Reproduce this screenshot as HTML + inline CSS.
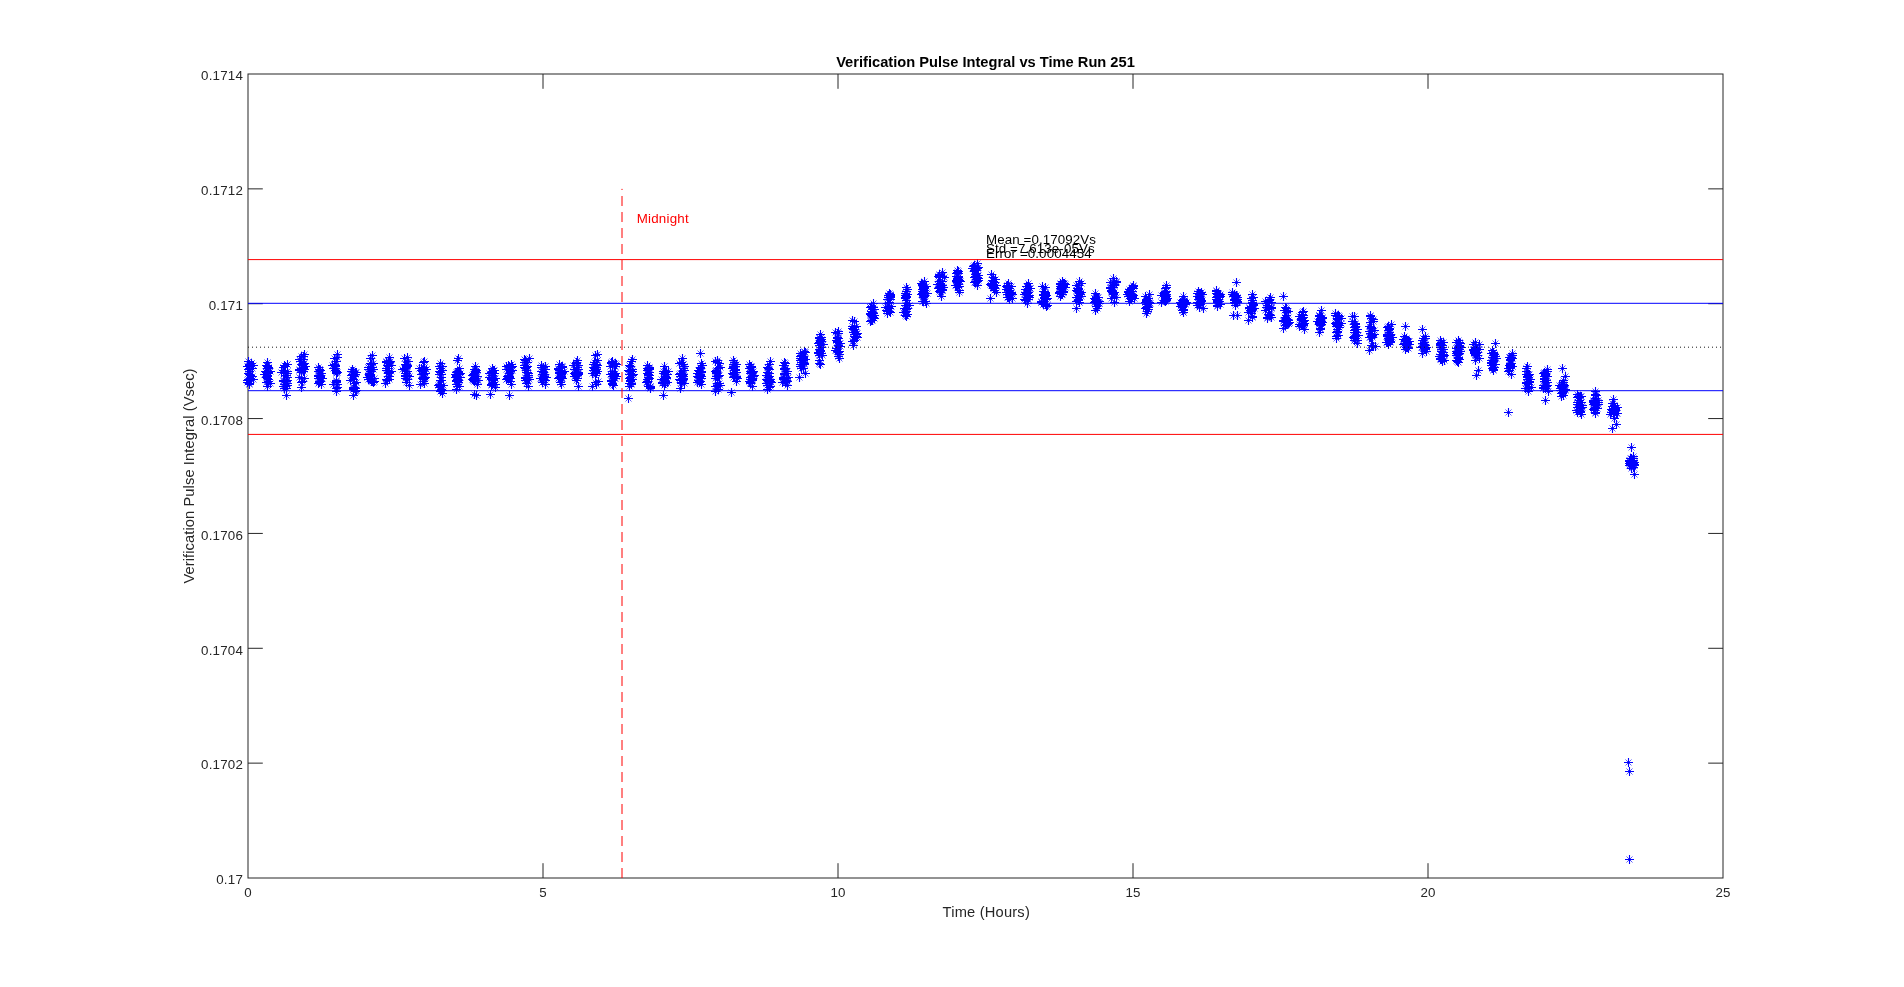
<!DOCTYPE html>
<html><head><meta charset="utf-8"><title>Verification Pulse Integral vs Time Run 251</title>
<style>
html,body{margin:0;padding:0;background:#fff;}
body{width:1904px;height:987px;overflow:hidden;}
svg{display:block;will-change:transform;}
text{font-family:"Liberation Sans",Arial,Helvetica,sans-serif;}
</style></head>
<body>
<svg width="1904" height="987" viewBox="0 0 1904 987">
<rect width="1904" height="987" fill="#fff"/>
<g fill="none" stroke="#262626" stroke-width="1">
<rect x="248" y="74" width="1475" height="804"/>
<path d="M543 878V863.2M543 74V88.8M838 878V863.2M838 74V88.8M1133 878V863.2M1133 74V88.8M1428 878V863.2M1428 74V88.8M248 763.14H262.8M1723 763.14H1708.2M248 648.29H262.8M1723 648.29H1708.2M248 533.43H262.8M1723 533.43H1708.2M248 418.57H262.8M1723 418.57H1708.2M248 303.71H262.8M1723 303.71H1708.2M248 188.86H262.8M1723 188.86H1708.2"/>
</g>
<path d="M245.1 358.1l6.8 6.8m0-6.8l-6.8 6.8M246.1 381.1l6.8 6.8m0-6.8l-6.8 6.8M250.1 362.1l6.8 6.8m0-6.8l-6.8 6.8M248.1 376.1l6.8 6.8m0-6.8l-6.8 6.8M248.1 360.1l6.8 6.8m0-6.8l-6.8 6.8M247.1 372.1l6.8 6.8m0-6.8l-6.8 6.8M246.1 368.1l6.8 6.8m0-6.8l-6.8 6.8M246.1 361.1l6.8 6.8m0-6.8l-6.8 6.8M247.1 376.1l6.8 6.8m0-6.8l-6.8 6.8M245.1 363.1l6.8 6.8m0-6.8l-6.8 6.8M244.1 377.1l6.8 6.8m0-6.8l-6.8 6.8M244.1 379.1l6.8 6.8m0-6.8l-6.8 6.8M245.1 376.1l6.8 6.8m0-6.8l-6.8 6.8M246.1 362.1l6.8 6.8m0-6.8l-6.8 6.8M249.1 365.1l6.8 6.8m0-6.8l-6.8 6.8M245.1 366.1l6.8 6.8m0-6.8l-6.8 6.8M246.1 371.1l6.8 6.8m0-6.8l-6.8 6.8M244.1 363.1l6.8 6.8m0-6.8l-6.8 6.8M248.1 360.1l6.8 6.8m0-6.8l-6.8 6.8M249.1 373.1l6.8 6.8m0-6.8l-6.8 6.8M246.1 365.1l6.8 6.8m0-6.8l-6.8 6.8M247.1 375.1l6.8 6.8m0-6.8l-6.8 6.8M246.1 366.1l6.8 6.8m0-6.8l-6.8 6.8M246.1 380.1l6.8 6.8m0-6.8l-6.8 6.8M245.1 370.1l6.8 6.8m0-6.8l-6.8 6.8M250.1 376.1l6.8 6.8m0-6.8l-6.8 6.8M264.1 359.1l6.8 6.8m0-6.8l-6.8 6.8M264.1 383.1l6.8 6.8m0-6.8l-6.8 6.8M264.1 368.1l6.8 6.8m0-6.8l-6.8 6.8M265.1 370.1l6.8 6.8m0-6.8l-6.8 6.8M264.1 370.1l6.8 6.8m0-6.8l-6.8 6.8M264.1 362.1l6.8 6.8m0-6.8l-6.8 6.8M265.1 376.1l6.8 6.8m0-6.8l-6.8 6.8M264.1 365.1l6.8 6.8m0-6.8l-6.8 6.8M265.1 378.1l6.8 6.8m0-6.8l-6.8 6.8M265.1 369.1l6.8 6.8m0-6.8l-6.8 6.8M267.1 380.1l6.8 6.8m0-6.8l-6.8 6.8M264.1 362.1l6.8 6.8m0-6.8l-6.8 6.8M263.1 369.1l6.8 6.8m0-6.8l-6.8 6.8M263.1 379.1l6.8 6.8m0-6.8l-6.8 6.8M264.1 373.1l6.8 6.8m0-6.8l-6.8 6.8M265.1 365.1l6.8 6.8m0-6.8l-6.8 6.8M263.1 374.1l6.8 6.8m0-6.8l-6.8 6.8M264.1 370.1l6.8 6.8m0-6.8l-6.8 6.8M267.1 368.1l6.8 6.8m0-6.8l-6.8 6.8M261.1 371.1l6.8 6.8m0-6.8l-6.8 6.8M262.1 368.1l6.8 6.8m0-6.8l-6.8 6.8M264.1 363.1l6.8 6.8m0-6.8l-6.8 6.8M264.1 375.1l6.8 6.8m0-6.8l-6.8 6.8M264.1 372.1l6.8 6.8m0-6.8l-6.8 6.8M263.1 362.1l6.8 6.8m0-6.8l-6.8 6.8M265.1 364.1l6.8 6.8m0-6.8l-6.8 6.8M284.1 361.1l6.8 6.8m0-6.8l-6.8 6.8M283.1 392.1l6.8 6.8m0-6.8l-6.8 6.8M284.1 377.1l6.8 6.8m0-6.8l-6.8 6.8M280.1 378.1l6.8 6.8m0-6.8l-6.8 6.8M282.1 383.1l6.8 6.8m0-6.8l-6.8 6.8M280.1 377.1l6.8 6.8m0-6.8l-6.8 6.8M283.1 385.1l6.8 6.8m0-6.8l-6.8 6.8M284.1 374.1l6.8 6.8m0-6.8l-6.8 6.8M280.1 367.1l6.8 6.8m0-6.8l-6.8 6.8M284.1 370.1l6.8 6.8m0-6.8l-6.8 6.8M283.1 378.1l6.8 6.8m0-6.8l-6.8 6.8M281.1 385.1l6.8 6.8m0-6.8l-6.8 6.8M278.1 369.1l6.8 6.8m0-6.8l-6.8 6.8M284.1 382.1l6.8 6.8m0-6.8l-6.8 6.8M281.1 362.1l6.8 6.8m0-6.8l-6.8 6.8M281.1 377.1l6.8 6.8m0-6.8l-6.8 6.8M282.1 363.1l6.8 6.8m0-6.8l-6.8 6.8M282.1 370.1l6.8 6.8m0-6.8l-6.8 6.8M284.1 382.1l6.8 6.8m0-6.8l-6.8 6.8M280.1 383.1l6.8 6.8m0-6.8l-6.8 6.8M283.1 372.1l6.8 6.8m0-6.8l-6.8 6.8M284.1 368.1l6.8 6.8m0-6.8l-6.8 6.8M284.1 380.1l6.8 6.8m0-6.8l-6.8 6.8M281.1 381.1l6.8 6.8m0-6.8l-6.8 6.8M280.1 364.1l6.8 6.8m0-6.8l-6.8 6.8M283.1 378.1l6.8 6.8m0-6.8l-6.8 6.8M284.1 361.1l6.8 6.8m0-6.8l-6.8 6.8M301.1 351.1l6.8 6.8m0-6.8l-6.8 6.8M298.1 384.1l6.8 6.8m0-6.8l-6.8 6.8M298.1 353.1l6.8 6.8m0-6.8l-6.8 6.8M298.1 361.1l6.8 6.8m0-6.8l-6.8 6.8M297.1 358.1l6.8 6.8m0-6.8l-6.8 6.8M299.1 378.1l6.8 6.8m0-6.8l-6.8 6.8M298.1 369.1l6.8 6.8m0-6.8l-6.8 6.8M300.1 360.1l6.8 6.8m0-6.8l-6.8 6.8M296.1 374.1l6.8 6.8m0-6.8l-6.8 6.8M300.1 365.1l6.8 6.8m0-6.8l-6.8 6.8M298.1 379.1l6.8 6.8m0-6.8l-6.8 6.8M296.1 366.1l6.8 6.8m0-6.8l-6.8 6.8M301.1 375.1l6.8 6.8m0-6.8l-6.8 6.8M299.1 362.1l6.8 6.8m0-6.8l-6.8 6.8M296.1 356.1l6.8 6.8m0-6.8l-6.8 6.8M298.1 365.1l6.8 6.8m0-6.8l-6.8 6.8M300.1 353.1l6.8 6.8m0-6.8l-6.8 6.8M299.1 365.1l6.8 6.8m0-6.8l-6.8 6.8M301.1 366.1l6.8 6.8m0-6.8l-6.8 6.8M301.1 360.1l6.8 6.8m0-6.8l-6.8 6.8M300.1 364.1l6.8 6.8m0-6.8l-6.8 6.8M300.1 368.1l6.8 6.8m0-6.8l-6.8 6.8M302.1 363.1l6.8 6.8m0-6.8l-6.8 6.8M300.1 361.1l6.8 6.8m0-6.8l-6.8 6.8M300.1 356.1l6.8 6.8m0-6.8l-6.8 6.8M296.1 367.1l6.8 6.8m0-6.8l-6.8 6.8M315.1 364.1l6.8 6.8m0-6.8l-6.8 6.8M318.1 381.1l6.8 6.8m0-6.8l-6.8 6.8M315.1 375.1l6.8 6.8m0-6.8l-6.8 6.8M316.1 378.1l6.8 6.8m0-6.8l-6.8 6.8M315.1 380.1l6.8 6.8m0-6.8l-6.8 6.8M316.1 378.1l6.8 6.8m0-6.8l-6.8 6.8M316.1 372.1l6.8 6.8m0-6.8l-6.8 6.8M317.1 374.1l6.8 6.8m0-6.8l-6.8 6.8M315.1 373.1l6.8 6.8m0-6.8l-6.8 6.8M315.1 368.1l6.8 6.8m0-6.8l-6.8 6.8M318.1 375.1l6.8 6.8m0-6.8l-6.8 6.8M317.1 373.1l6.8 6.8m0-6.8l-6.8 6.8M316.1 366.1l6.8 6.8m0-6.8l-6.8 6.8M317.1 374.1l6.8 6.8m0-6.8l-6.8 6.8M318.1 370.1l6.8 6.8m0-6.8l-6.8 6.8M316.1 379.1l6.8 6.8m0-6.8l-6.8 6.8M317.1 374.1l6.8 6.8m0-6.8l-6.8 6.8M316.1 366.1l6.8 6.8m0-6.8l-6.8 6.8M317.1 372.1l6.8 6.8m0-6.8l-6.8 6.8M317.1 367.1l6.8 6.8m0-6.8l-6.8 6.8M317.1 378.1l6.8 6.8m0-6.8l-6.8 6.8M315.1 372.1l6.8 6.8m0-6.8l-6.8 6.8M319.1 375.1l6.8 6.8m0-6.8l-6.8 6.8M316.1 372.1l6.8 6.8m0-6.8l-6.8 6.8M318.1 375.1l6.8 6.8m0-6.8l-6.8 6.8M317.1 367.1l6.8 6.8m0-6.8l-6.8 6.8M334.1 351.1l6.8 6.8m0-6.8l-6.8 6.8M333.1 388.1l6.8 6.8m0-6.8l-6.8 6.8M331.1 361.1l6.8 6.8m0-6.8l-6.8 6.8M333.1 377.1l6.8 6.8m0-6.8l-6.8 6.8M333.1 378.1l6.8 6.8m0-6.8l-6.8 6.8M334.1 369.1l6.8 6.8m0-6.8l-6.8 6.8M334.1 384.1l6.8 6.8m0-6.8l-6.8 6.8M333.1 369.1l6.8 6.8m0-6.8l-6.8 6.8M334.1 381.1l6.8 6.8m0-6.8l-6.8 6.8M333.1 370.1l6.8 6.8m0-6.8l-6.8 6.8M333.1 379.1l6.8 6.8m0-6.8l-6.8 6.8M333.1 368.1l6.8 6.8m0-6.8l-6.8 6.8M332.1 363.1l6.8 6.8m0-6.8l-6.8 6.8M334.1 354.1l6.8 6.8m0-6.8l-6.8 6.8M331.1 355.1l6.8 6.8m0-6.8l-6.8 6.8M331.1 362.1l6.8 6.8m0-6.8l-6.8 6.8M333.1 358.1l6.8 6.8m0-6.8l-6.8 6.8M330.1 381.1l6.8 6.8m0-6.8l-6.8 6.8M332.1 365.1l6.8 6.8m0-6.8l-6.8 6.8M329.1 362.1l6.8 6.8m0-6.8l-6.8 6.8M331.1 362.1l6.8 6.8m0-6.8l-6.8 6.8M333.1 368.1l6.8 6.8m0-6.8l-6.8 6.8M333.1 385.1l6.8 6.8m0-6.8l-6.8 6.8M332.1 362.1l6.8 6.8m0-6.8l-6.8 6.8M332.1 367.1l6.8 6.8m0-6.8l-6.8 6.8M330.1 365.1l6.8 6.8m0-6.8l-6.8 6.8M349.1 366.1l6.8 6.8m0-6.8l-6.8 6.8M350.1 392.1l6.8 6.8m0-6.8l-6.8 6.8M353.1 387.1l6.8 6.8m0-6.8l-6.8 6.8M349.1 371.1l6.8 6.8m0-6.8l-6.8 6.8M352.1 371.1l6.8 6.8m0-6.8l-6.8 6.8M351.1 380.1l6.8 6.8m0-6.8l-6.8 6.8M350.1 386.1l6.8 6.8m0-6.8l-6.8 6.8M350.1 368.1l6.8 6.8m0-6.8l-6.8 6.8M352.1 388.1l6.8 6.8m0-6.8l-6.8 6.8M349.1 372.1l6.8 6.8m0-6.8l-6.8 6.8M348.1 368.1l6.8 6.8m0-6.8l-6.8 6.8M350.1 376.1l6.8 6.8m0-6.8l-6.8 6.8M352.1 387.1l6.8 6.8m0-6.8l-6.8 6.8M348.1 372.1l6.8 6.8m0-6.8l-6.8 6.8M350.1 372.1l6.8 6.8m0-6.8l-6.8 6.8M353.1 379.1l6.8 6.8m0-6.8l-6.8 6.8M352.1 369.1l6.8 6.8m0-6.8l-6.8 6.8M351.1 384.1l6.8 6.8m0-6.8l-6.8 6.8M353.1 369.1l6.8 6.8m0-6.8l-6.8 6.8M350.1 384.1l6.8 6.8m0-6.8l-6.8 6.8M350.1 385.1l6.8 6.8m0-6.8l-6.8 6.8M347.1 377.1l6.8 6.8m0-6.8l-6.8 6.8M351.1 373.1l6.8 6.8m0-6.8l-6.8 6.8M352.1 385.1l6.8 6.8m0-6.8l-6.8 6.8M350.1 371.1l6.8 6.8m0-6.8l-6.8 6.8M350.1 371.1l6.8 6.8m0-6.8l-6.8 6.8M369.1 352.1l6.8 6.8m0-6.8l-6.8 6.8M370.1 379.1l6.8 6.8m0-6.8l-6.8 6.8M366.1 371.1l6.8 6.8m0-6.8l-6.8 6.8M368.1 368.1l6.8 6.8m0-6.8l-6.8 6.8M365.1 366.1l6.8 6.8m0-6.8l-6.8 6.8M371.1 375.1l6.8 6.8m0-6.8l-6.8 6.8M365.1 376.1l6.8 6.8m0-6.8l-6.8 6.8M365.1 364.1l6.8 6.8m0-6.8l-6.8 6.8M367.1 360.1l6.8 6.8m0-6.8l-6.8 6.8M370.1 366.1l6.8 6.8m0-6.8l-6.8 6.8M368.1 366.1l6.8 6.8m0-6.8l-6.8 6.8M365.1 364.1l6.8 6.8m0-6.8l-6.8 6.8M368.1 361.1l6.8 6.8m0-6.8l-6.8 6.8M366.1 370.1l6.8 6.8m0-6.8l-6.8 6.8M366.1 372.1l6.8 6.8m0-6.8l-6.8 6.8M371.1 378.1l6.8 6.8m0-6.8l-6.8 6.8M368.1 378.1l6.8 6.8m0-6.8l-6.8 6.8M369.1 364.1l6.8 6.8m0-6.8l-6.8 6.8M369.1 378.1l6.8 6.8m0-6.8l-6.8 6.8M367.1 373.1l6.8 6.8m0-6.8l-6.8 6.8M368.1 364.1l6.8 6.8m0-6.8l-6.8 6.8M367.1 355.1l6.8 6.8m0-6.8l-6.8 6.8M364.1 374.1l6.8 6.8m0-6.8l-6.8 6.8M367.1 376.1l6.8 6.8m0-6.8l-6.8 6.8M370.1 360.1l6.8 6.8m0-6.8l-6.8 6.8M367.1 368.1l6.8 6.8m0-6.8l-6.8 6.8M386.1 354.1l6.8 6.8m0-6.8l-6.8 6.8M382.1 380.1l6.8 6.8m0-6.8l-6.8 6.8M386.1 359.1l6.8 6.8m0-6.8l-6.8 6.8M385.1 360.1l6.8 6.8m0-6.8l-6.8 6.8M386.1 376.1l6.8 6.8m0-6.8l-6.8 6.8M385.1 370.1l6.8 6.8m0-6.8l-6.8 6.8M383.1 359.1l6.8 6.8m0-6.8l-6.8 6.8M385.1 358.1l6.8 6.8m0-6.8l-6.8 6.8M387.1 358.1l6.8 6.8m0-6.8l-6.8 6.8M384.1 362.1l6.8 6.8m0-6.8l-6.8 6.8M383.1 376.1l6.8 6.8m0-6.8l-6.8 6.8M383.1 365.1l6.8 6.8m0-6.8l-6.8 6.8M383.1 359.1l6.8 6.8m0-6.8l-6.8 6.8M385.1 363.1l6.8 6.8m0-6.8l-6.8 6.8M388.1 362.1l6.8 6.8m0-6.8l-6.8 6.8M386.1 373.1l6.8 6.8m0-6.8l-6.8 6.8M385.1 373.1l6.8 6.8m0-6.8l-6.8 6.8M388.1 368.1l6.8 6.8m0-6.8l-6.8 6.8M384.1 365.1l6.8 6.8m0-6.8l-6.8 6.8M384.1 377.1l6.8 6.8m0-6.8l-6.8 6.8M386.1 373.1l6.8 6.8m0-6.8l-6.8 6.8M386.1 369.1l6.8 6.8m0-6.8l-6.8 6.8M383.1 367.1l6.8 6.8m0-6.8l-6.8 6.8M383.1 358.1l6.8 6.8m0-6.8l-6.8 6.8M385.1 365.1l6.8 6.8m0-6.8l-6.8 6.8M385.1 369.1l6.8 6.8m0-6.8l-6.8 6.8M404.1 354.1l6.8 6.8m0-6.8l-6.8 6.8M406.1 382.1l6.8 6.8m0-6.8l-6.8 6.8M403.1 361.1l6.8 6.8m0-6.8l-6.8 6.8M403.1 370.1l6.8 6.8m0-6.8l-6.8 6.8M404.1 363.1l6.8 6.8m0-6.8l-6.8 6.8M403.1 364.1l6.8 6.8m0-6.8l-6.8 6.8M405.1 358.1l6.8 6.8m0-6.8l-6.8 6.8M401.1 355.1l6.8 6.8m0-6.8l-6.8 6.8M402.1 361.1l6.8 6.8m0-6.8l-6.8 6.8M399.1 366.1l6.8 6.8m0-6.8l-6.8 6.8M404.1 368.1l6.8 6.8m0-6.8l-6.8 6.8M402.1 361.1l6.8 6.8m0-6.8l-6.8 6.8M404.1 362.1l6.8 6.8m0-6.8l-6.8 6.8M406.1 373.1l6.8 6.8m0-6.8l-6.8 6.8M403.1 364.1l6.8 6.8m0-6.8l-6.8 6.8M402.1 372.1l6.8 6.8m0-6.8l-6.8 6.8M402.1 375.1l6.8 6.8m0-6.8l-6.8 6.8M401.1 365.1l6.8 6.8m0-6.8l-6.8 6.8M402.1 373.1l6.8 6.8m0-6.8l-6.8 6.8M404.1 376.1l6.8 6.8m0-6.8l-6.8 6.8M403.1 361.1l6.8 6.8m0-6.8l-6.8 6.8M403.1 379.1l6.8 6.8m0-6.8l-6.8 6.8M402.1 370.1l6.8 6.8m0-6.8l-6.8 6.8M404.1 372.1l6.8 6.8m0-6.8l-6.8 6.8M403.1 373.1l6.8 6.8m0-6.8l-6.8 6.8M402.1 365.1l6.8 6.8m0-6.8l-6.8 6.8M421.1 358.1l6.8 6.8m0-6.8l-6.8 6.8M417.1 381.1l6.8 6.8m0-6.8l-6.8 6.8M418.1 371.1l6.8 6.8m0-6.8l-6.8 6.8M419.1 375.1l6.8 6.8m0-6.8l-6.8 6.8M419.1 367.1l6.8 6.8m0-6.8l-6.8 6.8M421.1 370.1l6.8 6.8m0-6.8l-6.8 6.8M420.1 378.1l6.8 6.8m0-6.8l-6.8 6.8M419.1 367.1l6.8 6.8m0-6.8l-6.8 6.8M420.1 376.1l6.8 6.8m0-6.8l-6.8 6.8M422.1 370.1l6.8 6.8m0-6.8l-6.8 6.8M420.1 371.1l6.8 6.8m0-6.8l-6.8 6.8M420.1 378.1l6.8 6.8m0-6.8l-6.8 6.8M422.1 374.1l6.8 6.8m0-6.8l-6.8 6.8M420.1 370.1l6.8 6.8m0-6.8l-6.8 6.8M418.1 365.1l6.8 6.8m0-6.8l-6.8 6.8M423.1 366.1l6.8 6.8m0-6.8l-6.8 6.8M423.1 366.1l6.8 6.8m0-6.8l-6.8 6.8M416.1 365.1l6.8 6.8m0-6.8l-6.8 6.8M420.1 374.1l6.8 6.8m0-6.8l-6.8 6.8M420.1 359.1l6.8 6.8m0-6.8l-6.8 6.8M421.1 364.1l6.8 6.8m0-6.8l-6.8 6.8M421.1 375.1l6.8 6.8m0-6.8l-6.8 6.8M419.1 368.1l6.8 6.8m0-6.8l-6.8 6.8M418.1 367.1l6.8 6.8m0-6.8l-6.8 6.8M420.1 374.1l6.8 6.8m0-6.8l-6.8 6.8M421.1 380.1l6.8 6.8m0-6.8l-6.8 6.8M437.1 360.1l6.8 6.8m0-6.8l-6.8 6.8M439.1 390.1l6.8 6.8m0-6.8l-6.8 6.8M437.1 369.1l6.8 6.8m0-6.8l-6.8 6.8M436.1 363.1l6.8 6.8m0-6.8l-6.8 6.8M439.1 387.1l6.8 6.8m0-6.8l-6.8 6.8M437.1 377.1l6.8 6.8m0-6.8l-6.8 6.8M437.1 381.1l6.8 6.8m0-6.8l-6.8 6.8M436.1 368.1l6.8 6.8m0-6.8l-6.8 6.8M437.1 365.1l6.8 6.8m0-6.8l-6.8 6.8M438.1 386.1l6.8 6.8m0-6.8l-6.8 6.8M438.1 371.1l6.8 6.8m0-6.8l-6.8 6.8M435.1 382.1l6.8 6.8m0-6.8l-6.8 6.8M438.1 377.1l6.8 6.8m0-6.8l-6.8 6.8M437.1 383.1l6.8 6.8m0-6.8l-6.8 6.8M436.1 381.1l6.8 6.8m0-6.8l-6.8 6.8M438.1 377.1l6.8 6.8m0-6.8l-6.8 6.8M437.1 365.1l6.8 6.8m0-6.8l-6.8 6.8M437.1 388.1l6.8 6.8m0-6.8l-6.8 6.8M438.1 374.1l6.8 6.8m0-6.8l-6.8 6.8M439.1 363.1l6.8 6.8m0-6.8l-6.8 6.8M436.1 368.1l6.8 6.8m0-6.8l-6.8 6.8M438.1 387.1l6.8 6.8m0-6.8l-6.8 6.8M436.1 384.1l6.8 6.8m0-6.8l-6.8 6.8M440.1 382.1l6.8 6.8m0-6.8l-6.8 6.8M436.1 371.1l6.8 6.8m0-6.8l-6.8 6.8M439.1 367.1l6.8 6.8m0-6.8l-6.8 6.8M455.1 355.1l6.8 6.8m0-6.8l-6.8 6.8M453.1 386.1l6.8 6.8m0-6.8l-6.8 6.8M455.1 368.1l6.8 6.8m0-6.8l-6.8 6.8M454.1 378.1l6.8 6.8m0-6.8l-6.8 6.8M455.1 377.1l6.8 6.8m0-6.8l-6.8 6.8M454.1 357.1l6.8 6.8m0-6.8l-6.8 6.8M457.1 370.1l6.8 6.8m0-6.8l-6.8 6.8M455.1 379.1l6.8 6.8m0-6.8l-6.8 6.8M454.1 381.1l6.8 6.8m0-6.8l-6.8 6.8M452.1 371.1l6.8 6.8m0-6.8l-6.8 6.8M453.1 372.1l6.8 6.8m0-6.8l-6.8 6.8M457.1 374.1l6.8 6.8m0-6.8l-6.8 6.8M455.1 369.1l6.8 6.8m0-6.8l-6.8 6.8M456.1 371.1l6.8 6.8m0-6.8l-6.8 6.8M456.1 365.1l6.8 6.8m0-6.8l-6.8 6.8M452.1 374.1l6.8 6.8m0-6.8l-6.8 6.8M454.1 369.1l6.8 6.8m0-6.8l-6.8 6.8M454.1 376.1l6.8 6.8m0-6.8l-6.8 6.8M456.1 383.1l6.8 6.8m0-6.8l-6.8 6.8M453.1 369.1l6.8 6.8m0-6.8l-6.8 6.8M453.1 381.1l6.8 6.8m0-6.8l-6.8 6.8M453.1 377.1l6.8 6.8m0-6.8l-6.8 6.8M453.1 378.1l6.8 6.8m0-6.8l-6.8 6.8M454.1 368.1l6.8 6.8m0-6.8l-6.8 6.8M454.1 383.1l6.8 6.8m0-6.8l-6.8 6.8M453.1 373.1l6.8 6.8m0-6.8l-6.8 6.8M472.1 363.1l6.8 6.8m0-6.8l-6.8 6.8M474.1 381.1l6.8 6.8m0-6.8l-6.8 6.8M471.1 376.1l6.8 6.8m0-6.8l-6.8 6.8M472.1 368.1l6.8 6.8m0-6.8l-6.8 6.8M471.1 374.1l6.8 6.8m0-6.8l-6.8 6.8M472.1 366.1l6.8 6.8m0-6.8l-6.8 6.8M471.1 366.1l6.8 6.8m0-6.8l-6.8 6.8M469.1 372.1l6.8 6.8m0-6.8l-6.8 6.8M471.1 374.1l6.8 6.8m0-6.8l-6.8 6.8M470.1 375.1l6.8 6.8m0-6.8l-6.8 6.8M474.1 377.1l6.8 6.8m0-6.8l-6.8 6.8M470.1 377.1l6.8 6.8m0-6.8l-6.8 6.8M471.1 378.1l6.8 6.8m0-6.8l-6.8 6.8M472.1 377.1l6.8 6.8m0-6.8l-6.8 6.8M471.1 374.1l6.8 6.8m0-6.8l-6.8 6.8M474.1 373.1l6.8 6.8m0-6.8l-6.8 6.8M472.1 369.1l6.8 6.8m0-6.8l-6.8 6.8M469.1 376.1l6.8 6.8m0-6.8l-6.8 6.8M473.1 369.1l6.8 6.8m0-6.8l-6.8 6.8M471.1 370.1l6.8 6.8m0-6.8l-6.8 6.8M475.1 377.1l6.8 6.8m0-6.8l-6.8 6.8M470.1 376.1l6.8 6.8m0-6.8l-6.8 6.8M471.1 372.1l6.8 6.8m0-6.8l-6.8 6.8M472.1 368.1l6.8 6.8m0-6.8l-6.8 6.8M470.1 371.1l6.8 6.8m0-6.8l-6.8 6.8M473.1 367.1l6.8 6.8m0-6.8l-6.8 6.8M471.1 391.1l6.8 6.8m0-6.8l-6.8 6.8M473.1 392.1l6.8 6.8m0-6.8l-6.8 6.8M489.1 365.1l6.8 6.8m0-6.8l-6.8 6.8M492.1 384.1l6.8 6.8m0-6.8l-6.8 6.8M490.1 379.1l6.8 6.8m0-6.8l-6.8 6.8M489.1 377.1l6.8 6.8m0-6.8l-6.8 6.8M488.1 382.1l6.8 6.8m0-6.8l-6.8 6.8M489.1 372.1l6.8 6.8m0-6.8l-6.8 6.8M491.1 367.1l6.8 6.8m0-6.8l-6.8 6.8M490.1 376.1l6.8 6.8m0-6.8l-6.8 6.8M491.1 375.1l6.8 6.8m0-6.8l-6.8 6.8M489.1 370.1l6.8 6.8m0-6.8l-6.8 6.8M489.1 370.1l6.8 6.8m0-6.8l-6.8 6.8M488.1 375.1l6.8 6.8m0-6.8l-6.8 6.8M489.1 368.1l6.8 6.8m0-6.8l-6.8 6.8M491.1 370.1l6.8 6.8m0-6.8l-6.8 6.8M486.1 374.1l6.8 6.8m0-6.8l-6.8 6.8M488.1 376.1l6.8 6.8m0-6.8l-6.8 6.8M489.1 381.1l6.8 6.8m0-6.8l-6.8 6.8M488.1 381.1l6.8 6.8m0-6.8l-6.8 6.8M488.1 369.1l6.8 6.8m0-6.8l-6.8 6.8M490.1 377.1l6.8 6.8m0-6.8l-6.8 6.8M492.1 375.1l6.8 6.8m0-6.8l-6.8 6.8M490.1 367.1l6.8 6.8m0-6.8l-6.8 6.8M489.1 369.1l6.8 6.8m0-6.8l-6.8 6.8M486.1 370.1l6.8 6.8m0-6.8l-6.8 6.8M492.1 381.1l6.8 6.8m0-6.8l-6.8 6.8M489.1 380.1l6.8 6.8m0-6.8l-6.8 6.8M487.1 391.1l6.8 6.8m0-6.8l-6.8 6.8M508.1 361.1l6.8 6.8m0-6.8l-6.8 6.8M508.1 381.1l6.8 6.8m0-6.8l-6.8 6.8M505.1 362.1l6.8 6.8m0-6.8l-6.8 6.8M506.1 373.1l6.8 6.8m0-6.8l-6.8 6.8M506.1 364.1l6.8 6.8m0-6.8l-6.8 6.8M506.1 363.1l6.8 6.8m0-6.8l-6.8 6.8M505.1 375.1l6.8 6.8m0-6.8l-6.8 6.8M503.1 376.1l6.8 6.8m0-6.8l-6.8 6.8M505.1 372.1l6.8 6.8m0-6.8l-6.8 6.8M503.1 376.1l6.8 6.8m0-6.8l-6.8 6.8M508.1 364.1l6.8 6.8m0-6.8l-6.8 6.8M506.1 373.1l6.8 6.8m0-6.8l-6.8 6.8M504.1 373.1l6.8 6.8m0-6.8l-6.8 6.8M508.1 367.1l6.8 6.8m0-6.8l-6.8 6.8M507.1 375.1l6.8 6.8m0-6.8l-6.8 6.8M503.1 366.1l6.8 6.8m0-6.8l-6.8 6.8M509.1 367.1l6.8 6.8m0-6.8l-6.8 6.8M507.1 368.1l6.8 6.8m0-6.8l-6.8 6.8M509.1 363.1l6.8 6.8m0-6.8l-6.8 6.8M504.1 375.1l6.8 6.8m0-6.8l-6.8 6.8M506.1 364.1l6.8 6.8m0-6.8l-6.8 6.8M506.1 375.1l6.8 6.8m0-6.8l-6.8 6.8M506.1 370.1l6.8 6.8m0-6.8l-6.8 6.8M506.1 374.1l6.8 6.8m0-6.8l-6.8 6.8M507.1 378.1l6.8 6.8m0-6.8l-6.8 6.8M503.1 363.1l6.8 6.8m0-6.8l-6.8 6.8M506.1 392.1l6.8 6.8m0-6.8l-6.8 6.8M526.1 355.1l6.8 6.8m0-6.8l-6.8 6.8M525.1 383.1l6.8 6.8m0-6.8l-6.8 6.8M522.1 374.1l6.8 6.8m0-6.8l-6.8 6.8M521.1 359.1l6.8 6.8m0-6.8l-6.8 6.8M522.1 375.1l6.8 6.8m0-6.8l-6.8 6.8M522.1 364.1l6.8 6.8m0-6.8l-6.8 6.8M522.1 357.1l6.8 6.8m0-6.8l-6.8 6.8M524.1 363.1l6.8 6.8m0-6.8l-6.8 6.8M524.1 359.1l6.8 6.8m0-6.8l-6.8 6.8M523.1 364.1l6.8 6.8m0-6.8l-6.8 6.8M524.1 369.1l6.8 6.8m0-6.8l-6.8 6.8M523.1 367.1l6.8 6.8m0-6.8l-6.8 6.8M524.1 376.1l6.8 6.8m0-6.8l-6.8 6.8M525.1 374.1l6.8 6.8m0-6.8l-6.8 6.8M525.1 372.1l6.8 6.8m0-6.8l-6.8 6.8M522.1 377.1l6.8 6.8m0-6.8l-6.8 6.8M521.1 356.1l6.8 6.8m0-6.8l-6.8 6.8M526.1 376.1l6.8 6.8m0-6.8l-6.8 6.8M523.1 369.1l6.8 6.8m0-6.8l-6.8 6.8M525.1 370.1l6.8 6.8m0-6.8l-6.8 6.8M521.1 364.1l6.8 6.8m0-6.8l-6.8 6.8M523.1 377.1l6.8 6.8m0-6.8l-6.8 6.8M523.1 380.1l6.8 6.8m0-6.8l-6.8 6.8M521.1 362.1l6.8 6.8m0-6.8l-6.8 6.8M522.1 365.1l6.8 6.8m0-6.8l-6.8 6.8M524.1 369.1l6.8 6.8m0-6.8l-6.8 6.8M538.1 362.1l6.8 6.8m0-6.8l-6.8 6.8M542.1 381.1l6.8 6.8m0-6.8l-6.8 6.8M542.1 377.1l6.8 6.8m0-6.8l-6.8 6.8M540.1 371.1l6.8 6.8m0-6.8l-6.8 6.8M538.1 375.1l6.8 6.8m0-6.8l-6.8 6.8M539.1 368.1l6.8 6.8m0-6.8l-6.8 6.8M540.1 371.1l6.8 6.8m0-6.8l-6.8 6.8M541.1 371.1l6.8 6.8m0-6.8l-6.8 6.8M540.1 374.1l6.8 6.8m0-6.8l-6.8 6.8M537.1 375.1l6.8 6.8m0-6.8l-6.8 6.8M541.1 366.1l6.8 6.8m0-6.8l-6.8 6.8M538.1 368.1l6.8 6.8m0-6.8l-6.8 6.8M542.1 374.1l6.8 6.8m0-6.8l-6.8 6.8M539.1 379.1l6.8 6.8m0-6.8l-6.8 6.8M539.1 375.1l6.8 6.8m0-6.8l-6.8 6.8M539.1 379.1l6.8 6.8m0-6.8l-6.8 6.8M540.1 369.1l6.8 6.8m0-6.8l-6.8 6.8M543.1 374.1l6.8 6.8m0-6.8l-6.8 6.8M542.1 366.1l6.8 6.8m0-6.8l-6.8 6.8M542.1 363.1l6.8 6.8m0-6.8l-6.8 6.8M541.1 366.1l6.8 6.8m0-6.8l-6.8 6.8M538.1 364.1l6.8 6.8m0-6.8l-6.8 6.8M540.1 376.1l6.8 6.8m0-6.8l-6.8 6.8M540.1 364.1l6.8 6.8m0-6.8l-6.8 6.8M539.1 371.1l6.8 6.8m0-6.8l-6.8 6.8M541.1 373.1l6.8 6.8m0-6.8l-6.8 6.8M556.1 361.1l6.8 6.8m0-6.8l-6.8 6.8M558.1 381.1l6.8 6.8m0-6.8l-6.8 6.8M559.1 363.1l6.8 6.8m0-6.8l-6.8 6.8M559.1 375.1l6.8 6.8m0-6.8l-6.8 6.8M558.1 373.1l6.8 6.8m0-6.8l-6.8 6.8M555.1 366.1l6.8 6.8m0-6.8l-6.8 6.8M555.1 375.1l6.8 6.8m0-6.8l-6.8 6.8M558.1 371.1l6.8 6.8m0-6.8l-6.8 6.8M558.1 375.1l6.8 6.8m0-6.8l-6.8 6.8M561.1 368.1l6.8 6.8m0-6.8l-6.8 6.8M556.1 370.1l6.8 6.8m0-6.8l-6.8 6.8M559.1 369.1l6.8 6.8m0-6.8l-6.8 6.8M559.1 364.1l6.8 6.8m0-6.8l-6.8 6.8M555.1 365.1l6.8 6.8m0-6.8l-6.8 6.8M556.1 370.1l6.8 6.8m0-6.8l-6.8 6.8M558.1 374.1l6.8 6.8m0-6.8l-6.8 6.8M557.1 375.1l6.8 6.8m0-6.8l-6.8 6.8M557.1 379.1l6.8 6.8m0-6.8l-6.8 6.8M558.1 363.1l6.8 6.8m0-6.8l-6.8 6.8M556.1 369.1l6.8 6.8m0-6.8l-6.8 6.8M558.1 369.1l6.8 6.8m0-6.8l-6.8 6.8M556.1 374.1l6.8 6.8m0-6.8l-6.8 6.8M556.1 367.1l6.8 6.8m0-6.8l-6.8 6.8M558.1 375.1l6.8 6.8m0-6.8l-6.8 6.8M556.1 367.1l6.8 6.8m0-6.8l-6.8 6.8M558.1 370.1l6.8 6.8m0-6.8l-6.8 6.8M574.1 357.1l6.8 6.8m0-6.8l-6.8 6.8M575.1 383.1l6.8 6.8m0-6.8l-6.8 6.8M574.1 375.1l6.8 6.8m0-6.8l-6.8 6.8M574.1 364.1l6.8 6.8m0-6.8l-6.8 6.8M575.1 369.1l6.8 6.8m0-6.8l-6.8 6.8M571.1 373.1l6.8 6.8m0-6.8l-6.8 6.8M573.1 359.1l6.8 6.8m0-6.8l-6.8 6.8M573.1 377.1l6.8 6.8m0-6.8l-6.8 6.8M573.1 371.1l6.8 6.8m0-6.8l-6.8 6.8M574.1 366.1l6.8 6.8m0-6.8l-6.8 6.8M572.1 371.1l6.8 6.8m0-6.8l-6.8 6.8M571.1 370.1l6.8 6.8m0-6.8l-6.8 6.8M572.1 370.1l6.8 6.8m0-6.8l-6.8 6.8M574.1 364.1l6.8 6.8m0-6.8l-6.8 6.8M572.1 373.1l6.8 6.8m0-6.8l-6.8 6.8M570.1 362.1l6.8 6.8m0-6.8l-6.8 6.8M575.1 371.1l6.8 6.8m0-6.8l-6.8 6.8M575.1 366.1l6.8 6.8m0-6.8l-6.8 6.8M574.1 372.1l6.8 6.8m0-6.8l-6.8 6.8M573.1 360.1l6.8 6.8m0-6.8l-6.8 6.8M573.1 372.1l6.8 6.8m0-6.8l-6.8 6.8M571.1 366.1l6.8 6.8m0-6.8l-6.8 6.8M572.1 369.1l6.8 6.8m0-6.8l-6.8 6.8M575.1 362.1l6.8 6.8m0-6.8l-6.8 6.8M573.1 369.1l6.8 6.8m0-6.8l-6.8 6.8M575.1 370.1l6.8 6.8m0-6.8l-6.8 6.8M594.1 351.1l6.8 6.8m0-6.8l-6.8 6.8M589.1 383.1l6.8 6.8m0-6.8l-6.8 6.8M593.1 366.1l6.8 6.8m0-6.8l-6.8 6.8M593.1 381.1l6.8 6.8m0-6.8l-6.8 6.8M593.1 370.1l6.8 6.8m0-6.8l-6.8 6.8M595.1 378.1l6.8 6.8m0-6.8l-6.8 6.8M593.1 366.1l6.8 6.8m0-6.8l-6.8 6.8M594.1 368.1l6.8 6.8m0-6.8l-6.8 6.8M591.1 365.1l6.8 6.8m0-6.8l-6.8 6.8M590.1 361.1l6.8 6.8m0-6.8l-6.8 6.8M594.1 362.1l6.8 6.8m0-6.8l-6.8 6.8M592.1 367.1l6.8 6.8m0-6.8l-6.8 6.8M590.1 367.1l6.8 6.8m0-6.8l-6.8 6.8M592.1 369.1l6.8 6.8m0-6.8l-6.8 6.8M593.1 361.1l6.8 6.8m0-6.8l-6.8 6.8M591.1 359.1l6.8 6.8m0-6.8l-6.8 6.8M593.1 368.1l6.8 6.8m0-6.8l-6.8 6.8M590.1 364.1l6.8 6.8m0-6.8l-6.8 6.8M593.1 364.1l6.8 6.8m0-6.8l-6.8 6.8M592.1 352.1l6.8 6.8m0-6.8l-6.8 6.8M592.1 379.1l6.8 6.8m0-6.8l-6.8 6.8M592.1 366.1l6.8 6.8m0-6.8l-6.8 6.8M592.1 372.1l6.8 6.8m0-6.8l-6.8 6.8M594.1 357.1l6.8 6.8m0-6.8l-6.8 6.8M594.1 357.1l6.8 6.8m0-6.8l-6.8 6.8M589.1 370.1l6.8 6.8m0-6.8l-6.8 6.8M609.1 358.1l6.8 6.8m0-6.8l-6.8 6.8M610.1 382.1l6.8 6.8m0-6.8l-6.8 6.8M608.1 360.1l6.8 6.8m0-6.8l-6.8 6.8M611.1 372.1l6.8 6.8m0-6.8l-6.8 6.8M607.1 363.1l6.8 6.8m0-6.8l-6.8 6.8M611.1 363.1l6.8 6.8m0-6.8l-6.8 6.8M611.1 373.1l6.8 6.8m0-6.8l-6.8 6.8M612.1 363.1l6.8 6.8m0-6.8l-6.8 6.8M608.1 359.1l6.8 6.8m0-6.8l-6.8 6.8M611.1 371.1l6.8 6.8m0-6.8l-6.8 6.8M609.1 380.1l6.8 6.8m0-6.8l-6.8 6.8M608.1 378.1l6.8 6.8m0-6.8l-6.8 6.8M608.1 360.1l6.8 6.8m0-6.8l-6.8 6.8M612.1 370.1l6.8 6.8m0-6.8l-6.8 6.8M612.1 360.1l6.8 6.8m0-6.8l-6.8 6.8M609.1 381.1l6.8 6.8m0-6.8l-6.8 6.8M608.1 377.1l6.8 6.8m0-6.8l-6.8 6.8M609.1 373.1l6.8 6.8m0-6.8l-6.8 6.8M613.1 361.1l6.8 6.8m0-6.8l-6.8 6.8M611.1 375.1l6.8 6.8m0-6.8l-6.8 6.8M609.1 368.1l6.8 6.8m0-6.8l-6.8 6.8M607.1 371.1l6.8 6.8m0-6.8l-6.8 6.8M609.1 370.1l6.8 6.8m0-6.8l-6.8 6.8M612.1 375.1l6.8 6.8m0-6.8l-6.8 6.8M613.1 373.1l6.8 6.8m0-6.8l-6.8 6.8M609.1 377.1l6.8 6.8m0-6.8l-6.8 6.8M629.1 356.1l6.8 6.8m0-6.8l-6.8 6.8M626.1 383.1l6.8 6.8m0-6.8l-6.8 6.8M625.1 367.1l6.8 6.8m0-6.8l-6.8 6.8M627.1 377.1l6.8 6.8m0-6.8l-6.8 6.8M627.1 374.1l6.8 6.8m0-6.8l-6.8 6.8M628.1 381.1l6.8 6.8m0-6.8l-6.8 6.8M628.1 358.1l6.8 6.8m0-6.8l-6.8 6.8M629.1 368.1l6.8 6.8m0-6.8l-6.8 6.8M626.1 362.1l6.8 6.8m0-6.8l-6.8 6.8M629.1 372.1l6.8 6.8m0-6.8l-6.8 6.8M626.1 368.1l6.8 6.8m0-6.8l-6.8 6.8M628.1 376.1l6.8 6.8m0-6.8l-6.8 6.8M627.1 378.1l6.8 6.8m0-6.8l-6.8 6.8M627.1 363.1l6.8 6.8m0-6.8l-6.8 6.8M629.1 376.1l6.8 6.8m0-6.8l-6.8 6.8M627.1 371.1l6.8 6.8m0-6.8l-6.8 6.8M629.1 366.1l6.8 6.8m0-6.8l-6.8 6.8M629.1 376.1l6.8 6.8m0-6.8l-6.8 6.8M627.1 371.1l6.8 6.8m0-6.8l-6.8 6.8M626.1 380.1l6.8 6.8m0-6.8l-6.8 6.8M626.1 371.1l6.8 6.8m0-6.8l-6.8 6.8M626.1 375.1l6.8 6.8m0-6.8l-6.8 6.8M627.1 367.1l6.8 6.8m0-6.8l-6.8 6.8M627.1 371.1l6.8 6.8m0-6.8l-6.8 6.8M630.1 371.1l6.8 6.8m0-6.8l-6.8 6.8M628.1 380.1l6.8 6.8m0-6.8l-6.8 6.8M625.1 395.1l6.8 6.8m0-6.8l-6.8 6.8M644.1 362.1l6.8 6.8m0-6.8l-6.8 6.8M647.1 385.1l6.8 6.8m0-6.8l-6.8 6.8M644.1 365.1l6.8 6.8m0-6.8l-6.8 6.8M644.1 379.1l6.8 6.8m0-6.8l-6.8 6.8M647.1 383.1l6.8 6.8m0-6.8l-6.8 6.8M645.1 374.1l6.8 6.8m0-6.8l-6.8 6.8M644.1 378.1l6.8 6.8m0-6.8l-6.8 6.8M644.1 367.1l6.8 6.8m0-6.8l-6.8 6.8M646.1 365.1l6.8 6.8m0-6.8l-6.8 6.8M646.1 375.1l6.8 6.8m0-6.8l-6.8 6.8M646.1 372.1l6.8 6.8m0-6.8l-6.8 6.8M645.1 376.1l6.8 6.8m0-6.8l-6.8 6.8M646.1 366.1l6.8 6.8m0-6.8l-6.8 6.8M646.1 369.1l6.8 6.8m0-6.8l-6.8 6.8M646.1 375.1l6.8 6.8m0-6.8l-6.8 6.8M647.1 383.1l6.8 6.8m0-6.8l-6.8 6.8M645.1 372.1l6.8 6.8m0-6.8l-6.8 6.8M645.1 383.1l6.8 6.8m0-6.8l-6.8 6.8M645.1 371.1l6.8 6.8m0-6.8l-6.8 6.8M646.1 364.1l6.8 6.8m0-6.8l-6.8 6.8M644.1 370.1l6.8 6.8m0-6.8l-6.8 6.8M647.1 384.1l6.8 6.8m0-6.8l-6.8 6.8M643.1 379.1l6.8 6.8m0-6.8l-6.8 6.8M645.1 366.1l6.8 6.8m0-6.8l-6.8 6.8M644.1 376.1l6.8 6.8m0-6.8l-6.8 6.8M644.1 379.1l6.8 6.8m0-6.8l-6.8 6.8M661.1 363.1l6.8 6.8m0-6.8l-6.8 6.8M661.1 382.1l6.8 6.8m0-6.8l-6.8 6.8M662.1 373.1l6.8 6.8m0-6.8l-6.8 6.8M665.1 368.1l6.8 6.8m0-6.8l-6.8 6.8M662.1 378.1l6.8 6.8m0-6.8l-6.8 6.8M660.1 368.1l6.8 6.8m0-6.8l-6.8 6.8M661.1 375.1l6.8 6.8m0-6.8l-6.8 6.8M658.1 376.1l6.8 6.8m0-6.8l-6.8 6.8M663.1 375.1l6.8 6.8m0-6.8l-6.8 6.8M662.1 378.1l6.8 6.8m0-6.8l-6.8 6.8M664.1 371.1l6.8 6.8m0-6.8l-6.8 6.8M662.1 369.1l6.8 6.8m0-6.8l-6.8 6.8M662.1 371.1l6.8 6.8m0-6.8l-6.8 6.8M662.1 375.1l6.8 6.8m0-6.8l-6.8 6.8M659.1 379.1l6.8 6.8m0-6.8l-6.8 6.8M662.1 380.1l6.8 6.8m0-6.8l-6.8 6.8M662.1 379.1l6.8 6.8m0-6.8l-6.8 6.8M663.1 374.1l6.8 6.8m0-6.8l-6.8 6.8M663.1 368.1l6.8 6.8m0-6.8l-6.8 6.8M660.1 370.1l6.8 6.8m0-6.8l-6.8 6.8M662.1 378.1l6.8 6.8m0-6.8l-6.8 6.8M662.1 374.1l6.8 6.8m0-6.8l-6.8 6.8M664.1 379.1l6.8 6.8m0-6.8l-6.8 6.8M661.1 376.1l6.8 6.8m0-6.8l-6.8 6.8M659.1 380.1l6.8 6.8m0-6.8l-6.8 6.8M661.1 377.1l6.8 6.8m0-6.8l-6.8 6.8M660.1 392.1l6.8 6.8m0-6.8l-6.8 6.8M679.1 355.1l6.8 6.8m0-6.8l-6.8 6.8M677.1 385.1l6.8 6.8m0-6.8l-6.8 6.8M677.1 377.1l6.8 6.8m0-6.8l-6.8 6.8M676.1 376.1l6.8 6.8m0-6.8l-6.8 6.8M678.1 379.1l6.8 6.8m0-6.8l-6.8 6.8M681.1 380.1l6.8 6.8m0-6.8l-6.8 6.8M681.1 367.1l6.8 6.8m0-6.8l-6.8 6.8M679.1 372.1l6.8 6.8m0-6.8l-6.8 6.8M678.1 370.1l6.8 6.8m0-6.8l-6.8 6.8M680.1 376.1l6.8 6.8m0-6.8l-6.8 6.8M680.1 361.1l6.8 6.8m0-6.8l-6.8 6.8M677.1 373.1l6.8 6.8m0-6.8l-6.8 6.8M679.1 371.1l6.8 6.8m0-6.8l-6.8 6.8M680.1 371.1l6.8 6.8m0-6.8l-6.8 6.8M680.1 376.1l6.8 6.8m0-6.8l-6.8 6.8M680.1 375.1l6.8 6.8m0-6.8l-6.8 6.8M680.1 365.1l6.8 6.8m0-6.8l-6.8 6.8M679.1 377.1l6.8 6.8m0-6.8l-6.8 6.8M678.1 380.1l6.8 6.8m0-6.8l-6.8 6.8M676.1 360.1l6.8 6.8m0-6.8l-6.8 6.8M677.1 370.1l6.8 6.8m0-6.8l-6.8 6.8M680.1 361.1l6.8 6.8m0-6.8l-6.8 6.8M681.1 363.1l6.8 6.8m0-6.8l-6.8 6.8M680.1 373.1l6.8 6.8m0-6.8l-6.8 6.8M678.1 359.1l6.8 6.8m0-6.8l-6.8 6.8M676.1 371.1l6.8 6.8m0-6.8l-6.8 6.8M698.1 360.1l6.8 6.8m0-6.8l-6.8 6.8M698.1 381.1l6.8 6.8m0-6.8l-6.8 6.8M698.1 375.1l6.8 6.8m0-6.8l-6.8 6.8M696.1 378.1l6.8 6.8m0-6.8l-6.8 6.8M696.1 368.1l6.8 6.8m0-6.8l-6.8 6.8M698.1 369.1l6.8 6.8m0-6.8l-6.8 6.8M695.1 374.1l6.8 6.8m0-6.8l-6.8 6.8M696.1 379.1l6.8 6.8m0-6.8l-6.8 6.8M697.1 365.1l6.8 6.8m0-6.8l-6.8 6.8M697.1 371.1l6.8 6.8m0-6.8l-6.8 6.8M696.1 374.1l6.8 6.8m0-6.8l-6.8 6.8M698.1 373.1l6.8 6.8m0-6.8l-6.8 6.8M696.1 371.1l6.8 6.8m0-6.8l-6.8 6.8M697.1 369.1l6.8 6.8m0-6.8l-6.8 6.8M698.1 368.1l6.8 6.8m0-6.8l-6.8 6.8M697.1 364.1l6.8 6.8m0-6.8l-6.8 6.8M697.1 372.1l6.8 6.8m0-6.8l-6.8 6.8M694.1 379.1l6.8 6.8m0-6.8l-6.8 6.8M694.1 373.1l6.8 6.8m0-6.8l-6.8 6.8M695.1 373.1l6.8 6.8m0-6.8l-6.8 6.8M697.1 371.1l6.8 6.8m0-6.8l-6.8 6.8M699.1 362.1l6.8 6.8m0-6.8l-6.8 6.8M694.1 370.1l6.8 6.8m0-6.8l-6.8 6.8M697.1 378.1l6.8 6.8m0-6.8l-6.8 6.8M695.1 367.1l6.8 6.8m0-6.8l-6.8 6.8M695.1 377.1l6.8 6.8m0-6.8l-6.8 6.8M697.1 350.1l6.8 6.8m0-6.8l-6.8 6.8M714.1 357.1l6.8 6.8m0-6.8l-6.8 6.8M712.1 388.1l6.8 6.8m0-6.8l-6.8 6.8M715.1 365.1l6.8 6.8m0-6.8l-6.8 6.8M716.1 372.1l6.8 6.8m0-6.8l-6.8 6.8M712.1 375.1l6.8 6.8m0-6.8l-6.8 6.8M713.1 368.1l6.8 6.8m0-6.8l-6.8 6.8M715.1 373.1l6.8 6.8m0-6.8l-6.8 6.8M712.1 383.1l6.8 6.8m0-6.8l-6.8 6.8M715.1 386.1l6.8 6.8m0-6.8l-6.8 6.8M714.1 380.1l6.8 6.8m0-6.8l-6.8 6.8M716.1 360.1l6.8 6.8m0-6.8l-6.8 6.8M713.1 369.1l6.8 6.8m0-6.8l-6.8 6.8M713.1 370.1l6.8 6.8m0-6.8l-6.8 6.8M713.1 373.1l6.8 6.8m0-6.8l-6.8 6.8M717.1 364.1l6.8 6.8m0-6.8l-6.8 6.8M715.1 372.1l6.8 6.8m0-6.8l-6.8 6.8M712.1 368.1l6.8 6.8m0-6.8l-6.8 6.8M713.1 367.1l6.8 6.8m0-6.8l-6.8 6.8M714.1 382.1l6.8 6.8m0-6.8l-6.8 6.8M714.1 359.1l6.8 6.8m0-6.8l-6.8 6.8M715.1 372.1l6.8 6.8m0-6.8l-6.8 6.8M712.1 358.1l6.8 6.8m0-6.8l-6.8 6.8M713.1 367.1l6.8 6.8m0-6.8l-6.8 6.8M717.1 382.1l6.8 6.8m0-6.8l-6.8 6.8M716.1 380.1l6.8 6.8m0-6.8l-6.8 6.8M713.1 383.1l6.8 6.8m0-6.8l-6.8 6.8M730.1 357.1l6.8 6.8m0-6.8l-6.8 6.8M733.1 378.1l6.8 6.8m0-6.8l-6.8 6.8M731.1 369.1l6.8 6.8m0-6.8l-6.8 6.8M733.1 373.1l6.8 6.8m0-6.8l-6.8 6.8M731.1 359.1l6.8 6.8m0-6.8l-6.8 6.8M731.1 367.1l6.8 6.8m0-6.8l-6.8 6.8M730.1 374.1l6.8 6.8m0-6.8l-6.8 6.8M731.1 367.1l6.8 6.8m0-6.8l-6.8 6.8M731.1 363.1l6.8 6.8m0-6.8l-6.8 6.8M730.1 371.1l6.8 6.8m0-6.8l-6.8 6.8M734.1 375.1l6.8 6.8m0-6.8l-6.8 6.8M729.1 365.1l6.8 6.8m0-6.8l-6.8 6.8M730.1 365.1l6.8 6.8m0-6.8l-6.8 6.8M732.1 367.1l6.8 6.8m0-6.8l-6.8 6.8M733.1 369.1l6.8 6.8m0-6.8l-6.8 6.8M730.1 363.1l6.8 6.8m0-6.8l-6.8 6.8M731.1 373.1l6.8 6.8m0-6.8l-6.8 6.8M730.1 364.1l6.8 6.8m0-6.8l-6.8 6.8M729.1 370.1l6.8 6.8m0-6.8l-6.8 6.8M733.1 374.1l6.8 6.8m0-6.8l-6.8 6.8M731.1 361.1l6.8 6.8m0-6.8l-6.8 6.8M730.1 361.1l6.8 6.8m0-6.8l-6.8 6.8M731.1 367.1l6.8 6.8m0-6.8l-6.8 6.8M732.1 366.1l6.8 6.8m0-6.8l-6.8 6.8M733.1 361.1l6.8 6.8m0-6.8l-6.8 6.8M732.1 363.1l6.8 6.8m0-6.8l-6.8 6.8M728.1 389.1l6.8 6.8m0-6.8l-6.8 6.8M746.1 361.1l6.8 6.8m0-6.8l-6.8 6.8M749.1 383.1l6.8 6.8m0-6.8l-6.8 6.8M751.1 372.1l6.8 6.8m0-6.8l-6.8 6.8M747.1 374.1l6.8 6.8m0-6.8l-6.8 6.8M749.1 373.1l6.8 6.8m0-6.8l-6.8 6.8M749.1 377.1l6.8 6.8m0-6.8l-6.8 6.8M749.1 376.1l6.8 6.8m0-6.8l-6.8 6.8M746.1 365.1l6.8 6.8m0-6.8l-6.8 6.8M748.1 364.1l6.8 6.8m0-6.8l-6.8 6.8M748.1 370.1l6.8 6.8m0-6.8l-6.8 6.8M748.1 368.1l6.8 6.8m0-6.8l-6.8 6.8M748.1 363.1l6.8 6.8m0-6.8l-6.8 6.8M746.1 378.1l6.8 6.8m0-6.8l-6.8 6.8M747.1 379.1l6.8 6.8m0-6.8l-6.8 6.8M748.1 370.1l6.8 6.8m0-6.8l-6.8 6.8M747.1 363.1l6.8 6.8m0-6.8l-6.8 6.8M749.1 375.1l6.8 6.8m0-6.8l-6.8 6.8M750.1 368.1l6.8 6.8m0-6.8l-6.8 6.8M748.1 369.1l6.8 6.8m0-6.8l-6.8 6.8M747.1 380.1l6.8 6.8m0-6.8l-6.8 6.8M748.1 376.1l6.8 6.8m0-6.8l-6.8 6.8M747.1 376.1l6.8 6.8m0-6.8l-6.8 6.8M747.1 368.1l6.8 6.8m0-6.8l-6.8 6.8M747.1 370.1l6.8 6.8m0-6.8l-6.8 6.8M750.1 373.1l6.8 6.8m0-6.8l-6.8 6.8M749.1 369.1l6.8 6.8m0-6.8l-6.8 6.8M767.1 358.1l6.8 6.8m0-6.8l-6.8 6.8M764.1 386.1l6.8 6.8m0-6.8l-6.8 6.8M767.1 378.1l6.8 6.8m0-6.8l-6.8 6.8M763.1 376.1l6.8 6.8m0-6.8l-6.8 6.8M766.1 378.1l6.8 6.8m0-6.8l-6.8 6.8M766.1 384.1l6.8 6.8m0-6.8l-6.8 6.8M767.1 383.1l6.8 6.8m0-6.8l-6.8 6.8M766.1 373.1l6.8 6.8m0-6.8l-6.8 6.8M764.1 377.1l6.8 6.8m0-6.8l-6.8 6.8M764.1 382.1l6.8 6.8m0-6.8l-6.8 6.8M763.1 380.1l6.8 6.8m0-6.8l-6.8 6.8M766.1 366.1l6.8 6.8m0-6.8l-6.8 6.8M765.1 376.1l6.8 6.8m0-6.8l-6.8 6.8M764.1 372.1l6.8 6.8m0-6.8l-6.8 6.8M766.1 379.1l6.8 6.8m0-6.8l-6.8 6.8M764.1 376.1l6.8 6.8m0-6.8l-6.8 6.8M764.1 369.1l6.8 6.8m0-6.8l-6.8 6.8M764.1 364.1l6.8 6.8m0-6.8l-6.8 6.8M768.1 379.1l6.8 6.8m0-6.8l-6.8 6.8M767.1 376.1l6.8 6.8m0-6.8l-6.8 6.8M765.1 374.1l6.8 6.8m0-6.8l-6.8 6.8M763.1 372.1l6.8 6.8m0-6.8l-6.8 6.8M766.1 361.1l6.8 6.8m0-6.8l-6.8 6.8M765.1 365.1l6.8 6.8m0-6.8l-6.8 6.8M766.1 377.1l6.8 6.8m0-6.8l-6.8 6.8M766.1 370.1l6.8 6.8m0-6.8l-6.8 6.8M781.1 359.1l6.8 6.8m0-6.8l-6.8 6.8M784.1 382.1l6.8 6.8m0-6.8l-6.8 6.8M784.1 368.1l6.8 6.8m0-6.8l-6.8 6.8M781.1 366.1l6.8 6.8m0-6.8l-6.8 6.8M780.1 376.1l6.8 6.8m0-6.8l-6.8 6.8M781.1 370.1l6.8 6.8m0-6.8l-6.8 6.8M783.1 377.1l6.8 6.8m0-6.8l-6.8 6.8M782.1 360.1l6.8 6.8m0-6.8l-6.8 6.8M781.1 371.1l6.8 6.8m0-6.8l-6.8 6.8M782.1 378.1l6.8 6.8m0-6.8l-6.8 6.8M781.1 365.1l6.8 6.8m0-6.8l-6.8 6.8M782.1 365.1l6.8 6.8m0-6.8l-6.8 6.8M781.1 376.1l6.8 6.8m0-6.8l-6.8 6.8M779.1 379.1l6.8 6.8m0-6.8l-6.8 6.8M782.1 379.1l6.8 6.8m0-6.8l-6.8 6.8M783.1 375.1l6.8 6.8m0-6.8l-6.8 6.8M780.1 375.1l6.8 6.8m0-6.8l-6.8 6.8M781.1 362.1l6.8 6.8m0-6.8l-6.8 6.8M783.1 377.1l6.8 6.8m0-6.8l-6.8 6.8M781.1 375.1l6.8 6.8m0-6.8l-6.8 6.8M780.1 362.1l6.8 6.8m0-6.8l-6.8 6.8M785.1 374.1l6.8 6.8m0-6.8l-6.8 6.8M783.1 370.1l6.8 6.8m0-6.8l-6.8 6.8M783.1 378.1l6.8 6.8m0-6.8l-6.8 6.8M780.1 374.1l6.8 6.8m0-6.8l-6.8 6.8M784.1 378.1l6.8 6.8m0-6.8l-6.8 6.8M801.1 348.1l6.8 6.8m0-6.8l-6.8 6.8M796.1 374.1l6.8 6.8m0-6.8l-6.8 6.8M801.1 361.1l6.8 6.8m0-6.8l-6.8 6.8M802.1 356.1l6.8 6.8m0-6.8l-6.8 6.8M801.1 349.1l6.8 6.8m0-6.8l-6.8 6.8M797.1 363.1l6.8 6.8m0-6.8l-6.8 6.8M799.1 356.1l6.8 6.8m0-6.8l-6.8 6.8M800.1 354.1l6.8 6.8m0-6.8l-6.8 6.8M800.1 355.1l6.8 6.8m0-6.8l-6.8 6.8M798.1 365.1l6.8 6.8m0-6.8l-6.8 6.8M798.1 352.1l6.8 6.8m0-6.8l-6.8 6.8M801.1 360.1l6.8 6.8m0-6.8l-6.8 6.8M797.1 353.1l6.8 6.8m0-6.8l-6.8 6.8M802.1 349.1l6.8 6.8m0-6.8l-6.8 6.8M799.1 361.1l6.8 6.8m0-6.8l-6.8 6.8M800.1 357.1l6.8 6.8m0-6.8l-6.8 6.8M797.1 357.1l6.8 6.8m0-6.8l-6.8 6.8M798.1 359.1l6.8 6.8m0-6.8l-6.8 6.8M800.1 353.1l6.8 6.8m0-6.8l-6.8 6.8M797.1 361.1l6.8 6.8m0-6.8l-6.8 6.8M802.1 370.1l6.8 6.8m0-6.8l-6.8 6.8M797.1 355.1l6.8 6.8m0-6.8l-6.8 6.8M797.1 350.1l6.8 6.8m0-6.8l-6.8 6.8M799.1 356.1l6.8 6.8m0-6.8l-6.8 6.8M800.1 359.1l6.8 6.8m0-6.8l-6.8 6.8M800.1 365.1l6.8 6.8m0-6.8l-6.8 6.8M817.1 331.1l6.8 6.8m0-6.8l-6.8 6.8M817.1 361.1l6.8 6.8m0-6.8l-6.8 6.8M816.1 357.1l6.8 6.8m0-6.8l-6.8 6.8M818.1 344.1l6.8 6.8m0-6.8l-6.8 6.8M819.1 352.1l6.8 6.8m0-6.8l-6.8 6.8M816.1 334.1l6.8 6.8m0-6.8l-6.8 6.8M817.1 338.1l6.8 6.8m0-6.8l-6.8 6.8M816.1 346.1l6.8 6.8m0-6.8l-6.8 6.8M815.1 340.1l6.8 6.8m0-6.8l-6.8 6.8M815.1 349.1l6.8 6.8m0-6.8l-6.8 6.8M816.1 339.1l6.8 6.8m0-6.8l-6.8 6.8M815.1 350.1l6.8 6.8m0-6.8l-6.8 6.8M816.1 349.1l6.8 6.8m0-6.8l-6.8 6.8M816.1 349.1l6.8 6.8m0-6.8l-6.8 6.8M817.1 347.1l6.8 6.8m0-6.8l-6.8 6.8M818.1 338.1l6.8 6.8m0-6.8l-6.8 6.8M820.1 341.1l6.8 6.8m0-6.8l-6.8 6.8M816.1 352.1l6.8 6.8m0-6.8l-6.8 6.8M816.1 360.1l6.8 6.8m0-6.8l-6.8 6.8M817.1 337.1l6.8 6.8m0-6.8l-6.8 6.8M816.1 335.1l6.8 6.8m0-6.8l-6.8 6.8M818.1 350.1l6.8 6.8m0-6.8l-6.8 6.8M818.1 336.1l6.8 6.8m0-6.8l-6.8 6.8M817.1 348.1l6.8 6.8m0-6.8l-6.8 6.8M818.1 334.1l6.8 6.8m0-6.8l-6.8 6.8M816.1 342.1l6.8 6.8m0-6.8l-6.8 6.8M835.1 328.1l6.8 6.8m0-6.8l-6.8 6.8M836.1 355.1l6.8 6.8m0-6.8l-6.8 6.8M836.1 340.1l6.8 6.8m0-6.8l-6.8 6.8M835.1 342.1l6.8 6.8m0-6.8l-6.8 6.8M834.1 348.1l6.8 6.8m0-6.8l-6.8 6.8M837.1 340.1l6.8 6.8m0-6.8l-6.8 6.8M833.1 345.1l6.8 6.8m0-6.8l-6.8 6.8M834.1 339.1l6.8 6.8m0-6.8l-6.8 6.8M835.1 353.1l6.8 6.8m0-6.8l-6.8 6.8M832.1 329.1l6.8 6.8m0-6.8l-6.8 6.8M835.1 349.1l6.8 6.8m0-6.8l-6.8 6.8M834.1 334.1l6.8 6.8m0-6.8l-6.8 6.8M834.1 330.1l6.8 6.8m0-6.8l-6.8 6.8M835.1 348.1l6.8 6.8m0-6.8l-6.8 6.8M835.1 335.1l6.8 6.8m0-6.8l-6.8 6.8M835.1 330.1l6.8 6.8m0-6.8l-6.8 6.8M833.1 337.1l6.8 6.8m0-6.8l-6.8 6.8M833.1 337.1l6.8 6.8m0-6.8l-6.8 6.8M834.1 348.1l6.8 6.8m0-6.8l-6.8 6.8M834.1 335.1l6.8 6.8m0-6.8l-6.8 6.8M833.1 347.1l6.8 6.8m0-6.8l-6.8 6.8M836.1 348.1l6.8 6.8m0-6.8l-6.8 6.8M837.1 343.1l6.8 6.8m0-6.8l-6.8 6.8M832.1 347.1l6.8 6.8m0-6.8l-6.8 6.8M834.1 338.1l6.8 6.8m0-6.8l-6.8 6.8M836.1 351.1l6.8 6.8m0-6.8l-6.8 6.8M849.1 317.1l6.8 6.8m0-6.8l-6.8 6.8M850.1 342.1l6.8 6.8m0-6.8l-6.8 6.8M850.1 326.1l6.8 6.8m0-6.8l-6.8 6.8M851.1 329.1l6.8 6.8m0-6.8l-6.8 6.8M854.1 334.1l6.8 6.8m0-6.8l-6.8 6.8M854.1 330.1l6.8 6.8m0-6.8l-6.8 6.8M849.1 323.1l6.8 6.8m0-6.8l-6.8 6.8M851.1 337.1l6.8 6.8m0-6.8l-6.8 6.8M850.1 338.1l6.8 6.8m0-6.8l-6.8 6.8M852.1 334.1l6.8 6.8m0-6.8l-6.8 6.8M849.1 325.1l6.8 6.8m0-6.8l-6.8 6.8M849.1 338.1l6.8 6.8m0-6.8l-6.8 6.8M851.1 333.1l6.8 6.8m0-6.8l-6.8 6.8M850.1 329.1l6.8 6.8m0-6.8l-6.8 6.8M853.1 330.1l6.8 6.8m0-6.8l-6.8 6.8M851.1 326.1l6.8 6.8m0-6.8l-6.8 6.8M852.1 331.1l6.8 6.8m0-6.8l-6.8 6.8M851.1 318.1l6.8 6.8m0-6.8l-6.8 6.8M853.1 331.1l6.8 6.8m0-6.8l-6.8 6.8M853.1 333.1l6.8 6.8m0-6.8l-6.8 6.8M851.1 324.1l6.8 6.8m0-6.8l-6.8 6.8M850.1 329.1l6.8 6.8m0-6.8l-6.8 6.8M852.1 331.1l6.8 6.8m0-6.8l-6.8 6.8M851.1 331.1l6.8 6.8m0-6.8l-6.8 6.8M853.1 323.1l6.8 6.8m0-6.8l-6.8 6.8M851.1 331.1l6.8 6.8m0-6.8l-6.8 6.8M870.1 300.1l6.8 6.8m0-6.8l-6.8 6.8M867.1 318.1l6.8 6.8m0-6.8l-6.8 6.8M870.1 310.1l6.8 6.8m0-6.8l-6.8 6.8M868.1 303.1l6.8 6.8m0-6.8l-6.8 6.8M867.1 304.1l6.8 6.8m0-6.8l-6.8 6.8M871.1 306.1l6.8 6.8m0-6.8l-6.8 6.8M868.1 312.1l6.8 6.8m0-6.8l-6.8 6.8M867.1 311.1l6.8 6.8m0-6.8l-6.8 6.8M868.1 303.1l6.8 6.8m0-6.8l-6.8 6.8M867.1 304.1l6.8 6.8m0-6.8l-6.8 6.8M870.1 314.1l6.8 6.8m0-6.8l-6.8 6.8M869.1 309.1l6.8 6.8m0-6.8l-6.8 6.8M871.1 315.1l6.8 6.8m0-6.8l-6.8 6.8M869.1 309.1l6.8 6.8m0-6.8l-6.8 6.8M868.1 308.1l6.8 6.8m0-6.8l-6.8 6.8M870.1 304.1l6.8 6.8m0-6.8l-6.8 6.8M868.1 312.1l6.8 6.8m0-6.8l-6.8 6.8M868.1 308.1l6.8 6.8m0-6.8l-6.8 6.8M868.1 311.1l6.8 6.8m0-6.8l-6.8 6.8M869.1 313.1l6.8 6.8m0-6.8l-6.8 6.8M871.1 312.1l6.8 6.8m0-6.8l-6.8 6.8M868.1 317.1l6.8 6.8m0-6.8l-6.8 6.8M869.1 317.1l6.8 6.8m0-6.8l-6.8 6.8M869.1 313.1l6.8 6.8m0-6.8l-6.8 6.8M867.1 304.1l6.8 6.8m0-6.8l-6.8 6.8M867.1 310.1l6.8 6.8m0-6.8l-6.8 6.8M886.1 290.1l6.8 6.8m0-6.8l-6.8 6.8M884.1 310.1l6.8 6.8m0-6.8l-6.8 6.8M887.1 293.1l6.8 6.8m0-6.8l-6.8 6.8M885.1 294.1l6.8 6.8m0-6.8l-6.8 6.8M884.1 308.1l6.8 6.8m0-6.8l-6.8 6.8M884.1 300.1l6.8 6.8m0-6.8l-6.8 6.8M886.1 305.1l6.8 6.8m0-6.8l-6.8 6.8M884.1 296.1l6.8 6.8m0-6.8l-6.8 6.8M884.1 304.1l6.8 6.8m0-6.8l-6.8 6.8M888.1 303.1l6.8 6.8m0-6.8l-6.8 6.8M887.1 293.1l6.8 6.8m0-6.8l-6.8 6.8M887.1 296.1l6.8 6.8m0-6.8l-6.8 6.8M887.1 309.1l6.8 6.8m0-6.8l-6.8 6.8M886.1 299.1l6.8 6.8m0-6.8l-6.8 6.8M883.1 307.1l6.8 6.8m0-6.8l-6.8 6.8M887.1 291.1l6.8 6.8m0-6.8l-6.8 6.8M887.1 294.1l6.8 6.8m0-6.8l-6.8 6.8M886.1 308.1l6.8 6.8m0-6.8l-6.8 6.8M882.1 304.1l6.8 6.8m0-6.8l-6.8 6.8M887.1 292.1l6.8 6.8m0-6.8l-6.8 6.8M887.1 292.1l6.8 6.8m0-6.8l-6.8 6.8M885.1 292.1l6.8 6.8m0-6.8l-6.8 6.8M885.1 305.1l6.8 6.8m0-6.8l-6.8 6.8M887.1 294.1l6.8 6.8m0-6.8l-6.8 6.8M885.1 304.1l6.8 6.8m0-6.8l-6.8 6.8M887.1 292.1l6.8 6.8m0-6.8l-6.8 6.8M903.1 284.1l6.8 6.8m0-6.8l-6.8 6.8M903.1 313.1l6.8 6.8m0-6.8l-6.8 6.8M904.1 291.1l6.8 6.8m0-6.8l-6.8 6.8M903.1 294.1l6.8 6.8m0-6.8l-6.8 6.8M903.1 293.1l6.8 6.8m0-6.8l-6.8 6.8M904.1 300.1l6.8 6.8m0-6.8l-6.8 6.8M903.1 308.1l6.8 6.8m0-6.8l-6.8 6.8M903.1 297.1l6.8 6.8m0-6.8l-6.8 6.8M902.1 312.1l6.8 6.8m0-6.8l-6.8 6.8M902.1 294.1l6.8 6.8m0-6.8l-6.8 6.8M903.1 302.1l6.8 6.8m0-6.8l-6.8 6.8M902.1 295.1l6.8 6.8m0-6.8l-6.8 6.8M903.1 288.1l6.8 6.8m0-6.8l-6.8 6.8M902.1 302.1l6.8 6.8m0-6.8l-6.8 6.8M902.1 309.1l6.8 6.8m0-6.8l-6.8 6.8M903.1 306.1l6.8 6.8m0-6.8l-6.8 6.8M901.1 305.1l6.8 6.8m0-6.8l-6.8 6.8M904.1 286.1l6.8 6.8m0-6.8l-6.8 6.8M904.1 311.1l6.8 6.8m0-6.8l-6.8 6.8M900.1 309.1l6.8 6.8m0-6.8l-6.8 6.8M903.1 305.1l6.8 6.8m0-6.8l-6.8 6.8M902.1 290.1l6.8 6.8m0-6.8l-6.8 6.8M904.1 305.1l6.8 6.8m0-6.8l-6.8 6.8M906.1 302.1l6.8 6.8m0-6.8l-6.8 6.8M902.1 292.1l6.8 6.8m0-6.8l-6.8 6.8M903.1 308.1l6.8 6.8m0-6.8l-6.8 6.8M921.1 278.1l6.8 6.8m0-6.8l-6.8 6.8M923.1 300.1l6.8 6.8m0-6.8l-6.8 6.8M921.1 285.1l6.8 6.8m0-6.8l-6.8 6.8M919.1 281.1l6.8 6.8m0-6.8l-6.8 6.8M920.1 284.1l6.8 6.8m0-6.8l-6.8 6.8M919.1 290.1l6.8 6.8m0-6.8l-6.8 6.8M918.1 280.1l6.8 6.8m0-6.8l-6.8 6.8M920.1 285.1l6.8 6.8m0-6.8l-6.8 6.8M920.1 283.1l6.8 6.8m0-6.8l-6.8 6.8M919.1 288.1l6.8 6.8m0-6.8l-6.8 6.8M919.1 286.1l6.8 6.8m0-6.8l-6.8 6.8M919.1 298.1l6.8 6.8m0-6.8l-6.8 6.8M921.1 287.1l6.8 6.8m0-6.8l-6.8 6.8M923.1 283.1l6.8 6.8m0-6.8l-6.8 6.8M920.1 298.1l6.8 6.8m0-6.8l-6.8 6.8M924.1 290.1l6.8 6.8m0-6.8l-6.8 6.8M918.1 291.1l6.8 6.8m0-6.8l-6.8 6.8M921.1 284.1l6.8 6.8m0-6.8l-6.8 6.8M919.1 282.1l6.8 6.8m0-6.8l-6.8 6.8M920.1 292.1l6.8 6.8m0-6.8l-6.8 6.8M921.1 293.1l6.8 6.8m0-6.8l-6.8 6.8M921.1 292.1l6.8 6.8m0-6.8l-6.8 6.8M922.1 298.1l6.8 6.8m0-6.8l-6.8 6.8M920.1 294.1l6.8 6.8m0-6.8l-6.8 6.8M919.1 281.1l6.8 6.8m0-6.8l-6.8 6.8M920.1 289.1l6.8 6.8m0-6.8l-6.8 6.8M939.1 269.1l6.8 6.8m0-6.8l-6.8 6.8M938.1 293.1l6.8 6.8m0-6.8l-6.8 6.8M937.1 281.1l6.8 6.8m0-6.8l-6.8 6.8M935.1 285.1l6.8 6.8m0-6.8l-6.8 6.8M939.1 273.1l6.8 6.8m0-6.8l-6.8 6.8M936.1 271.1l6.8 6.8m0-6.8l-6.8 6.8M937.1 287.1l6.8 6.8m0-6.8l-6.8 6.8M939.1 282.1l6.8 6.8m0-6.8l-6.8 6.8M938.1 284.1l6.8 6.8m0-6.8l-6.8 6.8M936.1 272.1l6.8 6.8m0-6.8l-6.8 6.8M939.1 287.1l6.8 6.8m0-6.8l-6.8 6.8M937.1 283.1l6.8 6.8m0-6.8l-6.8 6.8M939.1 286.1l6.8 6.8m0-6.8l-6.8 6.8M936.1 284.1l6.8 6.8m0-6.8l-6.8 6.8M935.1 273.1l6.8 6.8m0-6.8l-6.8 6.8M937.1 283.1l6.8 6.8m0-6.8l-6.8 6.8M939.1 287.1l6.8 6.8m0-6.8l-6.8 6.8M934.1 281.1l6.8 6.8m0-6.8l-6.8 6.8M936.1 278.1l6.8 6.8m0-6.8l-6.8 6.8M939.1 278.1l6.8 6.8m0-6.8l-6.8 6.8M941.1 274.1l6.8 6.8m0-6.8l-6.8 6.8M937.1 289.1l6.8 6.8m0-6.8l-6.8 6.8M936.1 274.1l6.8 6.8m0-6.8l-6.8 6.8M937.1 280.1l6.8 6.8m0-6.8l-6.8 6.8M936.1 288.1l6.8 6.8m0-6.8l-6.8 6.8M940.1 284.1l6.8 6.8m0-6.8l-6.8 6.8M954.1 267.1l6.8 6.8m0-6.8l-6.8 6.8M956.1 289.1l6.8 6.8m0-6.8l-6.8 6.8M956.1 278.1l6.8 6.8m0-6.8l-6.8 6.8M953.1 282.1l6.8 6.8m0-6.8l-6.8 6.8M953.1 278.1l6.8 6.8m0-6.8l-6.8 6.8M954.1 276.1l6.8 6.8m0-6.8l-6.8 6.8M956.1 277.1l6.8 6.8m0-6.8l-6.8 6.8M955.1 281.1l6.8 6.8m0-6.8l-6.8 6.8M957.1 278.1l6.8 6.8m0-6.8l-6.8 6.8M952.1 282.1l6.8 6.8m0-6.8l-6.8 6.8M955.1 270.1l6.8 6.8m0-6.8l-6.8 6.8M954.1 269.1l6.8 6.8m0-6.8l-6.8 6.8M955.1 268.1l6.8 6.8m0-6.8l-6.8 6.8M955.1 274.1l6.8 6.8m0-6.8l-6.8 6.8M953.1 273.1l6.8 6.8m0-6.8l-6.8 6.8M954.1 284.1l6.8 6.8m0-6.8l-6.8 6.8M953.1 270.1l6.8 6.8m0-6.8l-6.8 6.8M955.1 276.1l6.8 6.8m0-6.8l-6.8 6.8M953.1 277.1l6.8 6.8m0-6.8l-6.8 6.8M954.1 276.1l6.8 6.8m0-6.8l-6.8 6.8M955.1 278.1l6.8 6.8m0-6.8l-6.8 6.8M954.1 279.1l6.8 6.8m0-6.8l-6.8 6.8M956.1 283.1l6.8 6.8m0-6.8l-6.8 6.8M954.1 275.1l6.8 6.8m0-6.8l-6.8 6.8M956.1 287.1l6.8 6.8m0-6.8l-6.8 6.8M955.1 273.1l6.8 6.8m0-6.8l-6.8 6.8M974.1 260.1l6.8 6.8m0-6.8l-6.8 6.8M974.1 282.1l6.8 6.8m0-6.8l-6.8 6.8M975.1 264.1l6.8 6.8m0-6.8l-6.8 6.8M971.1 267.1l6.8 6.8m0-6.8l-6.8 6.8M975.1 275.1l6.8 6.8m0-6.8l-6.8 6.8M974.1 275.1l6.8 6.8m0-6.8l-6.8 6.8M974.1 265.1l6.8 6.8m0-6.8l-6.8 6.8M973.1 267.1l6.8 6.8m0-6.8l-6.8 6.8M972.1 278.1l6.8 6.8m0-6.8l-6.8 6.8M973.1 270.1l6.8 6.8m0-6.8l-6.8 6.8M972.1 273.1l6.8 6.8m0-6.8l-6.8 6.8M971.1 279.1l6.8 6.8m0-6.8l-6.8 6.8M971.1 274.1l6.8 6.8m0-6.8l-6.8 6.8M971.1 262.1l6.8 6.8m0-6.8l-6.8 6.8M972.1 271.1l6.8 6.8m0-6.8l-6.8 6.8M969.1 265.1l6.8 6.8m0-6.8l-6.8 6.8M972.1 279.1l6.8 6.8m0-6.8l-6.8 6.8M970.1 263.1l6.8 6.8m0-6.8l-6.8 6.8M973.1 276.1l6.8 6.8m0-6.8l-6.8 6.8M974.1 274.1l6.8 6.8m0-6.8l-6.8 6.8M974.1 278.1l6.8 6.8m0-6.8l-6.8 6.8M975.1 272.1l6.8 6.8m0-6.8l-6.8 6.8M974.1 272.1l6.8 6.8m0-6.8l-6.8 6.8M975.1 277.1l6.8 6.8m0-6.8l-6.8 6.8M972.1 266.1l6.8 6.8m0-6.8l-6.8 6.8M971.1 268.1l6.8 6.8m0-6.8l-6.8 6.8M988.1 271.1l6.8 6.8m0-6.8l-6.8 6.8M993.1 289.1l6.8 6.8m0-6.8l-6.8 6.8M991.1 284.1l6.8 6.8m0-6.8l-6.8 6.8M989.1 280.1l6.8 6.8m0-6.8l-6.8 6.8M990.1 285.1l6.8 6.8m0-6.8l-6.8 6.8M990.1 283.1l6.8 6.8m0-6.8l-6.8 6.8M990.1 278.1l6.8 6.8m0-6.8l-6.8 6.8M989.1 277.1l6.8 6.8m0-6.8l-6.8 6.8M988.1 280.1l6.8 6.8m0-6.8l-6.8 6.8M990.1 282.1l6.8 6.8m0-6.8l-6.8 6.8M991.1 282.1l6.8 6.8m0-6.8l-6.8 6.8M991.1 287.1l6.8 6.8m0-6.8l-6.8 6.8M991.1 284.1l6.8 6.8m0-6.8l-6.8 6.8M992.1 276.1l6.8 6.8m0-6.8l-6.8 6.8M988.1 282.1l6.8 6.8m0-6.8l-6.8 6.8M990.1 284.1l6.8 6.8m0-6.8l-6.8 6.8M990.1 274.1l6.8 6.8m0-6.8l-6.8 6.8M991.1 285.1l6.8 6.8m0-6.8l-6.8 6.8M990.1 284.1l6.8 6.8m0-6.8l-6.8 6.8M991.1 279.1l6.8 6.8m0-6.8l-6.8 6.8M990.1 281.1l6.8 6.8m0-6.8l-6.8 6.8M993.1 282.1l6.8 6.8m0-6.8l-6.8 6.8M987.1 281.1l6.8 6.8m0-6.8l-6.8 6.8M990.1 278.1l6.8 6.8m0-6.8l-6.8 6.8M993.1 282.1l6.8 6.8m0-6.8l-6.8 6.8M990.1 283.1l6.8 6.8m0-6.8l-6.8 6.8M987.1 295.1l6.8 6.8m0-6.8l-6.8 6.8M1005.1 280.1l6.8 6.8m0-6.8l-6.8 6.8M1006.1 296.1l6.8 6.8m0-6.8l-6.8 6.8M1005.1 289.1l6.8 6.8m0-6.8l-6.8 6.8M1004.1 282.1l6.8 6.8m0-6.8l-6.8 6.8M1004.1 291.1l6.8 6.8m0-6.8l-6.8 6.8M1006.1 285.1l6.8 6.8m0-6.8l-6.8 6.8M1006.1 287.1l6.8 6.8m0-6.8l-6.8 6.8M1006.1 285.1l6.8 6.8m0-6.8l-6.8 6.8M1005.1 289.1l6.8 6.8m0-6.8l-6.8 6.8M1008.1 289.1l6.8 6.8m0-6.8l-6.8 6.8M1009.1 291.1l6.8 6.8m0-6.8l-6.8 6.8M1005.1 289.1l6.8 6.8m0-6.8l-6.8 6.8M1004.1 294.1l6.8 6.8m0-6.8l-6.8 6.8M1008.1 290.1l6.8 6.8m0-6.8l-6.8 6.8M1008.1 283.1l6.8 6.8m0-6.8l-6.8 6.8M1009.1 295.1l6.8 6.8m0-6.8l-6.8 6.8M1005.1 287.1l6.8 6.8m0-6.8l-6.8 6.8M1006.1 285.1l6.8 6.8m0-6.8l-6.8 6.8M1003.1 289.1l6.8 6.8m0-6.8l-6.8 6.8M1007.1 290.1l6.8 6.8m0-6.8l-6.8 6.8M1004.1 284.1l6.8 6.8m0-6.8l-6.8 6.8M1003.1 286.1l6.8 6.8m0-6.8l-6.8 6.8M1007.1 291.1l6.8 6.8m0-6.8l-6.8 6.8M1007.1 289.1l6.8 6.8m0-6.8l-6.8 6.8M1003.1 283.1l6.8 6.8m0-6.8l-6.8 6.8M1005.1 294.1l6.8 6.8m0-6.8l-6.8 6.8M1025.1 280.1l6.8 6.8m0-6.8l-6.8 6.8M1024.1 300.1l6.8 6.8m0-6.8l-6.8 6.8M1024.1 296.1l6.8 6.8m0-6.8l-6.8 6.8M1027.1 285.1l6.8 6.8m0-6.8l-6.8 6.8M1021.1 291.1l6.8 6.8m0-6.8l-6.8 6.8M1022.1 297.1l6.8 6.8m0-6.8l-6.8 6.8M1022.1 289.1l6.8 6.8m0-6.8l-6.8 6.8M1025.1 285.1l6.8 6.8m0-6.8l-6.8 6.8M1026.1 285.1l6.8 6.8m0-6.8l-6.8 6.8M1023.1 283.1l6.8 6.8m0-6.8l-6.8 6.8M1025.1 293.1l6.8 6.8m0-6.8l-6.8 6.8M1024.1 286.1l6.8 6.8m0-6.8l-6.8 6.8M1024.1 290.1l6.8 6.8m0-6.8l-6.8 6.8M1023.1 290.1l6.8 6.8m0-6.8l-6.8 6.8M1024.1 283.1l6.8 6.8m0-6.8l-6.8 6.8M1024.1 283.1l6.8 6.8m0-6.8l-6.8 6.8M1026.1 294.1l6.8 6.8m0-6.8l-6.8 6.8M1027.1 285.1l6.8 6.8m0-6.8l-6.8 6.8M1021.1 296.1l6.8 6.8m0-6.8l-6.8 6.8M1025.1 289.1l6.8 6.8m0-6.8l-6.8 6.8M1024.1 294.1l6.8 6.8m0-6.8l-6.8 6.8M1025.1 293.1l6.8 6.8m0-6.8l-6.8 6.8M1026.1 292.1l6.8 6.8m0-6.8l-6.8 6.8M1025.1 293.1l6.8 6.8m0-6.8l-6.8 6.8M1025.1 296.1l6.8 6.8m0-6.8l-6.8 6.8M1022.1 286.1l6.8 6.8m0-6.8l-6.8 6.8M1039.1 283.1l6.8 6.8m0-6.8l-6.8 6.8M1043.1 303.1l6.8 6.8m0-6.8l-6.8 6.8M1040.1 301.1l6.8 6.8m0-6.8l-6.8 6.8M1040.1 292.1l6.8 6.8m0-6.8l-6.8 6.8M1040.1 291.1l6.8 6.8m0-6.8l-6.8 6.8M1042.1 301.1l6.8 6.8m0-6.8l-6.8 6.8M1043.1 296.1l6.8 6.8m0-6.8l-6.8 6.8M1042.1 289.1l6.8 6.8m0-6.8l-6.8 6.8M1038.1 298.1l6.8 6.8m0-6.8l-6.8 6.8M1040.1 288.1l6.8 6.8m0-6.8l-6.8 6.8M1042.1 293.1l6.8 6.8m0-6.8l-6.8 6.8M1038.1 299.1l6.8 6.8m0-6.8l-6.8 6.8M1041.1 288.1l6.8 6.8m0-6.8l-6.8 6.8M1042.1 291.1l6.8 6.8m0-6.8l-6.8 6.8M1043.1 292.1l6.8 6.8m0-6.8l-6.8 6.8M1042.1 290.1l6.8 6.8m0-6.8l-6.8 6.8M1042.1 301.1l6.8 6.8m0-6.8l-6.8 6.8M1042.1 284.1l6.8 6.8m0-6.8l-6.8 6.8M1041.1 295.1l6.8 6.8m0-6.8l-6.8 6.8M1038.1 299.1l6.8 6.8m0-6.8l-6.8 6.8M1044.1 295.1l6.8 6.8m0-6.8l-6.8 6.8M1042.1 292.1l6.8 6.8m0-6.8l-6.8 6.8M1041.1 294.1l6.8 6.8m0-6.8l-6.8 6.8M1040.1 301.1l6.8 6.8m0-6.8l-6.8 6.8M1044.1 302.1l6.8 6.8m0-6.8l-6.8 6.8M1041.1 291.1l6.8 6.8m0-6.8l-6.8 6.8M1059.1 278.1l6.8 6.8m0-6.8l-6.8 6.8M1057.1 293.1l6.8 6.8m0-6.8l-6.8 6.8M1061.1 280.1l6.8 6.8m0-6.8l-6.8 6.8M1058.1 284.1l6.8 6.8m0-6.8l-6.8 6.8M1058.1 291.1l6.8 6.8m0-6.8l-6.8 6.8M1060.1 282.1l6.8 6.8m0-6.8l-6.8 6.8M1059.1 289.1l6.8 6.8m0-6.8l-6.8 6.8M1057.1 288.1l6.8 6.8m0-6.8l-6.8 6.8M1060.1 280.1l6.8 6.8m0-6.8l-6.8 6.8M1062.1 281.1l6.8 6.8m0-6.8l-6.8 6.8M1057.1 280.1l6.8 6.8m0-6.8l-6.8 6.8M1058.1 286.1l6.8 6.8m0-6.8l-6.8 6.8M1057.1 285.1l6.8 6.8m0-6.8l-6.8 6.8M1056.1 289.1l6.8 6.8m0-6.8l-6.8 6.8M1060.1 284.1l6.8 6.8m0-6.8l-6.8 6.8M1060.1 288.1l6.8 6.8m0-6.8l-6.8 6.8M1060.1 289.1l6.8 6.8m0-6.8l-6.8 6.8M1059.1 291.1l6.8 6.8m0-6.8l-6.8 6.8M1056.1 290.1l6.8 6.8m0-6.8l-6.8 6.8M1059.1 282.1l6.8 6.8m0-6.8l-6.8 6.8M1058.1 286.1l6.8 6.8m0-6.8l-6.8 6.8M1057.1 283.1l6.8 6.8m0-6.8l-6.8 6.8M1057.1 281.1l6.8 6.8m0-6.8l-6.8 6.8M1060.1 283.1l6.8 6.8m0-6.8l-6.8 6.8M1058.1 291.1l6.8 6.8m0-6.8l-6.8 6.8M1062.1 284.1l6.8 6.8m0-6.8l-6.8 6.8M1076.1 278.1l6.8 6.8m0-6.8l-6.8 6.8M1073.1 305.1l6.8 6.8m0-6.8l-6.8 6.8M1078.1 293.1l6.8 6.8m0-6.8l-6.8 6.8M1076.1 288.1l6.8 6.8m0-6.8l-6.8 6.8M1077.1 291.1l6.8 6.8m0-6.8l-6.8 6.8M1075.1 296.1l6.8 6.8m0-6.8l-6.8 6.8M1075.1 282.1l6.8 6.8m0-6.8l-6.8 6.8M1075.1 296.1l6.8 6.8m0-6.8l-6.8 6.8M1073.1 287.1l6.8 6.8m0-6.8l-6.8 6.8M1073.1 294.1l6.8 6.8m0-6.8l-6.8 6.8M1074.1 287.1l6.8 6.8m0-6.8l-6.8 6.8M1074.1 285.1l6.8 6.8m0-6.8l-6.8 6.8M1073.1 282.1l6.8 6.8m0-6.8l-6.8 6.8M1075.1 296.1l6.8 6.8m0-6.8l-6.8 6.8M1076.1 299.1l6.8 6.8m0-6.8l-6.8 6.8M1078.1 280.1l6.8 6.8m0-6.8l-6.8 6.8M1078.1 289.1l6.8 6.8m0-6.8l-6.8 6.8M1075.1 286.1l6.8 6.8m0-6.8l-6.8 6.8M1076.1 290.1l6.8 6.8m0-6.8l-6.8 6.8M1075.1 292.1l6.8 6.8m0-6.8l-6.8 6.8M1076.1 289.1l6.8 6.8m0-6.8l-6.8 6.8M1075.1 285.1l6.8 6.8m0-6.8l-6.8 6.8M1074.1 288.1l6.8 6.8m0-6.8l-6.8 6.8M1075.1 297.1l6.8 6.8m0-6.8l-6.8 6.8M1073.1 298.1l6.8 6.8m0-6.8l-6.8 6.8M1076.1 299.1l6.8 6.8m0-6.8l-6.8 6.8M1092.1 290.1l6.8 6.8m0-6.8l-6.8 6.8M1092.1 307.1l6.8 6.8m0-6.8l-6.8 6.8M1093.1 294.1l6.8 6.8m0-6.8l-6.8 6.8M1093.1 297.1l6.8 6.8m0-6.8l-6.8 6.8M1093.1 294.1l6.8 6.8m0-6.8l-6.8 6.8M1095.1 300.1l6.8 6.8m0-6.8l-6.8 6.8M1092.1 295.1l6.8 6.8m0-6.8l-6.8 6.8M1096.1 300.1l6.8 6.8m0-6.8l-6.8 6.8M1091.1 295.1l6.8 6.8m0-6.8l-6.8 6.8M1091.1 295.1l6.8 6.8m0-6.8l-6.8 6.8M1094.1 305.1l6.8 6.8m0-6.8l-6.8 6.8M1091.1 295.1l6.8 6.8m0-6.8l-6.8 6.8M1095.1 294.1l6.8 6.8m0-6.8l-6.8 6.8M1093.1 303.1l6.8 6.8m0-6.8l-6.8 6.8M1092.1 296.1l6.8 6.8m0-6.8l-6.8 6.8M1094.1 294.1l6.8 6.8m0-6.8l-6.8 6.8M1093.1 296.1l6.8 6.8m0-6.8l-6.8 6.8M1092.1 298.1l6.8 6.8m0-6.8l-6.8 6.8M1092.1 296.1l6.8 6.8m0-6.8l-6.8 6.8M1096.1 300.1l6.8 6.8m0-6.8l-6.8 6.8M1093.1 296.1l6.8 6.8m0-6.8l-6.8 6.8M1093.1 294.1l6.8 6.8m0-6.8l-6.8 6.8M1091.1 299.1l6.8 6.8m0-6.8l-6.8 6.8M1096.1 298.1l6.8 6.8m0-6.8l-6.8 6.8M1094.1 299.1l6.8 6.8m0-6.8l-6.8 6.8M1092.1 299.1l6.8 6.8m0-6.8l-6.8 6.8M1110.1 275.1l6.8 6.8m0-6.8l-6.8 6.8M1111.1 299.1l6.8 6.8m0-6.8l-6.8 6.8M1110.1 290.1l6.8 6.8m0-6.8l-6.8 6.8M1108.1 287.1l6.8 6.8m0-6.8l-6.8 6.8M1107.1 284.1l6.8 6.8m0-6.8l-6.8 6.8M1108.1 295.1l6.8 6.8m0-6.8l-6.8 6.8M1107.1 279.1l6.8 6.8m0-6.8l-6.8 6.8M1110.1 284.1l6.8 6.8m0-6.8l-6.8 6.8M1111.1 281.1l6.8 6.8m0-6.8l-6.8 6.8M1113.1 279.1l6.8 6.8m0-6.8l-6.8 6.8M1110.1 282.1l6.8 6.8m0-6.8l-6.8 6.8M1113.1 278.1l6.8 6.8m0-6.8l-6.8 6.8M1113.1 294.1l6.8 6.8m0-6.8l-6.8 6.8M1110.1 291.1l6.8 6.8m0-6.8l-6.8 6.8M1109.1 289.1l6.8 6.8m0-6.8l-6.8 6.8M1110.1 290.1l6.8 6.8m0-6.8l-6.8 6.8M1109.1 284.1l6.8 6.8m0-6.8l-6.8 6.8M1109.1 288.1l6.8 6.8m0-6.8l-6.8 6.8M1110.1 291.1l6.8 6.8m0-6.8l-6.8 6.8M1111.1 289.1l6.8 6.8m0-6.8l-6.8 6.8M1107.1 285.1l6.8 6.8m0-6.8l-6.8 6.8M1110.1 291.1l6.8 6.8m0-6.8l-6.8 6.8M1110.1 279.1l6.8 6.8m0-6.8l-6.8 6.8M1111.1 279.1l6.8 6.8m0-6.8l-6.8 6.8M1108.1 288.1l6.8 6.8m0-6.8l-6.8 6.8M1111.1 282.1l6.8 6.8m0-6.8l-6.8 6.8M1130.1 282.1l6.8 6.8m0-6.8l-6.8 6.8M1126.1 298.1l6.8 6.8m0-6.8l-6.8 6.8M1128.1 285.1l6.8 6.8m0-6.8l-6.8 6.8M1127.1 290.1l6.8 6.8m0-6.8l-6.8 6.8M1126.1 290.1l6.8 6.8m0-6.8l-6.8 6.8M1125.1 288.1l6.8 6.8m0-6.8l-6.8 6.8M1125.1 293.1l6.8 6.8m0-6.8l-6.8 6.8M1129.1 294.1l6.8 6.8m0-6.8l-6.8 6.8M1129.1 288.1l6.8 6.8m0-6.8l-6.8 6.8M1131.1 295.1l6.8 6.8m0-6.8l-6.8 6.8M1125.1 289.1l6.8 6.8m0-6.8l-6.8 6.8M1128.1 296.1l6.8 6.8m0-6.8l-6.8 6.8M1128.1 294.1l6.8 6.8m0-6.8l-6.8 6.8M1129.1 284.1l6.8 6.8m0-6.8l-6.8 6.8M1127.1 295.1l6.8 6.8m0-6.8l-6.8 6.8M1129.1 288.1l6.8 6.8m0-6.8l-6.8 6.8M1129.1 293.1l6.8 6.8m0-6.8l-6.8 6.8M1129.1 291.1l6.8 6.8m0-6.8l-6.8 6.8M1130.1 283.1l6.8 6.8m0-6.8l-6.8 6.8M1127.1 292.1l6.8 6.8m0-6.8l-6.8 6.8M1130.1 292.1l6.8 6.8m0-6.8l-6.8 6.8M1126.1 290.1l6.8 6.8m0-6.8l-6.8 6.8M1130.1 285.1l6.8 6.8m0-6.8l-6.8 6.8M1124.1 291.1l6.8 6.8m0-6.8l-6.8 6.8M1128.1 296.1l6.8 6.8m0-6.8l-6.8 6.8M1126.1 286.1l6.8 6.8m0-6.8l-6.8 6.8M1146.1 291.1l6.8 6.8m0-6.8l-6.8 6.8M1143.1 310.1l6.8 6.8m0-6.8l-6.8 6.8M1142.1 299.1l6.8 6.8m0-6.8l-6.8 6.8M1143.1 296.1l6.8 6.8m0-6.8l-6.8 6.8M1142.1 305.1l6.8 6.8m0-6.8l-6.8 6.8M1143.1 298.1l6.8 6.8m0-6.8l-6.8 6.8M1144.1 308.1l6.8 6.8m0-6.8l-6.8 6.8M1145.1 295.1l6.8 6.8m0-6.8l-6.8 6.8M1144.1 306.1l6.8 6.8m0-6.8l-6.8 6.8M1144.1 303.1l6.8 6.8m0-6.8l-6.8 6.8M1143.1 301.1l6.8 6.8m0-6.8l-6.8 6.8M1145.1 304.1l6.8 6.8m0-6.8l-6.8 6.8M1145.1 306.1l6.8 6.8m0-6.8l-6.8 6.8M1145.1 306.1l6.8 6.8m0-6.8l-6.8 6.8M1146.1 299.1l6.8 6.8m0-6.8l-6.8 6.8M1144.1 303.1l6.8 6.8m0-6.8l-6.8 6.8M1144.1 297.1l6.8 6.8m0-6.8l-6.8 6.8M1147.1 300.1l6.8 6.8m0-6.8l-6.8 6.8M1144.1 297.1l6.8 6.8m0-6.8l-6.8 6.8M1145.1 304.1l6.8 6.8m0-6.8l-6.8 6.8M1143.1 304.1l6.8 6.8m0-6.8l-6.8 6.8M1146.1 300.1l6.8 6.8m0-6.8l-6.8 6.8M1143.1 301.1l6.8 6.8m0-6.8l-6.8 6.8M1142.1 293.1l6.8 6.8m0-6.8l-6.8 6.8M1144.1 297.1l6.8 6.8m0-6.8l-6.8 6.8M1143.1 297.1l6.8 6.8m0-6.8l-6.8 6.8M1163.1 282.1l6.8 6.8m0-6.8l-6.8 6.8M1158.1 299.1l6.8 6.8m0-6.8l-6.8 6.8M1162.1 285.1l6.8 6.8m0-6.8l-6.8 6.8M1164.1 295.1l6.8 6.8m0-6.8l-6.8 6.8M1162.1 295.1l6.8 6.8m0-6.8l-6.8 6.8M1162.1 298.1l6.8 6.8m0-6.8l-6.8 6.8M1161.1 290.1l6.8 6.8m0-6.8l-6.8 6.8M1163.1 296.1l6.8 6.8m0-6.8l-6.8 6.8M1162.1 292.1l6.8 6.8m0-6.8l-6.8 6.8M1163.1 291.1l6.8 6.8m0-6.8l-6.8 6.8M1163.1 291.1l6.8 6.8m0-6.8l-6.8 6.8M1161.1 297.1l6.8 6.8m0-6.8l-6.8 6.8M1161.1 292.1l6.8 6.8m0-6.8l-6.8 6.8M1163.1 293.1l6.8 6.8m0-6.8l-6.8 6.8M1163.1 284.1l6.8 6.8m0-6.8l-6.8 6.8M1162.1 295.1l6.8 6.8m0-6.8l-6.8 6.8M1163.1 297.1l6.8 6.8m0-6.8l-6.8 6.8M1161.1 293.1l6.8 6.8m0-6.8l-6.8 6.8M1162.1 294.1l6.8 6.8m0-6.8l-6.8 6.8M1163.1 288.1l6.8 6.8m0-6.8l-6.8 6.8M1162.1 293.1l6.8 6.8m0-6.8l-6.8 6.8M1158.1 292.1l6.8 6.8m0-6.8l-6.8 6.8M1162.1 289.1l6.8 6.8m0-6.8l-6.8 6.8M1161.1 291.1l6.8 6.8m0-6.8l-6.8 6.8M1161.1 289.1l6.8 6.8m0-6.8l-6.8 6.8M1162.1 292.1l6.8 6.8m0-6.8l-6.8 6.8M1180.1 293.1l6.8 6.8m0-6.8l-6.8 6.8M1180.1 309.1l6.8 6.8m0-6.8l-6.8 6.8M1180.1 309.1l6.8 6.8m0-6.8l-6.8 6.8M1179.1 307.1l6.8 6.8m0-6.8l-6.8 6.8M1177.1 299.1l6.8 6.8m0-6.8l-6.8 6.8M1181.1 297.1l6.8 6.8m0-6.8l-6.8 6.8M1179.1 302.1l6.8 6.8m0-6.8l-6.8 6.8M1179.1 307.1l6.8 6.8m0-6.8l-6.8 6.8M1179.1 303.1l6.8 6.8m0-6.8l-6.8 6.8M1180.1 306.1l6.8 6.8m0-6.8l-6.8 6.8M1179.1 297.1l6.8 6.8m0-6.8l-6.8 6.8M1177.1 303.1l6.8 6.8m0-6.8l-6.8 6.8M1180.1 296.1l6.8 6.8m0-6.8l-6.8 6.8M1181.1 298.1l6.8 6.8m0-6.8l-6.8 6.8M1179.1 303.1l6.8 6.8m0-6.8l-6.8 6.8M1182.1 301.1l6.8 6.8m0-6.8l-6.8 6.8M1179.1 301.1l6.8 6.8m0-6.8l-6.8 6.8M1180.1 298.1l6.8 6.8m0-6.8l-6.8 6.8M1182.1 300.1l6.8 6.8m0-6.8l-6.8 6.8M1181.1 300.1l6.8 6.8m0-6.8l-6.8 6.8M1183.1 299.1l6.8 6.8m0-6.8l-6.8 6.8M1178.1 301.1l6.8 6.8m0-6.8l-6.8 6.8M1180.1 307.1l6.8 6.8m0-6.8l-6.8 6.8M1181.1 298.1l6.8 6.8m0-6.8l-6.8 6.8M1179.1 304.1l6.8 6.8m0-6.8l-6.8 6.8M1178.1 300.1l6.8 6.8m0-6.8l-6.8 6.8M1195.1 288.1l6.8 6.8m0-6.8l-6.8 6.8M1200.1 305.1l6.8 6.8m0-6.8l-6.8 6.8M1194.1 299.1l6.8 6.8m0-6.8l-6.8 6.8M1197.1 295.1l6.8 6.8m0-6.8l-6.8 6.8M1197.1 301.1l6.8 6.8m0-6.8l-6.8 6.8M1198.1 298.1l6.8 6.8m0-6.8l-6.8 6.8M1195.1 296.1l6.8 6.8m0-6.8l-6.8 6.8M1197.1 296.1l6.8 6.8m0-6.8l-6.8 6.8M1199.1 291.1l6.8 6.8m0-6.8l-6.8 6.8M1196.1 294.1l6.8 6.8m0-6.8l-6.8 6.8M1197.1 291.1l6.8 6.8m0-6.8l-6.8 6.8M1195.1 293.1l6.8 6.8m0-6.8l-6.8 6.8M1198.1 297.1l6.8 6.8m0-6.8l-6.8 6.8M1196.1 291.1l6.8 6.8m0-6.8l-6.8 6.8M1196.1 302.1l6.8 6.8m0-6.8l-6.8 6.8M1196.1 304.1l6.8 6.8m0-6.8l-6.8 6.8M1194.1 302.1l6.8 6.8m0-6.8l-6.8 6.8M1194.1 290.1l6.8 6.8m0-6.8l-6.8 6.8M1197.1 290.1l6.8 6.8m0-6.8l-6.8 6.8M1196.1 293.1l6.8 6.8m0-6.8l-6.8 6.8M1196.1 300.1l6.8 6.8m0-6.8l-6.8 6.8M1194.1 293.1l6.8 6.8m0-6.8l-6.8 6.8M1197.1 299.1l6.8 6.8m0-6.8l-6.8 6.8M1196.1 290.1l6.8 6.8m0-6.8l-6.8 6.8M1194.1 293.1l6.8 6.8m0-6.8l-6.8 6.8M1198.1 289.1l6.8 6.8m0-6.8l-6.8 6.8M1213.1 287.1l6.8 6.8m0-6.8l-6.8 6.8M1214.1 303.1l6.8 6.8m0-6.8l-6.8 6.8M1216.1 294.1l6.8 6.8m0-6.8l-6.8 6.8M1214.1 296.1l6.8 6.8m0-6.8l-6.8 6.8M1214.1 299.1l6.8 6.8m0-6.8l-6.8 6.8M1213.1 296.1l6.8 6.8m0-6.8l-6.8 6.8M1214.1 297.1l6.8 6.8m0-6.8l-6.8 6.8M1214.1 302.1l6.8 6.8m0-6.8l-6.8 6.8M1215.1 291.1l6.8 6.8m0-6.8l-6.8 6.8M1216.1 292.1l6.8 6.8m0-6.8l-6.8 6.8M1215.1 290.1l6.8 6.8m0-6.8l-6.8 6.8M1214.1 294.1l6.8 6.8m0-6.8l-6.8 6.8M1214.1 296.1l6.8 6.8m0-6.8l-6.8 6.8M1217.1 291.1l6.8 6.8m0-6.8l-6.8 6.8M1214.1 293.1l6.8 6.8m0-6.8l-6.8 6.8M1214.1 291.1l6.8 6.8m0-6.8l-6.8 6.8M1217.1 301.1l6.8 6.8m0-6.8l-6.8 6.8M1217.1 293.1l6.8 6.8m0-6.8l-6.8 6.8M1215.1 296.1l6.8 6.8m0-6.8l-6.8 6.8M1214.1 298.1l6.8 6.8m0-6.8l-6.8 6.8M1213.1 290.1l6.8 6.8m0-6.8l-6.8 6.8M1216.1 298.1l6.8 6.8m0-6.8l-6.8 6.8M1213.1 294.1l6.8 6.8m0-6.8l-6.8 6.8M1216.1 292.1l6.8 6.8m0-6.8l-6.8 6.8M1213.1 288.1l6.8 6.8m0-6.8l-6.8 6.8M1214.1 290.1l6.8 6.8m0-6.8l-6.8 6.8M1229.1 289.1l6.8 6.8m0-6.8l-6.8 6.8M1232.1 302.1l6.8 6.8m0-6.8l-6.8 6.8M1231.1 291.1l6.8 6.8m0-6.8l-6.8 6.8M1231.1 291.1l6.8 6.8m0-6.8l-6.8 6.8M1234.1 294.1l6.8 6.8m0-6.8l-6.8 6.8M1231.1 292.1l6.8 6.8m0-6.8l-6.8 6.8M1232.1 293.1l6.8 6.8m0-6.8l-6.8 6.8M1232.1 300.1l6.8 6.8m0-6.8l-6.8 6.8M1234.1 299.1l6.8 6.8m0-6.8l-6.8 6.8M1233.1 292.1l6.8 6.8m0-6.8l-6.8 6.8M1229.1 291.1l6.8 6.8m0-6.8l-6.8 6.8M1234.1 298.1l6.8 6.8m0-6.8l-6.8 6.8M1231.1 299.1l6.8 6.8m0-6.8l-6.8 6.8M1231.1 296.1l6.8 6.8m0-6.8l-6.8 6.8M1233.1 297.1l6.8 6.8m0-6.8l-6.8 6.8M1231.1 296.1l6.8 6.8m0-6.8l-6.8 6.8M1231.1 297.1l6.8 6.8m0-6.8l-6.8 6.8M1231.1 293.1l6.8 6.8m0-6.8l-6.8 6.8M1231.1 292.1l6.8 6.8m0-6.8l-6.8 6.8M1233.1 299.1l6.8 6.8m0-6.8l-6.8 6.8M1232.1 293.1l6.8 6.8m0-6.8l-6.8 6.8M1234.1 296.1l6.8 6.8m0-6.8l-6.8 6.8M1234.1 299.1l6.8 6.8m0-6.8l-6.8 6.8M1233.1 298.1l6.8 6.8m0-6.8l-6.8 6.8M1230.1 293.1l6.8 6.8m0-6.8l-6.8 6.8M1232.1 293.1l6.8 6.8m0-6.8l-6.8 6.8M1233.1 279.1l6.8 6.8m0-6.8l-6.8 6.8M1230.1 312.1l6.8 6.8m0-6.8l-6.8 6.8M1234.1 312.1l6.8 6.8m0-6.8l-6.8 6.8M1249.1 291.1l6.8 6.8m0-6.8l-6.8 6.8M1245.1 317.1l6.8 6.8m0-6.8l-6.8 6.8M1247.1 307.1l6.8 6.8m0-6.8l-6.8 6.8M1249.1 297.1l6.8 6.8m0-6.8l-6.8 6.8M1249.1 313.1l6.8 6.8m0-6.8l-6.8 6.8M1248.1 306.1l6.8 6.8m0-6.8l-6.8 6.8M1246.1 304.1l6.8 6.8m0-6.8l-6.8 6.8M1248.1 308.1l6.8 6.8m0-6.8l-6.8 6.8M1249.1 300.1l6.8 6.8m0-6.8l-6.8 6.8M1248.1 306.1l6.8 6.8m0-6.8l-6.8 6.8M1251.1 305.1l6.8 6.8m0-6.8l-6.8 6.8M1249.1 314.1l6.8 6.8m0-6.8l-6.8 6.8M1249.1 297.1l6.8 6.8m0-6.8l-6.8 6.8M1248.1 310.1l6.8 6.8m0-6.8l-6.8 6.8M1245.1 309.1l6.8 6.8m0-6.8l-6.8 6.8M1250.1 294.1l6.8 6.8m0-6.8l-6.8 6.8M1247.1 307.1l6.8 6.8m0-6.8l-6.8 6.8M1250.1 302.1l6.8 6.8m0-6.8l-6.8 6.8M1248.1 303.1l6.8 6.8m0-6.8l-6.8 6.8M1248.1 307.1l6.8 6.8m0-6.8l-6.8 6.8M1250.1 301.1l6.8 6.8m0-6.8l-6.8 6.8M1248.1 295.1l6.8 6.8m0-6.8l-6.8 6.8M1246.1 305.1l6.8 6.8m0-6.8l-6.8 6.8M1249.1 299.1l6.8 6.8m0-6.8l-6.8 6.8M1249.1 306.1l6.8 6.8m0-6.8l-6.8 6.8M1249.1 297.1l6.8 6.8m0-6.8l-6.8 6.8M1267.1 294.1l6.8 6.8m0-6.8l-6.8 6.8M1264.1 315.1l6.8 6.8m0-6.8l-6.8 6.8M1268.1 304.1l6.8 6.8m0-6.8l-6.8 6.8M1263.1 300.1l6.8 6.8m0-6.8l-6.8 6.8M1268.1 304.1l6.8 6.8m0-6.8l-6.8 6.8M1267.1 312.1l6.8 6.8m0-6.8l-6.8 6.8M1262.1 298.1l6.8 6.8m0-6.8l-6.8 6.8M1268.1 314.1l6.8 6.8m0-6.8l-6.8 6.8M1268.1 299.1l6.8 6.8m0-6.8l-6.8 6.8M1265.1 311.1l6.8 6.8m0-6.8l-6.8 6.8M1263.1 304.1l6.8 6.8m0-6.8l-6.8 6.8M1265.1 304.1l6.8 6.8m0-6.8l-6.8 6.8M1265.1 311.1l6.8 6.8m0-6.8l-6.8 6.8M1266.1 296.1l6.8 6.8m0-6.8l-6.8 6.8M1264.1 302.1l6.8 6.8m0-6.8l-6.8 6.8M1264.1 302.1l6.8 6.8m0-6.8l-6.8 6.8M1266.1 297.1l6.8 6.8m0-6.8l-6.8 6.8M1266.1 312.1l6.8 6.8m0-6.8l-6.8 6.8M1262.1 307.1l6.8 6.8m0-6.8l-6.8 6.8M1266.1 305.1l6.8 6.8m0-6.8l-6.8 6.8M1264.1 300.1l6.8 6.8m0-6.8l-6.8 6.8M1264.1 314.1l6.8 6.8m0-6.8l-6.8 6.8M1266.1 304.1l6.8 6.8m0-6.8l-6.8 6.8M1266.1 304.1l6.8 6.8m0-6.8l-6.8 6.8M1266.1 311.1l6.8 6.8m0-6.8l-6.8 6.8M1268.1 305.1l6.8 6.8m0-6.8l-6.8 6.8M1282.1 304.1l6.8 6.8m0-6.8l-6.8 6.8M1280.1 325.1l6.8 6.8m0-6.8l-6.8 6.8M1283.1 307.1l6.8 6.8m0-6.8l-6.8 6.8M1284.1 319.1l6.8 6.8m0-6.8l-6.8 6.8M1282.1 314.1l6.8 6.8m0-6.8l-6.8 6.8M1285.1 320.1l6.8 6.8m0-6.8l-6.8 6.8M1284.1 316.1l6.8 6.8m0-6.8l-6.8 6.8M1285.1 317.1l6.8 6.8m0-6.8l-6.8 6.8M1281.1 317.1l6.8 6.8m0-6.8l-6.8 6.8M1283.1 321.1l6.8 6.8m0-6.8l-6.8 6.8M1285.1 320.1l6.8 6.8m0-6.8l-6.8 6.8M1286.1 319.1l6.8 6.8m0-6.8l-6.8 6.8M1285.1 308.1l6.8 6.8m0-6.8l-6.8 6.8M1283.1 315.1l6.8 6.8m0-6.8l-6.8 6.8M1283.1 316.1l6.8 6.8m0-6.8l-6.8 6.8M1282.1 322.1l6.8 6.8m0-6.8l-6.8 6.8M1285.1 320.1l6.8 6.8m0-6.8l-6.8 6.8M1282.1 322.1l6.8 6.8m0-6.8l-6.8 6.8M1283.1 316.1l6.8 6.8m0-6.8l-6.8 6.8M1280.1 318.1l6.8 6.8m0-6.8l-6.8 6.8M1281.1 307.1l6.8 6.8m0-6.8l-6.8 6.8M1286.1 319.1l6.8 6.8m0-6.8l-6.8 6.8M1283.1 309.1l6.8 6.8m0-6.8l-6.8 6.8M1283.1 305.1l6.8 6.8m0-6.8l-6.8 6.8M1280.1 317.1l6.8 6.8m0-6.8l-6.8 6.8M1283.1 312.1l6.8 6.8m0-6.8l-6.8 6.8M1280.1 293.1l6.8 6.8m0-6.8l-6.8 6.8M1300.1 308.1l6.8 6.8m0-6.8l-6.8 6.8M1301.1 326.1l6.8 6.8m0-6.8l-6.8 6.8M1298.1 322.1l6.8 6.8m0-6.8l-6.8 6.8M1298.1 315.1l6.8 6.8m0-6.8l-6.8 6.8M1300.1 321.1l6.8 6.8m0-6.8l-6.8 6.8M1300.1 322.1l6.8 6.8m0-6.8l-6.8 6.8M1300.1 318.1l6.8 6.8m0-6.8l-6.8 6.8M1300.1 314.1l6.8 6.8m0-6.8l-6.8 6.8M1299.1 317.1l6.8 6.8m0-6.8l-6.8 6.8M1301.1 317.1l6.8 6.8m0-6.8l-6.8 6.8M1300.1 320.1l6.8 6.8m0-6.8l-6.8 6.8M1301.1 317.1l6.8 6.8m0-6.8l-6.8 6.8M1296.1 313.1l6.8 6.8m0-6.8l-6.8 6.8M1301.1 320.1l6.8 6.8m0-6.8l-6.8 6.8M1296.1 323.1l6.8 6.8m0-6.8l-6.8 6.8M1300.1 318.1l6.8 6.8m0-6.8l-6.8 6.8M1298.1 317.1l6.8 6.8m0-6.8l-6.8 6.8M1299.1 309.1l6.8 6.8m0-6.8l-6.8 6.8M1299.1 322.1l6.8 6.8m0-6.8l-6.8 6.8M1299.1 311.1l6.8 6.8m0-6.8l-6.8 6.8M1300.1 321.1l6.8 6.8m0-6.8l-6.8 6.8M1300.1 321.1l6.8 6.8m0-6.8l-6.8 6.8M1298.1 316.1l6.8 6.8m0-6.8l-6.8 6.8M1296.1 321.1l6.8 6.8m0-6.8l-6.8 6.8M1298.1 317.1l6.8 6.8m0-6.8l-6.8 6.8M1300.1 312.1l6.8 6.8m0-6.8l-6.8 6.8M1318.1 307.1l6.8 6.8m0-6.8l-6.8 6.8M1316.1 329.1l6.8 6.8m0-6.8l-6.8 6.8M1318.1 315.1l6.8 6.8m0-6.8l-6.8 6.8M1319.1 315.1l6.8 6.8m0-6.8l-6.8 6.8M1316.1 320.1l6.8 6.8m0-6.8l-6.8 6.8M1317.1 318.1l6.8 6.8m0-6.8l-6.8 6.8M1318.1 321.1l6.8 6.8m0-6.8l-6.8 6.8M1317.1 313.1l6.8 6.8m0-6.8l-6.8 6.8M1316.1 319.1l6.8 6.8m0-6.8l-6.8 6.8M1317.1 322.1l6.8 6.8m0-6.8l-6.8 6.8M1316.1 321.1l6.8 6.8m0-6.8l-6.8 6.8M1317.1 325.1l6.8 6.8m0-6.8l-6.8 6.8M1317.1 317.1l6.8 6.8m0-6.8l-6.8 6.8M1317.1 315.1l6.8 6.8m0-6.8l-6.8 6.8M1316.1 313.1l6.8 6.8m0-6.8l-6.8 6.8M1317.1 315.1l6.8 6.8m0-6.8l-6.8 6.8M1317.1 326.1l6.8 6.8m0-6.8l-6.8 6.8M1317.1 320.1l6.8 6.8m0-6.8l-6.8 6.8M1319.1 314.1l6.8 6.8m0-6.8l-6.8 6.8M1316.1 312.1l6.8 6.8m0-6.8l-6.8 6.8M1314.1 318.1l6.8 6.8m0-6.8l-6.8 6.8M1319.1 319.1l6.8 6.8m0-6.8l-6.8 6.8M1316.1 313.1l6.8 6.8m0-6.8l-6.8 6.8M1317.1 316.1l6.8 6.8m0-6.8l-6.8 6.8M1316.1 312.1l6.8 6.8m0-6.8l-6.8 6.8M1318.1 318.1l6.8 6.8m0-6.8l-6.8 6.8M1332.1 310.1l6.8 6.8m0-6.8l-6.8 6.8M1333.1 335.1l6.8 6.8m0-6.8l-6.8 6.8M1334.1 328.1l6.8 6.8m0-6.8l-6.8 6.8M1335.1 319.1l6.8 6.8m0-6.8l-6.8 6.8M1336.1 313.1l6.8 6.8m0-6.8l-6.8 6.8M1334.1 322.1l6.8 6.8m0-6.8l-6.8 6.8M1334.1 313.1l6.8 6.8m0-6.8l-6.8 6.8M1335.1 312.1l6.8 6.8m0-6.8l-6.8 6.8M1332.1 312.1l6.8 6.8m0-6.8l-6.8 6.8M1334.1 320.1l6.8 6.8m0-6.8l-6.8 6.8M1334.1 315.1l6.8 6.8m0-6.8l-6.8 6.8M1335.1 320.1l6.8 6.8m0-6.8l-6.8 6.8M1333.1 329.1l6.8 6.8m0-6.8l-6.8 6.8M1333.1 321.1l6.8 6.8m0-6.8l-6.8 6.8M1332.1 320.1l6.8 6.8m0-6.8l-6.8 6.8M1334.1 316.1l6.8 6.8m0-6.8l-6.8 6.8M1333.1 333.1l6.8 6.8m0-6.8l-6.8 6.8M1338.1 315.1l6.8 6.8m0-6.8l-6.8 6.8M1333.1 319.1l6.8 6.8m0-6.8l-6.8 6.8M1336.1 322.1l6.8 6.8m0-6.8l-6.8 6.8M1333.1 323.1l6.8 6.8m0-6.8l-6.8 6.8M1334.1 329.1l6.8 6.8m0-6.8l-6.8 6.8M1336.1 324.1l6.8 6.8m0-6.8l-6.8 6.8M1334.1 326.1l6.8 6.8m0-6.8l-6.8 6.8M1338.1 320.1l6.8 6.8m0-6.8l-6.8 6.8M1335.1 332.1l6.8 6.8m0-6.8l-6.8 6.8M1349.1 313.1l6.8 6.8m0-6.8l-6.8 6.8M1354.1 340.1l6.8 6.8m0-6.8l-6.8 6.8M1351.1 313.1l6.8 6.8m0-6.8l-6.8 6.8M1352.1 324.1l6.8 6.8m0-6.8l-6.8 6.8M1352.1 320.1l6.8 6.8m0-6.8l-6.8 6.8M1351.1 329.1l6.8 6.8m0-6.8l-6.8 6.8M1351.1 335.1l6.8 6.8m0-6.8l-6.8 6.8M1351.1 324.1l6.8 6.8m0-6.8l-6.8 6.8M1354.1 337.1l6.8 6.8m0-6.8l-6.8 6.8M1352.1 333.1l6.8 6.8m0-6.8l-6.8 6.8M1352.1 335.1l6.8 6.8m0-6.8l-6.8 6.8M1351.1 337.1l6.8 6.8m0-6.8l-6.8 6.8M1351.1 333.1l6.8 6.8m0-6.8l-6.8 6.8M1351.1 321.1l6.8 6.8m0-6.8l-6.8 6.8M1352.1 335.1l6.8 6.8m0-6.8l-6.8 6.8M1355.1 332.1l6.8 6.8m0-6.8l-6.8 6.8M1353.1 332.1l6.8 6.8m0-6.8l-6.8 6.8M1352.1 321.1l6.8 6.8m0-6.8l-6.8 6.8M1354.1 326.1l6.8 6.8m0-6.8l-6.8 6.8M1353.1 329.1l6.8 6.8m0-6.8l-6.8 6.8M1352.1 323.1l6.8 6.8m0-6.8l-6.8 6.8M1351.1 337.1l6.8 6.8m0-6.8l-6.8 6.8M1350.1 334.1l6.8 6.8m0-6.8l-6.8 6.8M1352.1 326.1l6.8 6.8m0-6.8l-6.8 6.8M1351.1 327.1l6.8 6.8m0-6.8l-6.8 6.8M1349.1 318.1l6.8 6.8m0-6.8l-6.8 6.8M1367.1 312.1l6.8 6.8m0-6.8l-6.8 6.8M1366.1 347.1l6.8 6.8m0-6.8l-6.8 6.8M1372.1 343.1l6.8 6.8m0-6.8l-6.8 6.8M1370.1 318.1l6.8 6.8m0-6.8l-6.8 6.8M1369.1 334.1l6.8 6.8m0-6.8l-6.8 6.8M1366.1 334.1l6.8 6.8m0-6.8l-6.8 6.8M1367.1 319.1l6.8 6.8m0-6.8l-6.8 6.8M1367.1 313.1l6.8 6.8m0-6.8l-6.8 6.8M1370.1 343.1l6.8 6.8m0-6.8l-6.8 6.8M1369.1 342.1l6.8 6.8m0-6.8l-6.8 6.8M1369.1 332.1l6.8 6.8m0-6.8l-6.8 6.8M1369.1 331.1l6.8 6.8m0-6.8l-6.8 6.8M1370.1 316.1l6.8 6.8m0-6.8l-6.8 6.8M1368.1 325.1l6.8 6.8m0-6.8l-6.8 6.8M1371.1 331.1l6.8 6.8m0-6.8l-6.8 6.8M1366.1 323.1l6.8 6.8m0-6.8l-6.8 6.8M1367.1 328.1l6.8 6.8m0-6.8l-6.8 6.8M1368.1 315.1l6.8 6.8m0-6.8l-6.8 6.8M1367.1 334.1l6.8 6.8m0-6.8l-6.8 6.8M1371.1 327.1l6.8 6.8m0-6.8l-6.8 6.8M1368.1 324.1l6.8 6.8m0-6.8l-6.8 6.8M1366.1 328.1l6.8 6.8m0-6.8l-6.8 6.8M1368.1 333.1l6.8 6.8m0-6.8l-6.8 6.8M1368.1 325.1l6.8 6.8m0-6.8l-6.8 6.8M1367.1 330.1l6.8 6.8m0-6.8l-6.8 6.8M1368.1 342.1l6.8 6.8m0-6.8l-6.8 6.8M1385.1 323.1l6.8 6.8m0-6.8l-6.8 6.8M1385.1 341.1l6.8 6.8m0-6.8l-6.8 6.8M1386.1 329.1l6.8 6.8m0-6.8l-6.8 6.8M1384.1 339.1l6.8 6.8m0-6.8l-6.8 6.8M1384.1 324.1l6.8 6.8m0-6.8l-6.8 6.8M1389.1 334.1l6.8 6.8m0-6.8l-6.8 6.8M1386.1 337.1l6.8 6.8m0-6.8l-6.8 6.8M1387.1 338.1l6.8 6.8m0-6.8l-6.8 6.8M1386.1 325.1l6.8 6.8m0-6.8l-6.8 6.8M1387.1 334.1l6.8 6.8m0-6.8l-6.8 6.8M1383.1 339.1l6.8 6.8m0-6.8l-6.8 6.8M1384.1 333.1l6.8 6.8m0-6.8l-6.8 6.8M1387.1 331.1l6.8 6.8m0-6.8l-6.8 6.8M1387.1 332.1l6.8 6.8m0-6.8l-6.8 6.8M1384.1 332.1l6.8 6.8m0-6.8l-6.8 6.8M1385.1 327.1l6.8 6.8m0-6.8l-6.8 6.8M1384.1 331.1l6.8 6.8m0-6.8l-6.8 6.8M1387.1 339.1l6.8 6.8m0-6.8l-6.8 6.8M1386.1 338.1l6.8 6.8m0-6.8l-6.8 6.8M1386.1 326.1l6.8 6.8m0-6.8l-6.8 6.8M1385.1 335.1l6.8 6.8m0-6.8l-6.8 6.8M1386.1 337.1l6.8 6.8m0-6.8l-6.8 6.8M1386.1 336.1l6.8 6.8m0-6.8l-6.8 6.8M1385.1 327.1l6.8 6.8m0-6.8l-6.8 6.8M1386.1 335.1l6.8 6.8m0-6.8l-6.8 6.8M1385.1 331.1l6.8 6.8m0-6.8l-6.8 6.8M1388.1 321.1l6.8 6.8m0-6.8l-6.8 6.8M1401.1 333.1l6.8 6.8m0-6.8l-6.8 6.8M1402.1 346.1l6.8 6.8m0-6.8l-6.8 6.8M1404.1 340.1l6.8 6.8m0-6.8l-6.8 6.8M1405.1 338.1l6.8 6.8m0-6.8l-6.8 6.8M1405.1 341.1l6.8 6.8m0-6.8l-6.8 6.8M1405.1 345.1l6.8 6.8m0-6.8l-6.8 6.8M1403.1 340.1l6.8 6.8m0-6.8l-6.8 6.8M1403.1 335.1l6.8 6.8m0-6.8l-6.8 6.8M1406.1 338.1l6.8 6.8m0-6.8l-6.8 6.8M1404.1 341.1l6.8 6.8m0-6.8l-6.8 6.8M1405.1 338.1l6.8 6.8m0-6.8l-6.8 6.8M1403.1 342.1l6.8 6.8m0-6.8l-6.8 6.8M1402.1 338.1l6.8 6.8m0-6.8l-6.8 6.8M1404.1 344.1l6.8 6.8m0-6.8l-6.8 6.8M1404.1 339.1l6.8 6.8m0-6.8l-6.8 6.8M1400.1 336.1l6.8 6.8m0-6.8l-6.8 6.8M1402.1 336.1l6.8 6.8m0-6.8l-6.8 6.8M1404.1 338.1l6.8 6.8m0-6.8l-6.8 6.8M1403.1 338.1l6.8 6.8m0-6.8l-6.8 6.8M1401.1 340.1l6.8 6.8m0-6.8l-6.8 6.8M1403.1 336.1l6.8 6.8m0-6.8l-6.8 6.8M1404.1 339.1l6.8 6.8m0-6.8l-6.8 6.8M1406.1 341.1l6.8 6.8m0-6.8l-6.8 6.8M1400.1 341.1l6.8 6.8m0-6.8l-6.8 6.8M1403.1 344.1l6.8 6.8m0-6.8l-6.8 6.8M1402.1 337.1l6.8 6.8m0-6.8l-6.8 6.8M1402.1 323.1l6.8 6.8m0-6.8l-6.8 6.8M1422.1 333.1l6.8 6.8m0-6.8l-6.8 6.8M1419.1 350.1l6.8 6.8m0-6.8l-6.8 6.8M1421.1 345.1l6.8 6.8m0-6.8l-6.8 6.8M1421.1 344.1l6.8 6.8m0-6.8l-6.8 6.8M1422.1 345.1l6.8 6.8m0-6.8l-6.8 6.8M1419.1 343.1l6.8 6.8m0-6.8l-6.8 6.8M1421.1 341.1l6.8 6.8m0-6.8l-6.8 6.8M1419.1 344.1l6.8 6.8m0-6.8l-6.8 6.8M1422.1 342.1l6.8 6.8m0-6.8l-6.8 6.8M1421.1 344.1l6.8 6.8m0-6.8l-6.8 6.8M1423.1 344.1l6.8 6.8m0-6.8l-6.8 6.8M1420.1 344.1l6.8 6.8m0-6.8l-6.8 6.8M1423.1 348.1l6.8 6.8m0-6.8l-6.8 6.8M1420.1 335.1l6.8 6.8m0-6.8l-6.8 6.8M1418.1 344.1l6.8 6.8m0-6.8l-6.8 6.8M1419.1 340.1l6.8 6.8m0-6.8l-6.8 6.8M1421.1 339.1l6.8 6.8m0-6.8l-6.8 6.8M1422.1 345.1l6.8 6.8m0-6.8l-6.8 6.8M1420.1 344.1l6.8 6.8m0-6.8l-6.8 6.8M1420.1 335.1l6.8 6.8m0-6.8l-6.8 6.8M1422.1 346.1l6.8 6.8m0-6.8l-6.8 6.8M1419.1 337.1l6.8 6.8m0-6.8l-6.8 6.8M1422.1 335.1l6.8 6.8m0-6.8l-6.8 6.8M1421.1 339.1l6.8 6.8m0-6.8l-6.8 6.8M1419.1 340.1l6.8 6.8m0-6.8l-6.8 6.8M1421.1 339.1l6.8 6.8m0-6.8l-6.8 6.8M1419.1 326.1l6.8 6.8m0-6.8l-6.8 6.8M1437.1 337.1l6.8 6.8m0-6.8l-6.8 6.8M1439.1 358.1l6.8 6.8m0-6.8l-6.8 6.8M1438.1 344.1l6.8 6.8m0-6.8l-6.8 6.8M1437.1 344.1l6.8 6.8m0-6.8l-6.8 6.8M1441.1 352.1l6.8 6.8m0-6.8l-6.8 6.8M1440.1 349.1l6.8 6.8m0-6.8l-6.8 6.8M1437.1 351.1l6.8 6.8m0-6.8l-6.8 6.8M1439.1 344.1l6.8 6.8m0-6.8l-6.8 6.8M1437.1 340.1l6.8 6.8m0-6.8l-6.8 6.8M1437.1 340.1l6.8 6.8m0-6.8l-6.8 6.8M1440.1 339.1l6.8 6.8m0-6.8l-6.8 6.8M1438.1 339.1l6.8 6.8m0-6.8l-6.8 6.8M1438.1 346.1l6.8 6.8m0-6.8l-6.8 6.8M1438.1 348.1l6.8 6.8m0-6.8l-6.8 6.8M1436.1 353.1l6.8 6.8m0-6.8l-6.8 6.8M1440.1 353.1l6.8 6.8m0-6.8l-6.8 6.8M1437.1 344.1l6.8 6.8m0-6.8l-6.8 6.8M1440.1 351.1l6.8 6.8m0-6.8l-6.8 6.8M1437.1 356.1l6.8 6.8m0-6.8l-6.8 6.8M1437.1 341.1l6.8 6.8m0-6.8l-6.8 6.8M1440.1 346.1l6.8 6.8m0-6.8l-6.8 6.8M1438.1 356.1l6.8 6.8m0-6.8l-6.8 6.8M1437.1 342.1l6.8 6.8m0-6.8l-6.8 6.8M1437.1 355.1l6.8 6.8m0-6.8l-6.8 6.8M1439.1 342.1l6.8 6.8m0-6.8l-6.8 6.8M1441.1 357.1l6.8 6.8m0-6.8l-6.8 6.8M1455.1 337.1l6.8 6.8m0-6.8l-6.8 6.8M1455.1 359.1l6.8 6.8m0-6.8l-6.8 6.8M1454.1 349.1l6.8 6.8m0-6.8l-6.8 6.8M1456.1 356.1l6.8 6.8m0-6.8l-6.8 6.8M1453.1 339.1l6.8 6.8m0-6.8l-6.8 6.8M1455.1 351.1l6.8 6.8m0-6.8l-6.8 6.8M1454.1 345.1l6.8 6.8m0-6.8l-6.8 6.8M1453.1 345.1l6.8 6.8m0-6.8l-6.8 6.8M1456.1 346.1l6.8 6.8m0-6.8l-6.8 6.8M1455.1 348.1l6.8 6.8m0-6.8l-6.8 6.8M1453.1 357.1l6.8 6.8m0-6.8l-6.8 6.8M1455.1 355.1l6.8 6.8m0-6.8l-6.8 6.8M1453.1 350.1l6.8 6.8m0-6.8l-6.8 6.8M1457.1 340.1l6.8 6.8m0-6.8l-6.8 6.8M1456.1 350.1l6.8 6.8m0-6.8l-6.8 6.8M1458.1 344.1l6.8 6.8m0-6.8l-6.8 6.8M1454.1 350.1l6.8 6.8m0-6.8l-6.8 6.8M1456.1 343.1l6.8 6.8m0-6.8l-6.8 6.8M1453.1 348.1l6.8 6.8m0-6.8l-6.8 6.8M1453.1 352.1l6.8 6.8m0-6.8l-6.8 6.8M1455.1 354.1l6.8 6.8m0-6.8l-6.8 6.8M1455.1 344.1l6.8 6.8m0-6.8l-6.8 6.8M1456.1 342.1l6.8 6.8m0-6.8l-6.8 6.8M1454.1 358.1l6.8 6.8m0-6.8l-6.8 6.8M1457.1 348.1l6.8 6.8m0-6.8l-6.8 6.8M1456.1 339.1l6.8 6.8m0-6.8l-6.8 6.8M1472.1 339.1l6.8 6.8m0-6.8l-6.8 6.8M1472.1 357.1l6.8 6.8m0-6.8l-6.8 6.8M1470.1 346.1l6.8 6.8m0-6.8l-6.8 6.8M1474.1 352.1l6.8 6.8m0-6.8l-6.8 6.8M1470.1 347.1l6.8 6.8m0-6.8l-6.8 6.8M1472.1 345.1l6.8 6.8m0-6.8l-6.8 6.8M1471.1 350.1l6.8 6.8m0-6.8l-6.8 6.8M1474.1 352.1l6.8 6.8m0-6.8l-6.8 6.8M1476.1 346.1l6.8 6.8m0-6.8l-6.8 6.8M1472.1 352.1l6.8 6.8m0-6.8l-6.8 6.8M1472.1 350.1l6.8 6.8m0-6.8l-6.8 6.8M1472.1 344.1l6.8 6.8m0-6.8l-6.8 6.8M1472.1 344.1l6.8 6.8m0-6.8l-6.8 6.8M1472.1 345.1l6.8 6.8m0-6.8l-6.8 6.8M1476.1 341.1l6.8 6.8m0-6.8l-6.8 6.8M1471.1 349.1l6.8 6.8m0-6.8l-6.8 6.8M1472.1 351.1l6.8 6.8m0-6.8l-6.8 6.8M1471.1 347.1l6.8 6.8m0-6.8l-6.8 6.8M1473.1 350.1l6.8 6.8m0-6.8l-6.8 6.8M1472.1 348.1l6.8 6.8m0-6.8l-6.8 6.8M1474.1 349.1l6.8 6.8m0-6.8l-6.8 6.8M1471.1 348.1l6.8 6.8m0-6.8l-6.8 6.8M1476.1 355.1l6.8 6.8m0-6.8l-6.8 6.8M1473.1 345.1l6.8 6.8m0-6.8l-6.8 6.8M1470.1 341.1l6.8 6.8m0-6.8l-6.8 6.8M1474.1 346.1l6.8 6.8m0-6.8l-6.8 6.8M1475.1 367.1l6.8 6.8m0-6.8l-6.8 6.8M1473.1 372.1l6.8 6.8m0-6.8l-6.8 6.8M1489.1 347.1l6.8 6.8m0-6.8l-6.8 6.8M1490.1 367.1l6.8 6.8m0-6.8l-6.8 6.8M1491.1 364.1l6.8 6.8m0-6.8l-6.8 6.8M1490.1 349.1l6.8 6.8m0-6.8l-6.8 6.8M1488.1 350.1l6.8 6.8m0-6.8l-6.8 6.8M1488.1 359.1l6.8 6.8m0-6.8l-6.8 6.8M1491.1 351.1l6.8 6.8m0-6.8l-6.8 6.8M1492.1 353.1l6.8 6.8m0-6.8l-6.8 6.8M1493.1 355.1l6.8 6.8m0-6.8l-6.8 6.8M1488.1 362.1l6.8 6.8m0-6.8l-6.8 6.8M1490.1 364.1l6.8 6.8m0-6.8l-6.8 6.8M1490.1 357.1l6.8 6.8m0-6.8l-6.8 6.8M1489.1 359.1l6.8 6.8m0-6.8l-6.8 6.8M1490.1 349.1l6.8 6.8m0-6.8l-6.8 6.8M1488.1 360.1l6.8 6.8m0-6.8l-6.8 6.8M1490.1 350.1l6.8 6.8m0-6.8l-6.8 6.8M1489.1 354.1l6.8 6.8m0-6.8l-6.8 6.8M1490.1 358.1l6.8 6.8m0-6.8l-6.8 6.8M1492.1 361.1l6.8 6.8m0-6.8l-6.8 6.8M1488.1 357.1l6.8 6.8m0-6.8l-6.8 6.8M1490.1 352.1l6.8 6.8m0-6.8l-6.8 6.8M1489.1 365.1l6.8 6.8m0-6.8l-6.8 6.8M1489.1 357.1l6.8 6.8m0-6.8l-6.8 6.8M1490.1 366.1l6.8 6.8m0-6.8l-6.8 6.8M1490.1 361.1l6.8 6.8m0-6.8l-6.8 6.8M1490.1 361.1l6.8 6.8m0-6.8l-6.8 6.8M1492.1 340.1l6.8 6.8m0-6.8l-6.8 6.8M1509.1 350.1l6.8 6.8m0-6.8l-6.8 6.8M1508.1 371.1l6.8 6.8m0-6.8l-6.8 6.8M1507.1 356.1l6.8 6.8m0-6.8l-6.8 6.8M1506.1 354.1l6.8 6.8m0-6.8l-6.8 6.8M1505.1 365.1l6.8 6.8m0-6.8l-6.8 6.8M1506.1 367.1l6.8 6.8m0-6.8l-6.8 6.8M1509.1 355.1l6.8 6.8m0-6.8l-6.8 6.8M1509.1 363.1l6.8 6.8m0-6.8l-6.8 6.8M1507.1 354.1l6.8 6.8m0-6.8l-6.8 6.8M1507.1 361.1l6.8 6.8m0-6.8l-6.8 6.8M1507.1 360.1l6.8 6.8m0-6.8l-6.8 6.8M1508.1 355.1l6.8 6.8m0-6.8l-6.8 6.8M1507.1 363.1l6.8 6.8m0-6.8l-6.8 6.8M1508.1 354.1l6.8 6.8m0-6.8l-6.8 6.8M1506.1 362.1l6.8 6.8m0-6.8l-6.8 6.8M1507.1 360.1l6.8 6.8m0-6.8l-6.8 6.8M1506.1 354.1l6.8 6.8m0-6.8l-6.8 6.8M1509.1 363.1l6.8 6.8m0-6.8l-6.8 6.8M1505.1 368.1l6.8 6.8m0-6.8l-6.8 6.8M1509.1 352.1l6.8 6.8m0-6.8l-6.8 6.8M1507.1 354.1l6.8 6.8m0-6.8l-6.8 6.8M1506.1 365.1l6.8 6.8m0-6.8l-6.8 6.8M1507.1 364.1l6.8 6.8m0-6.8l-6.8 6.8M1507.1 362.1l6.8 6.8m0-6.8l-6.8 6.8M1507.1 357.1l6.8 6.8m0-6.8l-6.8 6.8M1508.1 360.1l6.8 6.8m0-6.8l-6.8 6.8M1505.1 409.1l6.8 6.8m0-6.8l-6.8 6.8M1524.1 363.1l6.8 6.8m0-6.8l-6.8 6.8M1525.1 388.1l6.8 6.8m0-6.8l-6.8 6.8M1524.1 380.1l6.8 6.8m0-6.8l-6.8 6.8M1523.1 365.1l6.8 6.8m0-6.8l-6.8 6.8M1525.1 385.1l6.8 6.8m0-6.8l-6.8 6.8M1523.1 371.1l6.8 6.8m0-6.8l-6.8 6.8M1522.1 385.1l6.8 6.8m0-6.8l-6.8 6.8M1523.1 368.1l6.8 6.8m0-6.8l-6.8 6.8M1526.1 378.1l6.8 6.8m0-6.8l-6.8 6.8M1526.1 371.1l6.8 6.8m0-6.8l-6.8 6.8M1528.1 384.1l6.8 6.8m0-6.8l-6.8 6.8M1526.1 379.1l6.8 6.8m0-6.8l-6.8 6.8M1527.1 376.1l6.8 6.8m0-6.8l-6.8 6.8M1525.1 371.1l6.8 6.8m0-6.8l-6.8 6.8M1524.1 373.1l6.8 6.8m0-6.8l-6.8 6.8M1525.1 381.1l6.8 6.8m0-6.8l-6.8 6.8M1523.1 379.1l6.8 6.8m0-6.8l-6.8 6.8M1525.1 385.1l6.8 6.8m0-6.8l-6.8 6.8M1524.1 376.1l6.8 6.8m0-6.8l-6.8 6.8M1525.1 372.1l6.8 6.8m0-6.8l-6.8 6.8M1523.1 380.1l6.8 6.8m0-6.8l-6.8 6.8M1524.1 376.1l6.8 6.8m0-6.8l-6.8 6.8M1526.1 378.1l6.8 6.8m0-6.8l-6.8 6.8M1524.1 374.1l6.8 6.8m0-6.8l-6.8 6.8M1523.1 371.1l6.8 6.8m0-6.8l-6.8 6.8M1525.1 374.1l6.8 6.8m0-6.8l-6.8 6.8M1544.1 366.1l6.8 6.8m0-6.8l-6.8 6.8M1545.1 388.1l6.8 6.8m0-6.8l-6.8 6.8M1544.1 373.1l6.8 6.8m0-6.8l-6.8 6.8M1540.1 385.1l6.8 6.8m0-6.8l-6.8 6.8M1543.1 382.1l6.8 6.8m0-6.8l-6.8 6.8M1542.1 370.1l6.8 6.8m0-6.8l-6.8 6.8M1541.1 376.1l6.8 6.8m0-6.8l-6.8 6.8M1544.1 379.1l6.8 6.8m0-6.8l-6.8 6.8M1543.1 383.1l6.8 6.8m0-6.8l-6.8 6.8M1540.1 370.1l6.8 6.8m0-6.8l-6.8 6.8M1540.1 384.1l6.8 6.8m0-6.8l-6.8 6.8M1541.1 378.1l6.8 6.8m0-6.8l-6.8 6.8M1544.1 368.1l6.8 6.8m0-6.8l-6.8 6.8M1542.1 385.1l6.8 6.8m0-6.8l-6.8 6.8M1543.1 379.1l6.8 6.8m0-6.8l-6.8 6.8M1541.1 373.1l6.8 6.8m0-6.8l-6.8 6.8M1544.1 382.1l6.8 6.8m0-6.8l-6.8 6.8M1541.1 375.1l6.8 6.8m0-6.8l-6.8 6.8M1543.1 377.1l6.8 6.8m0-6.8l-6.8 6.8M1541.1 370.1l6.8 6.8m0-6.8l-6.8 6.8M1541.1 369.1l6.8 6.8m0-6.8l-6.8 6.8M1542.1 371.1l6.8 6.8m0-6.8l-6.8 6.8M1540.1 384.1l6.8 6.8m0-6.8l-6.8 6.8M1542.1 372.1l6.8 6.8m0-6.8l-6.8 6.8M1542.1 383.1l6.8 6.8m0-6.8l-6.8 6.8M1540.1 382.1l6.8 6.8m0-6.8l-6.8 6.8M1542.1 397.1l6.8 6.8m0-6.8l-6.8 6.8M1562.1 373.1l6.8 6.8m0-6.8l-6.8 6.8M1558.1 393.1l6.8 6.8m0-6.8l-6.8 6.8M1560.1 383.1l6.8 6.8m0-6.8l-6.8 6.8M1558.1 382.1l6.8 6.8m0-6.8l-6.8 6.8M1559.1 381.1l6.8 6.8m0-6.8l-6.8 6.8M1557.1 387.1l6.8 6.8m0-6.8l-6.8 6.8M1558.1 382.1l6.8 6.8m0-6.8l-6.8 6.8M1560.1 388.1l6.8 6.8m0-6.8l-6.8 6.8M1560.1 381.1l6.8 6.8m0-6.8l-6.8 6.8M1556.1 382.1l6.8 6.8m0-6.8l-6.8 6.8M1560.1 379.1l6.8 6.8m0-6.8l-6.8 6.8M1557.1 385.1l6.8 6.8m0-6.8l-6.8 6.8M1559.1 389.1l6.8 6.8m0-6.8l-6.8 6.8M1560.1 386.1l6.8 6.8m0-6.8l-6.8 6.8M1558.1 383.1l6.8 6.8m0-6.8l-6.8 6.8M1559.1 382.1l6.8 6.8m0-6.8l-6.8 6.8M1559.1 390.1l6.8 6.8m0-6.8l-6.8 6.8M1560.1 382.1l6.8 6.8m0-6.8l-6.8 6.8M1560.1 386.1l6.8 6.8m0-6.8l-6.8 6.8M1561.1 382.1l6.8 6.8m0-6.8l-6.8 6.8M1560.1 377.1l6.8 6.8m0-6.8l-6.8 6.8M1562.1 387.1l6.8 6.8m0-6.8l-6.8 6.8M1558.1 390.1l6.8 6.8m0-6.8l-6.8 6.8M1562.1 386.1l6.8 6.8m0-6.8l-6.8 6.8M1559.1 384.1l6.8 6.8m0-6.8l-6.8 6.8M1560.1 392.1l6.8 6.8m0-6.8l-6.8 6.8M1559.1 365.1l6.8 6.8m0-6.8l-6.8 6.8M1574.1 391.1l6.8 6.8m0-6.8l-6.8 6.8M1578.1 411.1l6.8 6.8m0-6.8l-6.8 6.8M1575.1 393.1l6.8 6.8m0-6.8l-6.8 6.8M1574.1 399.1l6.8 6.8m0-6.8l-6.8 6.8M1573.1 407.1l6.8 6.8m0-6.8l-6.8 6.8M1577.1 393.1l6.8 6.8m0-6.8l-6.8 6.8M1574.1 401.1l6.8 6.8m0-6.8l-6.8 6.8M1574.1 394.1l6.8 6.8m0-6.8l-6.8 6.8M1577.1 405.1l6.8 6.8m0-6.8l-6.8 6.8M1576.1 397.1l6.8 6.8m0-6.8l-6.8 6.8M1577.1 409.1l6.8 6.8m0-6.8l-6.8 6.8M1574.1 409.1l6.8 6.8m0-6.8l-6.8 6.8M1574.1 401.1l6.8 6.8m0-6.8l-6.8 6.8M1576.1 407.1l6.8 6.8m0-6.8l-6.8 6.8M1579.1 404.1l6.8 6.8m0-6.8l-6.8 6.8M1577.1 399.1l6.8 6.8m0-6.8l-6.8 6.8M1576.1 394.1l6.8 6.8m0-6.8l-6.8 6.8M1577.1 402.1l6.8 6.8m0-6.8l-6.8 6.8M1578.1 399.1l6.8 6.8m0-6.8l-6.8 6.8M1574.1 404.1l6.8 6.8m0-6.8l-6.8 6.8M1579.1 402.1l6.8 6.8m0-6.8l-6.8 6.8M1578.1 393.1l6.8 6.8m0-6.8l-6.8 6.8M1576.1 404.1l6.8 6.8m0-6.8l-6.8 6.8M1577.1 408.1l6.8 6.8m0-6.8l-6.8 6.8M1574.1 394.1l6.8 6.8m0-6.8l-6.8 6.8M1578.1 404.1l6.8 6.8m0-6.8l-6.8 6.8M1592.1 388.1l6.8 6.8m0-6.8l-6.8 6.8M1592.1 410.1l6.8 6.8m0-6.8l-6.8 6.8M1592.1 391.1l6.8 6.8m0-6.8l-6.8 6.8M1595.1 399.1l6.8 6.8m0-6.8l-6.8 6.8M1591.1 407.1l6.8 6.8m0-6.8l-6.8 6.8M1594.1 405.1l6.8 6.8m0-6.8l-6.8 6.8M1592.1 395.1l6.8 6.8m0-6.8l-6.8 6.8M1591.1 399.1l6.8 6.8m0-6.8l-6.8 6.8M1592.1 402.1l6.8 6.8m0-6.8l-6.8 6.8M1592.1 397.1l6.8 6.8m0-6.8l-6.8 6.8M1595.1 401.1l6.8 6.8m0-6.8l-6.8 6.8M1592.1 401.1l6.8 6.8m0-6.8l-6.8 6.8M1592.1 392.1l6.8 6.8m0-6.8l-6.8 6.8M1590.1 398.1l6.8 6.8m0-6.8l-6.8 6.8M1592.1 404.1l6.8 6.8m0-6.8l-6.8 6.8M1590.1 397.1l6.8 6.8m0-6.8l-6.8 6.8M1591.1 405.1l6.8 6.8m0-6.8l-6.8 6.8M1590.1 401.1l6.8 6.8m0-6.8l-6.8 6.8M1591.1 400.1l6.8 6.8m0-6.8l-6.8 6.8M1594.1 399.1l6.8 6.8m0-6.8l-6.8 6.8M1593.1 392.1l6.8 6.8m0-6.8l-6.8 6.8M1590.1 399.1l6.8 6.8m0-6.8l-6.8 6.8M1592.1 397.1l6.8 6.8m0-6.8l-6.8 6.8M1595.1 397.1l6.8 6.8m0-6.8l-6.8 6.8M1592.1 409.1l6.8 6.8m0-6.8l-6.8 6.8M1590.1 406.1l6.8 6.8m0-6.8l-6.8 6.8M1610.1 396.1l6.8 6.8m0-6.8l-6.8 6.8M1611.1 415.1l6.8 6.8m0-6.8l-6.8 6.8M1612.1 407.1l6.8 6.8m0-6.8l-6.8 6.8M1608.1 406.1l6.8 6.8m0-6.8l-6.8 6.8M1611.1 411.1l6.8 6.8m0-6.8l-6.8 6.8M1614.1 410.1l6.8 6.8m0-6.8l-6.8 6.8M1611.1 408.1l6.8 6.8m0-6.8l-6.8 6.8M1610.1 405.1l6.8 6.8m0-6.8l-6.8 6.8M1614.1 404.1l6.8 6.8m0-6.8l-6.8 6.8M1611.1 409.1l6.8 6.8m0-6.8l-6.8 6.8M1611.1 402.1l6.8 6.8m0-6.8l-6.8 6.8M1610.1 403.1l6.8 6.8m0-6.8l-6.8 6.8M1611.1 408.1l6.8 6.8m0-6.8l-6.8 6.8M1608.1 406.1l6.8 6.8m0-6.8l-6.8 6.8M1609.1 403.1l6.8 6.8m0-6.8l-6.8 6.8M1608.1 406.1l6.8 6.8m0-6.8l-6.8 6.8M1612.1 406.1l6.8 6.8m0-6.8l-6.8 6.8M1610.1 405.1l6.8 6.8m0-6.8l-6.8 6.8M1612.1 405.1l6.8 6.8m0-6.8l-6.8 6.8M1607.1 411.1l6.8 6.8m0-6.8l-6.8 6.8M1610.1 406.1l6.8 6.8m0-6.8l-6.8 6.8M1613.1 410.1l6.8 6.8m0-6.8l-6.8 6.8M1609.1 400.1l6.8 6.8m0-6.8l-6.8 6.8M1608.1 409.1l6.8 6.8m0-6.8l-6.8 6.8M1609.1 407.1l6.8 6.8m0-6.8l-6.8 6.8M1610.1 410.1l6.8 6.8m0-6.8l-6.8 6.8M1613.1 421.1l6.8 6.8m0-6.8l-6.8 6.8M1609.1 425.1l6.8 6.8m0-6.8l-6.8 6.8M1630.1 453.1l6.8 6.8m0-6.8l-6.8 6.8M1628.1 465.1l6.8 6.8m0-6.8l-6.8 6.8M1627.1 459.1l6.8 6.8m0-6.8l-6.8 6.8M1626.1 462.1l6.8 6.8m0-6.8l-6.8 6.8M1631.1 459.1l6.8 6.8m0-6.8l-6.8 6.8M1630.1 464.1l6.8 6.8m0-6.8l-6.8 6.8M1628.1 461.1l6.8 6.8m0-6.8l-6.8 6.8M1626.1 458.1l6.8 6.8m0-6.8l-6.8 6.8M1627.1 461.1l6.8 6.8m0-6.8l-6.8 6.8M1629.1 460.1l6.8 6.8m0-6.8l-6.8 6.8M1630.1 460.1l6.8 6.8m0-6.8l-6.8 6.8M1630.1 462.1l6.8 6.8m0-6.8l-6.8 6.8M1630.1 455.1l6.8 6.8m0-6.8l-6.8 6.8M1629.1 460.1l6.8 6.8m0-6.8l-6.8 6.8M1628.1 460.1l6.8 6.8m0-6.8l-6.8 6.8M1626.1 457.1l6.8 6.8m0-6.8l-6.8 6.8M1631.1 461.1l6.8 6.8m0-6.8l-6.8 6.8M1627.1 455.1l6.8 6.8m0-6.8l-6.8 6.8M1629.1 457.1l6.8 6.8m0-6.8l-6.8 6.8M1630.1 457.1l6.8 6.8m0-6.8l-6.8 6.8M1626.1 460.1l6.8 6.8m0-6.8l-6.8 6.8M1628.1 455.1l6.8 6.8m0-6.8l-6.8 6.8M1629.1 458.1l6.8 6.8m0-6.8l-6.8 6.8M1627.1 457.1l6.8 6.8m0-6.8l-6.8 6.8M1627.1 460.1l6.8 6.8m0-6.8l-6.8 6.8M1631.1 462.1l6.8 6.8m0-6.8l-6.8 6.8M1628.1 444.1l6.8 6.8m0-6.8l-6.8 6.8M1631.1 471.1l6.8 6.8m0-6.8l-6.8 6.8M1625.1 759.1l6.8 6.8m0-6.8l-6.8 6.8M1626.1 768.1l6.8 6.8m0-6.8l-6.8 6.8M1626.1 856.1l6.8 6.8m0-6.8l-6.8 6.8" fill="none" stroke="#0000ff" stroke-width="0.9" stroke-opacity="0.4"/>
<path d="M246.3 359.3l4.4 4.4m0-4.4l-4.4 4.4M247.3 382.3l4.4 4.4m0-4.4l-4.4 4.4M251.3 363.3l4.4 4.4m0-4.4l-4.4 4.4M249.3 377.3l4.4 4.4m0-4.4l-4.4 4.4M249.3 361.3l4.4 4.4m0-4.4l-4.4 4.4M248.3 373.3l4.4 4.4m0-4.4l-4.4 4.4M247.3 369.3l4.4 4.4m0-4.4l-4.4 4.4M247.3 362.3l4.4 4.4m0-4.4l-4.4 4.4M248.3 377.3l4.4 4.4m0-4.4l-4.4 4.4M246.3 364.3l4.4 4.4m0-4.4l-4.4 4.4M245.3 378.3l4.4 4.4m0-4.4l-4.4 4.4M245.3 380.3l4.4 4.4m0-4.4l-4.4 4.4M246.3 377.3l4.4 4.4m0-4.4l-4.4 4.4M247.3 363.3l4.4 4.4m0-4.4l-4.4 4.4M250.3 366.3l4.4 4.4m0-4.4l-4.4 4.4M246.3 367.3l4.4 4.4m0-4.4l-4.4 4.4M247.3 372.3l4.4 4.4m0-4.4l-4.4 4.4M245.3 364.3l4.4 4.4m0-4.4l-4.4 4.4M249.3 361.3l4.4 4.4m0-4.4l-4.4 4.4M250.3 374.3l4.4 4.4m0-4.4l-4.4 4.4M247.3 366.3l4.4 4.4m0-4.4l-4.4 4.4M248.3 376.3l4.4 4.4m0-4.4l-4.4 4.4M247.3 367.3l4.4 4.4m0-4.4l-4.4 4.4M247.3 381.3l4.4 4.4m0-4.4l-4.4 4.4M246.3 371.3l4.4 4.4m0-4.4l-4.4 4.4M251.3 377.3l4.4 4.4m0-4.4l-4.4 4.4M265.3 360.3l4.4 4.4m0-4.4l-4.4 4.4M265.3 384.3l4.4 4.4m0-4.4l-4.4 4.4M265.3 369.3l4.4 4.4m0-4.4l-4.4 4.4M266.3 371.3l4.4 4.4m0-4.4l-4.4 4.4M265.3 371.3l4.4 4.4m0-4.4l-4.4 4.4M265.3 363.3l4.4 4.4m0-4.4l-4.4 4.4M266.3 377.3l4.4 4.4m0-4.4l-4.4 4.4M265.3 366.3l4.4 4.4m0-4.4l-4.4 4.4M266.3 379.3l4.4 4.4m0-4.4l-4.4 4.4M266.3 370.3l4.4 4.4m0-4.4l-4.4 4.4M268.3 381.3l4.4 4.4m0-4.4l-4.4 4.4M265.3 363.3l4.4 4.4m0-4.4l-4.4 4.4M264.3 370.3l4.4 4.4m0-4.4l-4.4 4.4M264.3 380.3l4.4 4.4m0-4.4l-4.4 4.4M265.3 374.3l4.4 4.4m0-4.4l-4.4 4.4M266.3 366.3l4.4 4.4m0-4.4l-4.4 4.4M264.3 375.3l4.4 4.4m0-4.4l-4.4 4.4M265.3 371.3l4.4 4.4m0-4.4l-4.4 4.4M268.3 369.3l4.4 4.4m0-4.4l-4.4 4.4M262.3 372.3l4.4 4.4m0-4.4l-4.4 4.4M263.3 369.3l4.4 4.4m0-4.4l-4.4 4.4M265.3 364.3l4.4 4.4m0-4.4l-4.4 4.4M265.3 376.3l4.4 4.4m0-4.4l-4.4 4.4M265.3 373.3l4.4 4.4m0-4.4l-4.4 4.4M264.3 363.3l4.4 4.4m0-4.4l-4.4 4.4M266.3 365.3l4.4 4.4m0-4.4l-4.4 4.4M285.3 362.3l4.4 4.4m0-4.4l-4.4 4.4M284.3 393.3l4.4 4.4m0-4.4l-4.4 4.4M285.3 378.3l4.4 4.4m0-4.4l-4.4 4.4M281.3 379.3l4.4 4.4m0-4.4l-4.4 4.4M283.3 384.3l4.4 4.4m0-4.4l-4.4 4.4M281.3 378.3l4.4 4.4m0-4.4l-4.4 4.4M284.3 386.3l4.4 4.4m0-4.4l-4.4 4.4M285.3 375.3l4.4 4.4m0-4.4l-4.4 4.4M281.3 368.3l4.4 4.4m0-4.4l-4.4 4.4M285.3 371.3l4.4 4.4m0-4.4l-4.4 4.4M284.3 379.3l4.4 4.4m0-4.4l-4.4 4.4M282.3 386.3l4.4 4.4m0-4.4l-4.4 4.4M279.3 370.3l4.4 4.4m0-4.4l-4.4 4.4M285.3 383.3l4.4 4.4m0-4.4l-4.4 4.4M282.3 363.3l4.4 4.4m0-4.4l-4.4 4.4M282.3 378.3l4.4 4.4m0-4.4l-4.4 4.4M283.3 364.3l4.4 4.4m0-4.4l-4.4 4.4M283.3 371.3l4.4 4.4m0-4.4l-4.4 4.4M285.3 383.3l4.4 4.4m0-4.4l-4.4 4.4M281.3 384.3l4.4 4.4m0-4.4l-4.4 4.4M284.3 373.3l4.4 4.4m0-4.4l-4.4 4.4M285.3 369.3l4.4 4.4m0-4.4l-4.4 4.4M285.3 381.3l4.4 4.4m0-4.4l-4.4 4.4M282.3 382.3l4.4 4.4m0-4.4l-4.4 4.4M281.3 365.3l4.4 4.4m0-4.4l-4.4 4.4M284.3 379.3l4.4 4.4m0-4.4l-4.4 4.4M285.3 362.3l4.4 4.4m0-4.4l-4.4 4.4M302.3 352.3l4.4 4.4m0-4.4l-4.4 4.4M299.3 385.3l4.4 4.4m0-4.4l-4.4 4.4M299.3 354.3l4.4 4.4m0-4.4l-4.4 4.4M299.3 362.3l4.4 4.4m0-4.4l-4.4 4.4M298.3 359.3l4.4 4.4m0-4.4l-4.4 4.4M300.3 379.3l4.4 4.4m0-4.4l-4.4 4.4M299.3 370.3l4.4 4.4m0-4.4l-4.4 4.4M301.3 361.3l4.4 4.4m0-4.4l-4.4 4.4M297.3 375.3l4.4 4.4m0-4.4l-4.4 4.4M301.3 366.3l4.4 4.4m0-4.4l-4.4 4.4M299.3 380.3l4.4 4.4m0-4.4l-4.4 4.4M297.3 367.3l4.4 4.4m0-4.4l-4.4 4.4M302.3 376.3l4.4 4.4m0-4.4l-4.4 4.4M300.3 363.3l4.4 4.4m0-4.4l-4.4 4.4M297.3 357.3l4.4 4.4m0-4.4l-4.4 4.4M299.3 366.3l4.4 4.4m0-4.4l-4.4 4.4M301.3 354.3l4.4 4.4m0-4.4l-4.4 4.4M300.3 366.3l4.4 4.4m0-4.4l-4.4 4.4M302.3 367.3l4.4 4.4m0-4.4l-4.4 4.4M302.3 361.3l4.4 4.4m0-4.4l-4.4 4.4M301.3 365.3l4.4 4.4m0-4.4l-4.4 4.4M301.3 369.3l4.4 4.4m0-4.4l-4.4 4.4M303.3 364.3l4.4 4.4m0-4.4l-4.4 4.4M301.3 362.3l4.4 4.4m0-4.4l-4.4 4.4M301.3 357.3l4.4 4.4m0-4.4l-4.4 4.4M297.3 368.3l4.4 4.4m0-4.4l-4.4 4.4M316.3 365.3l4.4 4.4m0-4.4l-4.4 4.4M319.3 382.3l4.4 4.4m0-4.4l-4.4 4.4M316.3 376.3l4.4 4.4m0-4.4l-4.4 4.4M317.3 379.3l4.4 4.4m0-4.4l-4.4 4.4M316.3 381.3l4.4 4.4m0-4.4l-4.4 4.4M317.3 379.3l4.4 4.4m0-4.4l-4.4 4.4M317.3 373.3l4.4 4.4m0-4.4l-4.4 4.4M318.3 375.3l4.4 4.4m0-4.4l-4.4 4.4M316.3 374.3l4.4 4.4m0-4.4l-4.4 4.4M316.3 369.3l4.4 4.4m0-4.4l-4.4 4.4M319.3 376.3l4.4 4.4m0-4.4l-4.4 4.4M318.3 374.3l4.4 4.4m0-4.4l-4.4 4.4M317.3 367.3l4.4 4.4m0-4.4l-4.4 4.4M318.3 375.3l4.4 4.4m0-4.4l-4.4 4.4M319.3 371.3l4.4 4.4m0-4.4l-4.4 4.4M317.3 380.3l4.4 4.4m0-4.4l-4.4 4.4M318.3 375.3l4.4 4.4m0-4.4l-4.4 4.4M317.3 367.3l4.4 4.4m0-4.4l-4.4 4.4M318.3 373.3l4.4 4.4m0-4.4l-4.4 4.4M318.3 368.3l4.4 4.4m0-4.4l-4.4 4.4M318.3 379.3l4.4 4.4m0-4.4l-4.4 4.4M316.3 373.3l4.4 4.4m0-4.4l-4.4 4.4M320.3 376.3l4.4 4.4m0-4.4l-4.4 4.4M317.3 373.3l4.4 4.4m0-4.4l-4.4 4.4M319.3 376.3l4.4 4.4m0-4.4l-4.4 4.4M318.3 368.3l4.4 4.4m0-4.4l-4.4 4.4M335.3 352.3l4.4 4.4m0-4.4l-4.4 4.4M334.3 389.3l4.4 4.4m0-4.4l-4.4 4.4M332.3 362.3l4.4 4.4m0-4.4l-4.4 4.4M334.3 378.3l4.4 4.4m0-4.4l-4.4 4.4M334.3 379.3l4.4 4.4m0-4.4l-4.4 4.4M335.3 370.3l4.4 4.4m0-4.4l-4.4 4.4M335.3 385.3l4.4 4.4m0-4.4l-4.4 4.4M334.3 370.3l4.4 4.4m0-4.4l-4.4 4.4M335.3 382.3l4.4 4.4m0-4.4l-4.4 4.4M334.3 371.3l4.4 4.4m0-4.4l-4.4 4.4M334.3 380.3l4.4 4.4m0-4.4l-4.4 4.4M334.3 369.3l4.4 4.4m0-4.4l-4.4 4.4M333.3 364.3l4.4 4.4m0-4.4l-4.4 4.4M335.3 355.3l4.4 4.4m0-4.4l-4.4 4.4M332.3 356.3l4.4 4.4m0-4.4l-4.4 4.4M332.3 363.3l4.4 4.4m0-4.4l-4.4 4.4M334.3 359.3l4.4 4.4m0-4.4l-4.4 4.4M331.3 382.3l4.4 4.4m0-4.4l-4.4 4.4M333.3 366.3l4.4 4.4m0-4.4l-4.4 4.4M330.3 363.3l4.4 4.4m0-4.4l-4.4 4.4M332.3 363.3l4.4 4.4m0-4.4l-4.4 4.4M334.3 369.3l4.4 4.4m0-4.4l-4.4 4.4M334.3 386.3l4.4 4.4m0-4.4l-4.4 4.4M333.3 363.3l4.4 4.4m0-4.4l-4.4 4.4M333.3 368.3l4.4 4.4m0-4.4l-4.4 4.4M331.3 366.3l4.4 4.4m0-4.4l-4.4 4.4M350.3 367.3l4.4 4.4m0-4.4l-4.4 4.4M351.3 393.3l4.4 4.4m0-4.4l-4.4 4.4M354.3 388.3l4.4 4.4m0-4.4l-4.4 4.4M350.3 372.3l4.4 4.4m0-4.4l-4.4 4.4M353.3 372.3l4.4 4.4m0-4.4l-4.4 4.4M352.3 381.3l4.4 4.4m0-4.4l-4.4 4.4M351.3 387.3l4.4 4.4m0-4.4l-4.4 4.4M351.3 369.3l4.4 4.4m0-4.4l-4.4 4.4M353.3 389.3l4.4 4.4m0-4.4l-4.4 4.4M350.3 373.3l4.4 4.4m0-4.4l-4.4 4.4M349.3 369.3l4.4 4.4m0-4.4l-4.4 4.4M351.3 377.3l4.4 4.4m0-4.4l-4.4 4.4M353.3 388.3l4.4 4.4m0-4.4l-4.4 4.4M349.3 373.3l4.4 4.4m0-4.4l-4.4 4.4M351.3 373.3l4.4 4.4m0-4.4l-4.4 4.4M354.3 380.3l4.4 4.4m0-4.4l-4.4 4.4M353.3 370.3l4.4 4.4m0-4.4l-4.4 4.4M352.3 385.3l4.4 4.4m0-4.4l-4.4 4.4M354.3 370.3l4.4 4.4m0-4.4l-4.4 4.4M351.3 385.3l4.4 4.4m0-4.4l-4.4 4.4M351.3 386.3l4.4 4.4m0-4.4l-4.4 4.4M348.3 378.3l4.4 4.4m0-4.4l-4.4 4.4M352.3 374.3l4.4 4.4m0-4.4l-4.4 4.4M353.3 386.3l4.4 4.4m0-4.4l-4.4 4.4M351.3 372.3l4.4 4.4m0-4.4l-4.4 4.4M351.3 372.3l4.4 4.4m0-4.4l-4.4 4.4M370.3 353.3l4.4 4.4m0-4.4l-4.4 4.4M371.3 380.3l4.4 4.4m0-4.4l-4.4 4.4M367.3 372.3l4.4 4.4m0-4.4l-4.4 4.4M369.3 369.3l4.4 4.4m0-4.4l-4.4 4.4M366.3 367.3l4.4 4.4m0-4.4l-4.4 4.4M372.3 376.3l4.4 4.4m0-4.4l-4.4 4.4M366.3 377.3l4.4 4.4m0-4.4l-4.4 4.4M366.3 365.3l4.4 4.4m0-4.4l-4.4 4.4M368.3 361.3l4.4 4.4m0-4.4l-4.4 4.4M371.3 367.3l4.4 4.4m0-4.4l-4.4 4.4M369.3 367.3l4.4 4.4m0-4.4l-4.4 4.4M366.3 365.3l4.4 4.4m0-4.4l-4.4 4.4M369.3 362.3l4.4 4.4m0-4.4l-4.4 4.4M367.3 371.3l4.4 4.4m0-4.4l-4.4 4.4M367.3 373.3l4.4 4.4m0-4.4l-4.4 4.4M372.3 379.3l4.4 4.4m0-4.4l-4.4 4.4M369.3 379.3l4.4 4.4m0-4.4l-4.4 4.4M370.3 365.3l4.4 4.4m0-4.4l-4.4 4.4M370.3 379.3l4.4 4.4m0-4.4l-4.4 4.4M368.3 374.3l4.4 4.4m0-4.4l-4.4 4.4M369.3 365.3l4.4 4.4m0-4.4l-4.4 4.4M368.3 356.3l4.4 4.4m0-4.4l-4.4 4.4M365.3 375.3l4.4 4.4m0-4.4l-4.4 4.4M368.3 377.3l4.4 4.4m0-4.4l-4.4 4.4M371.3 361.3l4.4 4.4m0-4.4l-4.4 4.4M368.3 369.3l4.4 4.4m0-4.4l-4.4 4.4M387.3 355.3l4.4 4.4m0-4.4l-4.4 4.4M383.3 381.3l4.4 4.4m0-4.4l-4.4 4.4M387.3 360.3l4.4 4.4m0-4.4l-4.4 4.4M386.3 361.3l4.4 4.4m0-4.4l-4.4 4.4M387.3 377.3l4.4 4.4m0-4.4l-4.4 4.4M386.3 371.3l4.4 4.4m0-4.4l-4.4 4.4M384.3 360.3l4.4 4.4m0-4.4l-4.4 4.4M386.3 359.3l4.4 4.4m0-4.4l-4.4 4.4M388.3 359.3l4.4 4.4m0-4.4l-4.4 4.4M385.3 363.3l4.4 4.4m0-4.4l-4.4 4.4M384.3 377.3l4.4 4.4m0-4.4l-4.4 4.4M384.3 366.3l4.4 4.4m0-4.4l-4.4 4.4M384.3 360.3l4.4 4.4m0-4.4l-4.4 4.4M386.3 364.3l4.4 4.4m0-4.4l-4.4 4.4M389.3 363.3l4.4 4.4m0-4.4l-4.4 4.4M387.3 374.3l4.4 4.4m0-4.4l-4.4 4.4M386.3 374.3l4.4 4.4m0-4.4l-4.4 4.4M389.3 369.3l4.4 4.4m0-4.4l-4.4 4.4M385.3 366.3l4.4 4.4m0-4.4l-4.4 4.4M385.3 378.3l4.4 4.4m0-4.4l-4.4 4.4M387.3 374.3l4.4 4.4m0-4.4l-4.4 4.4M387.3 370.3l4.4 4.4m0-4.4l-4.4 4.4M384.3 368.3l4.4 4.4m0-4.4l-4.4 4.4M384.3 359.3l4.4 4.4m0-4.4l-4.4 4.4M386.3 366.3l4.4 4.4m0-4.4l-4.4 4.4M386.3 370.3l4.4 4.4m0-4.4l-4.4 4.4M405.3 355.3l4.4 4.4m0-4.4l-4.4 4.4M407.3 383.3l4.4 4.4m0-4.4l-4.4 4.4M404.3 362.3l4.4 4.4m0-4.4l-4.4 4.4M404.3 371.3l4.4 4.4m0-4.4l-4.4 4.4M405.3 364.3l4.4 4.4m0-4.4l-4.4 4.4M404.3 365.3l4.4 4.4m0-4.4l-4.4 4.4M406.3 359.3l4.4 4.4m0-4.4l-4.4 4.4M402.3 356.3l4.4 4.4m0-4.4l-4.4 4.4M403.3 362.3l4.4 4.4m0-4.4l-4.4 4.4M400.3 367.3l4.4 4.4m0-4.4l-4.4 4.4M405.3 369.3l4.4 4.4m0-4.4l-4.4 4.4M403.3 362.3l4.4 4.4m0-4.4l-4.4 4.4M405.3 363.3l4.4 4.4m0-4.4l-4.4 4.4M407.3 374.3l4.4 4.4m0-4.4l-4.4 4.4M404.3 365.3l4.4 4.4m0-4.4l-4.4 4.4M403.3 373.3l4.4 4.4m0-4.4l-4.4 4.4M403.3 376.3l4.4 4.4m0-4.4l-4.4 4.4M402.3 366.3l4.4 4.4m0-4.4l-4.4 4.4M403.3 374.3l4.4 4.4m0-4.4l-4.4 4.4M405.3 377.3l4.4 4.4m0-4.4l-4.4 4.4M404.3 362.3l4.4 4.4m0-4.4l-4.4 4.4M404.3 380.3l4.4 4.4m0-4.4l-4.4 4.4M403.3 371.3l4.4 4.4m0-4.4l-4.4 4.4M405.3 373.3l4.4 4.4m0-4.4l-4.4 4.4M404.3 374.3l4.4 4.4m0-4.4l-4.4 4.4M403.3 366.3l4.4 4.4m0-4.4l-4.4 4.4M422.3 359.3l4.4 4.4m0-4.4l-4.4 4.4M418.3 382.3l4.4 4.4m0-4.4l-4.4 4.4M419.3 372.3l4.4 4.4m0-4.4l-4.4 4.4M420.3 376.3l4.4 4.4m0-4.4l-4.4 4.4M420.3 368.3l4.4 4.4m0-4.4l-4.4 4.4M422.3 371.3l4.4 4.4m0-4.4l-4.4 4.4M421.3 379.3l4.4 4.4m0-4.4l-4.4 4.4M420.3 368.3l4.4 4.4m0-4.4l-4.4 4.4M421.3 377.3l4.4 4.4m0-4.4l-4.4 4.4M423.3 371.3l4.4 4.4m0-4.4l-4.4 4.4M421.3 372.3l4.4 4.4m0-4.4l-4.4 4.4M421.3 379.3l4.4 4.4m0-4.4l-4.4 4.4M423.3 375.3l4.4 4.4m0-4.4l-4.4 4.4M421.3 371.3l4.4 4.4m0-4.4l-4.4 4.4M419.3 366.3l4.4 4.4m0-4.4l-4.4 4.4M424.3 367.3l4.4 4.4m0-4.4l-4.4 4.4M424.3 367.3l4.4 4.4m0-4.4l-4.4 4.4M417.3 366.3l4.4 4.4m0-4.4l-4.4 4.4M421.3 375.3l4.4 4.4m0-4.4l-4.4 4.4M421.3 360.3l4.4 4.4m0-4.4l-4.4 4.4M422.3 365.3l4.4 4.4m0-4.4l-4.4 4.4M422.3 376.3l4.4 4.4m0-4.4l-4.4 4.4M420.3 369.3l4.4 4.4m0-4.4l-4.4 4.4M419.3 368.3l4.4 4.4m0-4.4l-4.4 4.4M421.3 375.3l4.4 4.4m0-4.4l-4.4 4.4M422.3 381.3l4.4 4.4m0-4.4l-4.4 4.4M438.3 361.3l4.4 4.4m0-4.4l-4.4 4.4M440.3 391.3l4.4 4.4m0-4.4l-4.4 4.4M438.3 370.3l4.4 4.4m0-4.4l-4.4 4.4M437.3 364.3l4.4 4.4m0-4.4l-4.4 4.4M440.3 388.3l4.4 4.4m0-4.4l-4.4 4.4M438.3 378.3l4.4 4.4m0-4.4l-4.4 4.4M438.3 382.3l4.4 4.4m0-4.4l-4.4 4.4M437.3 369.3l4.4 4.4m0-4.4l-4.4 4.4M438.3 366.3l4.4 4.4m0-4.4l-4.4 4.4M439.3 387.3l4.4 4.4m0-4.4l-4.4 4.4M439.3 372.3l4.4 4.4m0-4.4l-4.4 4.4M436.3 383.3l4.4 4.4m0-4.4l-4.4 4.4M439.3 378.3l4.4 4.4m0-4.4l-4.4 4.4M438.3 384.3l4.4 4.4m0-4.4l-4.4 4.4M437.3 382.3l4.4 4.4m0-4.4l-4.4 4.4M439.3 378.3l4.4 4.4m0-4.4l-4.4 4.4M438.3 366.3l4.4 4.4m0-4.4l-4.4 4.4M438.3 389.3l4.4 4.4m0-4.4l-4.4 4.4M439.3 375.3l4.4 4.4m0-4.4l-4.4 4.4M440.3 364.3l4.4 4.4m0-4.4l-4.4 4.4M437.3 369.3l4.4 4.4m0-4.4l-4.4 4.4M439.3 388.3l4.4 4.4m0-4.4l-4.4 4.4M437.3 385.3l4.4 4.4m0-4.4l-4.4 4.4M441.3 383.3l4.4 4.4m0-4.4l-4.4 4.4M437.3 372.3l4.4 4.4m0-4.4l-4.4 4.4M440.3 368.3l4.4 4.4m0-4.4l-4.4 4.4M456.3 356.3l4.4 4.4m0-4.4l-4.4 4.4M454.3 387.3l4.4 4.4m0-4.4l-4.4 4.4M456.3 369.3l4.4 4.4m0-4.4l-4.4 4.4M455.3 379.3l4.4 4.4m0-4.4l-4.4 4.4M456.3 378.3l4.4 4.4m0-4.4l-4.4 4.4M455.3 358.3l4.4 4.4m0-4.4l-4.4 4.4M458.3 371.3l4.4 4.4m0-4.4l-4.4 4.4M456.3 380.3l4.4 4.4m0-4.4l-4.4 4.4M455.3 382.3l4.4 4.4m0-4.4l-4.4 4.4M453.3 372.3l4.4 4.4m0-4.4l-4.4 4.4M454.3 373.3l4.4 4.4m0-4.4l-4.4 4.4M458.3 375.3l4.4 4.4m0-4.4l-4.4 4.4M456.3 370.3l4.4 4.4m0-4.4l-4.4 4.4M457.3 372.3l4.4 4.4m0-4.4l-4.4 4.4M457.3 366.3l4.4 4.4m0-4.4l-4.4 4.4M453.3 375.3l4.4 4.4m0-4.4l-4.4 4.4M455.3 370.3l4.4 4.4m0-4.4l-4.4 4.4M455.3 377.3l4.4 4.4m0-4.4l-4.4 4.4M457.3 384.3l4.4 4.4m0-4.4l-4.4 4.4M454.3 370.3l4.4 4.4m0-4.4l-4.4 4.4M454.3 382.3l4.4 4.4m0-4.4l-4.4 4.4M454.3 378.3l4.4 4.4m0-4.4l-4.4 4.4M454.3 379.3l4.4 4.4m0-4.4l-4.4 4.4M455.3 369.3l4.4 4.4m0-4.4l-4.4 4.4M455.3 384.3l4.4 4.4m0-4.4l-4.4 4.4M454.3 374.3l4.4 4.4m0-4.4l-4.4 4.4M473.3 364.3l4.4 4.4m0-4.4l-4.4 4.4M475.3 382.3l4.4 4.4m0-4.4l-4.4 4.4M472.3 377.3l4.4 4.4m0-4.4l-4.4 4.4M473.3 369.3l4.4 4.4m0-4.4l-4.4 4.4M472.3 375.3l4.4 4.4m0-4.4l-4.4 4.4M473.3 367.3l4.4 4.4m0-4.4l-4.4 4.4M472.3 367.3l4.4 4.4m0-4.4l-4.4 4.4M470.3 373.3l4.4 4.4m0-4.4l-4.4 4.4M472.3 375.3l4.4 4.4m0-4.4l-4.4 4.4M471.3 376.3l4.4 4.4m0-4.4l-4.4 4.4M475.3 378.3l4.4 4.4m0-4.4l-4.4 4.4M471.3 378.3l4.4 4.4m0-4.4l-4.4 4.4M472.3 379.3l4.4 4.4m0-4.4l-4.4 4.4M473.3 378.3l4.4 4.4m0-4.4l-4.4 4.4M472.3 375.3l4.4 4.4m0-4.4l-4.4 4.4M475.3 374.3l4.4 4.4m0-4.4l-4.4 4.4M473.3 370.3l4.4 4.4m0-4.4l-4.4 4.4M470.3 377.3l4.4 4.4m0-4.4l-4.4 4.4M474.3 370.3l4.4 4.4m0-4.4l-4.4 4.4M472.3 371.3l4.4 4.4m0-4.4l-4.4 4.4M476.3 378.3l4.4 4.4m0-4.4l-4.4 4.4M471.3 377.3l4.4 4.4m0-4.4l-4.4 4.4M472.3 373.3l4.4 4.4m0-4.4l-4.4 4.4M473.3 369.3l4.4 4.4m0-4.4l-4.4 4.4M471.3 372.3l4.4 4.4m0-4.4l-4.4 4.4M474.3 368.3l4.4 4.4m0-4.4l-4.4 4.4M472.3 392.3l4.4 4.4m0-4.4l-4.4 4.4M474.3 393.3l4.4 4.4m0-4.4l-4.4 4.4M490.3 366.3l4.4 4.4m0-4.4l-4.4 4.4M493.3 385.3l4.4 4.4m0-4.4l-4.4 4.4M491.3 380.3l4.4 4.4m0-4.4l-4.4 4.4M490.3 378.3l4.4 4.4m0-4.4l-4.4 4.4M489.3 383.3l4.4 4.4m0-4.4l-4.4 4.4M490.3 373.3l4.4 4.4m0-4.4l-4.4 4.4M492.3 368.3l4.4 4.4m0-4.4l-4.4 4.4M491.3 377.3l4.4 4.4m0-4.4l-4.4 4.4M492.3 376.3l4.4 4.4m0-4.4l-4.4 4.4M490.3 371.3l4.4 4.4m0-4.4l-4.4 4.4M490.3 371.3l4.4 4.4m0-4.4l-4.4 4.4M489.3 376.3l4.4 4.4m0-4.4l-4.4 4.4M490.3 369.3l4.4 4.4m0-4.4l-4.4 4.4M492.3 371.3l4.4 4.4m0-4.4l-4.4 4.4M487.3 375.3l4.4 4.4m0-4.4l-4.4 4.4M489.3 377.3l4.4 4.4m0-4.4l-4.4 4.4M490.3 382.3l4.4 4.4m0-4.4l-4.4 4.4M489.3 382.3l4.4 4.4m0-4.4l-4.4 4.4M489.3 370.3l4.4 4.4m0-4.4l-4.4 4.4M491.3 378.3l4.4 4.4m0-4.4l-4.4 4.4M493.3 376.3l4.4 4.4m0-4.4l-4.4 4.4M491.3 368.3l4.4 4.4m0-4.4l-4.4 4.4M490.3 370.3l4.4 4.4m0-4.4l-4.4 4.4M487.3 371.3l4.4 4.4m0-4.4l-4.4 4.4M493.3 382.3l4.4 4.4m0-4.4l-4.4 4.4M490.3 381.3l4.4 4.4m0-4.4l-4.4 4.4M488.3 392.3l4.4 4.4m0-4.4l-4.4 4.4M509.3 362.3l4.4 4.4m0-4.4l-4.4 4.4M509.3 382.3l4.4 4.4m0-4.4l-4.4 4.4M506.3 363.3l4.4 4.4m0-4.4l-4.4 4.4M507.3 374.3l4.4 4.4m0-4.4l-4.4 4.4M507.3 365.3l4.4 4.4m0-4.4l-4.4 4.4M507.3 364.3l4.4 4.4m0-4.4l-4.4 4.4M506.3 376.3l4.4 4.4m0-4.4l-4.4 4.4M504.3 377.3l4.4 4.4m0-4.4l-4.4 4.4M506.3 373.3l4.4 4.4m0-4.4l-4.4 4.4M504.3 377.3l4.4 4.4m0-4.4l-4.4 4.4M509.3 365.3l4.4 4.4m0-4.4l-4.4 4.4M507.3 374.3l4.4 4.4m0-4.4l-4.4 4.4M505.3 374.3l4.4 4.4m0-4.4l-4.4 4.4M509.3 368.3l4.4 4.4m0-4.4l-4.4 4.4M508.3 376.3l4.4 4.4m0-4.4l-4.4 4.4M504.3 367.3l4.4 4.4m0-4.4l-4.4 4.4M510.3 368.3l4.4 4.4m0-4.4l-4.4 4.4M508.3 369.3l4.4 4.4m0-4.4l-4.4 4.4M510.3 364.3l4.4 4.4m0-4.4l-4.4 4.4M505.3 376.3l4.4 4.4m0-4.4l-4.4 4.4M507.3 365.3l4.4 4.4m0-4.4l-4.4 4.4M507.3 376.3l4.4 4.4m0-4.4l-4.4 4.4M507.3 371.3l4.4 4.4m0-4.4l-4.4 4.4M507.3 375.3l4.4 4.4m0-4.4l-4.4 4.4M508.3 379.3l4.4 4.4m0-4.4l-4.4 4.4M504.3 364.3l4.4 4.4m0-4.4l-4.4 4.4M507.3 393.3l4.4 4.4m0-4.4l-4.4 4.4M527.3 356.3l4.4 4.4m0-4.4l-4.4 4.4M526.3 384.3l4.4 4.4m0-4.4l-4.4 4.4M523.3 375.3l4.4 4.4m0-4.4l-4.4 4.4M522.3 360.3l4.4 4.4m0-4.4l-4.4 4.4M523.3 376.3l4.4 4.4m0-4.4l-4.4 4.4M523.3 365.3l4.4 4.4m0-4.4l-4.4 4.4M523.3 358.3l4.4 4.4m0-4.4l-4.4 4.4M525.3 364.3l4.4 4.4m0-4.4l-4.4 4.4M525.3 360.3l4.4 4.4m0-4.4l-4.4 4.4M524.3 365.3l4.4 4.4m0-4.4l-4.4 4.4M525.3 370.3l4.4 4.4m0-4.4l-4.4 4.4M524.3 368.3l4.4 4.4m0-4.4l-4.4 4.4M525.3 377.3l4.4 4.4m0-4.4l-4.4 4.4M526.3 375.3l4.4 4.4m0-4.4l-4.4 4.4M526.3 373.3l4.4 4.4m0-4.4l-4.4 4.4M523.3 378.3l4.4 4.4m0-4.4l-4.4 4.4M522.3 357.3l4.4 4.4m0-4.4l-4.4 4.4M527.3 377.3l4.4 4.4m0-4.4l-4.4 4.4M524.3 370.3l4.4 4.4m0-4.4l-4.4 4.4M526.3 371.3l4.4 4.4m0-4.4l-4.4 4.4M522.3 365.3l4.4 4.4m0-4.4l-4.4 4.4M524.3 378.3l4.4 4.4m0-4.4l-4.4 4.4M524.3 381.3l4.4 4.4m0-4.4l-4.4 4.4M522.3 363.3l4.4 4.4m0-4.4l-4.4 4.4M523.3 366.3l4.4 4.4m0-4.4l-4.4 4.4M525.3 370.3l4.4 4.4m0-4.4l-4.4 4.4M539.3 363.3l4.4 4.4m0-4.4l-4.4 4.4M543.3 382.3l4.4 4.4m0-4.4l-4.4 4.4M543.3 378.3l4.4 4.4m0-4.4l-4.4 4.4M541.3 372.3l4.4 4.4m0-4.4l-4.4 4.4M539.3 376.3l4.4 4.4m0-4.4l-4.4 4.4M540.3 369.3l4.4 4.4m0-4.4l-4.4 4.4M541.3 372.3l4.4 4.4m0-4.4l-4.4 4.4M542.3 372.3l4.4 4.4m0-4.4l-4.4 4.4M541.3 375.3l4.4 4.4m0-4.4l-4.4 4.4M538.3 376.3l4.4 4.4m0-4.4l-4.4 4.4M542.3 367.3l4.4 4.4m0-4.4l-4.4 4.4M539.3 369.3l4.4 4.4m0-4.4l-4.4 4.4M543.3 375.3l4.4 4.4m0-4.4l-4.4 4.4M540.3 380.3l4.4 4.4m0-4.4l-4.4 4.4M540.3 376.3l4.4 4.4m0-4.4l-4.4 4.4M540.3 380.3l4.4 4.4m0-4.4l-4.4 4.4M541.3 370.3l4.4 4.4m0-4.4l-4.4 4.4M544.3 375.3l4.4 4.4m0-4.4l-4.4 4.4M543.3 367.3l4.4 4.4m0-4.4l-4.4 4.4M543.3 364.3l4.4 4.4m0-4.4l-4.4 4.4M542.3 367.3l4.4 4.4m0-4.4l-4.4 4.4M539.3 365.3l4.4 4.4m0-4.4l-4.4 4.4M541.3 377.3l4.4 4.4m0-4.4l-4.4 4.4M541.3 365.3l4.4 4.4m0-4.4l-4.4 4.4M540.3 372.3l4.4 4.4m0-4.4l-4.4 4.4M542.3 374.3l4.4 4.4m0-4.4l-4.4 4.4M557.3 362.3l4.4 4.4m0-4.4l-4.4 4.4M559.3 382.3l4.4 4.4m0-4.4l-4.4 4.4M560.3 364.3l4.4 4.4m0-4.4l-4.4 4.4M560.3 376.3l4.4 4.4m0-4.4l-4.4 4.4M559.3 374.3l4.4 4.4m0-4.4l-4.4 4.4M556.3 367.3l4.4 4.4m0-4.4l-4.4 4.4M556.3 376.3l4.4 4.4m0-4.4l-4.4 4.4M559.3 372.3l4.4 4.4m0-4.4l-4.4 4.4M559.3 376.3l4.4 4.4m0-4.4l-4.4 4.4M562.3 369.3l4.4 4.4m0-4.4l-4.4 4.4M557.3 371.3l4.4 4.4m0-4.4l-4.4 4.4M560.3 370.3l4.4 4.4m0-4.4l-4.4 4.4M560.3 365.3l4.4 4.4m0-4.4l-4.4 4.4M556.3 366.3l4.4 4.4m0-4.4l-4.4 4.4M557.3 371.3l4.4 4.4m0-4.4l-4.4 4.4M559.3 375.3l4.4 4.4m0-4.4l-4.4 4.4M558.3 376.3l4.4 4.4m0-4.4l-4.4 4.4M558.3 380.3l4.4 4.4m0-4.4l-4.4 4.4M559.3 364.3l4.4 4.4m0-4.4l-4.4 4.4M557.3 370.3l4.4 4.4m0-4.4l-4.4 4.4M559.3 370.3l4.4 4.4m0-4.4l-4.4 4.4M557.3 375.3l4.4 4.4m0-4.4l-4.4 4.4M557.3 368.3l4.4 4.4m0-4.4l-4.4 4.4M559.3 376.3l4.4 4.4m0-4.4l-4.4 4.4M557.3 368.3l4.4 4.4m0-4.4l-4.4 4.4M559.3 371.3l4.4 4.4m0-4.4l-4.4 4.4M575.3 358.3l4.4 4.4m0-4.4l-4.4 4.4M576.3 384.3l4.4 4.4m0-4.4l-4.4 4.4M575.3 376.3l4.4 4.4m0-4.4l-4.4 4.4M575.3 365.3l4.4 4.4m0-4.4l-4.4 4.4M576.3 370.3l4.4 4.4m0-4.4l-4.4 4.4M572.3 374.3l4.4 4.4m0-4.4l-4.4 4.4M574.3 360.3l4.4 4.4m0-4.4l-4.4 4.4M574.3 378.3l4.4 4.4m0-4.4l-4.4 4.4M574.3 372.3l4.4 4.4m0-4.4l-4.4 4.4M575.3 367.3l4.4 4.4m0-4.4l-4.4 4.4M573.3 372.3l4.4 4.4m0-4.4l-4.4 4.4M572.3 371.3l4.4 4.4m0-4.4l-4.4 4.4M573.3 371.3l4.4 4.4m0-4.4l-4.4 4.4M575.3 365.3l4.4 4.4m0-4.4l-4.4 4.4M573.3 374.3l4.4 4.4m0-4.4l-4.4 4.4M571.3 363.3l4.4 4.4m0-4.4l-4.4 4.4M576.3 372.3l4.4 4.4m0-4.4l-4.4 4.4M576.3 367.3l4.4 4.4m0-4.4l-4.4 4.4M575.3 373.3l4.4 4.4m0-4.4l-4.4 4.4M574.3 361.3l4.4 4.4m0-4.4l-4.4 4.4M574.3 373.3l4.4 4.4m0-4.4l-4.4 4.4M572.3 367.3l4.4 4.4m0-4.4l-4.4 4.4M573.3 370.3l4.4 4.4m0-4.4l-4.4 4.4M576.3 363.3l4.4 4.4m0-4.4l-4.4 4.4M574.3 370.3l4.4 4.4m0-4.4l-4.4 4.4M576.3 371.3l4.4 4.4m0-4.4l-4.4 4.4M595.3 352.3l4.4 4.4m0-4.4l-4.4 4.4M590.3 384.3l4.4 4.4m0-4.4l-4.4 4.4M594.3 367.3l4.4 4.4m0-4.4l-4.4 4.4M594.3 382.3l4.4 4.4m0-4.4l-4.4 4.4M594.3 371.3l4.4 4.4m0-4.4l-4.4 4.4M596.3 379.3l4.4 4.4m0-4.4l-4.4 4.4M594.3 367.3l4.4 4.4m0-4.4l-4.4 4.4M595.3 369.3l4.4 4.4m0-4.4l-4.4 4.4M592.3 366.3l4.4 4.4m0-4.4l-4.4 4.4M591.3 362.3l4.4 4.4m0-4.4l-4.4 4.4M595.3 363.3l4.4 4.4m0-4.4l-4.4 4.4M593.3 368.3l4.4 4.4m0-4.4l-4.4 4.4M591.3 368.3l4.4 4.4m0-4.4l-4.4 4.4M593.3 370.3l4.4 4.4m0-4.4l-4.4 4.4M594.3 362.3l4.4 4.4m0-4.4l-4.4 4.4M592.3 360.3l4.4 4.4m0-4.4l-4.4 4.4M594.3 369.3l4.4 4.4m0-4.4l-4.4 4.4M591.3 365.3l4.4 4.4m0-4.4l-4.4 4.4M594.3 365.3l4.4 4.4m0-4.4l-4.4 4.4M593.3 353.3l4.4 4.4m0-4.4l-4.4 4.4M593.3 380.3l4.4 4.4m0-4.4l-4.4 4.4M593.3 367.3l4.4 4.4m0-4.4l-4.4 4.4M593.3 373.3l4.4 4.4m0-4.4l-4.4 4.4M595.3 358.3l4.4 4.4m0-4.4l-4.4 4.4M595.3 358.3l4.4 4.4m0-4.4l-4.4 4.4M590.3 371.3l4.4 4.4m0-4.4l-4.4 4.4M610.3 359.3l4.4 4.4m0-4.4l-4.4 4.4M611.3 383.3l4.4 4.4m0-4.4l-4.4 4.4M609.3 361.3l4.4 4.4m0-4.4l-4.4 4.4M612.3 373.3l4.4 4.4m0-4.4l-4.4 4.4M608.3 364.3l4.4 4.4m0-4.4l-4.4 4.4M612.3 364.3l4.4 4.4m0-4.4l-4.4 4.4M612.3 374.3l4.4 4.4m0-4.4l-4.4 4.4M613.3 364.3l4.4 4.4m0-4.4l-4.4 4.4M609.3 360.3l4.4 4.4m0-4.4l-4.4 4.4M612.3 372.3l4.4 4.4m0-4.4l-4.4 4.4M610.3 381.3l4.4 4.4m0-4.4l-4.4 4.4M609.3 379.3l4.4 4.4m0-4.4l-4.4 4.4M609.3 361.3l4.4 4.4m0-4.4l-4.4 4.4M613.3 371.3l4.4 4.4m0-4.4l-4.4 4.4M613.3 361.3l4.4 4.4m0-4.4l-4.4 4.4M610.3 382.3l4.4 4.4m0-4.4l-4.4 4.4M609.3 378.3l4.4 4.4m0-4.4l-4.4 4.4M610.3 374.3l4.4 4.4m0-4.4l-4.4 4.4M614.3 362.3l4.4 4.4m0-4.4l-4.4 4.4M612.3 376.3l4.4 4.4m0-4.4l-4.4 4.4M610.3 369.3l4.4 4.4m0-4.4l-4.4 4.4M608.3 372.3l4.4 4.4m0-4.4l-4.4 4.4M610.3 371.3l4.4 4.4m0-4.4l-4.4 4.4M613.3 376.3l4.4 4.4m0-4.4l-4.4 4.4M614.3 374.3l4.4 4.4m0-4.4l-4.4 4.4M610.3 378.3l4.4 4.4m0-4.4l-4.4 4.4M630.3 357.3l4.4 4.4m0-4.4l-4.4 4.4M627.3 384.3l4.4 4.4m0-4.4l-4.4 4.4M626.3 368.3l4.4 4.4m0-4.4l-4.4 4.4M628.3 378.3l4.4 4.4m0-4.4l-4.4 4.4M628.3 375.3l4.4 4.4m0-4.4l-4.4 4.4M629.3 382.3l4.4 4.4m0-4.4l-4.4 4.4M629.3 359.3l4.4 4.4m0-4.4l-4.4 4.4M630.3 369.3l4.4 4.4m0-4.4l-4.4 4.4M627.3 363.3l4.4 4.4m0-4.4l-4.4 4.4M630.3 373.3l4.4 4.4m0-4.4l-4.4 4.4M627.3 369.3l4.4 4.4m0-4.4l-4.4 4.4M629.3 377.3l4.4 4.4m0-4.4l-4.4 4.4M628.3 379.3l4.4 4.4m0-4.4l-4.4 4.4M628.3 364.3l4.4 4.4m0-4.4l-4.4 4.4M630.3 377.3l4.4 4.4m0-4.4l-4.4 4.4M628.3 372.3l4.4 4.4m0-4.4l-4.4 4.4M630.3 367.3l4.4 4.4m0-4.4l-4.4 4.4M630.3 377.3l4.4 4.4m0-4.4l-4.4 4.4M628.3 372.3l4.4 4.4m0-4.4l-4.4 4.4M627.3 381.3l4.4 4.4m0-4.4l-4.4 4.4M627.3 372.3l4.4 4.4m0-4.4l-4.4 4.4M627.3 376.3l4.4 4.4m0-4.4l-4.4 4.4M628.3 368.3l4.4 4.4m0-4.4l-4.4 4.4M628.3 372.3l4.4 4.4m0-4.4l-4.4 4.4M631.3 372.3l4.4 4.4m0-4.4l-4.4 4.4M629.3 381.3l4.4 4.4m0-4.4l-4.4 4.4M626.3 396.3l4.4 4.4m0-4.4l-4.4 4.4M645.3 363.3l4.4 4.4m0-4.4l-4.4 4.4M648.3 386.3l4.4 4.4m0-4.4l-4.4 4.4M645.3 366.3l4.4 4.4m0-4.4l-4.4 4.4M645.3 380.3l4.4 4.4m0-4.4l-4.4 4.4M648.3 384.3l4.4 4.4m0-4.4l-4.4 4.4M646.3 375.3l4.4 4.4m0-4.4l-4.4 4.4M645.3 379.3l4.4 4.4m0-4.4l-4.4 4.4M645.3 368.3l4.4 4.4m0-4.4l-4.4 4.4M647.3 366.3l4.4 4.4m0-4.4l-4.4 4.4M647.3 376.3l4.4 4.4m0-4.4l-4.4 4.4M647.3 373.3l4.4 4.4m0-4.4l-4.4 4.4M646.3 377.3l4.4 4.4m0-4.4l-4.4 4.4M647.3 367.3l4.4 4.4m0-4.4l-4.4 4.4M647.3 370.3l4.4 4.4m0-4.4l-4.4 4.4M647.3 376.3l4.4 4.4m0-4.4l-4.4 4.4M648.3 384.3l4.4 4.4m0-4.4l-4.4 4.4M646.3 373.3l4.4 4.4m0-4.4l-4.4 4.4M646.3 384.3l4.4 4.4m0-4.4l-4.4 4.4M646.3 372.3l4.4 4.4m0-4.4l-4.4 4.4M647.3 365.3l4.4 4.4m0-4.4l-4.4 4.4M645.3 371.3l4.4 4.4m0-4.4l-4.4 4.4M648.3 385.3l4.4 4.4m0-4.4l-4.4 4.4M644.3 380.3l4.4 4.4m0-4.4l-4.4 4.4M646.3 367.3l4.4 4.4m0-4.4l-4.4 4.4M645.3 377.3l4.4 4.4m0-4.4l-4.4 4.4M645.3 380.3l4.4 4.4m0-4.4l-4.4 4.4M662.3 364.3l4.4 4.4m0-4.4l-4.4 4.4M662.3 383.3l4.4 4.4m0-4.4l-4.4 4.4M663.3 374.3l4.4 4.4m0-4.4l-4.4 4.4M666.3 369.3l4.4 4.4m0-4.4l-4.4 4.4M663.3 379.3l4.4 4.4m0-4.4l-4.4 4.4M661.3 369.3l4.4 4.4m0-4.4l-4.4 4.4M662.3 376.3l4.4 4.4m0-4.4l-4.4 4.4M659.3 377.3l4.4 4.4m0-4.4l-4.4 4.4M664.3 376.3l4.4 4.4m0-4.4l-4.4 4.4M663.3 379.3l4.4 4.4m0-4.4l-4.4 4.4M665.3 372.3l4.4 4.4m0-4.4l-4.4 4.4M663.3 370.3l4.4 4.4m0-4.4l-4.4 4.4M663.3 372.3l4.4 4.4m0-4.4l-4.4 4.4M663.3 376.3l4.4 4.4m0-4.4l-4.4 4.4M660.3 380.3l4.4 4.4m0-4.4l-4.4 4.4M663.3 381.3l4.4 4.4m0-4.4l-4.4 4.4M663.3 380.3l4.4 4.4m0-4.4l-4.4 4.4M664.3 375.3l4.4 4.4m0-4.4l-4.4 4.4M664.3 369.3l4.4 4.4m0-4.4l-4.4 4.4M661.3 371.3l4.4 4.4m0-4.4l-4.4 4.4M663.3 379.3l4.4 4.4m0-4.4l-4.4 4.4M663.3 375.3l4.4 4.4m0-4.4l-4.4 4.4M665.3 380.3l4.4 4.4m0-4.4l-4.4 4.4M662.3 377.3l4.4 4.4m0-4.4l-4.4 4.4M660.3 381.3l4.4 4.4m0-4.4l-4.4 4.4M662.3 378.3l4.4 4.4m0-4.4l-4.4 4.4M661.3 393.3l4.4 4.4m0-4.4l-4.4 4.4M680.3 356.3l4.4 4.4m0-4.4l-4.4 4.4M678.3 386.3l4.4 4.4m0-4.4l-4.4 4.4M678.3 378.3l4.4 4.4m0-4.4l-4.4 4.4M677.3 377.3l4.4 4.4m0-4.4l-4.4 4.4M679.3 380.3l4.4 4.4m0-4.4l-4.4 4.4M682.3 381.3l4.4 4.4m0-4.4l-4.4 4.4M682.3 368.3l4.4 4.4m0-4.4l-4.4 4.4M680.3 373.3l4.4 4.4m0-4.4l-4.4 4.4M679.3 371.3l4.4 4.4m0-4.4l-4.4 4.4M681.3 377.3l4.4 4.4m0-4.4l-4.4 4.4M681.3 362.3l4.4 4.4m0-4.4l-4.4 4.4M678.3 374.3l4.4 4.4m0-4.4l-4.4 4.4M680.3 372.3l4.4 4.4m0-4.4l-4.4 4.4M681.3 372.3l4.4 4.4m0-4.4l-4.4 4.4M681.3 377.3l4.4 4.4m0-4.4l-4.4 4.4M681.3 376.3l4.4 4.4m0-4.4l-4.4 4.4M681.3 366.3l4.4 4.4m0-4.4l-4.4 4.4M680.3 378.3l4.4 4.4m0-4.4l-4.4 4.4M679.3 381.3l4.4 4.4m0-4.4l-4.4 4.4M677.3 361.3l4.4 4.4m0-4.4l-4.4 4.4M678.3 371.3l4.4 4.4m0-4.4l-4.4 4.4M681.3 362.3l4.4 4.4m0-4.4l-4.4 4.4M682.3 364.3l4.4 4.4m0-4.4l-4.4 4.4M681.3 374.3l4.4 4.4m0-4.4l-4.4 4.4M679.3 360.3l4.4 4.4m0-4.4l-4.4 4.4M677.3 372.3l4.4 4.4m0-4.4l-4.4 4.4M699.3 361.3l4.4 4.4m0-4.4l-4.4 4.4M699.3 382.3l4.4 4.4m0-4.4l-4.4 4.4M699.3 376.3l4.4 4.4m0-4.4l-4.4 4.4M697.3 379.3l4.4 4.4m0-4.4l-4.4 4.4M697.3 369.3l4.4 4.4m0-4.4l-4.4 4.4M699.3 370.3l4.4 4.4m0-4.4l-4.4 4.4M696.3 375.3l4.4 4.4m0-4.4l-4.4 4.4M697.3 380.3l4.4 4.4m0-4.4l-4.4 4.4M698.3 366.3l4.4 4.4m0-4.4l-4.4 4.4M698.3 372.3l4.4 4.4m0-4.4l-4.4 4.4M697.3 375.3l4.4 4.4m0-4.4l-4.4 4.4M699.3 374.3l4.4 4.4m0-4.4l-4.4 4.4M697.3 372.3l4.4 4.4m0-4.4l-4.4 4.4M698.3 370.3l4.4 4.4m0-4.4l-4.4 4.4M699.3 369.3l4.4 4.4m0-4.4l-4.4 4.4M698.3 365.3l4.4 4.4m0-4.4l-4.4 4.4M698.3 373.3l4.4 4.4m0-4.4l-4.4 4.4M695.3 380.3l4.4 4.4m0-4.4l-4.4 4.4M695.3 374.3l4.4 4.4m0-4.4l-4.4 4.4M696.3 374.3l4.4 4.4m0-4.4l-4.4 4.4M698.3 372.3l4.4 4.4m0-4.4l-4.4 4.4M700.3 363.3l4.4 4.4m0-4.4l-4.4 4.4M695.3 371.3l4.4 4.4m0-4.4l-4.4 4.4M698.3 379.3l4.4 4.4m0-4.4l-4.4 4.4M696.3 368.3l4.4 4.4m0-4.4l-4.4 4.4M696.3 378.3l4.4 4.4m0-4.4l-4.4 4.4M698.3 351.3l4.4 4.4m0-4.4l-4.4 4.4M715.3 358.3l4.4 4.4m0-4.4l-4.4 4.4M713.3 389.3l4.4 4.4m0-4.4l-4.4 4.4M716.3 366.3l4.4 4.4m0-4.4l-4.4 4.4M717.3 373.3l4.4 4.4m0-4.4l-4.4 4.4M713.3 376.3l4.4 4.4m0-4.4l-4.4 4.4M714.3 369.3l4.4 4.4m0-4.4l-4.4 4.4M716.3 374.3l4.4 4.4m0-4.4l-4.4 4.4M713.3 384.3l4.4 4.4m0-4.4l-4.4 4.4M716.3 387.3l4.4 4.4m0-4.4l-4.4 4.4M715.3 381.3l4.4 4.4m0-4.4l-4.4 4.4M717.3 361.3l4.4 4.4m0-4.4l-4.4 4.4M714.3 370.3l4.4 4.4m0-4.4l-4.4 4.4M714.3 371.3l4.4 4.4m0-4.4l-4.4 4.4M714.3 374.3l4.4 4.4m0-4.4l-4.4 4.4M718.3 365.3l4.4 4.4m0-4.4l-4.4 4.4M716.3 373.3l4.4 4.4m0-4.4l-4.4 4.4M713.3 369.3l4.4 4.4m0-4.4l-4.4 4.4M714.3 368.3l4.4 4.4m0-4.4l-4.4 4.4M715.3 383.3l4.4 4.4m0-4.4l-4.4 4.4M715.3 360.3l4.4 4.4m0-4.4l-4.4 4.4M716.3 373.3l4.4 4.4m0-4.4l-4.4 4.4M713.3 359.3l4.4 4.4m0-4.4l-4.4 4.4M714.3 368.3l4.4 4.4m0-4.4l-4.4 4.4M718.3 383.3l4.4 4.4m0-4.4l-4.4 4.4M717.3 381.3l4.4 4.4m0-4.4l-4.4 4.4M714.3 384.3l4.4 4.4m0-4.4l-4.4 4.4M731.3 358.3l4.4 4.4m0-4.4l-4.4 4.4M734.3 379.3l4.4 4.4m0-4.4l-4.4 4.4M732.3 370.3l4.4 4.4m0-4.4l-4.4 4.4M734.3 374.3l4.4 4.4m0-4.4l-4.4 4.4M732.3 360.3l4.4 4.4m0-4.4l-4.4 4.4M732.3 368.3l4.4 4.4m0-4.4l-4.4 4.4M731.3 375.3l4.4 4.4m0-4.4l-4.4 4.4M732.3 368.3l4.4 4.4m0-4.4l-4.4 4.4M732.3 364.3l4.4 4.4m0-4.4l-4.4 4.4M731.3 372.3l4.4 4.4m0-4.4l-4.4 4.4M735.3 376.3l4.4 4.4m0-4.4l-4.4 4.4M730.3 366.3l4.4 4.4m0-4.4l-4.4 4.4M731.3 366.3l4.4 4.4m0-4.4l-4.4 4.4M733.3 368.3l4.4 4.4m0-4.4l-4.4 4.4M734.3 370.3l4.4 4.4m0-4.4l-4.4 4.4M731.3 364.3l4.4 4.4m0-4.4l-4.4 4.4M732.3 374.3l4.4 4.4m0-4.4l-4.4 4.4M731.3 365.3l4.4 4.4m0-4.4l-4.4 4.4M730.3 371.3l4.4 4.4m0-4.4l-4.4 4.4M734.3 375.3l4.4 4.4m0-4.4l-4.4 4.4M732.3 362.3l4.4 4.4m0-4.4l-4.4 4.4M731.3 362.3l4.4 4.4m0-4.4l-4.4 4.4M732.3 368.3l4.4 4.4m0-4.4l-4.4 4.4M733.3 367.3l4.4 4.4m0-4.4l-4.4 4.4M734.3 362.3l4.4 4.4m0-4.4l-4.4 4.4M733.3 364.3l4.4 4.4m0-4.4l-4.4 4.4M729.3 390.3l4.4 4.4m0-4.4l-4.4 4.4M747.3 362.3l4.4 4.4m0-4.4l-4.4 4.4M750.3 384.3l4.4 4.4m0-4.4l-4.4 4.4M752.3 373.3l4.4 4.4m0-4.4l-4.4 4.4M748.3 375.3l4.4 4.4m0-4.4l-4.4 4.4M750.3 374.3l4.4 4.4m0-4.4l-4.4 4.4M750.3 378.3l4.4 4.4m0-4.4l-4.4 4.4M750.3 377.3l4.4 4.4m0-4.4l-4.4 4.4M747.3 366.3l4.4 4.4m0-4.4l-4.4 4.4M749.3 365.3l4.4 4.4m0-4.4l-4.4 4.4M749.3 371.3l4.4 4.4m0-4.4l-4.4 4.4M749.3 369.3l4.4 4.4m0-4.4l-4.4 4.4M749.3 364.3l4.4 4.4m0-4.4l-4.4 4.4M747.3 379.3l4.4 4.4m0-4.4l-4.4 4.4M748.3 380.3l4.4 4.4m0-4.4l-4.4 4.4M749.3 371.3l4.4 4.4m0-4.4l-4.4 4.4M748.3 364.3l4.4 4.4m0-4.4l-4.4 4.4M750.3 376.3l4.4 4.4m0-4.4l-4.4 4.4M751.3 369.3l4.4 4.4m0-4.4l-4.4 4.4M749.3 370.3l4.4 4.4m0-4.4l-4.4 4.4M748.3 381.3l4.4 4.4m0-4.4l-4.4 4.4M749.3 377.3l4.4 4.4m0-4.4l-4.4 4.4M748.3 377.3l4.4 4.4m0-4.4l-4.4 4.4M748.3 369.3l4.4 4.4m0-4.4l-4.4 4.4M748.3 371.3l4.4 4.4m0-4.4l-4.4 4.4M751.3 374.3l4.4 4.4m0-4.4l-4.4 4.4M750.3 370.3l4.4 4.4m0-4.4l-4.4 4.4M768.3 359.3l4.4 4.4m0-4.4l-4.4 4.4M765.3 387.3l4.4 4.4m0-4.4l-4.4 4.4M768.3 379.3l4.4 4.4m0-4.4l-4.4 4.4M764.3 377.3l4.4 4.4m0-4.4l-4.4 4.4M767.3 379.3l4.4 4.4m0-4.4l-4.4 4.4M767.3 385.3l4.4 4.4m0-4.4l-4.4 4.4M768.3 384.3l4.4 4.4m0-4.4l-4.4 4.4M767.3 374.3l4.4 4.4m0-4.4l-4.4 4.4M765.3 378.3l4.4 4.4m0-4.4l-4.4 4.4M765.3 383.3l4.4 4.4m0-4.4l-4.4 4.4M764.3 381.3l4.4 4.4m0-4.4l-4.4 4.4M767.3 367.3l4.4 4.4m0-4.4l-4.4 4.4M766.3 377.3l4.4 4.4m0-4.4l-4.4 4.4M765.3 373.3l4.4 4.4m0-4.4l-4.4 4.4M767.3 380.3l4.4 4.4m0-4.4l-4.4 4.4M765.3 377.3l4.4 4.4m0-4.4l-4.4 4.4M765.3 370.3l4.4 4.4m0-4.4l-4.4 4.4M765.3 365.3l4.4 4.4m0-4.4l-4.4 4.4M769.3 380.3l4.4 4.4m0-4.4l-4.4 4.4M768.3 377.3l4.4 4.4m0-4.4l-4.4 4.4M766.3 375.3l4.4 4.4m0-4.4l-4.4 4.4M764.3 373.3l4.4 4.4m0-4.4l-4.4 4.4M767.3 362.3l4.4 4.4m0-4.4l-4.4 4.4M766.3 366.3l4.4 4.4m0-4.4l-4.4 4.4M767.3 378.3l4.4 4.4m0-4.4l-4.4 4.4M767.3 371.3l4.4 4.4m0-4.4l-4.4 4.4M782.3 360.3l4.4 4.4m0-4.4l-4.4 4.4M785.3 383.3l4.4 4.4m0-4.4l-4.4 4.4M785.3 369.3l4.4 4.4m0-4.4l-4.4 4.4M782.3 367.3l4.4 4.4m0-4.4l-4.4 4.4M781.3 377.3l4.4 4.4m0-4.4l-4.4 4.4M782.3 371.3l4.4 4.4m0-4.4l-4.4 4.4M784.3 378.3l4.4 4.4m0-4.4l-4.4 4.4M783.3 361.3l4.4 4.4m0-4.4l-4.4 4.4M782.3 372.3l4.4 4.4m0-4.4l-4.4 4.4M783.3 379.3l4.4 4.4m0-4.4l-4.4 4.4M782.3 366.3l4.4 4.4m0-4.4l-4.4 4.4M783.3 366.3l4.4 4.4m0-4.4l-4.4 4.4M782.3 377.3l4.4 4.4m0-4.4l-4.4 4.4M780.3 380.3l4.4 4.4m0-4.4l-4.4 4.4M783.3 380.3l4.4 4.4m0-4.4l-4.4 4.4M784.3 376.3l4.4 4.4m0-4.4l-4.4 4.4M781.3 376.3l4.4 4.4m0-4.4l-4.4 4.4M782.3 363.3l4.4 4.4m0-4.4l-4.4 4.4M784.3 378.3l4.4 4.4m0-4.4l-4.4 4.4M782.3 376.3l4.4 4.4m0-4.4l-4.4 4.4M781.3 363.3l4.4 4.4m0-4.4l-4.4 4.4M786.3 375.3l4.4 4.4m0-4.4l-4.4 4.4M784.3 371.3l4.4 4.4m0-4.4l-4.4 4.4M784.3 379.3l4.4 4.4m0-4.4l-4.4 4.4M781.3 375.3l4.4 4.4m0-4.4l-4.4 4.4M785.3 379.3l4.4 4.4m0-4.4l-4.4 4.4M802.3 349.3l4.4 4.4m0-4.4l-4.4 4.4M797.3 375.3l4.4 4.4m0-4.4l-4.4 4.4M802.3 362.3l4.4 4.4m0-4.4l-4.4 4.4M803.3 357.3l4.4 4.4m0-4.4l-4.4 4.4M802.3 350.3l4.4 4.4m0-4.4l-4.4 4.4M798.3 364.3l4.4 4.4m0-4.4l-4.4 4.4M800.3 357.3l4.4 4.4m0-4.4l-4.4 4.4M801.3 355.3l4.4 4.4m0-4.4l-4.4 4.4M801.3 356.3l4.4 4.4m0-4.4l-4.4 4.4M799.3 366.3l4.4 4.4m0-4.4l-4.4 4.4M799.3 353.3l4.4 4.4m0-4.4l-4.4 4.4M802.3 361.3l4.4 4.4m0-4.4l-4.4 4.4M798.3 354.3l4.4 4.4m0-4.4l-4.4 4.4M803.3 350.3l4.4 4.4m0-4.4l-4.4 4.4M800.3 362.3l4.4 4.4m0-4.4l-4.4 4.4M801.3 358.3l4.4 4.4m0-4.4l-4.4 4.4M798.3 358.3l4.4 4.4m0-4.4l-4.4 4.4M799.3 360.3l4.4 4.4m0-4.4l-4.4 4.4M801.3 354.3l4.4 4.4m0-4.4l-4.4 4.4M798.3 362.3l4.4 4.4m0-4.4l-4.4 4.4M803.3 371.3l4.4 4.4m0-4.4l-4.4 4.4M798.3 356.3l4.4 4.4m0-4.4l-4.4 4.4M798.3 351.3l4.4 4.4m0-4.4l-4.4 4.4M800.3 357.3l4.4 4.4m0-4.4l-4.4 4.4M801.3 360.3l4.4 4.4m0-4.4l-4.4 4.4M801.3 366.3l4.4 4.4m0-4.4l-4.4 4.4M818.3 332.3l4.4 4.4m0-4.4l-4.4 4.4M818.3 362.3l4.4 4.4m0-4.4l-4.4 4.4M817.3 358.3l4.4 4.4m0-4.4l-4.4 4.4M819.3 345.3l4.4 4.4m0-4.4l-4.4 4.4M820.3 353.3l4.4 4.4m0-4.4l-4.4 4.4M817.3 335.3l4.4 4.4m0-4.4l-4.4 4.4M818.3 339.3l4.4 4.4m0-4.4l-4.4 4.4M817.3 347.3l4.4 4.4m0-4.4l-4.4 4.4M816.3 341.3l4.4 4.4m0-4.4l-4.4 4.4M816.3 350.3l4.4 4.4m0-4.4l-4.4 4.4M817.3 340.3l4.4 4.4m0-4.4l-4.4 4.4M816.3 351.3l4.4 4.4m0-4.4l-4.4 4.4M817.3 350.3l4.4 4.4m0-4.4l-4.4 4.4M817.3 350.3l4.4 4.4m0-4.4l-4.4 4.4M818.3 348.3l4.4 4.4m0-4.4l-4.4 4.4M819.3 339.3l4.4 4.4m0-4.4l-4.4 4.4M821.3 342.3l4.4 4.4m0-4.4l-4.4 4.4M817.3 353.3l4.4 4.4m0-4.4l-4.4 4.4M817.3 361.3l4.4 4.4m0-4.4l-4.4 4.4M818.3 338.3l4.4 4.4m0-4.4l-4.4 4.4M817.3 336.3l4.4 4.4m0-4.4l-4.4 4.4M819.3 351.3l4.4 4.4m0-4.4l-4.4 4.4M819.3 337.3l4.4 4.4m0-4.4l-4.4 4.4M818.3 349.3l4.4 4.4m0-4.4l-4.4 4.4M819.3 335.3l4.4 4.4m0-4.4l-4.4 4.4M817.3 343.3l4.4 4.4m0-4.4l-4.4 4.4M836.3 329.3l4.4 4.4m0-4.4l-4.4 4.4M837.3 356.3l4.4 4.4m0-4.4l-4.4 4.4M837.3 341.3l4.4 4.4m0-4.4l-4.4 4.4M836.3 343.3l4.4 4.4m0-4.4l-4.4 4.4M835.3 349.3l4.4 4.4m0-4.4l-4.4 4.4M838.3 341.3l4.4 4.4m0-4.4l-4.4 4.4M834.3 346.3l4.4 4.4m0-4.4l-4.4 4.4M835.3 340.3l4.4 4.4m0-4.4l-4.4 4.4M836.3 354.3l4.4 4.4m0-4.4l-4.4 4.4M833.3 330.3l4.4 4.4m0-4.4l-4.4 4.4M836.3 350.3l4.4 4.4m0-4.4l-4.4 4.4M835.3 335.3l4.4 4.4m0-4.4l-4.4 4.4M835.3 331.3l4.4 4.4m0-4.4l-4.4 4.4M836.3 349.3l4.4 4.4m0-4.4l-4.4 4.4M836.3 336.3l4.4 4.4m0-4.4l-4.4 4.4M836.3 331.3l4.4 4.4m0-4.4l-4.4 4.4M834.3 338.3l4.4 4.4m0-4.4l-4.4 4.4M834.3 338.3l4.4 4.4m0-4.4l-4.4 4.4M835.3 349.3l4.4 4.4m0-4.4l-4.4 4.4M835.3 336.3l4.4 4.4m0-4.4l-4.4 4.4M834.3 348.3l4.4 4.4m0-4.4l-4.4 4.4M837.3 349.3l4.4 4.4m0-4.4l-4.4 4.4M838.3 344.3l4.4 4.4m0-4.4l-4.4 4.4M833.3 348.3l4.4 4.4m0-4.4l-4.4 4.4M835.3 339.3l4.4 4.4m0-4.4l-4.4 4.4M837.3 352.3l4.4 4.4m0-4.4l-4.4 4.4M850.3 318.3l4.4 4.4m0-4.4l-4.4 4.4M851.3 343.3l4.4 4.4m0-4.4l-4.4 4.4M851.3 327.3l4.4 4.4m0-4.4l-4.4 4.4M852.3 330.3l4.4 4.4m0-4.4l-4.4 4.4M855.3 335.3l4.4 4.4m0-4.4l-4.4 4.4M855.3 331.3l4.4 4.4m0-4.4l-4.4 4.4M850.3 324.3l4.4 4.4m0-4.4l-4.4 4.4M852.3 338.3l4.4 4.4m0-4.4l-4.4 4.4M851.3 339.3l4.4 4.4m0-4.4l-4.4 4.4M853.3 335.3l4.4 4.4m0-4.4l-4.4 4.4M850.3 326.3l4.4 4.4m0-4.4l-4.4 4.4M850.3 339.3l4.4 4.4m0-4.4l-4.4 4.4M852.3 334.3l4.4 4.4m0-4.4l-4.4 4.4M851.3 330.3l4.4 4.4m0-4.4l-4.4 4.4M854.3 331.3l4.4 4.4m0-4.4l-4.4 4.4M852.3 327.3l4.4 4.4m0-4.4l-4.4 4.4M853.3 332.3l4.4 4.4m0-4.4l-4.4 4.4M852.3 319.3l4.4 4.4m0-4.4l-4.4 4.4M854.3 332.3l4.4 4.4m0-4.4l-4.4 4.4M854.3 334.3l4.4 4.4m0-4.4l-4.4 4.4M852.3 325.3l4.4 4.4m0-4.4l-4.4 4.4M851.3 330.3l4.4 4.4m0-4.4l-4.4 4.4M853.3 332.3l4.4 4.4m0-4.4l-4.4 4.4M852.3 332.3l4.4 4.4m0-4.4l-4.4 4.4M854.3 324.3l4.4 4.4m0-4.4l-4.4 4.4M852.3 332.3l4.4 4.4m0-4.4l-4.4 4.4M871.3 301.3l4.4 4.4m0-4.4l-4.4 4.4M868.3 319.3l4.4 4.4m0-4.4l-4.4 4.4M871.3 311.3l4.4 4.4m0-4.4l-4.4 4.4M869.3 304.3l4.4 4.4m0-4.4l-4.4 4.4M868.3 305.3l4.4 4.4m0-4.4l-4.4 4.4M872.3 307.3l4.4 4.4m0-4.4l-4.4 4.4M869.3 313.3l4.4 4.4m0-4.4l-4.4 4.4M868.3 312.3l4.4 4.4m0-4.4l-4.4 4.4M869.3 304.3l4.4 4.4m0-4.4l-4.4 4.4M868.3 305.3l4.4 4.4m0-4.4l-4.4 4.4M871.3 315.3l4.4 4.4m0-4.4l-4.4 4.4M870.3 310.3l4.4 4.4m0-4.4l-4.4 4.4M872.3 316.3l4.4 4.4m0-4.4l-4.4 4.4M870.3 310.3l4.4 4.4m0-4.4l-4.4 4.4M869.3 309.3l4.4 4.4m0-4.4l-4.4 4.4M871.3 305.3l4.4 4.4m0-4.4l-4.4 4.4M869.3 313.3l4.4 4.4m0-4.4l-4.4 4.4M869.3 309.3l4.4 4.4m0-4.4l-4.4 4.4M869.3 312.3l4.4 4.4m0-4.4l-4.4 4.4M870.3 314.3l4.4 4.4m0-4.4l-4.4 4.4M872.3 313.3l4.4 4.4m0-4.4l-4.4 4.4M869.3 318.3l4.4 4.4m0-4.4l-4.4 4.4M870.3 318.3l4.4 4.4m0-4.4l-4.4 4.4M870.3 314.3l4.4 4.4m0-4.4l-4.4 4.4M868.3 305.3l4.4 4.4m0-4.4l-4.4 4.4M868.3 311.3l4.4 4.4m0-4.4l-4.4 4.4M887.3 291.3l4.4 4.4m0-4.4l-4.4 4.4M885.3 311.3l4.4 4.4m0-4.4l-4.4 4.4M888.3 294.3l4.4 4.4m0-4.4l-4.4 4.4M886.3 295.3l4.4 4.4m0-4.4l-4.4 4.4M885.3 309.3l4.4 4.4m0-4.4l-4.4 4.4M885.3 301.3l4.4 4.4m0-4.4l-4.4 4.4M887.3 306.3l4.4 4.4m0-4.4l-4.4 4.4M885.3 297.3l4.4 4.4m0-4.4l-4.4 4.4M885.3 305.3l4.4 4.4m0-4.4l-4.4 4.4M889.3 304.3l4.4 4.4m0-4.4l-4.4 4.4M888.3 294.3l4.4 4.4m0-4.4l-4.4 4.4M888.3 297.3l4.4 4.4m0-4.4l-4.4 4.4M888.3 310.3l4.4 4.4m0-4.4l-4.4 4.4M887.3 300.3l4.4 4.4m0-4.4l-4.4 4.4M884.3 308.3l4.4 4.4m0-4.4l-4.4 4.4M888.3 292.3l4.4 4.4m0-4.4l-4.4 4.4M888.3 295.3l4.4 4.4m0-4.4l-4.4 4.4M887.3 309.3l4.4 4.4m0-4.4l-4.4 4.4M883.3 305.3l4.4 4.4m0-4.4l-4.4 4.4M888.3 293.3l4.4 4.4m0-4.4l-4.4 4.4M888.3 293.3l4.4 4.4m0-4.4l-4.4 4.4M886.3 293.3l4.4 4.4m0-4.4l-4.4 4.4M886.3 306.3l4.4 4.4m0-4.4l-4.4 4.4M888.3 295.3l4.4 4.4m0-4.4l-4.4 4.4M886.3 305.3l4.4 4.4m0-4.4l-4.4 4.4M888.3 293.3l4.4 4.4m0-4.4l-4.4 4.4M904.3 285.3l4.4 4.4m0-4.4l-4.4 4.4M904.3 314.3l4.4 4.4m0-4.4l-4.4 4.4M905.3 292.3l4.4 4.4m0-4.4l-4.4 4.4M904.3 295.3l4.4 4.4m0-4.4l-4.4 4.4M904.3 294.3l4.4 4.4m0-4.4l-4.4 4.4M905.3 301.3l4.4 4.4m0-4.4l-4.4 4.4M904.3 309.3l4.4 4.4m0-4.4l-4.4 4.4M904.3 298.3l4.4 4.4m0-4.4l-4.4 4.4M903.3 313.3l4.4 4.4m0-4.4l-4.4 4.4M903.3 295.3l4.4 4.4m0-4.4l-4.4 4.4M904.3 303.3l4.4 4.4m0-4.4l-4.4 4.4M903.3 296.3l4.4 4.4m0-4.4l-4.4 4.4M904.3 289.3l4.4 4.4m0-4.4l-4.4 4.4M903.3 303.3l4.4 4.4m0-4.4l-4.4 4.4M903.3 310.3l4.4 4.4m0-4.4l-4.4 4.4M904.3 307.3l4.4 4.4m0-4.4l-4.4 4.4M902.3 306.3l4.4 4.4m0-4.4l-4.4 4.4M905.3 287.3l4.4 4.4m0-4.4l-4.4 4.4M905.3 312.3l4.4 4.4m0-4.4l-4.4 4.4M901.3 310.3l4.4 4.4m0-4.4l-4.4 4.4M904.3 306.3l4.4 4.4m0-4.4l-4.4 4.4M903.3 291.3l4.4 4.4m0-4.4l-4.4 4.4M905.3 306.3l4.4 4.4m0-4.4l-4.4 4.4M907.3 303.3l4.4 4.4m0-4.4l-4.4 4.4M903.3 293.3l4.4 4.4m0-4.4l-4.4 4.4M904.3 309.3l4.4 4.4m0-4.4l-4.4 4.4M922.3 279.3l4.4 4.4m0-4.4l-4.4 4.4M924.3 301.3l4.4 4.4m0-4.4l-4.4 4.4M922.3 286.3l4.4 4.4m0-4.4l-4.4 4.4M920.3 282.3l4.4 4.4m0-4.4l-4.4 4.4M921.3 285.3l4.4 4.4m0-4.4l-4.4 4.4M920.3 291.3l4.4 4.4m0-4.4l-4.4 4.4M919.3 281.3l4.4 4.4m0-4.4l-4.4 4.4M921.3 286.3l4.4 4.4m0-4.4l-4.4 4.4M921.3 284.3l4.4 4.4m0-4.4l-4.4 4.4M920.3 289.3l4.4 4.4m0-4.4l-4.4 4.4M920.3 287.3l4.4 4.4m0-4.4l-4.4 4.4M920.3 299.3l4.4 4.4m0-4.4l-4.4 4.4M922.3 288.3l4.4 4.4m0-4.4l-4.4 4.4M924.3 284.3l4.4 4.4m0-4.4l-4.4 4.4M921.3 299.3l4.4 4.4m0-4.4l-4.4 4.4M925.3 291.3l4.4 4.4m0-4.4l-4.4 4.4M919.3 292.3l4.4 4.4m0-4.4l-4.4 4.4M922.3 285.3l4.4 4.4m0-4.4l-4.4 4.4M920.3 283.3l4.4 4.4m0-4.4l-4.4 4.4M921.3 293.3l4.4 4.4m0-4.4l-4.4 4.4M922.3 294.3l4.4 4.4m0-4.4l-4.4 4.4M922.3 293.3l4.4 4.4m0-4.4l-4.4 4.4M923.3 299.3l4.4 4.4m0-4.4l-4.4 4.4M921.3 295.3l4.4 4.4m0-4.4l-4.4 4.4M920.3 282.3l4.4 4.4m0-4.4l-4.4 4.4M921.3 290.3l4.4 4.4m0-4.4l-4.4 4.4M940.3 270.3l4.4 4.4m0-4.4l-4.4 4.4M939.3 294.3l4.4 4.4m0-4.4l-4.4 4.4M938.3 282.3l4.4 4.4m0-4.4l-4.4 4.4M936.3 286.3l4.4 4.4m0-4.4l-4.4 4.4M940.3 274.3l4.4 4.4m0-4.4l-4.4 4.4M937.3 272.3l4.4 4.4m0-4.4l-4.4 4.4M938.3 288.3l4.4 4.4m0-4.4l-4.4 4.4M940.3 283.3l4.4 4.4m0-4.4l-4.4 4.4M939.3 285.3l4.4 4.4m0-4.4l-4.4 4.4M937.3 273.3l4.4 4.4m0-4.4l-4.4 4.4M940.3 288.3l4.4 4.4m0-4.4l-4.4 4.4M938.3 284.3l4.4 4.4m0-4.4l-4.4 4.4M940.3 287.3l4.4 4.4m0-4.4l-4.4 4.4M937.3 285.3l4.4 4.4m0-4.4l-4.4 4.4M936.3 274.3l4.4 4.4m0-4.4l-4.4 4.4M938.3 284.3l4.4 4.4m0-4.4l-4.4 4.4M940.3 288.3l4.4 4.4m0-4.4l-4.4 4.4M935.3 282.3l4.4 4.4m0-4.4l-4.4 4.4M937.3 279.3l4.4 4.4m0-4.4l-4.4 4.4M940.3 279.3l4.4 4.4m0-4.4l-4.4 4.4M942.3 275.3l4.4 4.4m0-4.4l-4.4 4.4M938.3 290.3l4.4 4.4m0-4.4l-4.4 4.4M937.3 275.3l4.4 4.4m0-4.4l-4.4 4.4M938.3 281.3l4.4 4.4m0-4.4l-4.4 4.4M937.3 289.3l4.4 4.4m0-4.4l-4.4 4.4M941.3 285.3l4.4 4.4m0-4.4l-4.4 4.4M955.3 268.3l4.4 4.4m0-4.4l-4.4 4.4M957.3 290.3l4.4 4.4m0-4.4l-4.4 4.4M957.3 279.3l4.4 4.4m0-4.4l-4.4 4.4M954.3 283.3l4.4 4.4m0-4.4l-4.4 4.4M954.3 279.3l4.4 4.4m0-4.4l-4.4 4.4M955.3 277.3l4.4 4.4m0-4.4l-4.4 4.4M957.3 278.3l4.4 4.4m0-4.4l-4.4 4.4M956.3 282.3l4.4 4.4m0-4.4l-4.4 4.4M958.3 279.3l4.4 4.4m0-4.4l-4.4 4.4M953.3 283.3l4.4 4.4m0-4.4l-4.4 4.4M956.3 271.3l4.4 4.4m0-4.4l-4.4 4.4M955.3 270.3l4.4 4.4m0-4.4l-4.4 4.4M956.3 269.3l4.4 4.4m0-4.4l-4.4 4.4M956.3 275.3l4.4 4.4m0-4.4l-4.4 4.4M954.3 274.3l4.4 4.4m0-4.4l-4.4 4.4M955.3 285.3l4.4 4.4m0-4.4l-4.4 4.4M954.3 271.3l4.4 4.4m0-4.4l-4.4 4.4M956.3 277.3l4.4 4.4m0-4.4l-4.4 4.4M954.3 278.3l4.4 4.4m0-4.4l-4.4 4.4M955.3 277.3l4.4 4.4m0-4.4l-4.4 4.4M956.3 279.3l4.4 4.4m0-4.4l-4.4 4.4M955.3 280.3l4.4 4.4m0-4.4l-4.4 4.4M957.3 284.3l4.4 4.4m0-4.4l-4.4 4.4M955.3 276.3l4.4 4.4m0-4.4l-4.4 4.4M957.3 288.3l4.4 4.4m0-4.4l-4.4 4.4M956.3 274.3l4.4 4.4m0-4.4l-4.4 4.4M975.3 261.3l4.4 4.4m0-4.4l-4.4 4.4M975.3 283.3l4.4 4.4m0-4.4l-4.4 4.4M976.3 265.3l4.4 4.4m0-4.4l-4.4 4.4M972.3 268.3l4.4 4.4m0-4.4l-4.4 4.4M976.3 276.3l4.4 4.4m0-4.4l-4.4 4.4M975.3 276.3l4.4 4.4m0-4.4l-4.4 4.4M975.3 266.3l4.4 4.4m0-4.4l-4.4 4.4M974.3 268.3l4.4 4.4m0-4.4l-4.4 4.4M973.3 279.3l4.4 4.4m0-4.4l-4.4 4.4M974.3 271.3l4.4 4.4m0-4.4l-4.4 4.4M973.3 274.3l4.4 4.4m0-4.4l-4.4 4.4M972.3 280.3l4.4 4.4m0-4.4l-4.4 4.4M972.3 275.3l4.4 4.4m0-4.4l-4.4 4.4M972.3 263.3l4.4 4.4m0-4.4l-4.4 4.4M973.3 272.3l4.4 4.4m0-4.4l-4.4 4.4M970.3 266.3l4.4 4.4m0-4.4l-4.4 4.4M973.3 280.3l4.4 4.4m0-4.4l-4.4 4.4M971.3 264.3l4.4 4.4m0-4.4l-4.4 4.4M974.3 277.3l4.4 4.4m0-4.4l-4.4 4.4M975.3 275.3l4.4 4.4m0-4.4l-4.4 4.4M975.3 279.3l4.4 4.4m0-4.4l-4.4 4.4M976.3 273.3l4.4 4.4m0-4.4l-4.4 4.4M975.3 273.3l4.4 4.4m0-4.4l-4.4 4.4M976.3 278.3l4.4 4.4m0-4.4l-4.4 4.4M973.3 267.3l4.4 4.4m0-4.4l-4.4 4.4M972.3 269.3l4.4 4.4m0-4.4l-4.4 4.4M989.3 272.3l4.4 4.4m0-4.4l-4.4 4.4M994.3 290.3l4.4 4.4m0-4.4l-4.4 4.4M992.3 285.3l4.4 4.4m0-4.4l-4.4 4.4M990.3 281.3l4.4 4.4m0-4.4l-4.4 4.4M991.3 286.3l4.4 4.4m0-4.4l-4.4 4.4M991.3 284.3l4.4 4.4m0-4.4l-4.4 4.4M991.3 279.3l4.4 4.4m0-4.4l-4.4 4.4M990.3 278.3l4.4 4.4m0-4.4l-4.4 4.4M989.3 281.3l4.4 4.4m0-4.4l-4.4 4.4M991.3 283.3l4.4 4.4m0-4.4l-4.4 4.4M992.3 283.3l4.4 4.4m0-4.4l-4.4 4.4M992.3 288.3l4.4 4.4m0-4.4l-4.4 4.4M992.3 285.3l4.4 4.4m0-4.4l-4.4 4.4M993.3 277.3l4.4 4.4m0-4.4l-4.4 4.4M989.3 283.3l4.4 4.4m0-4.4l-4.4 4.4M991.3 285.3l4.4 4.4m0-4.4l-4.4 4.4M991.3 275.3l4.4 4.4m0-4.4l-4.4 4.4M992.3 286.3l4.4 4.4m0-4.4l-4.4 4.4M991.3 285.3l4.4 4.4m0-4.4l-4.4 4.4M992.3 280.3l4.4 4.4m0-4.4l-4.4 4.4M991.3 282.3l4.4 4.4m0-4.4l-4.4 4.4M994.3 283.3l4.4 4.4m0-4.4l-4.4 4.4M988.3 282.3l4.4 4.4m0-4.4l-4.4 4.4M991.3 279.3l4.4 4.4m0-4.4l-4.4 4.4M994.3 283.3l4.4 4.4m0-4.4l-4.4 4.4M991.3 284.3l4.4 4.4m0-4.4l-4.4 4.4M988.3 296.3l4.4 4.4m0-4.4l-4.4 4.4M1006.3 281.3l4.4 4.4m0-4.4l-4.4 4.4M1007.3 297.3l4.4 4.4m0-4.4l-4.4 4.4M1006.3 290.3l4.4 4.4m0-4.4l-4.4 4.4M1005.3 283.3l4.4 4.4m0-4.4l-4.4 4.4M1005.3 292.3l4.4 4.4m0-4.4l-4.4 4.4M1007.3 286.3l4.4 4.4m0-4.4l-4.4 4.4M1007.3 288.3l4.4 4.4m0-4.4l-4.4 4.4M1007.3 286.3l4.4 4.4m0-4.4l-4.4 4.4M1006.3 290.3l4.4 4.4m0-4.4l-4.4 4.4M1009.3 290.3l4.4 4.4m0-4.4l-4.4 4.4M1010.3 292.3l4.4 4.4m0-4.4l-4.4 4.4M1006.3 290.3l4.4 4.4m0-4.4l-4.4 4.4M1005.3 295.3l4.4 4.4m0-4.4l-4.4 4.4M1009.3 291.3l4.4 4.4m0-4.4l-4.4 4.4M1009.3 284.3l4.4 4.4m0-4.4l-4.4 4.4M1010.3 296.3l4.4 4.4m0-4.4l-4.4 4.4M1006.3 288.3l4.4 4.4m0-4.4l-4.4 4.4M1007.3 286.3l4.4 4.4m0-4.4l-4.4 4.4M1004.3 290.3l4.4 4.4m0-4.4l-4.4 4.4M1008.3 291.3l4.4 4.4m0-4.4l-4.4 4.4M1005.3 285.3l4.4 4.4m0-4.4l-4.4 4.4M1004.3 287.3l4.4 4.4m0-4.4l-4.4 4.4M1008.3 292.3l4.4 4.4m0-4.4l-4.4 4.4M1008.3 290.3l4.4 4.4m0-4.4l-4.4 4.4M1004.3 284.3l4.4 4.4m0-4.4l-4.4 4.4M1006.3 295.3l4.4 4.4m0-4.4l-4.4 4.4M1026.3 281.3l4.4 4.4m0-4.4l-4.4 4.4M1025.3 301.3l4.4 4.4m0-4.4l-4.4 4.4M1025.3 297.3l4.4 4.4m0-4.4l-4.4 4.4M1028.3 286.3l4.4 4.4m0-4.4l-4.4 4.4M1022.3 292.3l4.4 4.4m0-4.4l-4.4 4.4M1023.3 298.3l4.4 4.4m0-4.4l-4.4 4.4M1023.3 290.3l4.4 4.4m0-4.4l-4.4 4.4M1026.3 286.3l4.4 4.4m0-4.4l-4.4 4.4M1027.3 286.3l4.4 4.4m0-4.4l-4.4 4.4M1024.3 284.3l4.4 4.4m0-4.4l-4.4 4.4M1026.3 294.3l4.4 4.4m0-4.4l-4.4 4.4M1025.3 287.3l4.4 4.4m0-4.4l-4.4 4.4M1025.3 291.3l4.4 4.4m0-4.4l-4.4 4.4M1024.3 291.3l4.4 4.4m0-4.4l-4.4 4.4M1025.3 284.3l4.4 4.4m0-4.4l-4.4 4.4M1025.3 284.3l4.4 4.4m0-4.4l-4.4 4.4M1027.3 295.3l4.4 4.4m0-4.4l-4.4 4.4M1028.3 286.3l4.4 4.4m0-4.4l-4.4 4.4M1022.3 297.3l4.4 4.4m0-4.4l-4.4 4.4M1026.3 290.3l4.4 4.4m0-4.4l-4.4 4.4M1025.3 295.3l4.4 4.4m0-4.4l-4.4 4.4M1026.3 294.3l4.4 4.4m0-4.4l-4.4 4.4M1027.3 293.3l4.4 4.4m0-4.4l-4.4 4.4M1026.3 294.3l4.4 4.4m0-4.4l-4.4 4.4M1026.3 297.3l4.4 4.4m0-4.4l-4.4 4.4M1023.3 287.3l4.4 4.4m0-4.4l-4.4 4.4M1040.3 284.3l4.4 4.4m0-4.4l-4.4 4.4M1044.3 304.3l4.4 4.4m0-4.4l-4.4 4.4M1041.3 302.3l4.4 4.4m0-4.4l-4.4 4.4M1041.3 293.3l4.4 4.4m0-4.4l-4.4 4.4M1041.3 292.3l4.4 4.4m0-4.4l-4.4 4.4M1043.3 302.3l4.4 4.4m0-4.4l-4.4 4.4M1044.3 297.3l4.4 4.4m0-4.4l-4.4 4.4M1043.3 290.3l4.4 4.4m0-4.4l-4.4 4.4M1039.3 299.3l4.4 4.4m0-4.4l-4.4 4.4M1041.3 289.3l4.4 4.4m0-4.4l-4.4 4.4M1043.3 294.3l4.4 4.4m0-4.4l-4.4 4.4M1039.3 300.3l4.4 4.4m0-4.4l-4.4 4.4M1042.3 289.3l4.4 4.4m0-4.4l-4.4 4.4M1043.3 292.3l4.4 4.4m0-4.4l-4.4 4.4M1044.3 293.3l4.4 4.4m0-4.4l-4.4 4.4M1043.3 291.3l4.4 4.4m0-4.4l-4.4 4.4M1043.3 302.3l4.4 4.4m0-4.4l-4.4 4.4M1043.3 285.3l4.4 4.4m0-4.4l-4.4 4.4M1042.3 296.3l4.4 4.4m0-4.4l-4.4 4.4M1039.3 300.3l4.4 4.4m0-4.4l-4.4 4.4M1045.3 296.3l4.4 4.4m0-4.4l-4.4 4.4M1043.3 293.3l4.4 4.4m0-4.4l-4.4 4.4M1042.3 295.3l4.4 4.4m0-4.4l-4.4 4.4M1041.3 302.3l4.4 4.4m0-4.4l-4.4 4.4M1045.3 303.3l4.4 4.4m0-4.4l-4.4 4.4M1042.3 292.3l4.4 4.4m0-4.4l-4.4 4.4M1060.3 279.3l4.4 4.4m0-4.4l-4.4 4.4M1058.3 294.3l4.4 4.4m0-4.4l-4.4 4.4M1062.3 281.3l4.4 4.4m0-4.4l-4.4 4.4M1059.3 285.3l4.4 4.4m0-4.4l-4.4 4.4M1059.3 292.3l4.4 4.4m0-4.4l-4.4 4.4M1061.3 283.3l4.4 4.4m0-4.4l-4.4 4.4M1060.3 290.3l4.4 4.4m0-4.4l-4.4 4.4M1058.3 289.3l4.4 4.4m0-4.4l-4.4 4.4M1061.3 281.3l4.4 4.4m0-4.4l-4.4 4.4M1063.3 282.3l4.4 4.4m0-4.4l-4.4 4.4M1058.3 281.3l4.4 4.4m0-4.4l-4.4 4.4M1059.3 287.3l4.4 4.4m0-4.4l-4.4 4.4M1058.3 286.3l4.4 4.4m0-4.4l-4.4 4.4M1057.3 290.3l4.4 4.4m0-4.4l-4.4 4.4M1061.3 285.3l4.4 4.4m0-4.4l-4.4 4.4M1061.3 289.3l4.4 4.4m0-4.4l-4.4 4.4M1061.3 290.3l4.4 4.4m0-4.4l-4.4 4.4M1060.3 292.3l4.4 4.4m0-4.4l-4.4 4.4M1057.3 291.3l4.4 4.4m0-4.4l-4.4 4.4M1060.3 283.3l4.4 4.4m0-4.4l-4.4 4.4M1059.3 287.3l4.4 4.4m0-4.4l-4.4 4.4M1058.3 284.3l4.4 4.4m0-4.4l-4.4 4.4M1058.3 282.3l4.4 4.4m0-4.4l-4.4 4.4M1061.3 284.3l4.4 4.4m0-4.4l-4.4 4.4M1059.3 292.3l4.4 4.4m0-4.4l-4.4 4.4M1063.3 285.3l4.4 4.4m0-4.4l-4.4 4.4M1077.3 279.3l4.4 4.4m0-4.4l-4.4 4.4M1074.3 306.3l4.4 4.4m0-4.4l-4.4 4.4M1079.3 294.3l4.4 4.4m0-4.4l-4.4 4.4M1077.3 289.3l4.4 4.4m0-4.4l-4.4 4.4M1078.3 292.3l4.4 4.4m0-4.4l-4.4 4.4M1076.3 297.3l4.4 4.4m0-4.4l-4.4 4.4M1076.3 283.3l4.4 4.4m0-4.4l-4.4 4.4M1076.3 297.3l4.4 4.4m0-4.4l-4.4 4.4M1074.3 288.3l4.4 4.4m0-4.4l-4.4 4.4M1074.3 295.3l4.4 4.4m0-4.4l-4.4 4.4M1075.3 288.3l4.4 4.4m0-4.4l-4.4 4.4M1075.3 286.3l4.4 4.4m0-4.4l-4.4 4.4M1074.3 283.3l4.4 4.4m0-4.4l-4.4 4.4M1076.3 297.3l4.4 4.4m0-4.4l-4.4 4.4M1077.3 300.3l4.4 4.4m0-4.4l-4.4 4.4M1079.3 281.3l4.4 4.4m0-4.4l-4.4 4.4M1079.3 290.3l4.4 4.4m0-4.4l-4.4 4.4M1076.3 287.3l4.4 4.4m0-4.4l-4.4 4.4M1077.3 291.3l4.4 4.4m0-4.4l-4.4 4.4M1076.3 293.3l4.4 4.4m0-4.4l-4.4 4.4M1077.3 290.3l4.4 4.4m0-4.4l-4.4 4.4M1076.3 286.3l4.4 4.4m0-4.4l-4.4 4.4M1075.3 289.3l4.4 4.4m0-4.4l-4.4 4.4M1076.3 298.3l4.4 4.4m0-4.4l-4.4 4.4M1074.3 299.3l4.4 4.4m0-4.4l-4.4 4.4M1077.3 300.3l4.4 4.4m0-4.4l-4.4 4.4M1093.3 291.3l4.4 4.4m0-4.4l-4.4 4.4M1093.3 308.3l4.4 4.4m0-4.4l-4.4 4.4M1094.3 295.3l4.4 4.4m0-4.4l-4.4 4.4M1094.3 298.3l4.4 4.4m0-4.4l-4.4 4.4M1094.3 295.3l4.4 4.4m0-4.4l-4.4 4.4M1096.3 301.3l4.4 4.4m0-4.4l-4.4 4.4M1093.3 296.3l4.4 4.4m0-4.4l-4.4 4.4M1097.3 301.3l4.4 4.4m0-4.4l-4.4 4.4M1092.3 296.3l4.4 4.4m0-4.4l-4.4 4.4M1092.3 296.3l4.4 4.4m0-4.4l-4.4 4.4M1095.3 306.3l4.4 4.4m0-4.4l-4.4 4.4M1092.3 296.3l4.4 4.4m0-4.4l-4.4 4.4M1096.3 295.3l4.4 4.4m0-4.4l-4.4 4.4M1094.3 304.3l4.4 4.4m0-4.4l-4.4 4.4M1093.3 297.3l4.4 4.4m0-4.4l-4.4 4.4M1095.3 295.3l4.4 4.4m0-4.4l-4.4 4.4M1094.3 297.3l4.4 4.4m0-4.4l-4.4 4.4M1093.3 299.3l4.4 4.4m0-4.4l-4.4 4.4M1093.3 297.3l4.4 4.4m0-4.4l-4.4 4.4M1097.3 301.3l4.4 4.4m0-4.4l-4.4 4.4M1094.3 297.3l4.4 4.4m0-4.4l-4.4 4.4M1094.3 295.3l4.4 4.4m0-4.4l-4.4 4.4M1092.3 300.3l4.4 4.4m0-4.4l-4.4 4.4M1097.3 299.3l4.4 4.4m0-4.4l-4.4 4.4M1095.3 300.3l4.4 4.4m0-4.4l-4.4 4.4M1093.3 300.3l4.4 4.4m0-4.4l-4.4 4.4M1111.3 276.3l4.4 4.4m0-4.4l-4.4 4.4M1112.3 300.3l4.4 4.4m0-4.4l-4.4 4.4M1111.3 291.3l4.4 4.4m0-4.4l-4.4 4.4M1109.3 288.3l4.4 4.4m0-4.4l-4.4 4.4M1108.3 285.3l4.4 4.4m0-4.4l-4.4 4.4M1109.3 296.3l4.4 4.4m0-4.4l-4.4 4.4M1108.3 280.3l4.4 4.4m0-4.4l-4.4 4.4M1111.3 285.3l4.4 4.4m0-4.4l-4.4 4.4M1112.3 282.3l4.4 4.4m0-4.4l-4.4 4.4M1114.3 280.3l4.4 4.4m0-4.4l-4.4 4.4M1111.3 283.3l4.4 4.4m0-4.4l-4.4 4.4M1114.3 279.3l4.4 4.4m0-4.4l-4.4 4.4M1114.3 295.3l4.4 4.4m0-4.4l-4.4 4.4M1111.3 292.3l4.4 4.4m0-4.4l-4.4 4.4M1110.3 290.3l4.4 4.4m0-4.4l-4.4 4.4M1111.3 291.3l4.4 4.4m0-4.4l-4.4 4.4M1110.3 285.3l4.4 4.4m0-4.4l-4.4 4.4M1110.3 289.3l4.4 4.4m0-4.4l-4.4 4.4M1111.3 292.3l4.4 4.4m0-4.4l-4.4 4.4M1112.3 290.3l4.4 4.4m0-4.4l-4.4 4.4M1108.3 286.3l4.4 4.4m0-4.4l-4.4 4.4M1111.3 292.3l4.4 4.4m0-4.4l-4.4 4.4M1111.3 280.3l4.4 4.4m0-4.4l-4.4 4.4M1112.3 280.3l4.4 4.4m0-4.4l-4.4 4.4M1109.3 289.3l4.4 4.4m0-4.4l-4.4 4.4M1112.3 283.3l4.4 4.4m0-4.4l-4.4 4.4M1131.3 283.3l4.4 4.4m0-4.4l-4.4 4.4M1127.3 299.3l4.4 4.4m0-4.4l-4.4 4.4M1129.3 286.3l4.4 4.4m0-4.4l-4.4 4.4M1128.3 291.3l4.4 4.4m0-4.4l-4.4 4.4M1127.3 291.3l4.4 4.4m0-4.4l-4.4 4.4M1126.3 289.3l4.4 4.4m0-4.4l-4.4 4.4M1126.3 294.3l4.4 4.4m0-4.4l-4.4 4.4M1130.3 295.3l4.4 4.4m0-4.4l-4.4 4.4M1130.3 289.3l4.4 4.4m0-4.4l-4.4 4.4M1132.3 296.3l4.4 4.4m0-4.4l-4.4 4.4M1126.3 290.3l4.4 4.4m0-4.4l-4.4 4.4M1129.3 297.3l4.4 4.4m0-4.4l-4.4 4.4M1129.3 295.3l4.4 4.4m0-4.4l-4.4 4.4M1130.3 285.3l4.4 4.4m0-4.4l-4.4 4.4M1128.3 296.3l4.4 4.4m0-4.4l-4.4 4.4M1130.3 289.3l4.4 4.4m0-4.4l-4.4 4.4M1130.3 294.3l4.4 4.4m0-4.4l-4.4 4.4M1130.3 292.3l4.4 4.4m0-4.4l-4.4 4.4M1131.3 284.3l4.4 4.4m0-4.4l-4.4 4.4M1128.3 293.3l4.4 4.4m0-4.4l-4.4 4.4M1131.3 293.3l4.4 4.4m0-4.4l-4.4 4.4M1127.3 291.3l4.4 4.4m0-4.4l-4.4 4.4M1131.3 286.3l4.4 4.4m0-4.4l-4.4 4.4M1125.3 292.3l4.4 4.4m0-4.4l-4.4 4.4M1129.3 297.3l4.4 4.4m0-4.4l-4.4 4.4M1127.3 287.3l4.4 4.4m0-4.4l-4.4 4.4M1147.3 292.3l4.4 4.4m0-4.4l-4.4 4.4M1144.3 311.3l4.4 4.4m0-4.4l-4.4 4.4M1143.3 300.3l4.4 4.4m0-4.4l-4.4 4.4M1144.3 297.3l4.4 4.4m0-4.4l-4.4 4.4M1143.3 306.3l4.4 4.4m0-4.4l-4.4 4.4M1144.3 299.3l4.4 4.4m0-4.4l-4.4 4.4M1145.3 309.3l4.4 4.4m0-4.4l-4.4 4.4M1146.3 296.3l4.4 4.4m0-4.4l-4.4 4.4M1145.3 307.3l4.4 4.4m0-4.4l-4.4 4.4M1145.3 304.3l4.4 4.4m0-4.4l-4.4 4.4M1144.3 302.3l4.4 4.4m0-4.4l-4.4 4.4M1146.3 305.3l4.4 4.4m0-4.4l-4.4 4.4M1146.3 307.3l4.4 4.4m0-4.4l-4.4 4.4M1146.3 307.3l4.4 4.4m0-4.4l-4.4 4.4M1147.3 300.3l4.4 4.4m0-4.4l-4.4 4.4M1145.3 304.3l4.4 4.4m0-4.4l-4.4 4.4M1145.3 298.3l4.4 4.4m0-4.4l-4.4 4.4M1148.3 301.3l4.4 4.4m0-4.4l-4.4 4.4M1145.3 298.3l4.4 4.4m0-4.4l-4.4 4.4M1146.3 305.3l4.4 4.4m0-4.4l-4.4 4.4M1144.3 305.3l4.4 4.4m0-4.4l-4.4 4.4M1147.3 301.3l4.4 4.4m0-4.4l-4.4 4.4M1144.3 302.3l4.4 4.4m0-4.4l-4.4 4.4M1143.3 294.3l4.4 4.4m0-4.4l-4.4 4.4M1145.3 298.3l4.4 4.4m0-4.4l-4.4 4.4M1144.3 298.3l4.4 4.4m0-4.4l-4.4 4.4M1164.3 283.3l4.4 4.4m0-4.4l-4.4 4.4M1159.3 300.3l4.4 4.4m0-4.4l-4.4 4.4M1163.3 286.3l4.4 4.4m0-4.4l-4.4 4.4M1165.3 296.3l4.4 4.4m0-4.4l-4.4 4.4M1163.3 296.3l4.4 4.4m0-4.4l-4.4 4.4M1163.3 299.3l4.4 4.4m0-4.4l-4.4 4.4M1162.3 291.3l4.4 4.4m0-4.4l-4.4 4.4M1164.3 297.3l4.4 4.4m0-4.4l-4.4 4.4M1163.3 293.3l4.4 4.4m0-4.4l-4.4 4.4M1164.3 292.3l4.4 4.4m0-4.4l-4.4 4.4M1164.3 292.3l4.4 4.4m0-4.4l-4.4 4.4M1162.3 298.3l4.4 4.4m0-4.4l-4.4 4.4M1162.3 293.3l4.4 4.4m0-4.4l-4.4 4.4M1164.3 294.3l4.4 4.4m0-4.4l-4.4 4.4M1164.3 285.3l4.4 4.4m0-4.4l-4.4 4.4M1163.3 296.3l4.4 4.4m0-4.4l-4.4 4.4M1164.3 298.3l4.4 4.4m0-4.4l-4.4 4.4M1162.3 294.3l4.4 4.4m0-4.4l-4.4 4.4M1163.3 295.3l4.4 4.4m0-4.4l-4.4 4.4M1164.3 289.3l4.4 4.4m0-4.4l-4.4 4.4M1163.3 294.3l4.4 4.4m0-4.4l-4.4 4.4M1159.3 293.3l4.4 4.4m0-4.4l-4.4 4.4M1163.3 290.3l4.4 4.4m0-4.4l-4.4 4.4M1162.3 292.3l4.4 4.4m0-4.4l-4.4 4.4M1162.3 290.3l4.4 4.4m0-4.4l-4.4 4.4M1163.3 293.3l4.4 4.4m0-4.4l-4.4 4.4M1181.3 294.3l4.4 4.4m0-4.4l-4.4 4.4M1181.3 310.3l4.4 4.4m0-4.4l-4.4 4.4M1181.3 310.3l4.4 4.4m0-4.4l-4.4 4.4M1180.3 308.3l4.4 4.4m0-4.4l-4.4 4.4M1178.3 300.3l4.4 4.4m0-4.4l-4.4 4.4M1182.3 298.3l4.4 4.4m0-4.4l-4.4 4.4M1180.3 303.3l4.4 4.4m0-4.4l-4.4 4.4M1180.3 308.3l4.4 4.4m0-4.4l-4.4 4.4M1180.3 304.3l4.4 4.4m0-4.4l-4.4 4.4M1181.3 307.3l4.4 4.4m0-4.4l-4.4 4.4M1180.3 298.3l4.4 4.4m0-4.4l-4.4 4.4M1178.3 304.3l4.4 4.4m0-4.4l-4.4 4.4M1181.3 297.3l4.4 4.4m0-4.4l-4.4 4.4M1182.3 299.3l4.4 4.4m0-4.4l-4.4 4.4M1180.3 304.3l4.4 4.4m0-4.4l-4.4 4.4M1183.3 302.3l4.4 4.4m0-4.4l-4.4 4.4M1180.3 302.3l4.4 4.4m0-4.4l-4.4 4.4M1181.3 299.3l4.4 4.4m0-4.4l-4.4 4.4M1183.3 301.3l4.4 4.4m0-4.4l-4.4 4.4M1182.3 301.3l4.4 4.4m0-4.4l-4.4 4.4M1184.3 300.3l4.4 4.4m0-4.4l-4.4 4.4M1179.3 302.3l4.4 4.4m0-4.4l-4.4 4.4M1181.3 308.3l4.4 4.4m0-4.4l-4.4 4.4M1182.3 299.3l4.4 4.4m0-4.4l-4.4 4.4M1180.3 305.3l4.4 4.4m0-4.4l-4.4 4.4M1179.3 301.3l4.4 4.4m0-4.4l-4.4 4.4M1196.3 289.3l4.4 4.4m0-4.4l-4.4 4.4M1201.3 306.3l4.4 4.4m0-4.4l-4.4 4.4M1195.3 300.3l4.4 4.4m0-4.4l-4.4 4.4M1198.3 296.3l4.4 4.4m0-4.4l-4.4 4.4M1198.3 302.3l4.4 4.4m0-4.4l-4.4 4.4M1199.3 299.3l4.4 4.4m0-4.4l-4.4 4.4M1196.3 297.3l4.4 4.4m0-4.4l-4.4 4.4M1198.3 297.3l4.4 4.4m0-4.4l-4.4 4.4M1200.3 292.3l4.4 4.4m0-4.4l-4.4 4.4M1197.3 295.3l4.4 4.4m0-4.4l-4.4 4.4M1198.3 292.3l4.4 4.4m0-4.4l-4.4 4.4M1196.3 294.3l4.4 4.4m0-4.4l-4.4 4.4M1199.3 298.3l4.4 4.4m0-4.4l-4.4 4.4M1197.3 292.3l4.4 4.4m0-4.4l-4.4 4.4M1197.3 303.3l4.4 4.4m0-4.4l-4.4 4.4M1197.3 305.3l4.4 4.4m0-4.4l-4.4 4.4M1195.3 303.3l4.4 4.4m0-4.4l-4.4 4.4M1195.3 291.3l4.4 4.4m0-4.4l-4.4 4.4M1198.3 291.3l4.4 4.4m0-4.4l-4.4 4.4M1197.3 294.3l4.4 4.4m0-4.4l-4.4 4.4M1197.3 301.3l4.4 4.4m0-4.4l-4.4 4.4M1195.3 294.3l4.4 4.4m0-4.4l-4.4 4.4M1198.3 300.3l4.4 4.4m0-4.4l-4.4 4.4M1197.3 291.3l4.4 4.4m0-4.4l-4.4 4.4M1195.3 294.3l4.4 4.4m0-4.4l-4.4 4.4M1199.3 290.3l4.4 4.4m0-4.4l-4.4 4.4M1214.3 288.3l4.4 4.4m0-4.4l-4.4 4.4M1215.3 304.3l4.4 4.4m0-4.4l-4.4 4.4M1217.3 295.3l4.4 4.4m0-4.4l-4.4 4.4M1215.3 297.3l4.4 4.4m0-4.4l-4.4 4.4M1215.3 300.3l4.4 4.4m0-4.4l-4.4 4.4M1214.3 297.3l4.4 4.4m0-4.4l-4.4 4.4M1215.3 298.3l4.4 4.4m0-4.4l-4.4 4.4M1215.3 303.3l4.4 4.4m0-4.4l-4.4 4.4M1216.3 292.3l4.4 4.4m0-4.4l-4.4 4.4M1217.3 293.3l4.4 4.4m0-4.4l-4.4 4.4M1216.3 291.3l4.4 4.4m0-4.4l-4.4 4.4M1215.3 295.3l4.4 4.4m0-4.4l-4.4 4.4M1215.3 297.3l4.4 4.4m0-4.4l-4.4 4.4M1218.3 292.3l4.4 4.4m0-4.4l-4.4 4.4M1215.3 294.3l4.4 4.4m0-4.4l-4.4 4.4M1215.3 292.3l4.4 4.4m0-4.4l-4.4 4.4M1218.3 302.3l4.4 4.4m0-4.4l-4.4 4.4M1218.3 294.3l4.4 4.4m0-4.4l-4.4 4.4M1216.3 297.3l4.4 4.4m0-4.4l-4.4 4.4M1215.3 299.3l4.4 4.4m0-4.4l-4.4 4.4M1214.3 291.3l4.4 4.4m0-4.4l-4.4 4.4M1217.3 299.3l4.4 4.4m0-4.4l-4.4 4.4M1214.3 295.3l4.4 4.4m0-4.4l-4.4 4.4M1217.3 293.3l4.4 4.4m0-4.4l-4.4 4.4M1214.3 289.3l4.4 4.4m0-4.4l-4.4 4.4M1215.3 291.3l4.4 4.4m0-4.4l-4.4 4.4M1230.3 290.3l4.4 4.4m0-4.4l-4.4 4.4M1233.3 303.3l4.4 4.4m0-4.4l-4.4 4.4M1232.3 292.3l4.4 4.4m0-4.4l-4.4 4.4M1232.3 292.3l4.4 4.4m0-4.4l-4.4 4.4M1235.3 295.3l4.4 4.4m0-4.4l-4.4 4.4M1232.3 293.3l4.4 4.4m0-4.4l-4.4 4.4M1233.3 294.3l4.4 4.4m0-4.4l-4.4 4.4M1233.3 301.3l4.4 4.4m0-4.4l-4.4 4.4M1235.3 300.3l4.4 4.4m0-4.4l-4.4 4.4M1234.3 293.3l4.4 4.4m0-4.4l-4.4 4.4M1230.3 292.3l4.4 4.4m0-4.4l-4.4 4.4M1235.3 299.3l4.4 4.4m0-4.4l-4.4 4.4M1232.3 300.3l4.4 4.4m0-4.4l-4.4 4.4M1232.3 297.3l4.4 4.4m0-4.4l-4.4 4.4M1234.3 298.3l4.4 4.4m0-4.4l-4.4 4.4M1232.3 297.3l4.4 4.4m0-4.4l-4.4 4.4M1232.3 298.3l4.4 4.4m0-4.4l-4.4 4.4M1232.3 294.3l4.4 4.4m0-4.4l-4.4 4.4M1232.3 293.3l4.4 4.4m0-4.4l-4.4 4.4M1234.3 300.3l4.4 4.4m0-4.4l-4.4 4.4M1233.3 294.3l4.4 4.4m0-4.4l-4.4 4.4M1235.3 297.3l4.4 4.4m0-4.4l-4.4 4.4M1235.3 300.3l4.4 4.4m0-4.4l-4.4 4.4M1234.3 299.3l4.4 4.4m0-4.4l-4.4 4.4M1231.3 294.3l4.4 4.4m0-4.4l-4.4 4.4M1233.3 294.3l4.4 4.4m0-4.4l-4.4 4.4M1234.3 280.3l4.4 4.4m0-4.4l-4.4 4.4M1231.3 313.3l4.4 4.4m0-4.4l-4.4 4.4M1235.3 313.3l4.4 4.4m0-4.4l-4.4 4.4M1250.3 292.3l4.4 4.4m0-4.4l-4.4 4.4M1246.3 318.3l4.4 4.4m0-4.4l-4.4 4.4M1248.3 308.3l4.4 4.4m0-4.4l-4.4 4.4M1250.3 298.3l4.4 4.4m0-4.4l-4.4 4.4M1250.3 314.3l4.4 4.4m0-4.4l-4.4 4.4M1249.3 307.3l4.4 4.4m0-4.4l-4.4 4.4M1247.3 305.3l4.4 4.4m0-4.4l-4.4 4.4M1249.3 309.3l4.4 4.4m0-4.4l-4.4 4.4M1250.3 301.3l4.4 4.4m0-4.4l-4.4 4.4M1249.3 307.3l4.4 4.4m0-4.4l-4.4 4.4M1252.3 306.3l4.4 4.4m0-4.4l-4.4 4.4M1250.3 315.3l4.4 4.4m0-4.4l-4.4 4.4M1250.3 298.3l4.4 4.4m0-4.4l-4.4 4.4M1249.3 311.3l4.4 4.4m0-4.4l-4.4 4.4M1246.3 310.3l4.4 4.4m0-4.4l-4.4 4.4M1251.3 295.3l4.4 4.4m0-4.4l-4.4 4.4M1248.3 308.3l4.4 4.4m0-4.4l-4.4 4.4M1251.3 303.3l4.4 4.4m0-4.4l-4.4 4.4M1249.3 304.3l4.4 4.4m0-4.4l-4.4 4.4M1249.3 308.3l4.4 4.4m0-4.4l-4.4 4.4M1251.3 302.3l4.4 4.4m0-4.4l-4.4 4.4M1249.3 296.3l4.4 4.4m0-4.4l-4.4 4.4M1247.3 306.3l4.4 4.4m0-4.4l-4.4 4.4M1250.3 300.3l4.4 4.4m0-4.4l-4.4 4.4M1250.3 307.3l4.4 4.4m0-4.4l-4.4 4.4M1250.3 298.3l4.4 4.4m0-4.4l-4.4 4.4M1268.3 295.3l4.4 4.4m0-4.4l-4.4 4.4M1265.3 316.3l4.4 4.4m0-4.4l-4.4 4.4M1269.3 305.3l4.4 4.4m0-4.4l-4.4 4.4M1264.3 301.3l4.4 4.4m0-4.4l-4.4 4.4M1269.3 305.3l4.4 4.4m0-4.4l-4.4 4.4M1268.3 313.3l4.4 4.4m0-4.4l-4.4 4.4M1263.3 299.3l4.4 4.4m0-4.4l-4.4 4.4M1269.3 315.3l4.4 4.4m0-4.4l-4.4 4.4M1269.3 300.3l4.4 4.4m0-4.4l-4.4 4.4M1266.3 312.3l4.4 4.4m0-4.4l-4.4 4.4M1264.3 305.3l4.4 4.4m0-4.4l-4.4 4.4M1266.3 305.3l4.4 4.4m0-4.4l-4.4 4.4M1266.3 312.3l4.4 4.4m0-4.4l-4.4 4.4M1267.3 297.3l4.4 4.4m0-4.4l-4.4 4.4M1265.3 303.3l4.4 4.4m0-4.4l-4.4 4.4M1265.3 303.3l4.4 4.4m0-4.4l-4.4 4.4M1267.3 298.3l4.4 4.4m0-4.4l-4.4 4.4M1267.3 313.3l4.4 4.4m0-4.4l-4.4 4.4M1263.3 308.3l4.4 4.4m0-4.4l-4.4 4.4M1267.3 306.3l4.4 4.4m0-4.4l-4.4 4.4M1265.3 301.3l4.4 4.4m0-4.4l-4.4 4.4M1265.3 315.3l4.4 4.4m0-4.4l-4.4 4.4M1267.3 305.3l4.4 4.4m0-4.4l-4.4 4.4M1267.3 305.3l4.4 4.4m0-4.4l-4.4 4.4M1267.3 312.3l4.4 4.4m0-4.4l-4.4 4.4M1269.3 306.3l4.4 4.4m0-4.4l-4.4 4.4M1283.3 305.3l4.4 4.4m0-4.4l-4.4 4.4M1281.3 326.3l4.4 4.4m0-4.4l-4.4 4.4M1284.3 308.3l4.4 4.4m0-4.4l-4.4 4.4M1285.3 320.3l4.4 4.4m0-4.4l-4.4 4.4M1283.3 315.3l4.4 4.4m0-4.4l-4.4 4.4M1286.3 321.3l4.4 4.4m0-4.4l-4.4 4.4M1285.3 317.3l4.4 4.4m0-4.4l-4.4 4.4M1286.3 318.3l4.4 4.4m0-4.4l-4.4 4.4M1282.3 318.3l4.4 4.4m0-4.4l-4.4 4.4M1284.3 322.3l4.4 4.4m0-4.4l-4.4 4.4M1286.3 321.3l4.4 4.4m0-4.4l-4.4 4.4M1287.3 320.3l4.4 4.4m0-4.4l-4.4 4.4M1286.3 309.3l4.4 4.4m0-4.4l-4.4 4.4M1284.3 316.3l4.4 4.4m0-4.4l-4.4 4.4M1284.3 317.3l4.4 4.4m0-4.4l-4.4 4.4M1283.3 323.3l4.4 4.4m0-4.4l-4.4 4.4M1286.3 321.3l4.4 4.4m0-4.4l-4.4 4.4M1283.3 323.3l4.4 4.4m0-4.4l-4.4 4.4M1284.3 317.3l4.4 4.4m0-4.4l-4.4 4.4M1281.3 319.3l4.4 4.4m0-4.4l-4.4 4.4M1282.3 308.3l4.4 4.4m0-4.4l-4.4 4.4M1287.3 320.3l4.4 4.4m0-4.4l-4.4 4.4M1284.3 310.3l4.4 4.4m0-4.4l-4.4 4.4M1284.3 306.3l4.4 4.4m0-4.4l-4.4 4.4M1281.3 318.3l4.4 4.4m0-4.4l-4.4 4.4M1284.3 313.3l4.4 4.4m0-4.4l-4.4 4.4M1281.3 294.3l4.4 4.4m0-4.4l-4.4 4.4M1301.3 309.3l4.4 4.4m0-4.4l-4.4 4.4M1302.3 327.3l4.4 4.4m0-4.4l-4.4 4.4M1299.3 323.3l4.4 4.4m0-4.4l-4.4 4.4M1299.3 316.3l4.4 4.4m0-4.4l-4.4 4.4M1301.3 322.3l4.4 4.4m0-4.4l-4.4 4.4M1301.3 323.3l4.4 4.4m0-4.4l-4.4 4.4M1301.3 319.3l4.4 4.4m0-4.4l-4.4 4.4M1301.3 315.3l4.4 4.4m0-4.4l-4.4 4.4M1300.3 318.3l4.4 4.4m0-4.4l-4.4 4.4M1302.3 318.3l4.4 4.4m0-4.4l-4.4 4.4M1301.3 321.3l4.4 4.4m0-4.4l-4.4 4.4M1302.3 318.3l4.4 4.4m0-4.4l-4.4 4.4M1297.3 314.3l4.4 4.4m0-4.4l-4.4 4.4M1302.3 321.3l4.4 4.4m0-4.4l-4.4 4.4M1297.3 324.3l4.4 4.4m0-4.4l-4.4 4.4M1301.3 319.3l4.4 4.4m0-4.4l-4.4 4.4M1299.3 318.3l4.4 4.4m0-4.4l-4.4 4.4M1300.3 310.3l4.4 4.4m0-4.4l-4.4 4.4M1300.3 323.3l4.4 4.4m0-4.4l-4.4 4.4M1300.3 312.3l4.4 4.4m0-4.4l-4.4 4.4M1301.3 322.3l4.4 4.4m0-4.4l-4.4 4.4M1301.3 322.3l4.4 4.4m0-4.4l-4.4 4.4M1299.3 317.3l4.4 4.4m0-4.4l-4.4 4.4M1297.3 322.3l4.4 4.4m0-4.4l-4.4 4.4M1299.3 318.3l4.4 4.4m0-4.4l-4.4 4.4M1301.3 313.3l4.4 4.4m0-4.4l-4.4 4.4M1319.3 308.3l4.4 4.4m0-4.4l-4.4 4.4M1317.3 330.3l4.4 4.4m0-4.4l-4.4 4.4M1319.3 316.3l4.4 4.4m0-4.4l-4.4 4.4M1320.3 316.3l4.4 4.4m0-4.4l-4.4 4.4M1317.3 321.3l4.4 4.4m0-4.4l-4.4 4.4M1318.3 319.3l4.4 4.4m0-4.4l-4.4 4.4M1319.3 322.3l4.4 4.4m0-4.4l-4.4 4.4M1318.3 314.3l4.4 4.4m0-4.4l-4.4 4.4M1317.3 320.3l4.4 4.4m0-4.4l-4.4 4.4M1318.3 323.3l4.4 4.4m0-4.4l-4.4 4.4M1317.3 322.3l4.4 4.4m0-4.4l-4.4 4.4M1318.3 326.3l4.4 4.4m0-4.4l-4.4 4.4M1318.3 318.3l4.4 4.4m0-4.4l-4.4 4.4M1318.3 316.3l4.4 4.4m0-4.4l-4.4 4.4M1317.3 314.3l4.4 4.4m0-4.4l-4.4 4.4M1318.3 316.3l4.4 4.4m0-4.4l-4.4 4.4M1318.3 327.3l4.4 4.4m0-4.4l-4.4 4.4M1318.3 321.3l4.4 4.4m0-4.4l-4.4 4.4M1320.3 315.3l4.4 4.4m0-4.4l-4.4 4.4M1317.3 313.3l4.4 4.4m0-4.4l-4.4 4.4M1315.3 319.3l4.4 4.4m0-4.4l-4.4 4.4M1320.3 320.3l4.4 4.4m0-4.4l-4.4 4.4M1317.3 314.3l4.4 4.4m0-4.4l-4.4 4.4M1318.3 317.3l4.4 4.4m0-4.4l-4.4 4.4M1317.3 313.3l4.4 4.4m0-4.4l-4.4 4.4M1319.3 319.3l4.4 4.4m0-4.4l-4.4 4.4M1333.3 311.3l4.4 4.4m0-4.4l-4.4 4.4M1334.3 336.3l4.4 4.4m0-4.4l-4.4 4.4M1335.3 329.3l4.4 4.4m0-4.4l-4.4 4.4M1336.3 320.3l4.4 4.4m0-4.4l-4.4 4.4M1337.3 314.3l4.4 4.4m0-4.4l-4.4 4.4M1335.3 323.3l4.4 4.4m0-4.4l-4.4 4.4M1335.3 314.3l4.4 4.4m0-4.4l-4.4 4.4M1336.3 313.3l4.4 4.4m0-4.4l-4.4 4.4M1333.3 313.3l4.4 4.4m0-4.4l-4.4 4.4M1335.3 321.3l4.4 4.4m0-4.4l-4.4 4.4M1335.3 316.3l4.4 4.4m0-4.4l-4.4 4.4M1336.3 321.3l4.4 4.4m0-4.4l-4.4 4.4M1334.3 330.3l4.4 4.4m0-4.4l-4.4 4.4M1334.3 322.3l4.4 4.4m0-4.4l-4.4 4.4M1333.3 321.3l4.4 4.4m0-4.4l-4.4 4.4M1335.3 317.3l4.4 4.4m0-4.4l-4.4 4.4M1334.3 334.3l4.4 4.4m0-4.4l-4.4 4.4M1339.3 316.3l4.4 4.4m0-4.4l-4.4 4.4M1334.3 320.3l4.4 4.4m0-4.4l-4.4 4.4M1337.3 323.3l4.4 4.4m0-4.4l-4.4 4.4M1334.3 324.3l4.4 4.4m0-4.4l-4.4 4.4M1335.3 330.3l4.4 4.4m0-4.4l-4.4 4.4M1337.3 325.3l4.4 4.4m0-4.4l-4.4 4.4M1335.3 327.3l4.4 4.4m0-4.4l-4.4 4.4M1339.3 321.3l4.4 4.4m0-4.4l-4.4 4.4M1336.3 333.3l4.4 4.4m0-4.4l-4.4 4.4M1350.3 314.3l4.4 4.4m0-4.4l-4.4 4.4M1355.3 341.3l4.4 4.4m0-4.4l-4.4 4.4M1352.3 314.3l4.4 4.4m0-4.4l-4.4 4.4M1353.3 325.3l4.4 4.4m0-4.4l-4.4 4.4M1353.3 321.3l4.4 4.4m0-4.4l-4.4 4.4M1352.3 330.3l4.4 4.4m0-4.4l-4.4 4.4M1352.3 336.3l4.4 4.4m0-4.4l-4.4 4.4M1352.3 325.3l4.4 4.4m0-4.4l-4.4 4.4M1355.3 338.3l4.4 4.4m0-4.4l-4.4 4.4M1353.3 334.3l4.4 4.4m0-4.4l-4.4 4.4M1353.3 336.3l4.4 4.4m0-4.4l-4.4 4.4M1352.3 338.3l4.4 4.4m0-4.4l-4.4 4.4M1352.3 334.3l4.4 4.4m0-4.4l-4.4 4.4M1352.3 322.3l4.4 4.4m0-4.4l-4.4 4.4M1353.3 336.3l4.4 4.4m0-4.4l-4.4 4.4M1356.3 333.3l4.4 4.4m0-4.4l-4.4 4.4M1354.3 333.3l4.4 4.4m0-4.4l-4.4 4.4M1353.3 322.3l4.4 4.4m0-4.4l-4.4 4.4M1355.3 327.3l4.4 4.4m0-4.4l-4.4 4.4M1354.3 330.3l4.4 4.4m0-4.4l-4.4 4.4M1353.3 324.3l4.4 4.4m0-4.4l-4.4 4.4M1352.3 338.3l4.4 4.4m0-4.4l-4.4 4.4M1351.3 335.3l4.4 4.4m0-4.4l-4.4 4.4M1353.3 327.3l4.4 4.4m0-4.4l-4.4 4.4M1352.3 328.3l4.4 4.4m0-4.4l-4.4 4.4M1350.3 319.3l4.4 4.4m0-4.4l-4.4 4.4M1368.3 313.3l4.4 4.4m0-4.4l-4.4 4.4M1367.3 348.3l4.4 4.4m0-4.4l-4.4 4.4M1373.3 344.3l4.4 4.4m0-4.4l-4.4 4.4M1371.3 319.3l4.4 4.4m0-4.4l-4.4 4.4M1370.3 335.3l4.4 4.4m0-4.4l-4.4 4.4M1367.3 335.3l4.4 4.4m0-4.4l-4.4 4.4M1368.3 320.3l4.4 4.4m0-4.4l-4.4 4.4M1368.3 314.3l4.4 4.4m0-4.4l-4.4 4.4M1371.3 344.3l4.4 4.4m0-4.4l-4.4 4.4M1370.3 343.3l4.4 4.4m0-4.4l-4.4 4.4M1370.3 333.3l4.4 4.4m0-4.4l-4.4 4.4M1370.3 332.3l4.4 4.4m0-4.4l-4.4 4.4M1371.3 317.3l4.4 4.4m0-4.4l-4.4 4.4M1369.3 326.3l4.4 4.4m0-4.4l-4.4 4.4M1372.3 332.3l4.4 4.4m0-4.4l-4.4 4.4M1367.3 324.3l4.4 4.4m0-4.4l-4.4 4.4M1368.3 329.3l4.4 4.4m0-4.4l-4.4 4.4M1369.3 316.3l4.4 4.4m0-4.4l-4.4 4.4M1368.3 335.3l4.4 4.4m0-4.4l-4.4 4.4M1372.3 328.3l4.4 4.4m0-4.4l-4.4 4.4M1369.3 325.3l4.4 4.4m0-4.4l-4.4 4.4M1367.3 329.3l4.4 4.4m0-4.4l-4.4 4.4M1369.3 334.3l4.4 4.4m0-4.4l-4.4 4.4M1369.3 326.3l4.4 4.4m0-4.4l-4.4 4.4M1368.3 331.3l4.4 4.4m0-4.4l-4.4 4.4M1369.3 343.3l4.4 4.4m0-4.4l-4.4 4.4M1386.3 324.3l4.4 4.4m0-4.4l-4.4 4.4M1386.3 342.3l4.4 4.4m0-4.4l-4.4 4.4M1387.3 330.3l4.4 4.4m0-4.4l-4.4 4.4M1385.3 340.3l4.4 4.4m0-4.4l-4.4 4.4M1385.3 325.3l4.4 4.4m0-4.4l-4.4 4.4M1390.3 335.3l4.4 4.4m0-4.4l-4.4 4.4M1387.3 338.3l4.4 4.4m0-4.4l-4.4 4.4M1388.3 339.3l4.4 4.4m0-4.4l-4.4 4.4M1387.3 326.3l4.4 4.4m0-4.4l-4.4 4.4M1388.3 335.3l4.4 4.4m0-4.4l-4.4 4.4M1384.3 340.3l4.4 4.4m0-4.4l-4.4 4.4M1385.3 334.3l4.4 4.4m0-4.4l-4.4 4.4M1388.3 332.3l4.4 4.4m0-4.4l-4.4 4.4M1388.3 333.3l4.4 4.4m0-4.4l-4.4 4.4M1385.3 333.3l4.4 4.4m0-4.4l-4.4 4.4M1386.3 328.3l4.4 4.4m0-4.4l-4.4 4.4M1385.3 332.3l4.4 4.4m0-4.4l-4.4 4.4M1388.3 340.3l4.4 4.4m0-4.4l-4.4 4.4M1387.3 339.3l4.4 4.4m0-4.4l-4.4 4.4M1387.3 327.3l4.4 4.4m0-4.4l-4.4 4.4M1386.3 336.3l4.4 4.4m0-4.4l-4.4 4.4M1387.3 338.3l4.4 4.4m0-4.4l-4.4 4.4M1387.3 337.3l4.4 4.4m0-4.4l-4.4 4.4M1386.3 328.3l4.4 4.4m0-4.4l-4.4 4.4M1387.3 336.3l4.4 4.4m0-4.4l-4.4 4.4M1386.3 332.3l4.4 4.4m0-4.4l-4.4 4.4M1389.3 322.3l4.4 4.4m0-4.4l-4.4 4.4M1402.3 334.3l4.4 4.4m0-4.4l-4.4 4.4M1403.3 347.3l4.4 4.4m0-4.4l-4.4 4.4M1405.3 341.3l4.4 4.4m0-4.4l-4.4 4.4M1406.3 339.3l4.4 4.4m0-4.4l-4.4 4.4M1406.3 342.3l4.4 4.4m0-4.4l-4.4 4.4M1406.3 346.3l4.4 4.4m0-4.4l-4.4 4.4M1404.3 341.3l4.4 4.4m0-4.4l-4.4 4.4M1404.3 336.3l4.4 4.4m0-4.4l-4.4 4.4M1407.3 339.3l4.4 4.4m0-4.4l-4.4 4.4M1405.3 342.3l4.4 4.4m0-4.4l-4.4 4.4M1406.3 339.3l4.4 4.4m0-4.4l-4.4 4.4M1404.3 343.3l4.4 4.4m0-4.4l-4.4 4.4M1403.3 339.3l4.4 4.4m0-4.4l-4.4 4.4M1405.3 345.3l4.4 4.4m0-4.4l-4.4 4.4M1405.3 340.3l4.4 4.4m0-4.4l-4.4 4.4M1401.3 337.3l4.4 4.4m0-4.4l-4.4 4.4M1403.3 337.3l4.4 4.4m0-4.4l-4.4 4.4M1405.3 339.3l4.4 4.4m0-4.4l-4.4 4.4M1404.3 339.3l4.4 4.4m0-4.4l-4.4 4.4M1402.3 341.3l4.4 4.4m0-4.4l-4.4 4.4M1404.3 337.3l4.4 4.4m0-4.4l-4.4 4.4M1405.3 340.3l4.4 4.4m0-4.4l-4.4 4.4M1407.3 342.3l4.4 4.4m0-4.4l-4.4 4.4M1401.3 342.3l4.4 4.4m0-4.4l-4.4 4.4M1404.3 345.3l4.4 4.4m0-4.4l-4.4 4.4M1403.3 338.3l4.4 4.4m0-4.4l-4.4 4.4M1403.3 324.3l4.4 4.4m0-4.4l-4.4 4.4M1423.3 334.3l4.4 4.4m0-4.4l-4.4 4.4M1420.3 351.3l4.4 4.4m0-4.4l-4.4 4.4M1422.3 346.3l4.4 4.4m0-4.4l-4.4 4.4M1422.3 345.3l4.4 4.4m0-4.4l-4.4 4.4M1423.3 346.3l4.4 4.4m0-4.4l-4.4 4.4M1420.3 344.3l4.4 4.4m0-4.4l-4.4 4.4M1422.3 342.3l4.4 4.4m0-4.4l-4.4 4.4M1420.3 345.3l4.4 4.4m0-4.4l-4.4 4.4M1423.3 343.3l4.4 4.4m0-4.4l-4.4 4.4M1422.3 345.3l4.4 4.4m0-4.4l-4.4 4.4M1424.3 345.3l4.4 4.4m0-4.4l-4.4 4.4M1421.3 345.3l4.4 4.4m0-4.4l-4.4 4.4M1424.3 349.3l4.4 4.4m0-4.4l-4.4 4.4M1421.3 336.3l4.4 4.4m0-4.4l-4.4 4.4M1419.3 345.3l4.4 4.4m0-4.4l-4.4 4.4M1420.3 341.3l4.4 4.4m0-4.4l-4.4 4.4M1422.3 340.3l4.4 4.4m0-4.4l-4.4 4.4M1423.3 346.3l4.4 4.4m0-4.4l-4.4 4.4M1421.3 345.3l4.4 4.4m0-4.4l-4.4 4.4M1421.3 336.3l4.4 4.4m0-4.4l-4.4 4.4M1423.3 347.3l4.4 4.4m0-4.4l-4.4 4.4M1420.3 338.3l4.4 4.4m0-4.4l-4.4 4.4M1423.3 336.3l4.4 4.4m0-4.4l-4.4 4.4M1422.3 340.3l4.4 4.4m0-4.4l-4.4 4.4M1420.3 341.3l4.4 4.4m0-4.4l-4.4 4.4M1422.3 340.3l4.4 4.4m0-4.4l-4.4 4.4M1420.3 327.3l4.4 4.4m0-4.4l-4.4 4.4M1438.3 338.3l4.4 4.4m0-4.4l-4.4 4.4M1440.3 359.3l4.4 4.4m0-4.4l-4.4 4.4M1439.3 345.3l4.4 4.4m0-4.4l-4.4 4.4M1438.3 345.3l4.4 4.4m0-4.4l-4.4 4.4M1442.3 353.3l4.4 4.4m0-4.4l-4.4 4.4M1441.3 350.3l4.4 4.4m0-4.4l-4.4 4.4M1438.3 352.3l4.4 4.4m0-4.4l-4.4 4.4M1440.3 345.3l4.4 4.4m0-4.4l-4.4 4.4M1438.3 341.3l4.4 4.4m0-4.4l-4.4 4.4M1438.3 341.3l4.4 4.4m0-4.4l-4.4 4.4M1441.3 340.3l4.4 4.4m0-4.4l-4.4 4.4M1439.3 340.3l4.4 4.4m0-4.4l-4.4 4.4M1439.3 347.3l4.4 4.4m0-4.4l-4.4 4.4M1439.3 349.3l4.4 4.4m0-4.4l-4.4 4.4M1437.3 354.3l4.4 4.4m0-4.4l-4.4 4.4M1441.3 354.3l4.4 4.4m0-4.4l-4.4 4.4M1438.3 345.3l4.4 4.4m0-4.4l-4.4 4.4M1441.3 352.3l4.4 4.4m0-4.4l-4.4 4.4M1438.3 357.3l4.4 4.4m0-4.4l-4.4 4.4M1438.3 342.3l4.4 4.4m0-4.4l-4.4 4.4M1441.3 347.3l4.4 4.4m0-4.4l-4.4 4.4M1439.3 357.3l4.4 4.4m0-4.4l-4.4 4.4M1438.3 343.3l4.4 4.4m0-4.4l-4.4 4.4M1438.3 356.3l4.4 4.4m0-4.4l-4.4 4.4M1440.3 343.3l4.4 4.4m0-4.4l-4.4 4.4M1442.3 358.3l4.4 4.4m0-4.4l-4.4 4.4M1456.3 338.3l4.4 4.4m0-4.4l-4.4 4.4M1456.3 360.3l4.4 4.4m0-4.4l-4.4 4.4M1455.3 350.3l4.4 4.4m0-4.4l-4.4 4.4M1457.3 357.3l4.4 4.4m0-4.4l-4.4 4.4M1454.3 340.3l4.4 4.4m0-4.4l-4.4 4.4M1456.3 352.3l4.4 4.4m0-4.4l-4.4 4.4M1455.3 346.3l4.4 4.4m0-4.4l-4.4 4.4M1454.3 346.3l4.4 4.4m0-4.4l-4.4 4.4M1457.3 347.3l4.4 4.4m0-4.4l-4.4 4.4M1456.3 349.3l4.4 4.4m0-4.4l-4.4 4.4M1454.3 358.3l4.4 4.4m0-4.4l-4.4 4.4M1456.3 356.3l4.4 4.4m0-4.4l-4.4 4.4M1454.3 351.3l4.4 4.4m0-4.4l-4.4 4.4M1458.3 341.3l4.4 4.4m0-4.4l-4.4 4.4M1457.3 351.3l4.4 4.4m0-4.4l-4.4 4.4M1459.3 345.3l4.4 4.4m0-4.4l-4.4 4.4M1455.3 351.3l4.4 4.4m0-4.4l-4.4 4.4M1457.3 344.3l4.4 4.4m0-4.4l-4.4 4.4M1454.3 349.3l4.4 4.4m0-4.4l-4.4 4.4M1454.3 353.3l4.4 4.4m0-4.4l-4.4 4.4M1456.3 355.3l4.4 4.4m0-4.4l-4.4 4.4M1456.3 345.3l4.4 4.4m0-4.4l-4.4 4.4M1457.3 343.3l4.4 4.4m0-4.4l-4.4 4.4M1455.3 359.3l4.4 4.4m0-4.4l-4.4 4.4M1458.3 349.3l4.4 4.4m0-4.4l-4.4 4.4M1457.3 340.3l4.4 4.4m0-4.4l-4.4 4.4M1473.3 340.3l4.4 4.4m0-4.4l-4.4 4.4M1473.3 358.3l4.4 4.4m0-4.4l-4.4 4.4M1471.3 347.3l4.4 4.4m0-4.4l-4.4 4.4M1475.3 353.3l4.4 4.4m0-4.4l-4.4 4.4M1471.3 348.3l4.4 4.4m0-4.4l-4.4 4.4M1473.3 346.3l4.4 4.4m0-4.4l-4.4 4.4M1472.3 351.3l4.4 4.4m0-4.4l-4.4 4.4M1475.3 353.3l4.4 4.4m0-4.4l-4.4 4.4M1477.3 347.3l4.4 4.4m0-4.4l-4.4 4.4M1473.3 353.3l4.4 4.4m0-4.4l-4.4 4.4M1473.3 351.3l4.4 4.4m0-4.4l-4.4 4.4M1473.3 345.3l4.4 4.4m0-4.4l-4.4 4.4M1473.3 345.3l4.4 4.4m0-4.4l-4.4 4.4M1473.3 346.3l4.4 4.4m0-4.4l-4.4 4.4M1477.3 342.3l4.4 4.4m0-4.4l-4.4 4.4M1472.3 350.3l4.4 4.4m0-4.4l-4.4 4.4M1473.3 352.3l4.4 4.4m0-4.4l-4.4 4.4M1472.3 348.3l4.4 4.4m0-4.4l-4.4 4.4M1474.3 351.3l4.4 4.4m0-4.4l-4.4 4.4M1473.3 349.3l4.4 4.4m0-4.4l-4.4 4.4M1475.3 350.3l4.4 4.4m0-4.4l-4.4 4.4M1472.3 349.3l4.4 4.4m0-4.4l-4.4 4.4M1477.3 356.3l4.4 4.4m0-4.4l-4.4 4.4M1474.3 346.3l4.4 4.4m0-4.4l-4.4 4.4M1471.3 342.3l4.4 4.4m0-4.4l-4.4 4.4M1475.3 347.3l4.4 4.4m0-4.4l-4.4 4.4M1476.3 368.3l4.4 4.4m0-4.4l-4.4 4.4M1474.3 373.3l4.4 4.4m0-4.4l-4.4 4.4M1490.3 348.3l4.4 4.4m0-4.4l-4.4 4.4M1491.3 368.3l4.4 4.4m0-4.4l-4.4 4.4M1492.3 365.3l4.4 4.4m0-4.4l-4.4 4.4M1491.3 350.3l4.4 4.4m0-4.4l-4.4 4.4M1489.3 351.3l4.4 4.4m0-4.4l-4.4 4.4M1489.3 360.3l4.4 4.4m0-4.4l-4.4 4.4M1492.3 352.3l4.4 4.4m0-4.4l-4.4 4.4M1493.3 354.3l4.4 4.4m0-4.4l-4.4 4.4M1494.3 356.3l4.4 4.4m0-4.4l-4.4 4.4M1489.3 363.3l4.4 4.4m0-4.4l-4.4 4.4M1491.3 365.3l4.4 4.4m0-4.4l-4.4 4.4M1491.3 358.3l4.4 4.4m0-4.4l-4.4 4.4M1490.3 360.3l4.4 4.4m0-4.4l-4.4 4.4M1491.3 350.3l4.4 4.4m0-4.4l-4.4 4.4M1489.3 361.3l4.4 4.4m0-4.4l-4.4 4.4M1491.3 351.3l4.4 4.4m0-4.4l-4.4 4.4M1490.3 355.3l4.4 4.4m0-4.4l-4.4 4.4M1491.3 359.3l4.4 4.4m0-4.4l-4.4 4.4M1493.3 362.3l4.4 4.4m0-4.4l-4.4 4.4M1489.3 358.3l4.4 4.4m0-4.4l-4.4 4.4M1491.3 353.3l4.4 4.4m0-4.4l-4.4 4.4M1490.3 366.3l4.4 4.4m0-4.4l-4.4 4.4M1490.3 358.3l4.4 4.4m0-4.4l-4.4 4.4M1491.3 367.3l4.4 4.4m0-4.4l-4.4 4.4M1491.3 362.3l4.4 4.4m0-4.4l-4.4 4.4M1491.3 362.3l4.4 4.4m0-4.4l-4.4 4.4M1493.3 341.3l4.4 4.4m0-4.4l-4.4 4.4M1510.3 351.3l4.4 4.4m0-4.4l-4.4 4.4M1509.3 372.3l4.4 4.4m0-4.4l-4.4 4.4M1508.3 357.3l4.4 4.4m0-4.4l-4.4 4.4M1507.3 355.3l4.4 4.4m0-4.4l-4.4 4.4M1506.3 366.3l4.4 4.4m0-4.4l-4.4 4.4M1507.3 368.3l4.4 4.4m0-4.4l-4.4 4.4M1510.3 356.3l4.4 4.4m0-4.4l-4.4 4.4M1510.3 364.3l4.4 4.4m0-4.4l-4.4 4.4M1508.3 355.3l4.4 4.4m0-4.4l-4.4 4.4M1508.3 362.3l4.4 4.4m0-4.4l-4.4 4.4M1508.3 361.3l4.4 4.4m0-4.4l-4.4 4.4M1509.3 356.3l4.4 4.4m0-4.4l-4.4 4.4M1508.3 364.3l4.4 4.4m0-4.4l-4.4 4.4M1509.3 355.3l4.4 4.4m0-4.4l-4.4 4.4M1507.3 363.3l4.4 4.4m0-4.4l-4.4 4.4M1508.3 361.3l4.4 4.4m0-4.4l-4.4 4.4M1507.3 355.3l4.4 4.4m0-4.4l-4.4 4.4M1510.3 364.3l4.4 4.4m0-4.4l-4.4 4.4M1506.3 369.3l4.4 4.4m0-4.4l-4.4 4.4M1510.3 353.3l4.4 4.4m0-4.4l-4.4 4.4M1508.3 355.3l4.4 4.4m0-4.4l-4.4 4.4M1507.3 366.3l4.4 4.4m0-4.4l-4.4 4.4M1508.3 365.3l4.4 4.4m0-4.4l-4.4 4.4M1508.3 363.3l4.4 4.4m0-4.4l-4.4 4.4M1508.3 358.3l4.4 4.4m0-4.4l-4.4 4.4M1509.3 361.3l4.4 4.4m0-4.4l-4.4 4.4M1506.3 410.3l4.4 4.4m0-4.4l-4.4 4.4M1525.3 364.3l4.4 4.4m0-4.4l-4.4 4.4M1526.3 389.3l4.4 4.4m0-4.4l-4.4 4.4M1525.3 381.3l4.4 4.4m0-4.4l-4.4 4.4M1524.3 366.3l4.4 4.4m0-4.4l-4.4 4.4M1526.3 386.3l4.4 4.4m0-4.4l-4.4 4.4M1524.3 372.3l4.4 4.4m0-4.4l-4.4 4.4M1523.3 386.3l4.4 4.4m0-4.4l-4.4 4.4M1524.3 369.3l4.4 4.4m0-4.4l-4.4 4.4M1527.3 379.3l4.4 4.4m0-4.4l-4.4 4.4M1527.3 372.3l4.4 4.4m0-4.4l-4.4 4.4M1529.3 385.3l4.4 4.4m0-4.4l-4.4 4.4M1527.3 380.3l4.4 4.4m0-4.4l-4.4 4.4M1528.3 377.3l4.4 4.4m0-4.4l-4.4 4.4M1526.3 372.3l4.4 4.4m0-4.4l-4.4 4.4M1525.3 374.3l4.4 4.4m0-4.4l-4.4 4.4M1526.3 382.3l4.4 4.4m0-4.4l-4.4 4.4M1524.3 380.3l4.4 4.4m0-4.4l-4.4 4.4M1526.3 386.3l4.4 4.4m0-4.4l-4.4 4.4M1525.3 377.3l4.4 4.4m0-4.4l-4.4 4.4M1526.3 373.3l4.4 4.4m0-4.4l-4.4 4.4M1524.3 381.3l4.4 4.4m0-4.4l-4.4 4.4M1525.3 377.3l4.4 4.4m0-4.4l-4.4 4.4M1527.3 379.3l4.4 4.4m0-4.4l-4.4 4.4M1525.3 375.3l4.4 4.4m0-4.4l-4.4 4.4M1524.3 372.3l4.4 4.4m0-4.4l-4.4 4.4M1526.3 375.3l4.4 4.4m0-4.4l-4.4 4.4M1545.3 367.3l4.4 4.4m0-4.4l-4.4 4.4M1546.3 389.3l4.4 4.4m0-4.4l-4.4 4.4M1545.3 374.3l4.4 4.4m0-4.4l-4.4 4.4M1541.3 386.3l4.4 4.4m0-4.4l-4.4 4.4M1544.3 383.3l4.4 4.4m0-4.4l-4.4 4.4M1543.3 371.3l4.4 4.4m0-4.4l-4.4 4.4M1542.3 377.3l4.4 4.4m0-4.4l-4.4 4.4M1545.3 380.3l4.4 4.4m0-4.4l-4.4 4.4M1544.3 384.3l4.4 4.4m0-4.4l-4.4 4.4M1541.3 371.3l4.4 4.4m0-4.4l-4.4 4.4M1541.3 385.3l4.4 4.4m0-4.4l-4.4 4.4M1542.3 379.3l4.4 4.4m0-4.4l-4.4 4.4M1545.3 369.3l4.4 4.4m0-4.4l-4.4 4.4M1543.3 386.3l4.4 4.4m0-4.4l-4.4 4.4M1544.3 380.3l4.4 4.4m0-4.4l-4.4 4.4M1542.3 374.3l4.4 4.4m0-4.4l-4.4 4.4M1545.3 383.3l4.4 4.4m0-4.4l-4.4 4.4M1542.3 376.3l4.4 4.4m0-4.4l-4.4 4.4M1544.3 378.3l4.4 4.4m0-4.4l-4.4 4.4M1542.3 371.3l4.4 4.4m0-4.4l-4.4 4.4M1542.3 370.3l4.4 4.4m0-4.4l-4.4 4.4M1543.3 372.3l4.4 4.4m0-4.4l-4.4 4.4M1541.3 385.3l4.4 4.4m0-4.4l-4.4 4.4M1543.3 373.3l4.4 4.4m0-4.4l-4.4 4.4M1543.3 384.3l4.4 4.4m0-4.4l-4.4 4.4M1541.3 383.3l4.4 4.4m0-4.4l-4.4 4.4M1543.3 398.3l4.4 4.4m0-4.4l-4.4 4.4M1563.3 374.3l4.4 4.4m0-4.4l-4.4 4.4M1559.3 394.3l4.4 4.4m0-4.4l-4.4 4.4M1561.3 384.3l4.4 4.4m0-4.4l-4.4 4.4M1559.3 383.3l4.4 4.4m0-4.4l-4.4 4.4M1560.3 382.3l4.4 4.4m0-4.4l-4.4 4.4M1558.3 388.3l4.4 4.4m0-4.4l-4.4 4.4M1559.3 383.3l4.4 4.4m0-4.4l-4.4 4.4M1561.3 389.3l4.4 4.4m0-4.4l-4.4 4.4M1561.3 382.3l4.4 4.4m0-4.4l-4.4 4.4M1557.3 383.3l4.4 4.4m0-4.4l-4.4 4.4M1561.3 380.3l4.4 4.4m0-4.4l-4.4 4.4M1558.3 386.3l4.4 4.4m0-4.4l-4.4 4.4M1560.3 390.3l4.4 4.4m0-4.4l-4.4 4.4M1561.3 387.3l4.4 4.4m0-4.4l-4.4 4.4M1559.3 384.3l4.4 4.4m0-4.4l-4.4 4.4M1560.3 383.3l4.4 4.4m0-4.4l-4.4 4.4M1560.3 391.3l4.4 4.4m0-4.4l-4.4 4.4M1561.3 383.3l4.4 4.4m0-4.4l-4.4 4.4M1561.3 387.3l4.4 4.4m0-4.4l-4.4 4.4M1562.3 383.3l4.4 4.4m0-4.4l-4.4 4.4M1561.3 378.3l4.4 4.4m0-4.4l-4.4 4.4M1563.3 388.3l4.4 4.4m0-4.4l-4.4 4.4M1559.3 391.3l4.4 4.4m0-4.4l-4.4 4.4M1563.3 387.3l4.4 4.4m0-4.4l-4.4 4.4M1560.3 385.3l4.4 4.4m0-4.4l-4.4 4.4M1561.3 393.3l4.4 4.4m0-4.4l-4.4 4.4M1560.3 366.3l4.4 4.4m0-4.4l-4.4 4.4M1575.3 392.3l4.4 4.4m0-4.4l-4.4 4.4M1579.3 412.3l4.4 4.4m0-4.4l-4.4 4.4M1576.3 394.3l4.4 4.4m0-4.4l-4.4 4.4M1575.3 400.3l4.4 4.4m0-4.4l-4.4 4.4M1574.3 408.3l4.4 4.4m0-4.4l-4.4 4.4M1578.3 394.3l4.4 4.4m0-4.4l-4.4 4.4M1575.3 402.3l4.4 4.4m0-4.4l-4.4 4.4M1575.3 395.3l4.4 4.4m0-4.4l-4.4 4.4M1578.3 406.3l4.4 4.4m0-4.4l-4.4 4.4M1577.3 398.3l4.4 4.4m0-4.4l-4.4 4.4M1578.3 410.3l4.4 4.4m0-4.4l-4.4 4.4M1575.3 410.3l4.4 4.4m0-4.4l-4.4 4.4M1575.3 402.3l4.4 4.4m0-4.4l-4.4 4.4M1577.3 408.3l4.4 4.4m0-4.4l-4.4 4.4M1580.3 405.3l4.4 4.4m0-4.4l-4.4 4.4M1578.3 400.3l4.4 4.4m0-4.4l-4.4 4.4M1577.3 395.3l4.4 4.4m0-4.4l-4.4 4.4M1578.3 403.3l4.4 4.4m0-4.4l-4.4 4.4M1579.3 400.3l4.4 4.4m0-4.4l-4.4 4.4M1575.3 405.3l4.4 4.4m0-4.4l-4.4 4.4M1580.3 403.3l4.4 4.4m0-4.4l-4.4 4.4M1579.3 394.3l4.4 4.4m0-4.4l-4.4 4.4M1577.3 405.3l4.4 4.4m0-4.4l-4.4 4.4M1578.3 409.3l4.4 4.4m0-4.4l-4.4 4.4M1575.3 395.3l4.4 4.4m0-4.4l-4.4 4.4M1579.3 405.3l4.4 4.4m0-4.4l-4.4 4.4M1593.3 389.3l4.4 4.4m0-4.4l-4.4 4.4M1593.3 411.3l4.4 4.4m0-4.4l-4.4 4.4M1593.3 392.3l4.4 4.4m0-4.4l-4.4 4.4M1596.3 400.3l4.4 4.4m0-4.4l-4.4 4.4M1592.3 408.3l4.4 4.4m0-4.4l-4.4 4.4M1595.3 406.3l4.4 4.4m0-4.4l-4.4 4.4M1593.3 396.3l4.4 4.4m0-4.4l-4.4 4.4M1592.3 400.3l4.4 4.4m0-4.4l-4.4 4.4M1593.3 403.3l4.4 4.4m0-4.4l-4.4 4.4M1593.3 398.3l4.4 4.4m0-4.4l-4.4 4.4M1596.3 402.3l4.4 4.4m0-4.4l-4.4 4.4M1593.3 402.3l4.4 4.4m0-4.4l-4.4 4.4M1593.3 393.3l4.4 4.4m0-4.4l-4.4 4.4M1591.3 399.3l4.4 4.4m0-4.4l-4.4 4.4M1593.3 405.3l4.4 4.4m0-4.4l-4.4 4.4M1591.3 398.3l4.4 4.4m0-4.4l-4.4 4.4M1592.3 406.3l4.4 4.4m0-4.4l-4.4 4.4M1591.3 402.3l4.4 4.4m0-4.4l-4.4 4.4M1592.3 401.3l4.4 4.4m0-4.4l-4.4 4.4M1595.3 400.3l4.4 4.4m0-4.4l-4.4 4.4M1594.3 393.3l4.4 4.4m0-4.4l-4.4 4.4M1591.3 400.3l4.4 4.4m0-4.4l-4.4 4.4M1593.3 398.3l4.4 4.4m0-4.4l-4.4 4.4M1596.3 398.3l4.4 4.4m0-4.4l-4.4 4.4M1593.3 410.3l4.4 4.4m0-4.4l-4.4 4.4M1591.3 407.3l4.4 4.4m0-4.4l-4.4 4.4M1611.3 397.3l4.4 4.4m0-4.4l-4.4 4.4M1612.3 416.3l4.4 4.4m0-4.4l-4.4 4.4M1613.3 408.3l4.4 4.4m0-4.4l-4.4 4.4M1609.3 407.3l4.4 4.4m0-4.4l-4.4 4.4M1612.3 412.3l4.4 4.4m0-4.4l-4.4 4.4M1615.3 411.3l4.4 4.4m0-4.4l-4.4 4.4M1612.3 409.3l4.4 4.4m0-4.4l-4.4 4.4M1611.3 406.3l4.4 4.4m0-4.4l-4.4 4.4M1615.3 405.3l4.4 4.4m0-4.4l-4.4 4.4M1612.3 410.3l4.4 4.4m0-4.4l-4.4 4.4M1612.3 403.3l4.4 4.4m0-4.4l-4.4 4.4M1611.3 404.3l4.4 4.4m0-4.4l-4.4 4.4M1612.3 409.3l4.4 4.4m0-4.4l-4.4 4.4M1609.3 407.3l4.4 4.4m0-4.4l-4.4 4.4M1610.3 404.3l4.4 4.4m0-4.4l-4.4 4.4M1609.3 407.3l4.4 4.4m0-4.4l-4.4 4.4M1613.3 407.3l4.4 4.4m0-4.4l-4.4 4.4M1611.3 406.3l4.4 4.4m0-4.4l-4.4 4.4M1613.3 406.3l4.4 4.4m0-4.4l-4.4 4.4M1608.3 412.3l4.4 4.4m0-4.4l-4.4 4.4M1611.3 407.3l4.4 4.4m0-4.4l-4.4 4.4M1614.3 411.3l4.4 4.4m0-4.4l-4.4 4.4M1610.3 401.3l4.4 4.4m0-4.4l-4.4 4.4M1609.3 410.3l4.4 4.4m0-4.4l-4.4 4.4M1610.3 408.3l4.4 4.4m0-4.4l-4.4 4.4M1611.3 411.3l4.4 4.4m0-4.4l-4.4 4.4M1614.3 422.3l4.4 4.4m0-4.4l-4.4 4.4M1610.3 426.3l4.4 4.4m0-4.4l-4.4 4.4M1631.3 454.3l4.4 4.4m0-4.4l-4.4 4.4M1629.3 466.3l4.4 4.4m0-4.4l-4.4 4.4M1628.3 460.3l4.4 4.4m0-4.4l-4.4 4.4M1627.3 463.3l4.4 4.4m0-4.4l-4.4 4.4M1632.3 460.3l4.4 4.4m0-4.4l-4.4 4.4M1631.3 465.3l4.4 4.4m0-4.4l-4.4 4.4M1629.3 462.3l4.4 4.4m0-4.4l-4.4 4.4M1627.3 459.3l4.4 4.4m0-4.4l-4.4 4.4M1628.3 462.3l4.4 4.4m0-4.4l-4.4 4.4M1630.3 461.3l4.4 4.4m0-4.4l-4.4 4.4M1631.3 461.3l4.4 4.4m0-4.4l-4.4 4.4M1631.3 463.3l4.4 4.4m0-4.4l-4.4 4.4M1631.3 456.3l4.4 4.4m0-4.4l-4.4 4.4M1630.3 461.3l4.4 4.4m0-4.4l-4.4 4.4M1629.3 461.3l4.4 4.4m0-4.4l-4.4 4.4M1627.3 458.3l4.4 4.4m0-4.4l-4.4 4.4M1632.3 462.3l4.4 4.4m0-4.4l-4.4 4.4M1628.3 456.3l4.4 4.4m0-4.4l-4.4 4.4M1630.3 458.3l4.4 4.4m0-4.4l-4.4 4.4M1631.3 458.3l4.4 4.4m0-4.4l-4.4 4.4M1627.3 461.3l4.4 4.4m0-4.4l-4.4 4.4M1629.3 456.3l4.4 4.4m0-4.4l-4.4 4.4M1630.3 459.3l4.4 4.4m0-4.4l-4.4 4.4M1628.3 458.3l4.4 4.4m0-4.4l-4.4 4.4M1628.3 461.3l4.4 4.4m0-4.4l-4.4 4.4M1632.3 463.3l4.4 4.4m0-4.4l-4.4 4.4M1629.3 445.3l4.4 4.4m0-4.4l-4.4 4.4M1632.3 472.3l4.4 4.4m0-4.4l-4.4 4.4M1626.3 760.3l4.4 4.4m0-4.4l-4.4 4.4M1627.3 769.3l4.4 4.4m0-4.4l-4.4 4.4M1627.3 857.3l4.4 4.4m0-4.4l-4.4 4.4" fill="none" stroke="#0000ff" stroke-width="0.9" stroke-opacity="0.7"/>
<path d="M244 361.5h9M248.5 357v9M245 384.5h9M249.5 380v9M249 365.5h9M253.5 361v9M247 379.5h9M251.5 375v9M247 363.5h9M251.5 359v9M246 375.5h9M250.5 371v9M245 371.5h9M249.5 367v9M245 364.5h9M249.5 360v9M246 379.5h9M250.5 375v9M244 366.5h9M248.5 362v9M243 380.5h9M247.5 376v9M243 382.5h9M247.5 378v9M244 379.5h9M248.5 375v9M245 365.5h9M249.5 361v9M248 368.5h9M252.5 364v9M244 369.5h9M248.5 365v9M245 374.5h9M249.5 370v9M243 366.5h9M247.5 362v9M247 363.5h9M251.5 359v9M248 376.5h9M252.5 372v9M245 368.5h9M249.5 364v9M246 378.5h9M250.5 374v9M245 369.5h9M249.5 365v9M245 383.5h9M249.5 379v9M244 373.5h9M248.5 369v9M249 379.5h9M253.5 375v9M263 362.5h9M267.5 358v9M263 386.5h9M267.5 382v9M263 371.5h9M267.5 367v9M264 373.5h9M268.5 369v9M263 373.5h9M267.5 369v9M263 365.5h9M267.5 361v9M264 379.5h9M268.5 375v9M263 368.5h9M267.5 364v9M264 381.5h9M268.5 377v9M264 372.5h9M268.5 368v9M266 383.5h9M270.5 379v9M263 365.5h9M267.5 361v9M262 372.5h9M266.5 368v9M262 382.5h9M266.5 378v9M263 376.5h9M267.5 372v9M264 368.5h9M268.5 364v9M262 377.5h9M266.5 373v9M263 373.5h9M267.5 369v9M266 371.5h9M270.5 367v9M260 374.5h9M264.5 370v9M261 371.5h9M265.5 367v9M263 366.5h9M267.5 362v9M263 378.5h9M267.5 374v9M263 375.5h9M267.5 371v9M262 365.5h9M266.5 361v9M264 367.5h9M268.5 363v9M283 364.5h9M287.5 360v9M282 395.5h9M286.5 391v9M283 380.5h9M287.5 376v9M279 381.5h9M283.5 377v9M281 386.5h9M285.5 382v9M279 380.5h9M283.5 376v9M282 388.5h9M286.5 384v9M283 377.5h9M287.5 373v9M279 370.5h9M283.5 366v9M283 373.5h9M287.5 369v9M282 381.5h9M286.5 377v9M280 388.5h9M284.5 384v9M277 372.5h9M281.5 368v9M283 385.5h9M287.5 381v9M280 365.5h9M284.5 361v9M280 380.5h9M284.5 376v9M281 366.5h9M285.5 362v9M281 373.5h9M285.5 369v9M283 385.5h9M287.5 381v9M279 386.5h9M283.5 382v9M282 375.5h9M286.5 371v9M283 371.5h9M287.5 367v9M283 383.5h9M287.5 379v9M280 384.5h9M284.5 380v9M279 367.5h9M283.5 363v9M282 381.5h9M286.5 377v9M283 364.5h9M287.5 360v9M300 354.5h9M304.5 350v9M297 387.5h9M301.5 383v9M297 356.5h9M301.5 352v9M297 364.5h9M301.5 360v9M296 361.5h9M300.5 357v9M298 381.5h9M302.5 377v9M297 372.5h9M301.5 368v9M299 363.5h9M303.5 359v9M295 377.5h9M299.5 373v9M299 368.5h9M303.5 364v9M297 382.5h9M301.5 378v9M295 369.5h9M299.5 365v9M300 378.5h9M304.5 374v9M298 365.5h9M302.5 361v9M295 359.5h9M299.5 355v9M297 368.5h9M301.5 364v9M299 356.5h9M303.5 352v9M298 368.5h9M302.5 364v9M300 369.5h9M304.5 365v9M300 363.5h9M304.5 359v9M299 367.5h9M303.5 363v9M299 371.5h9M303.5 367v9M301 366.5h9M305.5 362v9M299 364.5h9M303.5 360v9M299 359.5h9M303.5 355v9M295 370.5h9M299.5 366v9M314 367.5h9M318.5 363v9M317 384.5h9M321.5 380v9M314 378.5h9M318.5 374v9M315 381.5h9M319.5 377v9M314 383.5h9M318.5 379v9M315 381.5h9M319.5 377v9M315 375.5h9M319.5 371v9M316 377.5h9M320.5 373v9M314 376.5h9M318.5 372v9M314 371.5h9M318.5 367v9M317 378.5h9M321.5 374v9M316 376.5h9M320.5 372v9M315 369.5h9M319.5 365v9M316 377.5h9M320.5 373v9M317 373.5h9M321.5 369v9M315 382.5h9M319.5 378v9M316 377.5h9M320.5 373v9M315 369.5h9M319.5 365v9M316 375.5h9M320.5 371v9M316 370.5h9M320.5 366v9M316 381.5h9M320.5 377v9M314 375.5h9M318.5 371v9M318 378.5h9M322.5 374v9M315 375.5h9M319.5 371v9M317 378.5h9M321.5 374v9M316 370.5h9M320.5 366v9M333 354.5h9M337.5 350v9M332 391.5h9M336.5 387v9M330 364.5h9M334.5 360v9M332 380.5h9M336.5 376v9M332 381.5h9M336.5 377v9M333 372.5h9M337.5 368v9M333 387.5h9M337.5 383v9M332 372.5h9M336.5 368v9M333 384.5h9M337.5 380v9M332 373.5h9M336.5 369v9M332 382.5h9M336.5 378v9M332 371.5h9M336.5 367v9M331 366.5h9M335.5 362v9M333 357.5h9M337.5 353v9M330 358.5h9M334.5 354v9M330 365.5h9M334.5 361v9M332 361.5h9M336.5 357v9M329 384.5h9M333.5 380v9M331 368.5h9M335.5 364v9M328 365.5h9M332.5 361v9M330 365.5h9M334.5 361v9M332 371.5h9M336.5 367v9M332 388.5h9M336.5 384v9M331 365.5h9M335.5 361v9M331 370.5h9M335.5 366v9M329 368.5h9M333.5 364v9M348 369.5h9M352.5 365v9M349 395.5h9M353.5 391v9M352 390.5h9M356.5 386v9M348 374.5h9M352.5 370v9M351 374.5h9M355.5 370v9M350 383.5h9M354.5 379v9M349 389.5h9M353.5 385v9M349 371.5h9M353.5 367v9M351 391.5h9M355.5 387v9M348 375.5h9M352.5 371v9M347 371.5h9M351.5 367v9M349 379.5h9M353.5 375v9M351 390.5h9M355.5 386v9M347 375.5h9M351.5 371v9M349 375.5h9M353.5 371v9M352 382.5h9M356.5 378v9M351 372.5h9M355.5 368v9M350 387.5h9M354.5 383v9M352 372.5h9M356.5 368v9M349 387.5h9M353.5 383v9M349 388.5h9M353.5 384v9M346 380.5h9M350.5 376v9M350 376.5h9M354.5 372v9M351 388.5h9M355.5 384v9M349 374.5h9M353.5 370v9M349 374.5h9M353.5 370v9M368 355.5h9M372.5 351v9M369 382.5h9M373.5 378v9M365 374.5h9M369.5 370v9M367 371.5h9M371.5 367v9M364 369.5h9M368.5 365v9M370 378.5h9M374.5 374v9M364 379.5h9M368.5 375v9M364 367.5h9M368.5 363v9M366 363.5h9M370.5 359v9M369 369.5h9M373.5 365v9M367 369.5h9M371.5 365v9M364 367.5h9M368.5 363v9M367 364.5h9M371.5 360v9M365 373.5h9M369.5 369v9M365 375.5h9M369.5 371v9M370 381.5h9M374.5 377v9M367 381.5h9M371.5 377v9M368 367.5h9M372.5 363v9M368 381.5h9M372.5 377v9M366 376.5h9M370.5 372v9M367 367.5h9M371.5 363v9M366 358.5h9M370.5 354v9M363 377.5h9M367.5 373v9M366 379.5h9M370.5 375v9M369 363.5h9M373.5 359v9M366 371.5h9M370.5 367v9M385 357.5h9M389.5 353v9M381 383.5h9M385.5 379v9M385 362.5h9M389.5 358v9M384 363.5h9M388.5 359v9M385 379.5h9M389.5 375v9M384 373.5h9M388.5 369v9M382 362.5h9M386.5 358v9M384 361.5h9M388.5 357v9M386 361.5h9M390.5 357v9M383 365.5h9M387.5 361v9M382 379.5h9M386.5 375v9M382 368.5h9M386.5 364v9M382 362.5h9M386.5 358v9M384 366.5h9M388.5 362v9M387 365.5h9M391.5 361v9M385 376.5h9M389.5 372v9M384 376.5h9M388.5 372v9M387 371.5h9M391.5 367v9M383 368.5h9M387.5 364v9M383 380.5h9M387.5 376v9M385 376.5h9M389.5 372v9M385 372.5h9M389.5 368v9M382 370.5h9M386.5 366v9M382 361.5h9M386.5 357v9M384 368.5h9M388.5 364v9M384 372.5h9M388.5 368v9M403 357.5h9M407.5 353v9M405 385.5h9M409.5 381v9M402 364.5h9M406.5 360v9M402 373.5h9M406.5 369v9M403 366.5h9M407.5 362v9M402 367.5h9M406.5 363v9M404 361.5h9M408.5 357v9M400 358.5h9M404.5 354v9M401 364.5h9M405.5 360v9M398 369.5h9M402.5 365v9M403 371.5h9M407.5 367v9M401 364.5h9M405.5 360v9M403 365.5h9M407.5 361v9M405 376.5h9M409.5 372v9M402 367.5h9M406.5 363v9M401 375.5h9M405.5 371v9M401 378.5h9M405.5 374v9M400 368.5h9M404.5 364v9M401 376.5h9M405.5 372v9M403 379.5h9M407.5 375v9M402 364.5h9M406.5 360v9M402 382.5h9M406.5 378v9M401 373.5h9M405.5 369v9M403 375.5h9M407.5 371v9M402 376.5h9M406.5 372v9M401 368.5h9M405.5 364v9M420 361.5h9M424.5 357v9M416 384.5h9M420.5 380v9M417 374.5h9M421.5 370v9M418 378.5h9M422.5 374v9M418 370.5h9M422.5 366v9M420 373.5h9M424.5 369v9M419 381.5h9M423.5 377v9M418 370.5h9M422.5 366v9M419 379.5h9M423.5 375v9M421 373.5h9M425.5 369v9M419 374.5h9M423.5 370v9M419 381.5h9M423.5 377v9M421 377.5h9M425.5 373v9M419 373.5h9M423.5 369v9M417 368.5h9M421.5 364v9M422 369.5h9M426.5 365v9M422 369.5h9M426.5 365v9M415 368.5h9M419.5 364v9M419 377.5h9M423.5 373v9M419 362.5h9M423.5 358v9M420 367.5h9M424.5 363v9M420 378.5h9M424.5 374v9M418 371.5h9M422.5 367v9M417 370.5h9M421.5 366v9M419 377.5h9M423.5 373v9M420 383.5h9M424.5 379v9M436 363.5h9M440.5 359v9M438 393.5h9M442.5 389v9M436 372.5h9M440.5 368v9M435 366.5h9M439.5 362v9M438 390.5h9M442.5 386v9M436 380.5h9M440.5 376v9M436 384.5h9M440.5 380v9M435 371.5h9M439.5 367v9M436 368.5h9M440.5 364v9M437 389.5h9M441.5 385v9M437 374.5h9M441.5 370v9M434 385.5h9M438.5 381v9M437 380.5h9M441.5 376v9M436 386.5h9M440.5 382v9M435 384.5h9M439.5 380v9M437 380.5h9M441.5 376v9M436 368.5h9M440.5 364v9M436 391.5h9M440.5 387v9M437 377.5h9M441.5 373v9M438 366.5h9M442.5 362v9M435 371.5h9M439.5 367v9M437 390.5h9M441.5 386v9M435 387.5h9M439.5 383v9M439 385.5h9M443.5 381v9M435 374.5h9M439.5 370v9M438 370.5h9M442.5 366v9M454 358.5h9M458.5 354v9M452 389.5h9M456.5 385v9M454 371.5h9M458.5 367v9M453 381.5h9M457.5 377v9M454 380.5h9M458.5 376v9M453 360.5h9M457.5 356v9M456 373.5h9M460.5 369v9M454 382.5h9M458.5 378v9M453 384.5h9M457.5 380v9M451 374.5h9M455.5 370v9M452 375.5h9M456.5 371v9M456 377.5h9M460.5 373v9M454 372.5h9M458.5 368v9M455 374.5h9M459.5 370v9M455 368.5h9M459.5 364v9M451 377.5h9M455.5 373v9M453 372.5h9M457.5 368v9M453 379.5h9M457.5 375v9M455 386.5h9M459.5 382v9M452 372.5h9M456.5 368v9M452 384.5h9M456.5 380v9M452 380.5h9M456.5 376v9M452 381.5h9M456.5 377v9M453 371.5h9M457.5 367v9M453 386.5h9M457.5 382v9M452 376.5h9M456.5 372v9M471 366.5h9M475.5 362v9M473 384.5h9M477.5 380v9M470 379.5h9M474.5 375v9M471 371.5h9M475.5 367v9M470 377.5h9M474.5 373v9M471 369.5h9M475.5 365v9M470 369.5h9M474.5 365v9M468 375.5h9M472.5 371v9M470 377.5h9M474.5 373v9M469 378.5h9M473.5 374v9M473 380.5h9M477.5 376v9M469 380.5h9M473.5 376v9M470 381.5h9M474.5 377v9M471 380.5h9M475.5 376v9M470 377.5h9M474.5 373v9M473 376.5h9M477.5 372v9M471 372.5h9M475.5 368v9M468 379.5h9M472.5 375v9M472 372.5h9M476.5 368v9M470 373.5h9M474.5 369v9M474 380.5h9M478.5 376v9M469 379.5h9M473.5 375v9M470 375.5h9M474.5 371v9M471 371.5h9M475.5 367v9M469 374.5h9M473.5 370v9M472 370.5h9M476.5 366v9M470 394.5h9M474.5 390v9M472 395.5h9M476.5 391v9M488 368.5h9M492.5 364v9M491 387.5h9M495.5 383v9M489 382.5h9M493.5 378v9M488 380.5h9M492.5 376v9M487 385.5h9M491.5 381v9M488 375.5h9M492.5 371v9M490 370.5h9M494.5 366v9M489 379.5h9M493.5 375v9M490 378.5h9M494.5 374v9M488 373.5h9M492.5 369v9M488 373.5h9M492.5 369v9M487 378.5h9M491.5 374v9M488 371.5h9M492.5 367v9M490 373.5h9M494.5 369v9M485 377.5h9M489.5 373v9M487 379.5h9M491.5 375v9M488 384.5h9M492.5 380v9M487 384.5h9M491.5 380v9M487 372.5h9M491.5 368v9M489 380.5h9M493.5 376v9M491 378.5h9M495.5 374v9M489 370.5h9M493.5 366v9M488 372.5h9M492.5 368v9M485 373.5h9M489.5 369v9M491 384.5h9M495.5 380v9M488 383.5h9M492.5 379v9M486 394.5h9M490.5 390v9M507 364.5h9M511.5 360v9M507 384.5h9M511.5 380v9M504 365.5h9M508.5 361v9M505 376.5h9M509.5 372v9M505 367.5h9M509.5 363v9M505 366.5h9M509.5 362v9M504 378.5h9M508.5 374v9M502 379.5h9M506.5 375v9M504 375.5h9M508.5 371v9M502 379.5h9M506.5 375v9M507 367.5h9M511.5 363v9M505 376.5h9M509.5 372v9M503 376.5h9M507.5 372v9M507 370.5h9M511.5 366v9M506 378.5h9M510.5 374v9M502 369.5h9M506.5 365v9M508 370.5h9M512.5 366v9M506 371.5h9M510.5 367v9M508 366.5h9M512.5 362v9M503 378.5h9M507.5 374v9M505 367.5h9M509.5 363v9M505 378.5h9M509.5 374v9M505 373.5h9M509.5 369v9M505 377.5h9M509.5 373v9M506 381.5h9M510.5 377v9M502 366.5h9M506.5 362v9M505 395.5h9M509.5 391v9M525 358.5h9M529.5 354v9M524 386.5h9M528.5 382v9M521 377.5h9M525.5 373v9M520 362.5h9M524.5 358v9M521 378.5h9M525.5 374v9M521 367.5h9M525.5 363v9M521 360.5h9M525.5 356v9M523 366.5h9M527.5 362v9M523 362.5h9M527.5 358v9M522 367.5h9M526.5 363v9M523 372.5h9M527.5 368v9M522 370.5h9M526.5 366v9M523 379.5h9M527.5 375v9M524 377.5h9M528.5 373v9M524 375.5h9M528.5 371v9M521 380.5h9M525.5 376v9M520 359.5h9M524.5 355v9M525 379.5h9M529.5 375v9M522 372.5h9M526.5 368v9M524 373.5h9M528.5 369v9M520 367.5h9M524.5 363v9M522 380.5h9M526.5 376v9M522 383.5h9M526.5 379v9M520 365.5h9M524.5 361v9M521 368.5h9M525.5 364v9M523 372.5h9M527.5 368v9M537 365.5h9M541.5 361v9M541 384.5h9M545.5 380v9M541 380.5h9M545.5 376v9M539 374.5h9M543.5 370v9M537 378.5h9M541.5 374v9M538 371.5h9M542.5 367v9M539 374.5h9M543.5 370v9M540 374.5h9M544.5 370v9M539 377.5h9M543.5 373v9M536 378.5h9M540.5 374v9M540 369.5h9M544.5 365v9M537 371.5h9M541.5 367v9M541 377.5h9M545.5 373v9M538 382.5h9M542.5 378v9M538 378.5h9M542.5 374v9M538 382.5h9M542.5 378v9M539 372.5h9M543.5 368v9M542 377.5h9M546.5 373v9M541 369.5h9M545.5 365v9M541 366.5h9M545.5 362v9M540 369.5h9M544.5 365v9M537 367.5h9M541.5 363v9M539 379.5h9M543.5 375v9M539 367.5h9M543.5 363v9M538 374.5h9M542.5 370v9M540 376.5h9M544.5 372v9M555 364.5h9M559.5 360v9M557 384.5h9M561.5 380v9M558 366.5h9M562.5 362v9M558 378.5h9M562.5 374v9M557 376.5h9M561.5 372v9M554 369.5h9M558.5 365v9M554 378.5h9M558.5 374v9M557 374.5h9M561.5 370v9M557 378.5h9M561.5 374v9M560 371.5h9M564.5 367v9M555 373.5h9M559.5 369v9M558 372.5h9M562.5 368v9M558 367.5h9M562.5 363v9M554 368.5h9M558.5 364v9M555 373.5h9M559.5 369v9M557 377.5h9M561.5 373v9M556 378.5h9M560.5 374v9M556 382.5h9M560.5 378v9M557 366.5h9M561.5 362v9M555 372.5h9M559.5 368v9M557 372.5h9M561.5 368v9M555 377.5h9M559.5 373v9M555 370.5h9M559.5 366v9M557 378.5h9M561.5 374v9M555 370.5h9M559.5 366v9M557 373.5h9M561.5 369v9M573 360.5h9M577.5 356v9M574 386.5h9M578.5 382v9M573 378.5h9M577.5 374v9M573 367.5h9M577.5 363v9M574 372.5h9M578.5 368v9M570 376.5h9M574.5 372v9M572 362.5h9M576.5 358v9M572 380.5h9M576.5 376v9M572 374.5h9M576.5 370v9M573 369.5h9M577.5 365v9M571 374.5h9M575.5 370v9M570 373.5h9M574.5 369v9M571 373.5h9M575.5 369v9M573 367.5h9M577.5 363v9M571 376.5h9M575.5 372v9M569 365.5h9M573.5 361v9M574 374.5h9M578.5 370v9M574 369.5h9M578.5 365v9M573 375.5h9M577.5 371v9M572 363.5h9M576.5 359v9M572 375.5h9M576.5 371v9M570 369.5h9M574.5 365v9M571 372.5h9M575.5 368v9M574 365.5h9M578.5 361v9M572 372.5h9M576.5 368v9M574 373.5h9M578.5 369v9M593 354.5h9M597.5 350v9M588 386.5h9M592.5 382v9M592 369.5h9M596.5 365v9M592 384.5h9M596.5 380v9M592 373.5h9M596.5 369v9M594 381.5h9M598.5 377v9M592 369.5h9M596.5 365v9M593 371.5h9M597.5 367v9M590 368.5h9M594.5 364v9M589 364.5h9M593.5 360v9M593 365.5h9M597.5 361v9M591 370.5h9M595.5 366v9M589 370.5h9M593.5 366v9M591 372.5h9M595.5 368v9M592 364.5h9M596.5 360v9M590 362.5h9M594.5 358v9M592 371.5h9M596.5 367v9M589 367.5h9M593.5 363v9M592 367.5h9M596.5 363v9M591 355.5h9M595.5 351v9M591 382.5h9M595.5 378v9M591 369.5h9M595.5 365v9M591 375.5h9M595.5 371v9M593 360.5h9M597.5 356v9M593 360.5h9M597.5 356v9M588 373.5h9M592.5 369v9M608 361.5h9M612.5 357v9M609 385.5h9M613.5 381v9M607 363.5h9M611.5 359v9M610 375.5h9M614.5 371v9M606 366.5h9M610.5 362v9M610 366.5h9M614.5 362v9M610 376.5h9M614.5 372v9M611 366.5h9M615.5 362v9M607 362.5h9M611.5 358v9M610 374.5h9M614.5 370v9M608 383.5h9M612.5 379v9M607 381.5h9M611.5 377v9M607 363.5h9M611.5 359v9M611 373.5h9M615.5 369v9M611 363.5h9M615.5 359v9M608 384.5h9M612.5 380v9M607 380.5h9M611.5 376v9M608 376.5h9M612.5 372v9M612 364.5h9M616.5 360v9M610 378.5h9M614.5 374v9M608 371.5h9M612.5 367v9M606 374.5h9M610.5 370v9M608 373.5h9M612.5 369v9M611 378.5h9M615.5 374v9M612 376.5h9M616.5 372v9M608 380.5h9M612.5 376v9M628 359.5h9M632.5 355v9M625 386.5h9M629.5 382v9M624 370.5h9M628.5 366v9M626 380.5h9M630.5 376v9M626 377.5h9M630.5 373v9M627 384.5h9M631.5 380v9M627 361.5h9M631.5 357v9M628 371.5h9M632.5 367v9M625 365.5h9M629.5 361v9M628 375.5h9M632.5 371v9M625 371.5h9M629.5 367v9M627 379.5h9M631.5 375v9M626 381.5h9M630.5 377v9M626 366.5h9M630.5 362v9M628 379.5h9M632.5 375v9M626 374.5h9M630.5 370v9M628 369.5h9M632.5 365v9M628 379.5h9M632.5 375v9M626 374.5h9M630.5 370v9M625 383.5h9M629.5 379v9M625 374.5h9M629.5 370v9M625 378.5h9M629.5 374v9M626 370.5h9M630.5 366v9M626 374.5h9M630.5 370v9M629 374.5h9M633.5 370v9M627 383.5h9M631.5 379v9M624 398.5h9M628.5 394v9M643 365.5h9M647.5 361v9M646 388.5h9M650.5 384v9M643 368.5h9M647.5 364v9M643 382.5h9M647.5 378v9M646 386.5h9M650.5 382v9M644 377.5h9M648.5 373v9M643 381.5h9M647.5 377v9M643 370.5h9M647.5 366v9M645 368.5h9M649.5 364v9M645 378.5h9M649.5 374v9M645 375.5h9M649.5 371v9M644 379.5h9M648.5 375v9M645 369.5h9M649.5 365v9M645 372.5h9M649.5 368v9M645 378.5h9M649.5 374v9M646 386.5h9M650.5 382v9M644 375.5h9M648.5 371v9M644 386.5h9M648.5 382v9M644 374.5h9M648.5 370v9M645 367.5h9M649.5 363v9M643 373.5h9M647.5 369v9M646 387.5h9M650.5 383v9M642 382.5h9M646.5 378v9M644 369.5h9M648.5 365v9M643 379.5h9M647.5 375v9M643 382.5h9M647.5 378v9M660 366.5h9M664.5 362v9M660 385.5h9M664.5 381v9M661 376.5h9M665.5 372v9M664 371.5h9M668.5 367v9M661 381.5h9M665.5 377v9M659 371.5h9M663.5 367v9M660 378.5h9M664.5 374v9M657 379.5h9M661.5 375v9M662 378.5h9M666.5 374v9M661 381.5h9M665.5 377v9M663 374.5h9M667.5 370v9M661 372.5h9M665.5 368v9M661 374.5h9M665.5 370v9M661 378.5h9M665.5 374v9M658 382.5h9M662.5 378v9M661 383.5h9M665.5 379v9M661 382.5h9M665.5 378v9M662 377.5h9M666.5 373v9M662 371.5h9M666.5 367v9M659 373.5h9M663.5 369v9M661 381.5h9M665.5 377v9M661 377.5h9M665.5 373v9M663 382.5h9M667.5 378v9M660 379.5h9M664.5 375v9M658 383.5h9M662.5 379v9M660 380.5h9M664.5 376v9M659 395.5h9M663.5 391v9M678 358.5h9M682.5 354v9M676 388.5h9M680.5 384v9M676 380.5h9M680.5 376v9M675 379.5h9M679.5 375v9M677 382.5h9M681.5 378v9M680 383.5h9M684.5 379v9M680 370.5h9M684.5 366v9M678 375.5h9M682.5 371v9M677 373.5h9M681.5 369v9M679 379.5h9M683.5 375v9M679 364.5h9M683.5 360v9M676 376.5h9M680.5 372v9M678 374.5h9M682.5 370v9M679 374.5h9M683.5 370v9M679 379.5h9M683.5 375v9M679 378.5h9M683.5 374v9M679 368.5h9M683.5 364v9M678 380.5h9M682.5 376v9M677 383.5h9M681.5 379v9M675 363.5h9M679.5 359v9M676 373.5h9M680.5 369v9M679 364.5h9M683.5 360v9M680 366.5h9M684.5 362v9M679 376.5h9M683.5 372v9M677 362.5h9M681.5 358v9M675 374.5h9M679.5 370v9M697 363.5h9M701.5 359v9M697 384.5h9M701.5 380v9M697 378.5h9M701.5 374v9M695 381.5h9M699.5 377v9M695 371.5h9M699.5 367v9M697 372.5h9M701.5 368v9M694 377.5h9M698.5 373v9M695 382.5h9M699.5 378v9M696 368.5h9M700.5 364v9M696 374.5h9M700.5 370v9M695 377.5h9M699.5 373v9M697 376.5h9M701.5 372v9M695 374.5h9M699.5 370v9M696 372.5h9M700.5 368v9M697 371.5h9M701.5 367v9M696 367.5h9M700.5 363v9M696 375.5h9M700.5 371v9M693 382.5h9M697.5 378v9M693 376.5h9M697.5 372v9M694 376.5h9M698.5 372v9M696 374.5h9M700.5 370v9M698 365.5h9M702.5 361v9M693 373.5h9M697.5 369v9M696 381.5h9M700.5 377v9M694 370.5h9M698.5 366v9M694 380.5h9M698.5 376v9M696 353.5h9M700.5 349v9M713 360.5h9M717.5 356v9M711 391.5h9M715.5 387v9M714 368.5h9M718.5 364v9M715 375.5h9M719.5 371v9M711 378.5h9M715.5 374v9M712 371.5h9M716.5 367v9M714 376.5h9M718.5 372v9M711 386.5h9M715.5 382v9M714 389.5h9M718.5 385v9M713 383.5h9M717.5 379v9M715 363.5h9M719.5 359v9M712 372.5h9M716.5 368v9M712 373.5h9M716.5 369v9M712 376.5h9M716.5 372v9M716 367.5h9M720.5 363v9M714 375.5h9M718.5 371v9M711 371.5h9M715.5 367v9M712 370.5h9M716.5 366v9M713 385.5h9M717.5 381v9M713 362.5h9M717.5 358v9M714 375.5h9M718.5 371v9M711 361.5h9M715.5 357v9M712 370.5h9M716.5 366v9M716 385.5h9M720.5 381v9M715 383.5h9M719.5 379v9M712 386.5h9M716.5 382v9M729 360.5h9M733.5 356v9M732 381.5h9M736.5 377v9M730 372.5h9M734.5 368v9M732 376.5h9M736.5 372v9M730 362.5h9M734.5 358v9M730 370.5h9M734.5 366v9M729 377.5h9M733.5 373v9M730 370.5h9M734.5 366v9M730 366.5h9M734.5 362v9M729 374.5h9M733.5 370v9M733 378.5h9M737.5 374v9M728 368.5h9M732.5 364v9M729 368.5h9M733.5 364v9M731 370.5h9M735.5 366v9M732 372.5h9M736.5 368v9M729 366.5h9M733.5 362v9M730 376.5h9M734.5 372v9M729 367.5h9M733.5 363v9M728 373.5h9M732.5 369v9M732 377.5h9M736.5 373v9M730 364.5h9M734.5 360v9M729 364.5h9M733.5 360v9M730 370.5h9M734.5 366v9M731 369.5h9M735.5 365v9M732 364.5h9M736.5 360v9M731 366.5h9M735.5 362v9M727 392.5h9M731.5 388v9M745 364.5h9M749.5 360v9M748 386.5h9M752.5 382v9M750 375.5h9M754.5 371v9M746 377.5h9M750.5 373v9M748 376.5h9M752.5 372v9M748 380.5h9M752.5 376v9M748 379.5h9M752.5 375v9M745 368.5h9M749.5 364v9M747 367.5h9M751.5 363v9M747 373.5h9M751.5 369v9M747 371.5h9M751.5 367v9M747 366.5h9M751.5 362v9M745 381.5h9M749.5 377v9M746 382.5h9M750.5 378v9M747 373.5h9M751.5 369v9M746 366.5h9M750.5 362v9M748 378.5h9M752.5 374v9M749 371.5h9M753.5 367v9M747 372.5h9M751.5 368v9M746 383.5h9M750.5 379v9M747 379.5h9M751.5 375v9M746 379.5h9M750.5 375v9M746 371.5h9M750.5 367v9M746 373.5h9M750.5 369v9M749 376.5h9M753.5 372v9M748 372.5h9M752.5 368v9M766 361.5h9M770.5 357v9M763 389.5h9M767.5 385v9M766 381.5h9M770.5 377v9M762 379.5h9M766.5 375v9M765 381.5h9M769.5 377v9M765 387.5h9M769.5 383v9M766 386.5h9M770.5 382v9M765 376.5h9M769.5 372v9M763 380.5h9M767.5 376v9M763 385.5h9M767.5 381v9M762 383.5h9M766.5 379v9M765 369.5h9M769.5 365v9M764 379.5h9M768.5 375v9M763 375.5h9M767.5 371v9M765 382.5h9M769.5 378v9M763 379.5h9M767.5 375v9M763 372.5h9M767.5 368v9M763 367.5h9M767.5 363v9M767 382.5h9M771.5 378v9M766 379.5h9M770.5 375v9M764 377.5h9M768.5 373v9M762 375.5h9M766.5 371v9M765 364.5h9M769.5 360v9M764 368.5h9M768.5 364v9M765 380.5h9M769.5 376v9M765 373.5h9M769.5 369v9M780 362.5h9M784.5 358v9M783 385.5h9M787.5 381v9M783 371.5h9M787.5 367v9M780 369.5h9M784.5 365v9M779 379.5h9M783.5 375v9M780 373.5h9M784.5 369v9M782 380.5h9M786.5 376v9M781 363.5h9M785.5 359v9M780 374.5h9M784.5 370v9M781 381.5h9M785.5 377v9M780 368.5h9M784.5 364v9M781 368.5h9M785.5 364v9M780 379.5h9M784.5 375v9M778 382.5h9M782.5 378v9M781 382.5h9M785.5 378v9M782 378.5h9M786.5 374v9M779 378.5h9M783.5 374v9M780 365.5h9M784.5 361v9M782 380.5h9M786.5 376v9M780 378.5h9M784.5 374v9M779 365.5h9M783.5 361v9M784 377.5h9M788.5 373v9M782 373.5h9M786.5 369v9M782 381.5h9M786.5 377v9M779 377.5h9M783.5 373v9M783 381.5h9M787.5 377v9M800 351.5h9M804.5 347v9M795 377.5h9M799.5 373v9M800 364.5h9M804.5 360v9M801 359.5h9M805.5 355v9M800 352.5h9M804.5 348v9M796 366.5h9M800.5 362v9M798 359.5h9M802.5 355v9M799 357.5h9M803.5 353v9M799 358.5h9M803.5 354v9M797 368.5h9M801.5 364v9M797 355.5h9M801.5 351v9M800 363.5h9M804.5 359v9M796 356.5h9M800.5 352v9M801 352.5h9M805.5 348v9M798 364.5h9M802.5 360v9M799 360.5h9M803.5 356v9M796 360.5h9M800.5 356v9M797 362.5h9M801.5 358v9M799 356.5h9M803.5 352v9M796 364.5h9M800.5 360v9M801 373.5h9M805.5 369v9M796 358.5h9M800.5 354v9M796 353.5h9M800.5 349v9M798 359.5h9M802.5 355v9M799 362.5h9M803.5 358v9M799 368.5h9M803.5 364v9M816 334.5h9M820.5 330v9M816 364.5h9M820.5 360v9M815 360.5h9M819.5 356v9M817 347.5h9M821.5 343v9M818 355.5h9M822.5 351v9M815 337.5h9M819.5 333v9M816 341.5h9M820.5 337v9M815 349.5h9M819.5 345v9M814 343.5h9M818.5 339v9M814 352.5h9M818.5 348v9M815 342.5h9M819.5 338v9M814 353.5h9M818.5 349v9M815 352.5h9M819.5 348v9M815 352.5h9M819.5 348v9M816 350.5h9M820.5 346v9M817 341.5h9M821.5 337v9M819 344.5h9M823.5 340v9M815 355.5h9M819.5 351v9M815 363.5h9M819.5 359v9M816 340.5h9M820.5 336v9M815 338.5h9M819.5 334v9M817 353.5h9M821.5 349v9M817 339.5h9M821.5 335v9M816 351.5h9M820.5 347v9M817 337.5h9M821.5 333v9M815 345.5h9M819.5 341v9M834 331.5h9M838.5 327v9M835 358.5h9M839.5 354v9M835 343.5h9M839.5 339v9M834 345.5h9M838.5 341v9M833 351.5h9M837.5 347v9M836 343.5h9M840.5 339v9M832 348.5h9M836.5 344v9M833 342.5h9M837.5 338v9M834 356.5h9M838.5 352v9M831 332.5h9M835.5 328v9M834 352.5h9M838.5 348v9M833 337.5h9M837.5 333v9M833 333.5h9M837.5 329v9M834 351.5h9M838.5 347v9M834 338.5h9M838.5 334v9M834 333.5h9M838.5 329v9M832 340.5h9M836.5 336v9M832 340.5h9M836.5 336v9M833 351.5h9M837.5 347v9M833 338.5h9M837.5 334v9M832 350.5h9M836.5 346v9M835 351.5h9M839.5 347v9M836 346.5h9M840.5 342v9M831 350.5h9M835.5 346v9M833 341.5h9M837.5 337v9M835 354.5h9M839.5 350v9M848 320.5h9M852.5 316v9M849 345.5h9M853.5 341v9M849 329.5h9M853.5 325v9M850 332.5h9M854.5 328v9M853 337.5h9M857.5 333v9M853 333.5h9M857.5 329v9M848 326.5h9M852.5 322v9M850 340.5h9M854.5 336v9M849 341.5h9M853.5 337v9M851 337.5h9M855.5 333v9M848 328.5h9M852.5 324v9M848 341.5h9M852.5 337v9M850 336.5h9M854.5 332v9M849 332.5h9M853.5 328v9M852 333.5h9M856.5 329v9M850 329.5h9M854.5 325v9M851 334.5h9M855.5 330v9M850 321.5h9M854.5 317v9M852 334.5h9M856.5 330v9M852 336.5h9M856.5 332v9M850 327.5h9M854.5 323v9M849 332.5h9M853.5 328v9M851 334.5h9M855.5 330v9M850 334.5h9M854.5 330v9M852 326.5h9M856.5 322v9M850 334.5h9M854.5 330v9M869 303.5h9M873.5 299v9M866 321.5h9M870.5 317v9M869 313.5h9M873.5 309v9M867 306.5h9M871.5 302v9M866 307.5h9M870.5 303v9M870 309.5h9M874.5 305v9M867 315.5h9M871.5 311v9M866 314.5h9M870.5 310v9M867 306.5h9M871.5 302v9M866 307.5h9M870.5 303v9M869 317.5h9M873.5 313v9M868 312.5h9M872.5 308v9M870 318.5h9M874.5 314v9M868 312.5h9M872.5 308v9M867 311.5h9M871.5 307v9M869 307.5h9M873.5 303v9M867 315.5h9M871.5 311v9M867 311.5h9M871.5 307v9M867 314.5h9M871.5 310v9M868 316.5h9M872.5 312v9M870 315.5h9M874.5 311v9M867 320.5h9M871.5 316v9M868 320.5h9M872.5 316v9M868 316.5h9M872.5 312v9M866 307.5h9M870.5 303v9M866 313.5h9M870.5 309v9M885 293.5h9M889.5 289v9M883 313.5h9M887.5 309v9M886 296.5h9M890.5 292v9M884 297.5h9M888.5 293v9M883 311.5h9M887.5 307v9M883 303.5h9M887.5 299v9M885 308.5h9M889.5 304v9M883 299.5h9M887.5 295v9M883 307.5h9M887.5 303v9M887 306.5h9M891.5 302v9M886 296.5h9M890.5 292v9M886 299.5h9M890.5 295v9M886 312.5h9M890.5 308v9M885 302.5h9M889.5 298v9M882 310.5h9M886.5 306v9M886 294.5h9M890.5 290v9M886 297.5h9M890.5 293v9M885 311.5h9M889.5 307v9M881 307.5h9M885.5 303v9M886 295.5h9M890.5 291v9M886 295.5h9M890.5 291v9M884 295.5h9M888.5 291v9M884 308.5h9M888.5 304v9M886 297.5h9M890.5 293v9M884 307.5h9M888.5 303v9M886 295.5h9M890.5 291v9M902 287.5h9M906.5 283v9M902 316.5h9M906.5 312v9M903 294.5h9M907.5 290v9M902 297.5h9M906.5 293v9M902 296.5h9M906.5 292v9M903 303.5h9M907.5 299v9M902 311.5h9M906.5 307v9M902 300.5h9M906.5 296v9M901 315.5h9M905.5 311v9M901 297.5h9M905.5 293v9M902 305.5h9M906.5 301v9M901 298.5h9M905.5 294v9M902 291.5h9M906.5 287v9M901 305.5h9M905.5 301v9M901 312.5h9M905.5 308v9M902 309.5h9M906.5 305v9M900 308.5h9M904.5 304v9M903 289.5h9M907.5 285v9M903 314.5h9M907.5 310v9M899 312.5h9M903.5 308v9M902 308.5h9M906.5 304v9M901 293.5h9M905.5 289v9M903 308.5h9M907.5 304v9M905 305.5h9M909.5 301v9M901 295.5h9M905.5 291v9M902 311.5h9M906.5 307v9M920 281.5h9M924.5 277v9M922 303.5h9M926.5 299v9M920 288.5h9M924.5 284v9M918 284.5h9M922.5 280v9M919 287.5h9M923.5 283v9M918 293.5h9M922.5 289v9M917 283.5h9M921.5 279v9M919 288.5h9M923.5 284v9M919 286.5h9M923.5 282v9M918 291.5h9M922.5 287v9M918 289.5h9M922.5 285v9M918 301.5h9M922.5 297v9M920 290.5h9M924.5 286v9M922 286.5h9M926.5 282v9M919 301.5h9M923.5 297v9M923 293.5h9M927.5 289v9M917 294.5h9M921.5 290v9M920 287.5h9M924.5 283v9M918 285.5h9M922.5 281v9M919 295.5h9M923.5 291v9M920 296.5h9M924.5 292v9M920 295.5h9M924.5 291v9M921 301.5h9M925.5 297v9M919 297.5h9M923.5 293v9M918 284.5h9M922.5 280v9M919 292.5h9M923.5 288v9M938 272.5h9M942.5 268v9M937 296.5h9M941.5 292v9M936 284.5h9M940.5 280v9M934 288.5h9M938.5 284v9M938 276.5h9M942.5 272v9M935 274.5h9M939.5 270v9M936 290.5h9M940.5 286v9M938 285.5h9M942.5 281v9M937 287.5h9M941.5 283v9M935 275.5h9M939.5 271v9M938 290.5h9M942.5 286v9M936 286.5h9M940.5 282v9M938 289.5h9M942.5 285v9M935 287.5h9M939.5 283v9M934 276.5h9M938.5 272v9M936 286.5h9M940.5 282v9M938 290.5h9M942.5 286v9M933 284.5h9M937.5 280v9M935 281.5h9M939.5 277v9M938 281.5h9M942.5 277v9M940 277.5h9M944.5 273v9M936 292.5h9M940.5 288v9M935 277.5h9M939.5 273v9M936 283.5h9M940.5 279v9M935 291.5h9M939.5 287v9M939 287.5h9M943.5 283v9M953 270.5h9M957.5 266v9M955 292.5h9M959.5 288v9M955 281.5h9M959.5 277v9M952 285.5h9M956.5 281v9M952 281.5h9M956.5 277v9M953 279.5h9M957.5 275v9M955 280.5h9M959.5 276v9M954 284.5h9M958.5 280v9M956 281.5h9M960.5 277v9M951 285.5h9M955.5 281v9M954 273.5h9M958.5 269v9M953 272.5h9M957.5 268v9M954 271.5h9M958.5 267v9M954 277.5h9M958.5 273v9M952 276.5h9M956.5 272v9M953 287.5h9M957.5 283v9M952 273.5h9M956.5 269v9M954 279.5h9M958.5 275v9M952 280.5h9M956.5 276v9M953 279.5h9M957.5 275v9M954 281.5h9M958.5 277v9M953 282.5h9M957.5 278v9M955 286.5h9M959.5 282v9M953 278.5h9M957.5 274v9M955 290.5h9M959.5 286v9M954 276.5h9M958.5 272v9M973 263.5h9M977.5 259v9M973 285.5h9M977.5 281v9M974 267.5h9M978.5 263v9M970 270.5h9M974.5 266v9M974 278.5h9M978.5 274v9M973 278.5h9M977.5 274v9M973 268.5h9M977.5 264v9M972 270.5h9M976.5 266v9M971 281.5h9M975.5 277v9M972 273.5h9M976.5 269v9M971 276.5h9M975.5 272v9M970 282.5h9M974.5 278v9M970 277.5h9M974.5 273v9M970 265.5h9M974.5 261v9M971 274.5h9M975.5 270v9M968 268.5h9M972.5 264v9M971 282.5h9M975.5 278v9M969 266.5h9M973.5 262v9M972 279.5h9M976.5 275v9M973 277.5h9M977.5 273v9M973 281.5h9M977.5 277v9M974 275.5h9M978.5 271v9M973 275.5h9M977.5 271v9M974 280.5h9M978.5 276v9M971 269.5h9M975.5 265v9M970 271.5h9M974.5 267v9M987 274.5h9M991.5 270v9M992 292.5h9M996.5 288v9M990 287.5h9M994.5 283v9M988 283.5h9M992.5 279v9M989 288.5h9M993.5 284v9M989 286.5h9M993.5 282v9M989 281.5h9M993.5 277v9M988 280.5h9M992.5 276v9M987 283.5h9M991.5 279v9M989 285.5h9M993.5 281v9M990 285.5h9M994.5 281v9M990 290.5h9M994.5 286v9M990 287.5h9M994.5 283v9M991 279.5h9M995.5 275v9M987 285.5h9M991.5 281v9M989 287.5h9M993.5 283v9M989 277.5h9M993.5 273v9M990 288.5h9M994.5 284v9M989 287.5h9M993.5 283v9M990 282.5h9M994.5 278v9M989 284.5h9M993.5 280v9M992 285.5h9M996.5 281v9M986 284.5h9M990.5 280v9M989 281.5h9M993.5 277v9M992 285.5h9M996.5 281v9M989 286.5h9M993.5 282v9M986 298.5h9M990.5 294v9M1004 283.5h9M1008.5 279v9M1005 299.5h9M1009.5 295v9M1004 292.5h9M1008.5 288v9M1003 285.5h9M1007.5 281v9M1003 294.5h9M1007.5 290v9M1005 288.5h9M1009.5 284v9M1005 290.5h9M1009.5 286v9M1005 288.5h9M1009.5 284v9M1004 292.5h9M1008.5 288v9M1007 292.5h9M1011.5 288v9M1008 294.5h9M1012.5 290v9M1004 292.5h9M1008.5 288v9M1003 297.5h9M1007.5 293v9M1007 293.5h9M1011.5 289v9M1007 286.5h9M1011.5 282v9M1008 298.5h9M1012.5 294v9M1004 290.5h9M1008.5 286v9M1005 288.5h9M1009.5 284v9M1002 292.5h9M1006.5 288v9M1006 293.5h9M1010.5 289v9M1003 287.5h9M1007.5 283v9M1002 289.5h9M1006.5 285v9M1006 294.5h9M1010.5 290v9M1006 292.5h9M1010.5 288v9M1002 286.5h9M1006.5 282v9M1004 297.5h9M1008.5 293v9M1024 283.5h9M1028.5 279v9M1023 303.5h9M1027.5 299v9M1023 299.5h9M1027.5 295v9M1026 288.5h9M1030.5 284v9M1020 294.5h9M1024.5 290v9M1021 300.5h9M1025.5 296v9M1021 292.5h9M1025.5 288v9M1024 288.5h9M1028.5 284v9M1025 288.5h9M1029.5 284v9M1022 286.5h9M1026.5 282v9M1024 296.5h9M1028.5 292v9M1023 289.5h9M1027.5 285v9M1023 293.5h9M1027.5 289v9M1022 293.5h9M1026.5 289v9M1023 286.5h9M1027.5 282v9M1023 286.5h9M1027.5 282v9M1025 297.5h9M1029.5 293v9M1026 288.5h9M1030.5 284v9M1020 299.5h9M1024.5 295v9M1024 292.5h9M1028.5 288v9M1023 297.5h9M1027.5 293v9M1024 296.5h9M1028.5 292v9M1025 295.5h9M1029.5 291v9M1024 296.5h9M1028.5 292v9M1024 299.5h9M1028.5 295v9M1021 289.5h9M1025.5 285v9M1038 286.5h9M1042.5 282v9M1042 306.5h9M1046.5 302v9M1039 304.5h9M1043.5 300v9M1039 295.5h9M1043.5 291v9M1039 294.5h9M1043.5 290v9M1041 304.5h9M1045.5 300v9M1042 299.5h9M1046.5 295v9M1041 292.5h9M1045.5 288v9M1037 301.5h9M1041.5 297v9M1039 291.5h9M1043.5 287v9M1041 296.5h9M1045.5 292v9M1037 302.5h9M1041.5 298v9M1040 291.5h9M1044.5 287v9M1041 294.5h9M1045.5 290v9M1042 295.5h9M1046.5 291v9M1041 293.5h9M1045.5 289v9M1041 304.5h9M1045.5 300v9M1041 287.5h9M1045.5 283v9M1040 298.5h9M1044.5 294v9M1037 302.5h9M1041.5 298v9M1043 298.5h9M1047.5 294v9M1041 295.5h9M1045.5 291v9M1040 297.5h9M1044.5 293v9M1039 304.5h9M1043.5 300v9M1043 305.5h9M1047.5 301v9M1040 294.5h9M1044.5 290v9M1058 281.5h9M1062.5 277v9M1056 296.5h9M1060.5 292v9M1060 283.5h9M1064.5 279v9M1057 287.5h9M1061.5 283v9M1057 294.5h9M1061.5 290v9M1059 285.5h9M1063.5 281v9M1058 292.5h9M1062.5 288v9M1056 291.5h9M1060.5 287v9M1059 283.5h9M1063.5 279v9M1061 284.5h9M1065.5 280v9M1056 283.5h9M1060.5 279v9M1057 289.5h9M1061.5 285v9M1056 288.5h9M1060.5 284v9M1055 292.5h9M1059.5 288v9M1059 287.5h9M1063.5 283v9M1059 291.5h9M1063.5 287v9M1059 292.5h9M1063.5 288v9M1058 294.5h9M1062.5 290v9M1055 293.5h9M1059.5 289v9M1058 285.5h9M1062.5 281v9M1057 289.5h9M1061.5 285v9M1056 286.5h9M1060.5 282v9M1056 284.5h9M1060.5 280v9M1059 286.5h9M1063.5 282v9M1057 294.5h9M1061.5 290v9M1061 287.5h9M1065.5 283v9M1075 281.5h9M1079.5 277v9M1072 308.5h9M1076.5 304v9M1077 296.5h9M1081.5 292v9M1075 291.5h9M1079.5 287v9M1076 294.5h9M1080.5 290v9M1074 299.5h9M1078.5 295v9M1074 285.5h9M1078.5 281v9M1074 299.5h9M1078.5 295v9M1072 290.5h9M1076.5 286v9M1072 297.5h9M1076.5 293v9M1073 290.5h9M1077.5 286v9M1073 288.5h9M1077.5 284v9M1072 285.5h9M1076.5 281v9M1074 299.5h9M1078.5 295v9M1075 302.5h9M1079.5 298v9M1077 283.5h9M1081.5 279v9M1077 292.5h9M1081.5 288v9M1074 289.5h9M1078.5 285v9M1075 293.5h9M1079.5 289v9M1074 295.5h9M1078.5 291v9M1075 292.5h9M1079.5 288v9M1074 288.5h9M1078.5 284v9M1073 291.5h9M1077.5 287v9M1074 300.5h9M1078.5 296v9M1072 301.5h9M1076.5 297v9M1075 302.5h9M1079.5 298v9M1091 293.5h9M1095.5 289v9M1091 310.5h9M1095.5 306v9M1092 297.5h9M1096.5 293v9M1092 300.5h9M1096.5 296v9M1092 297.5h9M1096.5 293v9M1094 303.5h9M1098.5 299v9M1091 298.5h9M1095.5 294v9M1095 303.5h9M1099.5 299v9M1090 298.5h9M1094.5 294v9M1090 298.5h9M1094.5 294v9M1093 308.5h9M1097.5 304v9M1090 298.5h9M1094.5 294v9M1094 297.5h9M1098.5 293v9M1092 306.5h9M1096.5 302v9M1091 299.5h9M1095.5 295v9M1093 297.5h9M1097.5 293v9M1092 299.5h9M1096.5 295v9M1091 301.5h9M1095.5 297v9M1091 299.5h9M1095.5 295v9M1095 303.5h9M1099.5 299v9M1092 299.5h9M1096.5 295v9M1092 297.5h9M1096.5 293v9M1090 302.5h9M1094.5 298v9M1095 301.5h9M1099.5 297v9M1093 302.5h9M1097.5 298v9M1091 302.5h9M1095.5 298v9M1109 278.5h9M1113.5 274v9M1110 302.5h9M1114.5 298v9M1109 293.5h9M1113.5 289v9M1107 290.5h9M1111.5 286v9M1106 287.5h9M1110.5 283v9M1107 298.5h9M1111.5 294v9M1106 282.5h9M1110.5 278v9M1109 287.5h9M1113.5 283v9M1110 284.5h9M1114.5 280v9M1112 282.5h9M1116.5 278v9M1109 285.5h9M1113.5 281v9M1112 281.5h9M1116.5 277v9M1112 297.5h9M1116.5 293v9M1109 294.5h9M1113.5 290v9M1108 292.5h9M1112.5 288v9M1109 293.5h9M1113.5 289v9M1108 287.5h9M1112.5 283v9M1108 291.5h9M1112.5 287v9M1109 294.5h9M1113.5 290v9M1110 292.5h9M1114.5 288v9M1106 288.5h9M1110.5 284v9M1109 294.5h9M1113.5 290v9M1109 282.5h9M1113.5 278v9M1110 282.5h9M1114.5 278v9M1107 291.5h9M1111.5 287v9M1110 285.5h9M1114.5 281v9M1129 285.5h9M1133.5 281v9M1125 301.5h9M1129.5 297v9M1127 288.5h9M1131.5 284v9M1126 293.5h9M1130.5 289v9M1125 293.5h9M1129.5 289v9M1124 291.5h9M1128.5 287v9M1124 296.5h9M1128.5 292v9M1128 297.5h9M1132.5 293v9M1128 291.5h9M1132.5 287v9M1130 298.5h9M1134.5 294v9M1124 292.5h9M1128.5 288v9M1127 299.5h9M1131.5 295v9M1127 297.5h9M1131.5 293v9M1128 287.5h9M1132.5 283v9M1126 298.5h9M1130.5 294v9M1128 291.5h9M1132.5 287v9M1128 296.5h9M1132.5 292v9M1128 294.5h9M1132.5 290v9M1129 286.5h9M1133.5 282v9M1126 295.5h9M1130.5 291v9M1129 295.5h9M1133.5 291v9M1125 293.5h9M1129.5 289v9M1129 288.5h9M1133.5 284v9M1123 294.5h9M1127.5 290v9M1127 299.5h9M1131.5 295v9M1125 289.5h9M1129.5 285v9M1145 294.5h9M1149.5 290v9M1142 313.5h9M1146.5 309v9M1141 302.5h9M1145.5 298v9M1142 299.5h9M1146.5 295v9M1141 308.5h9M1145.5 304v9M1142 301.5h9M1146.5 297v9M1143 311.5h9M1147.5 307v9M1144 298.5h9M1148.5 294v9M1143 309.5h9M1147.5 305v9M1143 306.5h9M1147.5 302v9M1142 304.5h9M1146.5 300v9M1144 307.5h9M1148.5 303v9M1144 309.5h9M1148.5 305v9M1144 309.5h9M1148.5 305v9M1145 302.5h9M1149.5 298v9M1143 306.5h9M1147.5 302v9M1143 300.5h9M1147.5 296v9M1146 303.5h9M1150.5 299v9M1143 300.5h9M1147.5 296v9M1144 307.5h9M1148.5 303v9M1142 307.5h9M1146.5 303v9M1145 303.5h9M1149.5 299v9M1142 304.5h9M1146.5 300v9M1141 296.5h9M1145.5 292v9M1143 300.5h9M1147.5 296v9M1142 300.5h9M1146.5 296v9M1162 285.5h9M1166.5 281v9M1157 302.5h9M1161.5 298v9M1161 288.5h9M1165.5 284v9M1163 298.5h9M1167.5 294v9M1161 298.5h9M1165.5 294v9M1161 301.5h9M1165.5 297v9M1160 293.5h9M1164.5 289v9M1162 299.5h9M1166.5 295v9M1161 295.5h9M1165.5 291v9M1162 294.5h9M1166.5 290v9M1162 294.5h9M1166.5 290v9M1160 300.5h9M1164.5 296v9M1160 295.5h9M1164.5 291v9M1162 296.5h9M1166.5 292v9M1162 287.5h9M1166.5 283v9M1161 298.5h9M1165.5 294v9M1162 300.5h9M1166.5 296v9M1160 296.5h9M1164.5 292v9M1161 297.5h9M1165.5 293v9M1162 291.5h9M1166.5 287v9M1161 296.5h9M1165.5 292v9M1157 295.5h9M1161.5 291v9M1161 292.5h9M1165.5 288v9M1160 294.5h9M1164.5 290v9M1160 292.5h9M1164.5 288v9M1161 295.5h9M1165.5 291v9M1179 296.5h9M1183.5 292v9M1179 312.5h9M1183.5 308v9M1179 312.5h9M1183.5 308v9M1178 310.5h9M1182.5 306v9M1176 302.5h9M1180.5 298v9M1180 300.5h9M1184.5 296v9M1178 305.5h9M1182.5 301v9M1178 310.5h9M1182.5 306v9M1178 306.5h9M1182.5 302v9M1179 309.5h9M1183.5 305v9M1178 300.5h9M1182.5 296v9M1176 306.5h9M1180.5 302v9M1179 299.5h9M1183.5 295v9M1180 301.5h9M1184.5 297v9M1178 306.5h9M1182.5 302v9M1181 304.5h9M1185.5 300v9M1178 304.5h9M1182.5 300v9M1179 301.5h9M1183.5 297v9M1181 303.5h9M1185.5 299v9M1180 303.5h9M1184.5 299v9M1182 302.5h9M1186.5 298v9M1177 304.5h9M1181.5 300v9M1179 310.5h9M1183.5 306v9M1180 301.5h9M1184.5 297v9M1178 307.5h9M1182.5 303v9M1177 303.5h9M1181.5 299v9M1194 291.5h9M1198.5 287v9M1199 308.5h9M1203.5 304v9M1193 302.5h9M1197.5 298v9M1196 298.5h9M1200.5 294v9M1196 304.5h9M1200.5 300v9M1197 301.5h9M1201.5 297v9M1194 299.5h9M1198.5 295v9M1196 299.5h9M1200.5 295v9M1198 294.5h9M1202.5 290v9M1195 297.5h9M1199.5 293v9M1196 294.5h9M1200.5 290v9M1194 296.5h9M1198.5 292v9M1197 300.5h9M1201.5 296v9M1195 294.5h9M1199.5 290v9M1195 305.5h9M1199.5 301v9M1195 307.5h9M1199.5 303v9M1193 305.5h9M1197.5 301v9M1193 293.5h9M1197.5 289v9M1196 293.5h9M1200.5 289v9M1195 296.5h9M1199.5 292v9M1195 303.5h9M1199.5 299v9M1193 296.5h9M1197.5 292v9M1196 302.5h9M1200.5 298v9M1195 293.5h9M1199.5 289v9M1193 296.5h9M1197.5 292v9M1197 292.5h9M1201.5 288v9M1212 290.5h9M1216.5 286v9M1213 306.5h9M1217.5 302v9M1215 297.5h9M1219.5 293v9M1213 299.5h9M1217.5 295v9M1213 302.5h9M1217.5 298v9M1212 299.5h9M1216.5 295v9M1213 300.5h9M1217.5 296v9M1213 305.5h9M1217.5 301v9M1214 294.5h9M1218.5 290v9M1215 295.5h9M1219.5 291v9M1214 293.5h9M1218.5 289v9M1213 297.5h9M1217.5 293v9M1213 299.5h9M1217.5 295v9M1216 294.5h9M1220.5 290v9M1213 296.5h9M1217.5 292v9M1213 294.5h9M1217.5 290v9M1216 304.5h9M1220.5 300v9M1216 296.5h9M1220.5 292v9M1214 299.5h9M1218.5 295v9M1213 301.5h9M1217.5 297v9M1212 293.5h9M1216.5 289v9M1215 301.5h9M1219.5 297v9M1212 297.5h9M1216.5 293v9M1215 295.5h9M1219.5 291v9M1212 291.5h9M1216.5 287v9M1213 293.5h9M1217.5 289v9M1228 292.5h9M1232.5 288v9M1231 305.5h9M1235.5 301v9M1230 294.5h9M1234.5 290v9M1230 294.5h9M1234.5 290v9M1233 297.5h9M1237.5 293v9M1230 295.5h9M1234.5 291v9M1231 296.5h9M1235.5 292v9M1231 303.5h9M1235.5 299v9M1233 302.5h9M1237.5 298v9M1232 295.5h9M1236.5 291v9M1228 294.5h9M1232.5 290v9M1233 301.5h9M1237.5 297v9M1230 302.5h9M1234.5 298v9M1230 299.5h9M1234.5 295v9M1232 300.5h9M1236.5 296v9M1230 299.5h9M1234.5 295v9M1230 300.5h9M1234.5 296v9M1230 296.5h9M1234.5 292v9M1230 295.5h9M1234.5 291v9M1232 302.5h9M1236.5 298v9M1231 296.5h9M1235.5 292v9M1233 299.5h9M1237.5 295v9M1233 302.5h9M1237.5 298v9M1232 301.5h9M1236.5 297v9M1229 296.5h9M1233.5 292v9M1231 296.5h9M1235.5 292v9M1232 282.5h9M1236.5 278v9M1229 315.5h9M1233.5 311v9M1233 315.5h9M1237.5 311v9M1248 294.5h9M1252.5 290v9M1244 320.5h9M1248.5 316v9M1246 310.5h9M1250.5 306v9M1248 300.5h9M1252.5 296v9M1248 316.5h9M1252.5 312v9M1247 309.5h9M1251.5 305v9M1245 307.5h9M1249.5 303v9M1247 311.5h9M1251.5 307v9M1248 303.5h9M1252.5 299v9M1247 309.5h9M1251.5 305v9M1250 308.5h9M1254.5 304v9M1248 317.5h9M1252.5 313v9M1248 300.5h9M1252.5 296v9M1247 313.5h9M1251.5 309v9M1244 312.5h9M1248.5 308v9M1249 297.5h9M1253.5 293v9M1246 310.5h9M1250.5 306v9M1249 305.5h9M1253.5 301v9M1247 306.5h9M1251.5 302v9M1247 310.5h9M1251.5 306v9M1249 304.5h9M1253.5 300v9M1247 298.5h9M1251.5 294v9M1245 308.5h9M1249.5 304v9M1248 302.5h9M1252.5 298v9M1248 309.5h9M1252.5 305v9M1248 300.5h9M1252.5 296v9M1266 297.5h9M1270.5 293v9M1263 318.5h9M1267.5 314v9M1267 307.5h9M1271.5 303v9M1262 303.5h9M1266.5 299v9M1267 307.5h9M1271.5 303v9M1266 315.5h9M1270.5 311v9M1261 301.5h9M1265.5 297v9M1267 317.5h9M1271.5 313v9M1267 302.5h9M1271.5 298v9M1264 314.5h9M1268.5 310v9M1262 307.5h9M1266.5 303v9M1264 307.5h9M1268.5 303v9M1264 314.5h9M1268.5 310v9M1265 299.5h9M1269.5 295v9M1263 305.5h9M1267.5 301v9M1263 305.5h9M1267.5 301v9M1265 300.5h9M1269.5 296v9M1265 315.5h9M1269.5 311v9M1261 310.5h9M1265.5 306v9M1265 308.5h9M1269.5 304v9M1263 303.5h9M1267.5 299v9M1263 317.5h9M1267.5 313v9M1265 307.5h9M1269.5 303v9M1265 307.5h9M1269.5 303v9M1265 314.5h9M1269.5 310v9M1267 308.5h9M1271.5 304v9M1281 307.5h9M1285.5 303v9M1279 328.5h9M1283.5 324v9M1282 310.5h9M1286.5 306v9M1283 322.5h9M1287.5 318v9M1281 317.5h9M1285.5 313v9M1284 323.5h9M1288.5 319v9M1283 319.5h9M1287.5 315v9M1284 320.5h9M1288.5 316v9M1280 320.5h9M1284.5 316v9M1282 324.5h9M1286.5 320v9M1284 323.5h9M1288.5 319v9M1285 322.5h9M1289.5 318v9M1284 311.5h9M1288.5 307v9M1282 318.5h9M1286.5 314v9M1282 319.5h9M1286.5 315v9M1281 325.5h9M1285.5 321v9M1284 323.5h9M1288.5 319v9M1281 325.5h9M1285.5 321v9M1282 319.5h9M1286.5 315v9M1279 321.5h9M1283.5 317v9M1280 310.5h9M1284.5 306v9M1285 322.5h9M1289.5 318v9M1282 312.5h9M1286.5 308v9M1282 308.5h9M1286.5 304v9M1279 320.5h9M1283.5 316v9M1282 315.5h9M1286.5 311v9M1279 296.5h9M1283.5 292v9M1299 311.5h9M1303.5 307v9M1300 329.5h9M1304.5 325v9M1297 325.5h9M1301.5 321v9M1297 318.5h9M1301.5 314v9M1299 324.5h9M1303.5 320v9M1299 325.5h9M1303.5 321v9M1299 321.5h9M1303.5 317v9M1299 317.5h9M1303.5 313v9M1298 320.5h9M1302.5 316v9M1300 320.5h9M1304.5 316v9M1299 323.5h9M1303.5 319v9M1300 320.5h9M1304.5 316v9M1295 316.5h9M1299.5 312v9M1300 323.5h9M1304.5 319v9M1295 326.5h9M1299.5 322v9M1299 321.5h9M1303.5 317v9M1297 320.5h9M1301.5 316v9M1298 312.5h9M1302.5 308v9M1298 325.5h9M1302.5 321v9M1298 314.5h9M1302.5 310v9M1299 324.5h9M1303.5 320v9M1299 324.5h9M1303.5 320v9M1297 319.5h9M1301.5 315v9M1295 324.5h9M1299.5 320v9M1297 320.5h9M1301.5 316v9M1299 315.5h9M1303.5 311v9M1317 310.5h9M1321.5 306v9M1315 332.5h9M1319.5 328v9M1317 318.5h9M1321.5 314v9M1318 318.5h9M1322.5 314v9M1315 323.5h9M1319.5 319v9M1316 321.5h9M1320.5 317v9M1317 324.5h9M1321.5 320v9M1316 316.5h9M1320.5 312v9M1315 322.5h9M1319.5 318v9M1316 325.5h9M1320.5 321v9M1315 324.5h9M1319.5 320v9M1316 328.5h9M1320.5 324v9M1316 320.5h9M1320.5 316v9M1316 318.5h9M1320.5 314v9M1315 316.5h9M1319.5 312v9M1316 318.5h9M1320.5 314v9M1316 329.5h9M1320.5 325v9M1316 323.5h9M1320.5 319v9M1318 317.5h9M1322.5 313v9M1315 315.5h9M1319.5 311v9M1313 321.5h9M1317.5 317v9M1318 322.5h9M1322.5 318v9M1315 316.5h9M1319.5 312v9M1316 319.5h9M1320.5 315v9M1315 315.5h9M1319.5 311v9M1317 321.5h9M1321.5 317v9M1331 313.5h9M1335.5 309v9M1332 338.5h9M1336.5 334v9M1333 331.5h9M1337.5 327v9M1334 322.5h9M1338.5 318v9M1335 316.5h9M1339.5 312v9M1333 325.5h9M1337.5 321v9M1333 316.5h9M1337.5 312v9M1334 315.5h9M1338.5 311v9M1331 315.5h9M1335.5 311v9M1333 323.5h9M1337.5 319v9M1333 318.5h9M1337.5 314v9M1334 323.5h9M1338.5 319v9M1332 332.5h9M1336.5 328v9M1332 324.5h9M1336.5 320v9M1331 323.5h9M1335.5 319v9M1333 319.5h9M1337.5 315v9M1332 336.5h9M1336.5 332v9M1337 318.5h9M1341.5 314v9M1332 322.5h9M1336.5 318v9M1335 325.5h9M1339.5 321v9M1332 326.5h9M1336.5 322v9M1333 332.5h9M1337.5 328v9M1335 327.5h9M1339.5 323v9M1333 329.5h9M1337.5 325v9M1337 323.5h9M1341.5 319v9M1334 335.5h9M1338.5 331v9M1348 316.5h9M1352.5 312v9M1353 343.5h9M1357.5 339v9M1350 316.5h9M1354.5 312v9M1351 327.5h9M1355.5 323v9M1351 323.5h9M1355.5 319v9M1350 332.5h9M1354.5 328v9M1350 338.5h9M1354.5 334v9M1350 327.5h9M1354.5 323v9M1353 340.5h9M1357.5 336v9M1351 336.5h9M1355.5 332v9M1351 338.5h9M1355.5 334v9M1350 340.5h9M1354.5 336v9M1350 336.5h9M1354.5 332v9M1350 324.5h9M1354.5 320v9M1351 338.5h9M1355.5 334v9M1354 335.5h9M1358.5 331v9M1352 335.5h9M1356.5 331v9M1351 324.5h9M1355.5 320v9M1353 329.5h9M1357.5 325v9M1352 332.5h9M1356.5 328v9M1351 326.5h9M1355.5 322v9M1350 340.5h9M1354.5 336v9M1349 337.5h9M1353.5 333v9M1351 329.5h9M1355.5 325v9M1350 330.5h9M1354.5 326v9M1348 321.5h9M1352.5 317v9M1366 315.5h9M1370.5 311v9M1365 350.5h9M1369.5 346v9M1371 346.5h9M1375.5 342v9M1369 321.5h9M1373.5 317v9M1368 337.5h9M1372.5 333v9M1365 337.5h9M1369.5 333v9M1366 322.5h9M1370.5 318v9M1366 316.5h9M1370.5 312v9M1369 346.5h9M1373.5 342v9M1368 345.5h9M1372.5 341v9M1368 335.5h9M1372.5 331v9M1368 334.5h9M1372.5 330v9M1369 319.5h9M1373.5 315v9M1367 328.5h9M1371.5 324v9M1370 334.5h9M1374.5 330v9M1365 326.5h9M1369.5 322v9M1366 331.5h9M1370.5 327v9M1367 318.5h9M1371.5 314v9M1366 337.5h9M1370.5 333v9M1370 330.5h9M1374.5 326v9M1367 327.5h9M1371.5 323v9M1365 331.5h9M1369.5 327v9M1367 336.5h9M1371.5 332v9M1367 328.5h9M1371.5 324v9M1366 333.5h9M1370.5 329v9M1367 345.5h9M1371.5 341v9M1384 326.5h9M1388.5 322v9M1384 344.5h9M1388.5 340v9M1385 332.5h9M1389.5 328v9M1383 342.5h9M1387.5 338v9M1383 327.5h9M1387.5 323v9M1388 337.5h9M1392.5 333v9M1385 340.5h9M1389.5 336v9M1386 341.5h9M1390.5 337v9M1385 328.5h9M1389.5 324v9M1386 337.5h9M1390.5 333v9M1382 342.5h9M1386.5 338v9M1383 336.5h9M1387.5 332v9M1386 334.5h9M1390.5 330v9M1386 335.5h9M1390.5 331v9M1383 335.5h9M1387.5 331v9M1384 330.5h9M1388.5 326v9M1383 334.5h9M1387.5 330v9M1386 342.5h9M1390.5 338v9M1385 341.5h9M1389.5 337v9M1385 329.5h9M1389.5 325v9M1384 338.5h9M1388.5 334v9M1385 340.5h9M1389.5 336v9M1385 339.5h9M1389.5 335v9M1384 330.5h9M1388.5 326v9M1385 338.5h9M1389.5 334v9M1384 334.5h9M1388.5 330v9M1387 324.5h9M1391.5 320v9M1400 336.5h9M1404.5 332v9M1401 349.5h9M1405.5 345v9M1403 343.5h9M1407.5 339v9M1404 341.5h9M1408.5 337v9M1404 344.5h9M1408.5 340v9M1404 348.5h9M1408.5 344v9M1402 343.5h9M1406.5 339v9M1402 338.5h9M1406.5 334v9M1405 341.5h9M1409.5 337v9M1403 344.5h9M1407.5 340v9M1404 341.5h9M1408.5 337v9M1402 345.5h9M1406.5 341v9M1401 341.5h9M1405.5 337v9M1403 347.5h9M1407.5 343v9M1403 342.5h9M1407.5 338v9M1399 339.5h9M1403.5 335v9M1401 339.5h9M1405.5 335v9M1403 341.5h9M1407.5 337v9M1402 341.5h9M1406.5 337v9M1400 343.5h9M1404.5 339v9M1402 339.5h9M1406.5 335v9M1403 342.5h9M1407.5 338v9M1405 344.5h9M1409.5 340v9M1399 344.5h9M1403.5 340v9M1402 347.5h9M1406.5 343v9M1401 340.5h9M1405.5 336v9M1401 326.5h9M1405.5 322v9M1421 336.5h9M1425.5 332v9M1418 353.5h9M1422.5 349v9M1420 348.5h9M1424.5 344v9M1420 347.5h9M1424.5 343v9M1421 348.5h9M1425.5 344v9M1418 346.5h9M1422.5 342v9M1420 344.5h9M1424.5 340v9M1418 347.5h9M1422.5 343v9M1421 345.5h9M1425.5 341v9M1420 347.5h9M1424.5 343v9M1422 347.5h9M1426.5 343v9M1419 347.5h9M1423.5 343v9M1422 351.5h9M1426.5 347v9M1419 338.5h9M1423.5 334v9M1417 347.5h9M1421.5 343v9M1418 343.5h9M1422.5 339v9M1420 342.5h9M1424.5 338v9M1421 348.5h9M1425.5 344v9M1419 347.5h9M1423.5 343v9M1419 338.5h9M1423.5 334v9M1421 349.5h9M1425.5 345v9M1418 340.5h9M1422.5 336v9M1421 338.5h9M1425.5 334v9M1420 342.5h9M1424.5 338v9M1418 343.5h9M1422.5 339v9M1420 342.5h9M1424.5 338v9M1418 329.5h9M1422.5 325v9M1436 340.5h9M1440.5 336v9M1438 361.5h9M1442.5 357v9M1437 347.5h9M1441.5 343v9M1436 347.5h9M1440.5 343v9M1440 355.5h9M1444.5 351v9M1439 352.5h9M1443.5 348v9M1436 354.5h9M1440.5 350v9M1438 347.5h9M1442.5 343v9M1436 343.5h9M1440.5 339v9M1436 343.5h9M1440.5 339v9M1439 342.5h9M1443.5 338v9M1437 342.5h9M1441.5 338v9M1437 349.5h9M1441.5 345v9M1437 351.5h9M1441.5 347v9M1435 356.5h9M1439.5 352v9M1439 356.5h9M1443.5 352v9M1436 347.5h9M1440.5 343v9M1439 354.5h9M1443.5 350v9M1436 359.5h9M1440.5 355v9M1436 344.5h9M1440.5 340v9M1439 349.5h9M1443.5 345v9M1437 359.5h9M1441.5 355v9M1436 345.5h9M1440.5 341v9M1436 358.5h9M1440.5 354v9M1438 345.5h9M1442.5 341v9M1440 360.5h9M1444.5 356v9M1454 340.5h9M1458.5 336v9M1454 362.5h9M1458.5 358v9M1453 352.5h9M1457.5 348v9M1455 359.5h9M1459.5 355v9M1452 342.5h9M1456.5 338v9M1454 354.5h9M1458.5 350v9M1453 348.5h9M1457.5 344v9M1452 348.5h9M1456.5 344v9M1455 349.5h9M1459.5 345v9M1454 351.5h9M1458.5 347v9M1452 360.5h9M1456.5 356v9M1454 358.5h9M1458.5 354v9M1452 353.5h9M1456.5 349v9M1456 343.5h9M1460.5 339v9M1455 353.5h9M1459.5 349v9M1457 347.5h9M1461.5 343v9M1453 353.5h9M1457.5 349v9M1455 346.5h9M1459.5 342v9M1452 351.5h9M1456.5 347v9M1452 355.5h9M1456.5 351v9M1454 357.5h9M1458.5 353v9M1454 347.5h9M1458.5 343v9M1455 345.5h9M1459.5 341v9M1453 361.5h9M1457.5 357v9M1456 351.5h9M1460.5 347v9M1455 342.5h9M1459.5 338v9M1471 342.5h9M1475.5 338v9M1471 360.5h9M1475.5 356v9M1469 349.5h9M1473.5 345v9M1473 355.5h9M1477.5 351v9M1469 350.5h9M1473.5 346v9M1471 348.5h9M1475.5 344v9M1470 353.5h9M1474.5 349v9M1473 355.5h9M1477.5 351v9M1475 349.5h9M1479.5 345v9M1471 355.5h9M1475.5 351v9M1471 353.5h9M1475.5 349v9M1471 347.5h9M1475.5 343v9M1471 347.5h9M1475.5 343v9M1471 348.5h9M1475.5 344v9M1475 344.5h9M1479.5 340v9M1470 352.5h9M1474.5 348v9M1471 354.5h9M1475.5 350v9M1470 350.5h9M1474.5 346v9M1472 353.5h9M1476.5 349v9M1471 351.5h9M1475.5 347v9M1473 352.5h9M1477.5 348v9M1470 351.5h9M1474.5 347v9M1475 358.5h9M1479.5 354v9M1472 348.5h9M1476.5 344v9M1469 344.5h9M1473.5 340v9M1473 349.5h9M1477.5 345v9M1474 370.5h9M1478.5 366v9M1472 375.5h9M1476.5 371v9M1488 350.5h9M1492.5 346v9M1489 370.5h9M1493.5 366v9M1490 367.5h9M1494.5 363v9M1489 352.5h9M1493.5 348v9M1487 353.5h9M1491.5 349v9M1487 362.5h9M1491.5 358v9M1490 354.5h9M1494.5 350v9M1491 356.5h9M1495.5 352v9M1492 358.5h9M1496.5 354v9M1487 365.5h9M1491.5 361v9M1489 367.5h9M1493.5 363v9M1489 360.5h9M1493.5 356v9M1488 362.5h9M1492.5 358v9M1489 352.5h9M1493.5 348v9M1487 363.5h9M1491.5 359v9M1489 353.5h9M1493.5 349v9M1488 357.5h9M1492.5 353v9M1489 361.5h9M1493.5 357v9M1491 364.5h9M1495.5 360v9M1487 360.5h9M1491.5 356v9M1489 355.5h9M1493.5 351v9M1488 368.5h9M1492.5 364v9M1488 360.5h9M1492.5 356v9M1489 369.5h9M1493.5 365v9M1489 364.5h9M1493.5 360v9M1489 364.5h9M1493.5 360v9M1491 343.5h9M1495.5 339v9M1508 353.5h9M1512.5 349v9M1507 374.5h9M1511.5 370v9M1506 359.5h9M1510.5 355v9M1505 357.5h9M1509.5 353v9M1504 368.5h9M1508.5 364v9M1505 370.5h9M1509.5 366v9M1508 358.5h9M1512.5 354v9M1508 366.5h9M1512.5 362v9M1506 357.5h9M1510.5 353v9M1506 364.5h9M1510.5 360v9M1506 363.5h9M1510.5 359v9M1507 358.5h9M1511.5 354v9M1506 366.5h9M1510.5 362v9M1507 357.5h9M1511.5 353v9M1505 365.5h9M1509.5 361v9M1506 363.5h9M1510.5 359v9M1505 357.5h9M1509.5 353v9M1508 366.5h9M1512.5 362v9M1504 371.5h9M1508.5 367v9M1508 355.5h9M1512.5 351v9M1506 357.5h9M1510.5 353v9M1505 368.5h9M1509.5 364v9M1506 367.5h9M1510.5 363v9M1506 365.5h9M1510.5 361v9M1506 360.5h9M1510.5 356v9M1507 363.5h9M1511.5 359v9M1504 412.5h9M1508.5 408v9M1523 366.5h9M1527.5 362v9M1524 391.5h9M1528.5 387v9M1523 383.5h9M1527.5 379v9M1522 368.5h9M1526.5 364v9M1524 388.5h9M1528.5 384v9M1522 374.5h9M1526.5 370v9M1521 388.5h9M1525.5 384v9M1522 371.5h9M1526.5 367v9M1525 381.5h9M1529.5 377v9M1525 374.5h9M1529.5 370v9M1527 387.5h9M1531.5 383v9M1525 382.5h9M1529.5 378v9M1526 379.5h9M1530.5 375v9M1524 374.5h9M1528.5 370v9M1523 376.5h9M1527.5 372v9M1524 384.5h9M1528.5 380v9M1522 382.5h9M1526.5 378v9M1524 388.5h9M1528.5 384v9M1523 379.5h9M1527.5 375v9M1524 375.5h9M1528.5 371v9M1522 383.5h9M1526.5 379v9M1523 379.5h9M1527.5 375v9M1525 381.5h9M1529.5 377v9M1523 377.5h9M1527.5 373v9M1522 374.5h9M1526.5 370v9M1524 377.5h9M1528.5 373v9M1543 369.5h9M1547.5 365v9M1544 391.5h9M1548.5 387v9M1543 376.5h9M1547.5 372v9M1539 388.5h9M1543.5 384v9M1542 385.5h9M1546.5 381v9M1541 373.5h9M1545.5 369v9M1540 379.5h9M1544.5 375v9M1543 382.5h9M1547.5 378v9M1542 386.5h9M1546.5 382v9M1539 373.5h9M1543.5 369v9M1539 387.5h9M1543.5 383v9M1540 381.5h9M1544.5 377v9M1543 371.5h9M1547.5 367v9M1541 388.5h9M1545.5 384v9M1542 382.5h9M1546.5 378v9M1540 376.5h9M1544.5 372v9M1543 385.5h9M1547.5 381v9M1540 378.5h9M1544.5 374v9M1542 380.5h9M1546.5 376v9M1540 373.5h9M1544.5 369v9M1540 372.5h9M1544.5 368v9M1541 374.5h9M1545.5 370v9M1539 387.5h9M1543.5 383v9M1541 375.5h9M1545.5 371v9M1541 386.5h9M1545.5 382v9M1539 385.5h9M1543.5 381v9M1541 400.5h9M1545.5 396v9M1561 376.5h9M1565.5 372v9M1557 396.5h9M1561.5 392v9M1559 386.5h9M1563.5 382v9M1557 385.5h9M1561.5 381v9M1558 384.5h9M1562.5 380v9M1556 390.5h9M1560.5 386v9M1557 385.5h9M1561.5 381v9M1559 391.5h9M1563.5 387v9M1559 384.5h9M1563.5 380v9M1555 385.5h9M1559.5 381v9M1559 382.5h9M1563.5 378v9M1556 388.5h9M1560.5 384v9M1558 392.5h9M1562.5 388v9M1559 389.5h9M1563.5 385v9M1557 386.5h9M1561.5 382v9M1558 385.5h9M1562.5 381v9M1558 393.5h9M1562.5 389v9M1559 385.5h9M1563.5 381v9M1559 389.5h9M1563.5 385v9M1560 385.5h9M1564.5 381v9M1559 380.5h9M1563.5 376v9M1561 390.5h9M1565.5 386v9M1557 393.5h9M1561.5 389v9M1561 389.5h9M1565.5 385v9M1558 387.5h9M1562.5 383v9M1559 395.5h9M1563.5 391v9M1558 368.5h9M1562.5 364v9M1573 394.5h9M1577.5 390v9M1577 414.5h9M1581.5 410v9M1574 396.5h9M1578.5 392v9M1573 402.5h9M1577.5 398v9M1572 410.5h9M1576.5 406v9M1576 396.5h9M1580.5 392v9M1573 404.5h9M1577.5 400v9M1573 397.5h9M1577.5 393v9M1576 408.5h9M1580.5 404v9M1575 400.5h9M1579.5 396v9M1576 412.5h9M1580.5 408v9M1573 412.5h9M1577.5 408v9M1573 404.5h9M1577.5 400v9M1575 410.5h9M1579.5 406v9M1578 407.5h9M1582.5 403v9M1576 402.5h9M1580.5 398v9M1575 397.5h9M1579.5 393v9M1576 405.5h9M1580.5 401v9M1577 402.5h9M1581.5 398v9M1573 407.5h9M1577.5 403v9M1578 405.5h9M1582.5 401v9M1577 396.5h9M1581.5 392v9M1575 407.5h9M1579.5 403v9M1576 411.5h9M1580.5 407v9M1573 397.5h9M1577.5 393v9M1577 407.5h9M1581.5 403v9M1591 391.5h9M1595.5 387v9M1591 413.5h9M1595.5 409v9M1591 394.5h9M1595.5 390v9M1594 402.5h9M1598.5 398v9M1590 410.5h9M1594.5 406v9M1593 408.5h9M1597.5 404v9M1591 398.5h9M1595.5 394v9M1590 402.5h9M1594.5 398v9M1591 405.5h9M1595.5 401v9M1591 400.5h9M1595.5 396v9M1594 404.5h9M1598.5 400v9M1591 404.5h9M1595.5 400v9M1591 395.5h9M1595.5 391v9M1589 401.5h9M1593.5 397v9M1591 407.5h9M1595.5 403v9M1589 400.5h9M1593.5 396v9M1590 408.5h9M1594.5 404v9M1589 404.5h9M1593.5 400v9M1590 403.5h9M1594.5 399v9M1593 402.5h9M1597.5 398v9M1592 395.5h9M1596.5 391v9M1589 402.5h9M1593.5 398v9M1591 400.5h9M1595.5 396v9M1594 400.5h9M1598.5 396v9M1591 412.5h9M1595.5 408v9M1589 409.5h9M1593.5 405v9M1609 399.5h9M1613.5 395v9M1610 418.5h9M1614.5 414v9M1611 410.5h9M1615.5 406v9M1607 409.5h9M1611.5 405v9M1610 414.5h9M1614.5 410v9M1613 413.5h9M1617.5 409v9M1610 411.5h9M1614.5 407v9M1609 408.5h9M1613.5 404v9M1613 407.5h9M1617.5 403v9M1610 412.5h9M1614.5 408v9M1610 405.5h9M1614.5 401v9M1609 406.5h9M1613.5 402v9M1610 411.5h9M1614.5 407v9M1607 409.5h9M1611.5 405v9M1608 406.5h9M1612.5 402v9M1607 409.5h9M1611.5 405v9M1611 409.5h9M1615.5 405v9M1609 408.5h9M1613.5 404v9M1611 408.5h9M1615.5 404v9M1606 414.5h9M1610.5 410v9M1609 409.5h9M1613.5 405v9M1612 413.5h9M1616.5 409v9M1608 403.5h9M1612.5 399v9M1607 412.5h9M1611.5 408v9M1608 410.5h9M1612.5 406v9M1609 413.5h9M1613.5 409v9M1612 424.5h9M1616.5 420v9M1608 428.5h9M1612.5 424v9M1629 456.5h9M1633.5 452v9M1627 468.5h9M1631.5 464v9M1626 462.5h9M1630.5 458v9M1625 465.5h9M1629.5 461v9M1630 462.5h9M1634.5 458v9M1629 467.5h9M1633.5 463v9M1627 464.5h9M1631.5 460v9M1625 461.5h9M1629.5 457v9M1626 464.5h9M1630.5 460v9M1628 463.5h9M1632.5 459v9M1629 463.5h9M1633.5 459v9M1629 465.5h9M1633.5 461v9M1629 458.5h9M1633.5 454v9M1628 463.5h9M1632.5 459v9M1627 463.5h9M1631.5 459v9M1625 460.5h9M1629.5 456v9M1630 464.5h9M1634.5 460v9M1626 458.5h9M1630.5 454v9M1628 460.5h9M1632.5 456v9M1629 460.5h9M1633.5 456v9M1625 463.5h9M1629.5 459v9M1627 458.5h9M1631.5 454v9M1628 461.5h9M1632.5 457v9M1626 460.5h9M1630.5 456v9M1626 463.5h9M1630.5 459v9M1630 465.5h9M1634.5 461v9M1627 447.5h9M1631.5 443v9M1630 474.5h9M1634.5 470v9M1624 762.5h9M1628.5 758v9M1625 771.5h9M1629.5 767v9M1625 859.5h9M1629.5 855v9" fill="none" stroke="#0000ff" stroke-width="1.1"/>
<g fill="none" stroke-width="1">
<path d="M248 259.6H1723" stroke="#ff0000"/>
<path d="M248 434.4H1723" stroke="#ff0000"/>
<path d="M248 303.3H1723" stroke="#0000ff"/>
<path d="M248 390.7H1723" stroke="#0000ff"/>
<path d="M248 347.2H1723" stroke="#1a1a1a" stroke-dasharray="1 3"/>
<path d="M622 878V188.86" stroke="#ff0000" stroke-dasharray="10 6"/>
</g>
<g font-size="13.33px" fill="#262626" letter-spacing="0.2">
<text x="243" y="884.2" text-anchor="end">0.17</text><text x="243" y="769.3" text-anchor="end">0.1702</text><text x="243" y="654.5" text-anchor="end">0.1704</text><text x="243" y="539.6" text-anchor="end">0.1706</text><text x="243" y="424.8" text-anchor="end">0.1708</text><text x="243" y="309.9" text-anchor="end">0.171</text><text x="243" y="195.1" text-anchor="end">0.1712</text><text x="243" y="80.2" text-anchor="end">0.1714</text>
<text x="248" y="897" text-anchor="middle">0</text><text x="543" y="897" text-anchor="middle">5</text><text x="838" y="897" text-anchor="middle">10</text><text x="1133" y="897" text-anchor="middle">15</text><text x="1428" y="897" text-anchor="middle">20</text><text x="1723" y="897" text-anchor="middle">25</text>
</g>
<text x="985.5" y="67.2" text-anchor="middle" font-size="14.67px" font-weight="bold" fill="#000">Verification Pulse Integral vs Time Run 251</text>
<text x="986.3" y="916.8" text-anchor="middle" font-size="14.67px" fill="#262626" letter-spacing="0.2">Time (Hours)</text>
<text transform="translate(194 476) rotate(-90)" text-anchor="middle" font-size="14.67px" fill="#262626" letter-spacing="0.1">Verification Pulse Integral (Vsec)</text>
<text x="636.7" y="222.9" font-size="13.33px" fill="#ff0000" letter-spacing="0.22">Midnight</text>
<g font-size="13.33px" fill="#000" letter-spacing="0.1">
<text x="986" y="243.6">Mean =0.17092Vs</text>
<text x="986" y="252.5">Std =7.613e-05Vs</text>
<text x="986" y="257.9">Error =0.0004454</text>
</g>
</svg>
</body></html>
